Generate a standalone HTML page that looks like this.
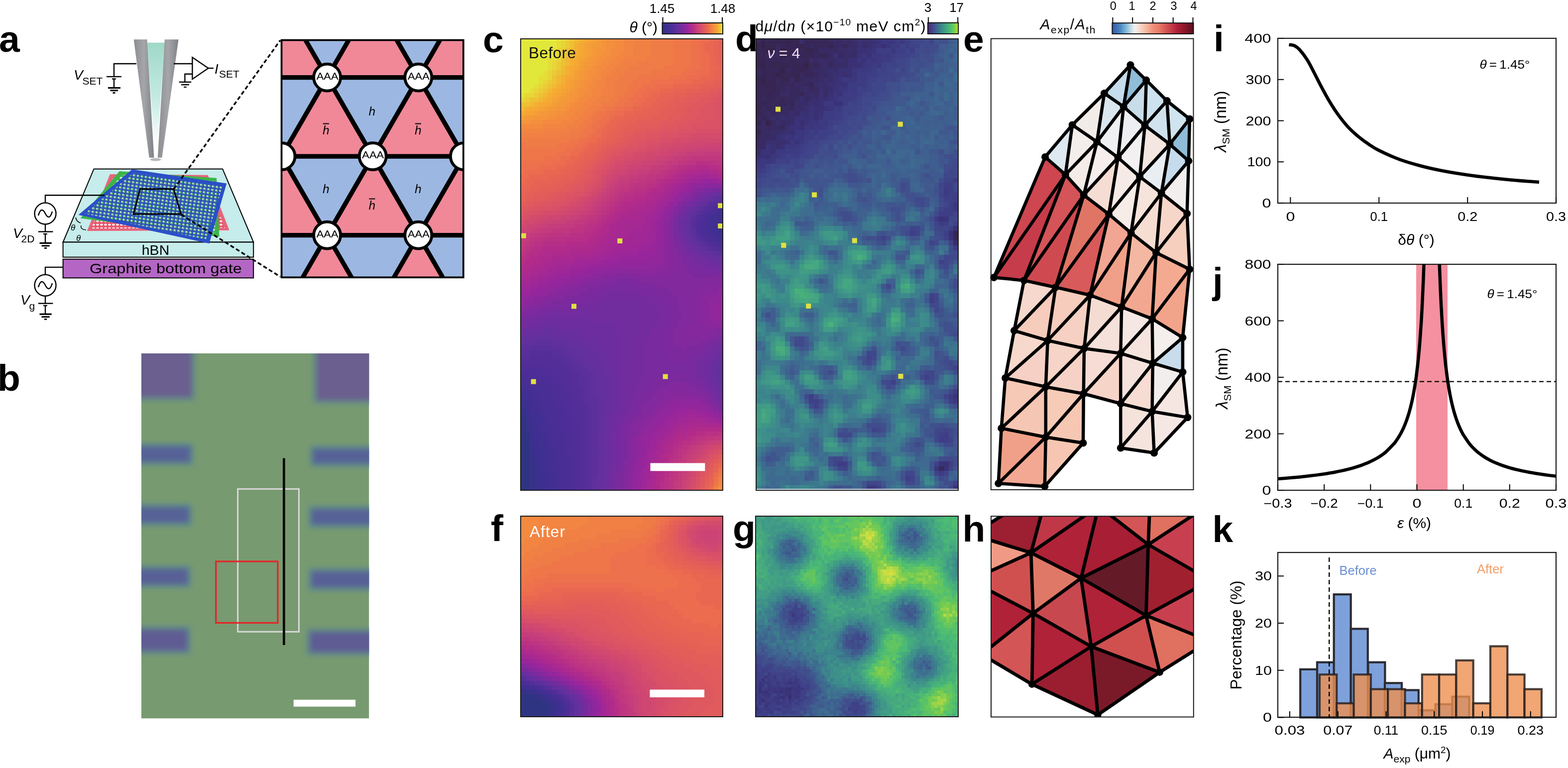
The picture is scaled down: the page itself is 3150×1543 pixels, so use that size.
<!DOCTYPE html>
<html><head><meta charset="utf-8"><title>Figure</title>
<style>html,body{margin:0;padding:0;background:#fff;overflow:hidden}svg{display:block}text{font-family:'Liberation Sans', 'DejaVu Sans', sans-serif}</style>
</head><body>
<svg width="3150" height="1543" viewBox="0 0 3150 1543">
<rect width="3150" height="1543" fill="#fff"/>
<text x="-2" y="104" font-size="75" font-weight="bold">a</text>
<text x="-5" y="785" font-size="75" font-weight="bold">b</text>
<text x="970" y="105" font-size="75" font-weight="bold">c</text>
<text x="1477" y="103.4" font-size="75" font-weight="bold">d</text>
<text x="1935" y="103.8" font-size="75" font-weight="bold">e</text>
<text x="986" y="1087.3" font-size="75" font-weight="bold">f</text>
<text x="1472" y="1086.5" font-size="75" font-weight="bold">g</text>
<text x="1933.5" y="1087.5" font-size="75" font-weight="bold">h</text>
<text x="2438" y="103" font-size="75" font-weight="bold">i</text>
<text x="2436" y="590" font-size="75" font-weight="bold">j</text>
<text x="2435.5" y="1089" font-size="75" font-weight="bold">k</text>
<clipPath id="cpa"><rect x="565.6" y="80.6" width="365.3" height="476.7"/></clipPath>
<g clip-path="url(#cpa)">
<polygon points="107.6,-161.4 16,-2.9 199.2,-2.9" fill="#f08898"/>
<polygon points="107.6,-161.4 290.8,-161.4 199.2,-2.9" fill="#9cb8e2"/>
<polygon points="290.8,-161.4 199.2,-2.9 382.4,-2.9" fill="#f08898"/>
<polygon points="290.8,-161.4 474,-161.4 382.4,-2.9" fill="#9cb8e2"/>
<polygon points="474,-161.4 382.4,-2.9 565.6,-2.9" fill="#f08898"/>
<polygon points="474,-161.4 657.2,-161.4 565.6,-2.9" fill="#9cb8e2"/>
<polygon points="657.2,-161.4 565.6,-2.9 748.8,-2.9" fill="#f08898"/>
<polygon points="657.2,-161.4 840.4,-161.4 748.8,-2.9" fill="#9cb8e2"/>
<polygon points="840.4,-161.4 748.8,-2.9 932,-2.9" fill="#f08898"/>
<polygon points="840.4,-161.4 1023.6,-161.4 932,-2.9" fill="#9cb8e2"/>
<polygon points="1023.6,-161.4 932,-2.9 1115.2,-2.9" fill="#f08898"/>
<polygon points="1023.6,-161.4 1206.8,-161.4 1115.2,-2.9" fill="#9cb8e2"/>
<polygon points="1206.8,-161.4 1115.2,-2.9 1298.4,-2.9" fill="#f08898"/>
<polygon points="1206.8,-161.4 1390,-161.4 1298.4,-2.9" fill="#9cb8e2"/>
<polygon points="1390,-161.4 1298.4,-2.9 1481.6,-2.9" fill="#f08898"/>
<polygon points="1390,-161.4 1573.2,-161.4 1481.6,-2.9" fill="#9cb8e2"/>
<polygon points="16,-2.9 -75.6,155.6 107.6,155.6" fill="#f08898"/>
<polygon points="16,-2.9 199.2,-2.9 107.6,155.6" fill="#9cb8e2"/>
<polygon points="199.2,-2.9 107.6,155.6 290.8,155.6" fill="#f08898"/>
<polygon points="199.2,-2.9 382.4,-2.9 290.8,155.6" fill="#9cb8e2"/>
<polygon points="382.4,-2.9 290.8,155.6 474,155.6" fill="#f08898"/>
<polygon points="382.4,-2.9 565.6,-2.9 474,155.6" fill="#9cb8e2"/>
<polygon points="565.6,-2.9 474,155.6 657.2,155.6" fill="#f08898"/>
<polygon points="565.6,-2.9 748.8,-2.9 657.2,155.6" fill="#9cb8e2"/>
<polygon points="748.8,-2.9 657.2,155.6 840.4,155.6" fill="#f08898"/>
<polygon points="748.8,-2.9 932,-2.9 840.4,155.6" fill="#9cb8e2"/>
<polygon points="932,-2.9 840.4,155.6 1023.6,155.6" fill="#f08898"/>
<polygon points="932,-2.9 1115.2,-2.9 1023.6,155.6" fill="#9cb8e2"/>
<polygon points="1115.2,-2.9 1023.6,155.6 1206.8,155.6" fill="#f08898"/>
<polygon points="1115.2,-2.9 1298.4,-2.9 1206.8,155.6" fill="#9cb8e2"/>
<polygon points="1298.4,-2.9 1206.8,155.6 1390,155.6" fill="#f08898"/>
<polygon points="1298.4,-2.9 1481.6,-2.9 1390,155.6" fill="#9cb8e2"/>
<polygon points="107.6,155.6 16,314.1 199.2,314.1" fill="#f08898"/>
<polygon points="107.6,155.6 290.8,155.6 199.2,314.1" fill="#9cb8e2"/>
<polygon points="290.8,155.6 199.2,314.1 382.4,314.1" fill="#f08898"/>
<polygon points="290.8,155.6 474,155.6 382.4,314.1" fill="#9cb8e2"/>
<polygon points="474,155.6 382.4,314.1 565.6,314.1" fill="#f08898"/>
<polygon points="474,155.6 657.2,155.6 565.6,314.1" fill="#9cb8e2"/>
<polygon points="657.2,155.6 565.6,314.1 748.8,314.1" fill="#f08898"/>
<polygon points="657.2,155.6 840.4,155.6 748.8,314.1" fill="#9cb8e2"/>
<polygon points="840.4,155.6 748.8,314.1 932,314.1" fill="#f08898"/>
<polygon points="840.4,155.6 1023.6,155.6 932,314.1" fill="#9cb8e2"/>
<polygon points="1023.6,155.6 932,314.1 1115.2,314.1" fill="#f08898"/>
<polygon points="1023.6,155.6 1206.8,155.6 1115.2,314.1" fill="#9cb8e2"/>
<polygon points="1206.8,155.6 1115.2,314.1 1298.4,314.1" fill="#f08898"/>
<polygon points="1206.8,155.6 1390,155.6 1298.4,314.1" fill="#9cb8e2"/>
<polygon points="1390,155.6 1298.4,314.1 1481.6,314.1" fill="#f08898"/>
<polygon points="1390,155.6 1573.2,155.6 1481.6,314.1" fill="#9cb8e2"/>
<polygon points="16,314.1 -75.6,472.6 107.6,472.6" fill="#f08898"/>
<polygon points="16,314.1 199.2,314.1 107.6,472.6" fill="#9cb8e2"/>
<polygon points="199.2,314.1 107.6,472.6 290.8,472.6" fill="#f08898"/>
<polygon points="199.2,314.1 382.4,314.1 290.8,472.6" fill="#9cb8e2"/>
<polygon points="382.4,314.1 290.8,472.6 474,472.6" fill="#f08898"/>
<polygon points="382.4,314.1 565.6,314.1 474,472.6" fill="#9cb8e2"/>
<polygon points="565.6,314.1 474,472.6 657.2,472.6" fill="#f08898"/>
<polygon points="565.6,314.1 748.8,314.1 657.2,472.6" fill="#9cb8e2"/>
<polygon points="748.8,314.1 657.2,472.6 840.4,472.6" fill="#f08898"/>
<polygon points="748.8,314.1 932,314.1 840.4,472.6" fill="#9cb8e2"/>
<polygon points="932,314.1 840.4,472.6 1023.6,472.6" fill="#f08898"/>
<polygon points="932,314.1 1115.2,314.1 1023.6,472.6" fill="#9cb8e2"/>
<polygon points="1115.2,314.1 1023.6,472.6 1206.8,472.6" fill="#f08898"/>
<polygon points="1115.2,314.1 1298.4,314.1 1206.8,472.6" fill="#9cb8e2"/>
<polygon points="1298.4,314.1 1206.8,472.6 1390,472.6" fill="#f08898"/>
<polygon points="1298.4,314.1 1481.6,314.1 1390,472.6" fill="#9cb8e2"/>
<polygon points="107.6,472.6 16,631.1 199.2,631.1" fill="#f08898"/>
<polygon points="107.6,472.6 290.8,472.6 199.2,631.1" fill="#9cb8e2"/>
<polygon points="290.8,472.6 199.2,631.1 382.4,631.1" fill="#f08898"/>
<polygon points="290.8,472.6 474,472.6 382.4,631.1" fill="#9cb8e2"/>
<polygon points="474,472.6 382.4,631.1 565.6,631.1" fill="#f08898"/>
<polygon points="474,472.6 657.2,472.6 565.6,631.1" fill="#9cb8e2"/>
<polygon points="657.2,472.6 565.6,631.1 748.8,631.1" fill="#f08898"/>
<polygon points="657.2,472.6 840.4,472.6 748.8,631.1" fill="#9cb8e2"/>
<polygon points="840.4,472.6 748.8,631.1 932,631.1" fill="#f08898"/>
<polygon points="840.4,472.6 1023.6,472.6 932,631.1" fill="#9cb8e2"/>
<polygon points="1023.6,472.6 932,631.1 1115.2,631.1" fill="#f08898"/>
<polygon points="1023.6,472.6 1206.8,472.6 1115.2,631.1" fill="#9cb8e2"/>
<polygon points="1206.8,472.6 1115.2,631.1 1298.4,631.1" fill="#f08898"/>
<polygon points="1206.8,472.6 1390,472.6 1298.4,631.1" fill="#9cb8e2"/>
<polygon points="1390,472.6 1298.4,631.1 1481.6,631.1" fill="#f08898"/>
<polygon points="1390,472.6 1573.2,472.6 1481.6,631.1" fill="#9cb8e2"/>
<line x1="555.6" y1="-161.4" x2="940.9" y2="-161.4" stroke="#000" stroke-width="9.2" />
<line x1="555.6" y1="-2.9" x2="940.9" y2="-2.9" stroke="#000" stroke-width="9.2" />
<line x1="555.6" y1="155.6" x2="940.9" y2="155.6" stroke="#000" stroke-width="9.2" />
<line x1="555.6" y1="314.1" x2="940.9" y2="314.1" stroke="#000" stroke-width="9.2" />
<line x1="555.6" y1="472.6" x2="940.9" y2="472.6" stroke="#000" stroke-width="9.2" />
<line x1="555.6" y1="631.1" x2="940.9" y2="631.1" stroke="#000" stroke-width="9.2" />
<line x1="-942" y1="-709.6" x2="58" y2="1020.8" stroke="#000" stroke-width="9.2" />
<line x1="58" y1="-709.6" x2="-942" y2="1020.8" stroke="#000" stroke-width="9.2" />
<line x1="-758.8" y1="-709.6" x2="241.2" y2="1020.8" stroke="#000" stroke-width="9.2" />
<line x1="241.2" y1="-709.6" x2="-758.8" y2="1020.8" stroke="#000" stroke-width="9.2" />
<line x1="-575.6" y1="-709.6" x2="424.4" y2="1020.8" stroke="#000" stroke-width="9.2" />
<line x1="424.4" y1="-709.6" x2="-575.6" y2="1020.8" stroke="#000" stroke-width="9.2" />
<line x1="-392.4" y1="-709.6" x2="607.6" y2="1020.8" stroke="#000" stroke-width="9.2" />
<line x1="607.6" y1="-709.6" x2="-392.4" y2="1020.8" stroke="#000" stroke-width="9.2" />
<line x1="-209.2" y1="-709.6" x2="790.8" y2="1020.8" stroke="#000" stroke-width="9.2" />
<line x1="790.8" y1="-709.6" x2="-209.2" y2="1020.8" stroke="#000" stroke-width="9.2" />
<line x1="-26" y1="-709.6" x2="974" y2="1020.8" stroke="#000" stroke-width="9.2" />
<line x1="974" y1="-709.6" x2="-26" y2="1020.8" stroke="#000" stroke-width="9.2" />
<line x1="157.2" y1="-709.6" x2="1157.2" y2="1020.8" stroke="#000" stroke-width="9.2" />
<line x1="1157.2" y1="-709.6" x2="157.2" y2="1020.8" stroke="#000" stroke-width="9.2" />
<line x1="340.4" y1="-709.6" x2="1340.4" y2="1020.8" stroke="#000" stroke-width="9.2" />
<line x1="1340.4" y1="-709.6" x2="340.4" y2="1020.8" stroke="#000" stroke-width="9.2" />
<line x1="523.6" y1="-709.6" x2="1523.6" y2="1020.8" stroke="#000" stroke-width="9.2" />
<line x1="1523.6" y1="-709.6" x2="523.6" y2="1020.8" stroke="#000" stroke-width="9.2" />
<line x1="706.8" y1="-709.6" x2="1706.8" y2="1020.8" stroke="#000" stroke-width="9.2" />
<line x1="1706.8" y1="-709.6" x2="706.8" y2="1020.8" stroke="#000" stroke-width="9.2" />
<line x1="890" y1="-709.6" x2="1890" y2="1020.8" stroke="#000" stroke-width="9.2" />
<line x1="1890" y1="-709.6" x2="890" y2="1020.8" stroke="#000" stroke-width="9.2" />
<line x1="1073.2" y1="-709.6" x2="2073.2" y2="1020.8" stroke="#000" stroke-width="9.2" />
<line x1="2073.2" y1="-709.6" x2="1073.2" y2="1020.8" stroke="#000" stroke-width="9.2" />
<line x1="1256.4" y1="-709.6" x2="2256.4" y2="1020.8" stroke="#000" stroke-width="9.2" />
<line x1="2256.4" y1="-709.6" x2="1256.4" y2="1020.8" stroke="#000" stroke-width="9.2" />
<line x1="1439.6" y1="-709.6" x2="2439.6" y2="1020.8" stroke="#000" stroke-width="9.2" />
<line x1="2439.6" y1="-709.6" x2="1439.6" y2="1020.8" stroke="#000" stroke-width="9.2" />
<circle cx="199.2" cy="-2.9" r="27" fill="#fff" stroke="#000" stroke-width="5.8"/>
<circle cx="382.4" cy="-2.9" r="27" fill="#fff" stroke="#000" stroke-width="5.8"/>
<circle cx="565.6" cy="-2.9" r="27" fill="#fff" stroke="#000" stroke-width="5.8"/>
<circle cx="748.8" cy="-2.9" r="27" fill="#fff" stroke="#000" stroke-width="5.8"/>
<circle cx="932" cy="-2.9" r="27" fill="#fff" stroke="#000" stroke-width="5.8"/>
<circle cx="1115.2" cy="-2.9" r="27" fill="#fff" stroke="#000" stroke-width="5.8"/>
<circle cx="290.8" cy="155.6" r="27" fill="#fff" stroke="#000" stroke-width="5.8"/>
<circle cx="474" cy="155.6" r="27" fill="#fff" stroke="#000" stroke-width="5.8"/>
<circle cx="657.2" cy="155.6" r="27" fill="#fff" stroke="#000" stroke-width="5.8"/>
<text x="657.7" y="159.8" font-size="21" text-anchor="middle" textLength="44" lengthAdjust="spacingAndGlyphs">AAA</text>
<circle cx="840.4" cy="155.6" r="27" fill="#fff" stroke="#000" stroke-width="5.8"/>
<text x="840.9" y="159.8" font-size="21" text-anchor="middle" textLength="44" lengthAdjust="spacingAndGlyphs">AAA</text>
<circle cx="1023.6" cy="155.6" r="27" fill="#fff" stroke="#000" stroke-width="5.8"/>
<circle cx="1206.8" cy="155.6" r="27" fill="#fff" stroke="#000" stroke-width="5.8"/>
<circle cx="199.2" cy="314.1" r="27" fill="#fff" stroke="#000" stroke-width="5.8"/>
<circle cx="382.4" cy="314.1" r="27" fill="#fff" stroke="#000" stroke-width="5.8"/>
<circle cx="565.6" cy="314.1" r="27" fill="#fff" stroke="#000" stroke-width="5.8"/>
<circle cx="748.8" cy="314.1" r="27" fill="#fff" stroke="#000" stroke-width="5.8"/>
<text x="749.3" y="318.3" font-size="21" text-anchor="middle" textLength="44" lengthAdjust="spacingAndGlyphs">AAA</text>
<circle cx="932" cy="314.1" r="27" fill="#fff" stroke="#000" stroke-width="5.8"/>
<circle cx="1115.2" cy="314.1" r="27" fill="#fff" stroke="#000" stroke-width="5.8"/>
<circle cx="290.8" cy="472.6" r="27" fill="#fff" stroke="#000" stroke-width="5.8"/>
<circle cx="474" cy="472.6" r="27" fill="#fff" stroke="#000" stroke-width="5.8"/>
<circle cx="657.2" cy="472.6" r="27" fill="#fff" stroke="#000" stroke-width="5.8"/>
<text x="657.7" y="476.8" font-size="21" text-anchor="middle" textLength="44" lengthAdjust="spacingAndGlyphs">AAA</text>
<circle cx="840.4" cy="472.6" r="27" fill="#fff" stroke="#000" stroke-width="5.8"/>
<text x="840.9" y="476.8" font-size="21" text-anchor="middle" textLength="44" lengthAdjust="spacingAndGlyphs">AAA</text>
<circle cx="1023.6" cy="472.6" r="27" fill="#fff" stroke="#000" stroke-width="5.8"/>
<circle cx="1206.8" cy="472.6" r="27" fill="#fff" stroke="#000" stroke-width="5.8"/>
<text x="747.5" y="232" font-size="24" text-anchor="middle" font-style="italic">h</text>
<text x="655" y="270" font-size="24" text-anchor="middle" font-style="italic">h</text>
<line x1="649" y1="248.5" x2="661" y2="248.5" stroke="#000" stroke-width="2.2" />
<text x="840" y="270" font-size="24" text-anchor="middle" font-style="italic">h</text>
<line x1="834" y1="248.5" x2="846" y2="248.5" stroke="#000" stroke-width="2.2" />
<text x="655" y="387.5" font-size="24" text-anchor="middle" font-style="italic">h</text>
<text x="840" y="387.5" font-size="24" text-anchor="middle" font-style="italic">h</text>
<text x="747.5" y="421" font-size="24" text-anchor="middle" font-style="italic">h</text>
<line x1="741.5" y1="399.5" x2="753.5" y2="399.5" stroke="#000" stroke-width="2.2" />
</g>
<rect x="565.6" y="80.6" width="365.3" height="476.7" fill="none" stroke="#000" stroke-width="3.7"/>
<linearGradient id="tipg" x1="0" y1="0" x2="1" y2="0">
<stop offset="0" stop-color="#8d8e92"/><stop offset="0.5" stop-color="#a5a6aa"/><stop offset="1" stop-color="#7e8085"/></linearGradient>
<linearGradient id="tipc" x1="0" y1="0" x2="0" y2="1">
<stop offset="0" stop-color="#9fd9c8"/><stop offset="0.55" stop-color="#c5ebe2"/><stop offset="1" stop-color="#ffffff"/></linearGradient>
<polygon points="295.5,85.7 330.8,85.7 316,290 310,290" fill="url(#tipc)"/>
<polygon points="268.7,79.3 295.5,79.3 309.4,316.8 299.7,316.8" fill="url(#tipg)"/>
<polygon points="330.8,79.3 358.6,79.3 325.4,316.8 316.9,316.8" fill="url(#tipg)"/>
<ellipse cx="312.6" cy="320.6" rx="11" ry="3" fill="#b8b9bc"/>
<polyline points="274,128 229,128 229,154" fill="none" stroke="#000" stroke-width="2.4" />
<line x1="214" y1="154" x2="244" y2="154" stroke="#000" stroke-width="2.4" />
<line x1="225" y1="158.5" x2="233" y2="158.5" stroke="#000" stroke-width="2.4" />
<line x1="229" y1="158.5" x2="229" y2="176.6" stroke="#000" stroke-width="2.4" />
<line x1="217" y1="176.6" x2="242" y2="176.6" stroke="#000" stroke-width="3.2" />
<line x1="221.5" y1="181.8" x2="237" y2="181.8" stroke="#000" stroke-width="3" />
<line x1="226.5" y1="186.6" x2="231.5" y2="186.6" stroke="#000" stroke-width="3" />
<text x="148" y="159.5" font-size="28" font-style="italic">V</text>
<text x="165.5" y="169.8" font-size="21">SET</text>
<line x1="349" y1="128" x2="386.4" y2="128" stroke="#000" stroke-width="2.4" />
<polygon points="386.4,115.2 386.4,158.9 418.5,137" fill="none" stroke="#000" stroke-width="2.4"/>
<line x1="418.5" y1="137" x2="429" y2="137" stroke="#000" stroke-width="2.4" />
<polyline points="386.4,148.8 371.4,148.8 371.4,164.9" fill="none" stroke="#000" stroke-width="2.4" />
<line x1="359.7" y1="164.9" x2="384.3" y2="164.9" stroke="#000" stroke-width="2.4" />
<line x1="364" y1="170.2" x2="380" y2="170.2" stroke="#000" stroke-width="2.4" />
<line x1="369.3" y1="175" x2="374.6" y2="175" stroke="#000" stroke-width="2.4" />
<text x="431" y="147.7" font-size="28" font-style="italic">I</text>
<text x="440" y="156.3" font-size="21">SET</text>
<polygon points="188.6,339.4 447.2,339.4 509.2,486.5 126.6,486.5" fill="#c6eceb" stroke="#000" stroke-width="2"/>
<rect x="126.6" y="486.5" width="382.6" height="30.2" fill="#c6eceb" stroke="#000" stroke-width="2"/>
<text x="312.5" y="512.3" font-size="28.5" text-anchor="middle">hBN</text>
<rect x="126.6" y="520.7" width="382.6" height="37.7" fill="#b466c4" stroke="#000" stroke-width="2"/>
<text x="180" y="549" font-size="27.3" textLength="306" lengthAdjust="spacingAndGlyphs">Graphite bottom gate</text>
<polygon points="221,350 417.6,351.8 460.7,462.8 175,464" fill="#e8647a"/>
<pattern id="holesR" patternUnits="userSpaceOnUse" width="8" height="7"><rect width="8" height="7" fill="#e8546a"/><ellipse cx="4" cy="3.5" rx="2.8" ry="1.9" fill="#fbeef0"/></pattern>
<pattern id="holesG" patternUnits="userSpaceOnUse" width="8" height="7" patternTransform="rotate(4)"><rect width="8" height="7" fill="#3cb44a"/><ellipse cx="4" cy="3.5" rx="2.8" ry="1.9" fill="#f2f8f0"/></pattern>
<polygon points="228,356 412,358 452,458 183,459" fill="url(#holesR)"/>
<polygon points="239.8,344 435,357.7 440.5,475.7 161.6,438.5" fill="#3cb44a"/>
<polygon points="246,351 429,364 434,468 171,435" fill="url(#holesG)"/>
<pattern id="holes" patternUnits="userSpaceOnUse" width="8" height="7" patternTransform="rotate(8)">
<rect width="8" height="7" fill="#2f4fc0"/><ellipse cx="4" cy="3.5" rx="2.8" ry="2.3" fill="#5fbf6a"/><ellipse cx="3" cy="3" rx="1.4" ry="1.2" fill="#f4f4f4"/></pattern>
<polygon points="265.4,340.2 455.3,368.5 420.3,489.2 157.6,431.8" fill="#2a4fc8"/>
<polygon points="268,347 447,373.5 414,481 170,429" fill="url(#holes)"/>
<polygon points="281.5,379.8 348.9,379.8 363.7,429.9 268,429.9" fill="none" stroke="#000" stroke-width="3"/>
<text x="142" y="463" font-size="17" font-style="italic">θ</text>
<text x="153" y="484" font-size="17" font-style="italic">θ</text>
<path d="M152,437 q2,9 10,11" fill="none" stroke="#000" stroke-width="1.6"/>
<path d="M163,453 q-2,8 10,9" fill="none" stroke="#000" stroke-width="1.6"/>
<polyline points="210,392.2 91,392.2 91,407.6" fill="none" stroke="#000" stroke-width="2.4" />
<circle cx="91" cy="429" r="21.5" fill="#fff" stroke="#000" stroke-width="2.4"/>
<path d="M77,433 c4,-14 9,-14 14,-4 s10,10 14,-4" fill="none" stroke="#000" stroke-width="2.4"/>
<line x1="91" y1="450.5" x2="91" y2="465.5" stroke="#000" stroke-width="2.4" />
<line x1="76.8" y1="465.5" x2="106.4" y2="465.5" stroke="#000" stroke-width="2.4" />
<line x1="87" y1="470" x2="95" y2="470" stroke="#000" stroke-width="2.4" />
<line x1="91" y1="470" x2="91" y2="488.4" stroke="#000" stroke-width="2.4" />
<line x1="79.5" y1="488.4" x2="103.7" y2="488.4" stroke="#000" stroke-width="3.2" />
<line x1="83.5" y1="493.8" x2="99.7" y2="493.8" stroke="#000" stroke-width="3" />
<line x1="89" y1="498.4" x2="94" y2="498.4" stroke="#000" stroke-width="3" />
<text x="26" y="477.6" font-size="28" font-style="italic">V</text>
<text x="42.5" y="487.3" font-size="21">2D</text>
<polyline points="126,536.9 91,536.9 91,551.7" fill="none" stroke="#000" stroke-width="2.4" />
<circle cx="91" cy="573.2" r="21.5" fill="#fff" stroke="#000" stroke-width="2.4"/>
<path d="M77,577 c4,-14 9,-14 14,-4 s10,10 14,-4" fill="none" stroke="#000" stroke-width="2.4"/>
<line x1="91" y1="594.8" x2="91" y2="609.6" stroke="#000" stroke-width="2.4" />
<line x1="76.8" y1="609.6" x2="106.4" y2="609.6" stroke="#000" stroke-width="2.4" />
<line x1="87" y1="614" x2="95" y2="614" stroke="#000" stroke-width="2.4" />
<line x1="91" y1="614" x2="91" y2="631.2" stroke="#000" stroke-width="2.4" />
<line x1="79.5" y1="631.2" x2="103.7" y2="631.2" stroke="#000" stroke-width="3.2" />
<line x1="83.5" y1="636.6" x2="99.7" y2="636.6" stroke="#000" stroke-width="3" />
<line x1="89" y1="641.4" x2="94" y2="641.4" stroke="#000" stroke-width="3" />
<text x="41" y="612.3" font-size="28" font-style="italic">V</text>
<text x="58.5" y="622" font-size="21">g</text>
<line x1="349" y1="380" x2="563" y2="81" stroke="#000" stroke-width="3.4" stroke-dasharray="8,5"/>
<line x1="364" y1="431" x2="563" y2="556" stroke="#000" stroke-width="3.4" stroke-dasharray="8,5"/>
<clipPath id="cpb"><rect x="284" y="710" width="457.5" height="733.5"/></clipPath>
<filter id="bl6" x="-20%" y="-20%" width="140%" height="140%"><feGaussianBlur stdDeviation="6"/></filter>
<g clip-path="url(#cpb)">
<rect x="284" y="710" width="457.5" height="733.5" fill="#789a70"/>
<g filter="url(#bl6)">
<rect x="264" y="684" width="128" height="121" fill="#5e8e88"/>
<rect x="270" y="690" width="116" height="109" fill="#6a5e8e"/>
<rect x="264" y="890" width="125" height="45" fill="#5e8e88"/>
<rect x="270" y="896" width="113" height="33" fill="#566296"/>
<rect x="264" y="1012" width="122" height="45" fill="#5e8e88"/>
<rect x="270" y="1018" width="110" height="33" fill="#566296"/>
<rect x="264" y="1136" width="120" height="45" fill="#5e8e88"/>
<rect x="270" y="1142" width="108" height="33" fill="#586096"/>
<rect x="264" y="1258" width="119" height="56" fill="#5e8e88"/>
<rect x="270" y="1264" width="107" height="44" fill="#5e5c94"/>
<rect x="629" y="684" width="137" height="127" fill="#5e8e88"/>
<rect x="635" y="690" width="125" height="115" fill="#6a5e8e"/>
<rect x="622" y="895" width="144" height="43" fill="#5e8e88"/>
<rect x="628" y="901" width="132" height="31" fill="#566296"/>
<rect x="619" y="1016" width="147" height="45" fill="#5e8e88"/>
<rect x="625" y="1022" width="135" height="33" fill="#566296"/>
<rect x="619" y="1141" width="147" height="46" fill="#5e8e88"/>
<rect x="625" y="1147" width="135" height="34" fill="#586096"/>
<rect x="616" y="1263" width="150" height="54" fill="#5e8e88"/>
<rect x="622" y="1269" width="138" height="42" fill="#5e5c94"/>
</g>
</g>
<rect x="477.7" y="982.4" width="122.8" height="286.9" fill="none" stroke="#d8d8d8" stroke-width="3"/>
<rect x="433.8" y="1128" width="124.2" height="123.4" fill="none" stroke="#e02828" stroke-width="3.3"/>
<rect x="568" y="920.5" width="4.8" height="375.5" fill="#0a0a0a"/>
<rect x="589.8" y="1405.8" width="124.4" height="13.9" fill="#ffffff"/>
<g transform="translate(1046 78) scale(9.0222 9.07)" shape-rendering="crispEdges">
<path fill="#2f3482" d="M0 85h1v1h-1zM0 86h1v1h-1zM0 87h1v1h-1zM0 88h1v1h-1zM0 89h1v1h-1zM0 90h2v1h-2zM0 91h2v1h-2zM0 92h2v1h-2zM0 93h2v1h-2zM0 94h2v1h-2zM0 95h2v1h-2zM0 96h2v1h-2zM0 97h2v1h-2zM0 98h2v1h-2zM0 99h2v1h-2z"/>
<path fill="#313384" d="M0 84h1v1h-1zM1 88h1v1h-1zM1 89h1v1h-1z"/>
<path fill="#333286" d="M0 83h1v1h-1zM1 87h1v1h-1z"/>
<path fill="#363289" d="M0 82h1v1h-1zM1 85h1v1h-1zM1 86h1v1h-1zM2 94h1v1h-1zM2 95h1v1h-1zM2 96h1v1h-1zM2 97h1v1h-1zM2 98h1v1h-1zM2 99h1v1h-1z"/>
<path fill="#38318b" d="M1 84h1v1h-1zM2 90h1v1h-1zM2 91h1v1h-1zM2 92h1v1h-1zM2 93h1v1h-1z"/>
<path fill="#3a308d" d="M0 81h1v1h-1zM1 83h1v1h-1zM2 87h1v1h-1zM2 88h1v1h-1zM2 89h1v1h-1zM3 93h1v1h-1zM3 94h1v1h-1zM3 95h1v1h-1zM3 96h1v1h-1zM3 97h1v1h-1zM3 98h1v1h-1zM3 99h1v1h-1z"/>
<path fill="#3c2f8f" d="M44 40h1v1h-1zM44 41h1v1h-1zM44 42h1v1h-1zM0 80h1v1h-1zM1 81h1v1h-1zM1 82h1v1h-1zM2 85h1v1h-1zM2 86h1v1h-1zM3 89h1v1h-1zM3 90h1v1h-1zM3 91h1v1h-1zM3 92h1v1h-1zM4 95h1v1h-1zM4 96h1v1h-1zM4 97h1v1h-1zM4 98h1v1h-1zM4 99h1v1h-1z"/>
<path fill="#3f2f91" d="M44 39h1v1h-1zM43 40h1v1h-1zM43 41h1v1h-1zM43 42h1v1h-1zM44 43h1v1h-1zM0 79h1v1h-1zM1 80h1v1h-1zM2 83h1v1h-1zM2 84h1v1h-1zM3 86h1v1h-1zM3 87h1v1h-1zM3 88h1v1h-1zM4 90h1v1h-1zM4 91h1v1h-1zM4 92h1v1h-1zM4 93h1v1h-1zM4 94h1v1h-1zM5 96h1v1h-1zM5 97h1v1h-1zM5 98h1v1h-1zM5 99h1v1h-1z"/>
<path fill="#412f92" d="M44 38h1v1h-1zM43 39h1v1h-1zM42 40h1v1h-1zM42 41h1v1h-1zM43 43h1v1h-1zM0 78h1v1h-1zM1 79h1v1h-1zM2 81h1v1h-1zM2 82h1v1h-1zM3 83h1v1h-1zM3 84h1v1h-1zM3 85h1v1h-1zM4 87h1v1h-1zM4 88h1v1h-1zM4 89h1v1h-1zM5 91h1v1h-1zM5 92h1v1h-1zM5 93h1v1h-1zM5 94h1v1h-1zM5 95h1v1h-1zM6 96h1v1h-1zM6 97h1v1h-1zM6 98h1v1h-1zM6 99h1v1h-1z"/>
<path fill="#432e93" d="M42 39h1v1h-1zM42 42h1v1h-1zM44 44h1v1h-1zM0 77h1v1h-1zM1 78h1v1h-1zM2 79h1v1h-1zM2 80h2v1h-2zM3 81h1v1h-1zM3 82h1v1h-1zM4 83h1v1h-1zM4 84h1v1h-1zM4 85h1v1h-1zM4 86h1v1h-1zM5 87h1v1h-1zM5 88h1v1h-1zM5 89h1v1h-1zM5 90h1v1h-1zM6 91h1v1h-1zM6 92h1v1h-1zM6 93h1v1h-1zM6 94h1v1h-1zM6 95h1v1h-1zM7 96h1v1h-1zM7 97h1v1h-1zM7 98h1v1h-1zM7 99h1v1h-1z"/>
<path fill="#462e94" d="M44 37h1v1h-1zM43 38h1v1h-1zM41 40h1v1h-1zM41 41h1v1h-1zM41 42h1v1h-1zM42 43h1v1h-1zM43 44h1v1h-1zM0 76h1v1h-1zM1 77h2v1h-2zM2 78h2v1h-2zM3 79h1v1h-1zM4 80h1v1h-1zM4 81h1v1h-1zM4 82h1v1h-1zM5 83h1v1h-1zM5 84h1v1h-1zM5 85h1v1h-1zM5 86h2v1h-2zM6 87h1v1h-1zM6 88h1v1h-1zM6 89h1v1h-1zM6 90h2v1h-2zM7 91h1v1h-1zM7 92h1v1h-1zM7 93h1v1h-1zM7 94h1v1h-1zM7 95h2v1h-2zM8 96h1v1h-1zM8 97h1v1h-1zM8 98h1v1h-1zM8 99h1v1h-1z"/>
<path fill="#482e95" d="M42 38h1v1h-1zM41 39h1v1h-1zM41 43h1v1h-1zM42 44h1v1h-1zM44 45h1v1h-1zM0 75h1v1h-1zM1 76h2v1h-2zM3 77h2v1h-2zM4 78h2v1h-2zM4 79h2v1h-2zM5 80h1v1h-1zM5 81h2v1h-2zM5 82h2v1h-2zM6 83h1v1h-1zM6 84h1v1h-1zM6 85h2v1h-2zM7 86h1v1h-1zM7 87h1v1h-1zM7 88h1v1h-1zM7 89h2v1h-2zM8 90h1v1h-1zM8 91h1v1h-1zM8 92h1v1h-1zM8 93h1v1h-1zM8 94h2v1h-2zM9 95h1v1h-1zM9 96h1v1h-1zM9 97h1v1h-1zM9 98h1v1h-1zM9 99h1v1h-1z"/>
<path fill="#4b2d96" d="M43 37h1v1h-1zM40 40h1v1h-1zM40 41h1v1h-1zM40 42h1v1h-1zM43 45h1v1h-1zM0 74h2v1h-2zM1 75h3v1h-3zM3 76h3v1h-3zM5 77h2v1h-2zM6 78h1v1h-1zM6 79h2v1h-2zM6 80h2v1h-2zM7 81h1v1h-1zM7 82h2v1h-2zM7 83h2v1h-2zM7 84h2v1h-2zM8 85h1v1h-1zM8 86h1v1h-1zM8 87h2v1h-2zM8 88h2v1h-2zM9 89h1v1h-1zM9 90h1v1h-1zM9 91h1v1h-1zM9 92h1v1h-1zM9 93h2v1h-2zM10 94h1v1h-1zM10 95h1v1h-1zM10 96h1v1h-1zM10 97h1v1h-1zM10 98h1v1h-1zM10 99h1v1h-1z"/>
<path fill="#4d2d98" d="M44 36h1v1h-1zM41 38h1v1h-1zM40 39h1v1h-1zM40 43h1v1h-1zM41 44h1v1h-1zM0 73h4v1h-4zM2 74h4v1h-4zM4 75h3v1h-3zM6 76h2v1h-2zM7 77h2v1h-2zM7 78h2v1h-2zM8 79h1v1h-1zM8 80h2v1h-2zM8 81h2v1h-2zM9 82h1v1h-1zM9 83h2v1h-2zM9 84h2v1h-2zM9 85h2v1h-2zM9 86h2v1h-2zM10 87h1v1h-1zM10 88h1v1h-1zM10 89h1v1h-1zM10 90h1v1h-1zM10 91h1v1h-1zM10 92h2v1h-2zM11 93h1v1h-1zM11 94h1v1h-1zM11 95h1v1h-1zM11 96h1v1h-1zM11 97h1v1h-1zM11 98h1v1h-1zM11 99h1v1h-1z"/>
<path fill="#502d99" d="M42 37h1v1h-1zM39 40h1v1h-1zM39 41h1v1h-1zM39 42h1v1h-1zM42 45h1v1h-1zM44 46h1v1h-1zM0 72h6v1h-6zM4 73h4v1h-4zM6 74h3v1h-3zM7 75h2v1h-2zM8 76h2v1h-2zM9 77h1v1h-1zM9 78h2v1h-2zM9 79h2v1h-2zM10 80h1v1h-1zM10 81h2v1h-2zM10 82h2v1h-2zM11 83h1v1h-1zM11 84h1v1h-1zM11 85h1v1h-1zM11 86h2v1h-2zM11 87h2v1h-2zM11 88h2v1h-2zM11 89h2v1h-2zM11 90h2v1h-2zM11 91h2v1h-2zM12 92h1v1h-1zM12 93h1v1h-1zM12 94h1v1h-1zM12 95h1v1h-1zM12 96h1v1h-1zM12 97h1v1h-1zM12 98h1v1h-1zM12 99h1v1h-1z"/>
<path fill="#532e99" d="M43 36h1v1h-1zM41 37h1v1h-1zM40 38h1v1h-1zM39 39h1v1h-1zM39 43h1v1h-1zM40 44h1v1h-1zM41 45h1v1h-1zM43 46h1v1h-1zM2 70h4v1h-4zM0 71h8v1h-8zM6 72h3v1h-3zM8 73h2v1h-2zM9 74h2v1h-2zM9 75h2v1h-2zM10 76h2v1h-2zM10 77h2v1h-2zM11 78h1v1h-1zM11 79h2v1h-2zM11 80h2v1h-2zM12 81h1v1h-1zM12 82h2v1h-2zM12 83h2v1h-2zM12 84h2v1h-2zM12 85h2v1h-2zM13 86h1v1h-1zM13 87h1v1h-1zM13 88h1v1h-1zM13 89h1v1h-1zM13 90h1v1h-1zM13 91h1v1h-1zM13 92h1v1h-1zM13 93h1v1h-1zM13 94h1v1h-1zM13 95h1v1h-1zM13 96h1v1h-1zM13 97h1v1h-1zM13 98h1v1h-1zM13 99h1v1h-1z"/>
<path fill="#562e9a" d="M42 36h1v1h-1zM38 40h1v1h-1zM38 41h1v1h-1zM42 46h1v1h-1zM2 69h5v1h-5zM0 70h2v1h-2zM6 70h3v1h-3zM8 71h2v1h-2zM9 72h2v1h-2zM10 73h2v1h-2zM11 74h2v1h-2zM11 75h2v1h-2zM12 76h1v1h-1zM12 77h2v1h-2zM12 78h2v1h-2zM13 79h1v1h-1zM13 80h1v1h-1zM13 81h2v1h-2zM14 82h1v1h-1zM14 83h1v1h-1zM14 84h1v1h-1zM14 85h1v1h-1zM14 86h1v1h-1zM14 87h1v1h-1zM14 88h1v1h-1zM14 89h1v1h-1zM14 90h1v1h-1zM14 91h1v1h-1zM14 92h1v1h-1zM14 93h1v1h-1zM14 94h1v1h-1zM14 95h1v1h-1zM14 96h1v1h-1zM14 97h1v1h-1zM14 98h1v1h-1zM14 99h1v1h-1z"/>
<path fill="#592f9b" d="M44 35h1v1h-1zM40 37h1v1h-1zM39 38h1v1h-1zM38 39h1v1h-1zM38 42h1v1h-1zM39 44h1v1h-1zM40 45h1v1h-1zM44 47h1v1h-1zM2 68h5v1h-5zM0 69h2v1h-2zM7 69h2v1h-2zM9 70h2v1h-2zM10 71h2v1h-2zM11 72h2v1h-2zM12 73h2v1h-2zM13 74h1v1h-1zM13 75h2v1h-2zM13 76h2v1h-2zM14 77h1v1h-1zM14 78h1v1h-1zM14 79h1v1h-1zM14 80h2v1h-2zM15 81h1v1h-1zM15 82h1v1h-1zM15 83h1v1h-1zM15 84h1v1h-1zM15 85h1v1h-1zM15 86h1v1h-1zM15 87h1v1h-1zM15 88h1v1h-1zM15 89h1v1h-1zM15 90h1v1h-1zM15 91h1v1h-1zM15 92h1v1h-1zM15 93h1v1h-1zM15 94h1v1h-1zM15 95h1v1h-1zM15 96h1v1h-1zM15 97h1v1h-1zM15 98h1v1h-1zM15 99h1v1h-1z"/>
<path fill="#5c2f9c" d="M43 35h1v1h-1zM41 36h1v1h-1zM38 43h1v1h-1zM41 46h1v1h-1zM43 47h1v1h-1zM3 67h4v1h-4zM0 68h2v1h-2zM7 68h3v1h-3zM9 69h2v1h-2zM11 70h1v1h-1zM12 71h1v1h-1zM13 72h1v1h-1zM14 73h1v1h-1zM14 74h2v1h-2zM15 75h1v1h-1zM15 76h1v1h-1zM15 77h1v1h-1zM15 78h1v1h-1zM15 79h2v1h-2zM16 80h1v1h-1zM16 81h1v1h-1zM16 82h1v1h-1zM16 83h1v1h-1zM16 84h1v1h-1zM16 85h1v1h-1zM16 86h1v1h-1zM16 87h1v1h-1zM16 88h1v1h-1zM16 89h1v1h-1zM16 90h1v1h-1zM16 91h1v1h-1zM16 92h1v1h-1zM16 93h1v1h-1zM16 94h1v1h-1zM16 95h1v1h-1zM16 96h1v1h-1z"/>
<path fill="#60309d" d="M39 37h1v1h-1zM38 38h1v1h-1zM37 40h1v1h-1zM37 41h1v1h-1zM37 42h1v1h-1zM38 44h1v1h-1zM39 45h1v1h-1zM40 46h1v1h-1zM42 47h1v1h-1zM4 66h3v1h-3zM1 67h2v1h-2zM7 67h3v1h-3zM10 68h2v1h-2zM11 69h2v1h-2zM12 70h2v1h-2zM13 71h2v1h-2zM14 72h2v1h-2zM15 73h1v1h-1zM44 73h1v1h-1zM16 74h1v1h-1zM44 74h1v1h-1zM16 75h1v1h-1zM44 75h1v1h-1zM16 76h1v1h-1zM16 77h1v1h-1zM16 78h1v1h-1zM17 79h1v1h-1zM17 80h1v1h-1zM17 81h1v1h-1zM17 82h1v1h-1zM17 83h1v1h-1zM17 84h1v1h-1zM17 85h1v1h-1zM17 86h1v1h-1zM17 91h1v1h-1zM17 92h1v1h-1zM16 97h1v1h-1zM16 98h1v1h-1zM16 99h1v1h-1z"/>
<path fill="#63309e" d="M42 35h1v1h-1zM40 36h1v1h-1zM37 39h1v1h-1zM37 43h1v1h-1zM38 45h1v1h-1zM41 47h1v1h-1zM43 48h2v1h-2zM5 65h2v1h-2zM1 66h3v1h-3zM7 66h4v1h-4zM0 67h1v1h-1zM10 67h2v1h-2zM12 68h2v1h-2zM13 69h2v1h-2zM14 70h2v1h-2zM15 71h2v1h-2zM44 71h1v1h-1zM16 72h1v1h-1zM44 72h1v1h-1zM16 73h2v1h-2zM17 74h1v1h-1zM17 75h1v1h-1zM17 76h1v1h-1zM44 76h1v1h-1zM17 77h2v1h-2zM17 78h2v1h-2zM18 79h1v1h-1zM18 80h1v1h-1zM18 81h1v1h-1zM18 82h1v1h-1zM18 83h1v1h-1zM18 84h1v1h-1zM17 87h1v1h-1zM17 88h1v1h-1zM17 89h1v1h-1zM17 90h1v1h-1zM17 93h1v1h-1zM17 94h1v1h-1zM17 95h1v1h-1zM17 96h1v1h-1zM17 97h1v1h-1zM17 98h1v1h-1zM17 99h1v1h-1z"/>
<path fill="#662f9e" d="M44 34h1v1h-1zM41 35h1v1h-1zM38 37h1v1h-1zM37 38h1v1h-1zM36 40h1v1h-1zM36 41h1v1h-1zM36 42h1v1h-1zM37 44h1v1h-1zM39 46h1v1h-1zM40 47h1v1h-1zM42 48h1v1h-1zM5 64h3v1h-3zM1 65h4v1h-4zM7 65h5v1h-5zM0 66h1v1h-1zM11 66h2v1h-2zM12 67h3v1h-3zM14 68h2v1h-2zM15 69h2v1h-2zM16 70h2v1h-2zM44 70h1v1h-1zM17 71h1v1h-1zM17 72h2v1h-2zM43 72h1v1h-1zM18 73h1v1h-1zM43 73h1v1h-1zM18 74h1v1h-1zM43 74h1v1h-1zM18 75h2v1h-2zM43 75h1v1h-1zM18 76h2v1h-2zM19 77h1v1h-1zM44 77h1v1h-1zM19 78h1v1h-1zM19 79h1v1h-1zM19 80h1v1h-1zM19 81h1v1h-1zM19 82h1v1h-1zM19 83h1v1h-1zM18 85h1v1h-1zM18 86h1v1h-1zM18 87h1v1h-1zM18 88h1v1h-1zM18 89h1v1h-1zM18 90h1v1h-1zM18 91h1v1h-1zM18 92h1v1h-1zM18 93h1v1h-1zM18 94h1v1h-1zM18 95h1v1h-1zM18 96h1v1h-1zM18 97h1v1h-1zM18 98h1v1h-1zM18 99h1v1h-1z"/>
<path fill="#6a2e9e" d="M43 34h1v1h-1zM39 36h1v1h-1zM36 39h1v1h-1zM36 43h1v1h-1zM37 45h1v1h-1zM38 46h1v1h-1zM39 47h1v1h-1zM41 48h1v1h-1zM43 49h2v1h-2zM5 63h5v1h-5zM2 64h3v1h-3zM8 64h5v1h-5zM0 65h1v1h-1zM12 65h3v1h-3zM13 66h4v1h-4zM15 67h3v1h-3zM16 68h2v1h-2zM17 69h2v1h-2zM44 69h1v1h-1zM18 70h2v1h-2zM18 71h2v1h-2zM43 71h1v1h-1zM19 72h1v1h-1zM42 72h1v1h-1zM19 73h2v1h-2zM42 73h1v1h-1zM19 74h2v1h-2zM42 74h1v1h-1zM20 75h1v1h-1zM20 76h1v1h-1zM43 76h1v1h-1zM20 77h1v1h-1zM20 78h1v1h-1zM44 78h1v1h-1zM20 79h1v1h-1zM20 80h1v1h-1zM20 81h1v1h-1zM20 82h1v1h-1zM19 84h1v1h-1zM19 85h1v1h-1zM19 86h1v1h-1zM19 87h1v1h-1zM19 88h1v1h-1zM19 89h1v1h-1zM19 90h1v1h-1zM19 91h1v1h-1zM19 92h1v1h-1zM19 93h1v1h-1zM19 94h1v1h-1zM19 95h1v1h-1z"/>
<path fill="#6d2d9e" d="M42 34h1v1h-1zM40 35h1v1h-1zM37 37h1v1h-1zM36 38h1v1h-1zM35 40h1v1h-1zM35 41h1v1h-1zM36 44h1v1h-1zM40 48h1v1h-1zM42 49h1v1h-1zM5 62h10v1h-10zM2 63h3v1h-3zM10 63h11v1h-11zM0 64h2v1h-2zM13 64h8v1h-8zM15 65h6v1h-6zM17 66h5v1h-5zM18 67h4v1h-4zM18 68h4v1h-4zM44 68h1v1h-1zM19 69h3v1h-3zM43 69h1v1h-1zM20 70h2v1h-2zM43 70h1v1h-1zM20 71h2v1h-2zM42 71h1v1h-1zM20 72h2v1h-2zM41 72h1v1h-1zM21 73h1v1h-1zM41 73h1v1h-1zM21 74h1v1h-1zM41 74h1v1h-1zM21 75h1v1h-1zM42 75h1v1h-1zM21 76h1v1h-1zM42 76h1v1h-1zM21 77h1v1h-1zM43 77h1v1h-1zM21 78h1v1h-1zM21 79h1v1h-1zM44 79h1v1h-1zM21 80h1v1h-1zM21 81h1v1h-1zM21 82h1v1h-1zM20 83h1v1h-1zM20 84h1v1h-1zM20 85h1v1h-1zM20 86h1v1h-1zM20 90h1v1h-1zM20 91h1v1h-1zM20 92h1v1h-1zM20 93h1v1h-1zM19 96h1v1h-1zM19 97h1v1h-1zM19 98h1v1h-1zM19 99h1v1h-1z"/>
<path fill="#712c9e" d="M41 34h1v1h-1zM38 36h1v1h-1zM35 39h1v1h-1zM35 42h1v1h-1zM35 43h1v1h-1zM36 45h1v1h-1zM37 46h1v1h-1zM38 47h1v1h-1zM39 48h1v1h-1zM40 49h2v1h-2zM43 50h2v1h-2zM19 58h6v1h-6zM17 59h10v1h-10zM13 60h14v1h-14zM6 61h21v1h-21zM3 62h2v1h-2zM15 62h12v1h-12zM1 63h1v1h-1zM21 63h6v1h-6zM21 64h5v1h-5zM21 65h5v1h-5zM22 66h4v1h-4zM22 67h3v1h-3zM44 67h1v1h-1zM22 68h3v1h-3zM43 68h1v1h-1zM22 69h3v1h-3zM42 69h1v1h-1zM22 70h3v1h-3zM41 70h2v1h-2zM22 71h3v1h-3zM41 71h1v1h-1zM22 72h2v1h-2zM40 72h1v1h-1zM22 73h2v1h-2zM40 73h1v1h-1zM22 74h2v1h-2zM40 74h1v1h-1zM22 75h2v1h-2zM41 75h1v1h-1zM22 76h2v1h-2zM22 77h2v1h-2zM42 77h1v1h-1zM22 78h2v1h-2zM43 78h1v1h-1zM22 79h2v1h-2zM22 80h1v1h-1zM22 81h1v1h-1zM22 82h1v1h-1zM21 83h1v1h-1zM21 84h1v1h-1zM21 85h1v1h-1zM20 87h1v1h-1zM20 88h1v1h-1zM20 89h1v1h-1zM20 94h1v1h-1zM20 95h1v1h-1zM20 96h1v1h-1zM20 97h1v1h-1zM20 98h1v1h-1z"/>
<path fill="#742b9e" d="M44 33h1v1h-1zM39 35h1v1h-1zM36 37h1v1h-1zM35 44h1v1h-1zM36 46h1v1h-1zM37 47h1v1h-1zM38 48h1v1h-1zM39 49h1v1h-1zM41 50h2v1h-2zM44 51h1v1h-1zM19 56h7v1h-7zM17 57h11v1h-11zM15 58h4v1h-4zM25 58h4v1h-4zM11 59h6v1h-6zM27 59h3v1h-3zM6 60h7v1h-7zM27 60h4v1h-4zM3 61h3v1h-3zM27 61h4v1h-4zM1 62h2v1h-2zM27 62h4v1h-4zM0 63h1v1h-1zM27 63h3v1h-3zM26 64h3v1h-3zM26 65h3v1h-3zM26 66h2v1h-2zM25 67h3v1h-3zM43 67h1v1h-1zM25 68h3v1h-3zM42 68h1v1h-1zM25 69h3v1h-3zM41 69h1v1h-1zM25 70h3v1h-3zM40 70h1v1h-1zM25 71h3v1h-3zM39 71h2v1h-2zM24 72h4v1h-4zM39 72h1v1h-1zM24 73h4v1h-4zM39 73h1v1h-1zM24 74h3v1h-3zM39 74h1v1h-1zM24 75h3v1h-3zM40 75h1v1h-1zM24 76h2v1h-2zM41 76h1v1h-1zM24 77h2v1h-2zM41 77h1v1h-1zM24 78h1v1h-1zM42 78h1v1h-1zM24 79h1v1h-1zM43 79h1v1h-1zM23 80h2v1h-2zM44 80h1v1h-1zM23 81h1v1h-1zM23 82h1v1h-1zM22 83h1v1h-1zM22 84h1v1h-1zM21 86h1v1h-1zM21 87h1v1h-1zM21 88h1v1h-1zM21 89h1v1h-1zM21 90h1v1h-1zM21 91h1v1h-1zM21 92h1v1h-1zM21 93h1v1h-1zM21 94h1v1h-1zM21 95h1v1h-1zM20 99h1v1h-1z"/>
<path fill="#782a9e" d="M42 33h2v1h-2zM40 34h1v1h-1zM38 35h1v1h-1zM37 36h1v1h-1zM35 38h1v1h-1zM34 39h1v1h-1zM34 40h1v1h-1zM34 41h1v1h-1zM34 42h1v1h-1zM34 43h1v1h-1zM35 45h1v1h-1zM36 47h1v1h-1zM37 48h1v1h-1zM38 49h1v1h-1zM39 50h2v1h-2zM40 51h4v1h-4zM21 54h4v1h-4zM18 55h10v1h-10zM16 56h3v1h-3zM26 56h4v1h-4zM14 57h3v1h-3zM28 57h3v1h-3zM11 58h4v1h-4zM29 58h3v1h-3zM7 59h4v1h-4zM30 59h3v1h-3zM4 60h2v1h-2zM31 60h2v1h-2zM1 61h2v1h-2zM31 61h2v1h-2zM0 62h1v1h-1zM31 62h2v1h-2zM30 63h3v1h-3zM29 64h3v1h-3zM29 65h2v1h-2zM28 66h3v1h-3zM44 66h1v1h-1zM28 67h3v1h-3zM42 67h1v1h-1zM28 68h3v1h-3zM41 68h1v1h-1zM28 69h4v1h-4zM39 69h2v1h-2zM28 70h4v1h-4zM37 70h3v1h-3zM28 71h6v1h-6zM36 71h3v1h-3zM28 72h11v1h-11zM28 73h11v1h-11zM27 74h5v1h-5zM37 74h2v1h-2zM27 75h3v1h-3zM38 75h2v1h-2zM26 76h3v1h-3zM39 76h2v1h-2zM26 77h2v1h-2zM25 78h2v1h-2zM25 79h2v1h-2zM25 80h1v1h-1zM43 80h1v1h-1zM24 81h2v1h-2zM44 81h1v1h-1zM24 82h1v1h-1zM23 83h2v1h-2zM23 84h1v1h-1zM22 85h1v1h-1zM22 86h1v1h-1zM22 87h1v1h-1zM22 88h1v1h-1zM22 89h1v1h-1zM22 90h1v1h-1zM22 91h1v1h-1zM22 92h1v1h-1zM22 93h1v1h-1zM22 94h1v1h-1zM21 96h1v1h-1zM21 97h1v1h-1zM21 98h1v1h-1zM21 99h1v1h-1z"/>
<path fill="#7c299e" d="M41 33h1v1h-1zM39 34h1v1h-1zM36 36h1v1h-1zM35 37h1v1h-1zM34 44h1v1h-1zM34 45h1v1h-1zM35 46h1v1h-1zM35 47h1v1h-1zM36 48h1v1h-1zM36 49h2v1h-2zM37 50h2v1h-2zM37 51h3v1h-3zM38 52h7v1h-7zM21 53h5v1h-5zM18 54h3v1h-3zM25 54h5v1h-5zM15 55h3v1h-3zM28 55h5v1h-5zM13 56h3v1h-3zM30 56h4v1h-4zM10 57h4v1h-4zM31 57h4v1h-4zM7 58h4v1h-4zM32 58h3v1h-3zM4 59h3v1h-3zM33 59h2v1h-2zM2 60h2v1h-2zM33 60h3v1h-3zM0 61h1v1h-1zM33 61h3v1h-3zM33 62h2v1h-2zM33 63h2v1h-2zM32 64h2v1h-2zM31 65h3v1h-3zM44 65h1v1h-1zM31 66h3v1h-3zM42 66h2v1h-2zM31 67h3v1h-3zM40 67h2v1h-2zM31 68h5v1h-5zM37 68h4v1h-4zM32 69h7v1h-7zM32 70h5v1h-5zM34 71h2v1h-2zM32 74h5v1h-5zM30 75h8v1h-8zM29 76h4v1h-4zM37 76h2v1h-2zM28 77h3v1h-3zM39 77h2v1h-2zM27 78h3v1h-3zM41 78h1v1h-1zM27 79h2v1h-2zM42 79h1v1h-1zM26 80h2v1h-2zM26 81h1v1h-1zM25 82h2v1h-2zM25 83h1v1h-1zM24 84h1v1h-1zM23 85h1v1h-1zM23 86h1v1h-1zM23 87h1v1h-1zM23 88h1v1h-1zM23 89h1v1h-1zM23 90h1v1h-1zM23 91h1v1h-1zM23 92h1v1h-1zM22 95h1v1h-1zM22 96h1v1h-1zM22 97h1v1h-1zM22 98h1v1h-1z"/>
<path fill="#81299d" d="M40 33h1v1h-1zM38 34h1v1h-1zM37 35h1v1h-1zM34 38h1v1h-1zM33 40h1v1h-1zM33 41h1v1h-1zM33 42h1v1h-1zM33 43h1v1h-1zM34 46h1v1h-1zM34 47h1v1h-1zM35 48h1v1h-1zM35 49h1v1h-1zM35 50h2v1h-2zM35 51h2v1h-2zM22 52h3v1h-3zM34 52h4v1h-4zM18 53h3v1h-3zM26 53h19v1h-19zM15 54h3v1h-3zM30 54h13v1h-13zM13 55h2v1h-2zM33 55h7v1h-7zM10 56h3v1h-3zM34 56h4v1h-4zM8 57h2v1h-2zM35 57h3v1h-3zM5 58h2v1h-2zM35 58h3v1h-3zM2 59h2v1h-2zM35 59h3v1h-3zM0 60h2v1h-2zM36 60h2v1h-2zM36 61h2v1h-2zM35 62h3v1h-3zM35 63h2v1h-2zM34 64h3v1h-3zM44 64h1v1h-1zM34 65h3v1h-3zM42 65h2v1h-2zM34 66h8v1h-8zM34 67h6v1h-6zM36 68h1v1h-1zM33 76h4v1h-4zM31 77h4v1h-4zM36 77h3v1h-3zM30 78h2v1h-2zM39 78h2v1h-2zM29 79h2v1h-2zM41 79h1v1h-1zM28 80h2v1h-2zM42 80h1v1h-1zM27 81h2v1h-2zM43 81h1v1h-1zM27 82h1v1h-1zM44 82h1v1h-1zM26 83h1v1h-1zM25 84h1v1h-1zM24 85h2v1h-2zM24 86h1v1h-1zM24 87h1v1h-1zM23 93h1v1h-1zM23 94h1v1h-1zM23 95h1v1h-1zM23 96h1v1h-1zM22 99h1v1h-1z"/>
<path fill="#86289d" d="M39 33h1v1h-1zM36 35h1v1h-1zM35 36h1v1h-1zM34 37h1v1h-1zM33 39h1v1h-1zM33 44h1v1h-1zM33 45h1v1h-1zM33 46h1v1h-1zM33 47h1v1h-1zM34 48h1v1h-1zM33 49h2v1h-2zM33 50h2v1h-2zM31 51h4v1h-4zM18 52h4v1h-4zM25 52h9v1h-9zM15 53h3v1h-3zM13 54h2v1h-2zM43 54h2v1h-2zM10 55h3v1h-3zM40 55h4v1h-4zM8 56h2v1h-2zM38 56h4v1h-4zM5 57h3v1h-3zM38 57h2v1h-2zM3 58h2v1h-2zM38 58h2v1h-2zM1 59h1v1h-1zM38 59h2v1h-2zM38 60h2v1h-2zM38 61h2v1h-2zM38 62h2v1h-2zM37 63h4v1h-4zM37 64h7v1h-7zM37 65h5v1h-5zM35 77h1v1h-1zM32 78h7v1h-7zM31 79h2v1h-2zM40 79h1v1h-1zM30 80h2v1h-2zM41 80h1v1h-1zM29 81h2v1h-2zM28 82h2v1h-2zM27 83h2v1h-2zM26 84h2v1h-2zM26 85h1v1h-1zM25 86h1v1h-1zM25 87h1v1h-1zM24 88h1v1h-1zM24 89h1v1h-1zM24 90h1v1h-1zM24 91h1v1h-1zM24 92h1v1h-1zM24 93h1v1h-1zM24 94h1v1h-1zM23 97h1v1h-1zM23 98h1v1h-1zM23 99h1v1h-1z"/>
<path fill="#8b279d" d="M41 32h4v1h-4zM38 33h1v1h-1zM37 34h1v1h-1zM33 38h1v1h-1zM32 40h1v1h-1zM32 41h1v1h-1zM32 42h1v1h-1zM32 43h1v1h-1zM32 44h1v1h-1zM32 45h1v1h-1zM32 46h1v1h-1zM32 47h1v1h-1zM32 48h2v1h-2zM32 49h1v1h-1zM30 50h3v1h-3zM19 51h12v1h-12zM16 52h2v1h-2zM13 53h2v1h-2zM10 54h3v1h-3zM8 55h2v1h-2zM44 55h1v1h-1zM6 56h2v1h-2zM42 56h2v1h-2zM3 57h2v1h-2zM40 57h3v1h-3zM1 58h2v1h-2zM40 58h2v1h-2zM0 59h1v1h-1zM40 59h2v1h-2zM40 60h2v1h-2zM40 61h2v1h-2zM40 62h3v1h-3zM41 63h4v1h-4zM33 79h7v1h-7zM32 80h2v1h-2zM40 80h1v1h-1zM31 81h1v1h-1zM42 81h1v1h-1zM30 82h1v1h-1zM43 82h1v1h-1zM29 83h1v1h-1zM28 84h1v1h-1zM27 85h1v1h-1zM26 86h1v1h-1zM26 87h1v1h-1zM25 88h1v1h-1zM25 89h1v1h-1zM25 90h1v1h-1zM25 91h1v1h-1zM25 92h1v1h-1zM25 93h1v1h-1zM24 95h1v1h-1zM24 96h1v1h-1zM24 97h1v1h-1zM24 98h1v1h-1zM24 99h1v1h-1z"/>
<path fill="#90279d" d="M39 32h2v1h-2zM36 34h1v1h-1zM35 35h1v1h-1zM34 36h1v1h-1zM33 37h1v1h-1zM32 38h1v1h-1zM32 39h1v1h-1zM31 42h1v1h-1zM31 46h1v1h-1zM31 47h1v1h-1zM31 48h1v1h-1zM29 49h3v1h-3zM21 50h9v1h-9zM16 51h3v1h-3zM13 52h3v1h-3zM11 53h2v1h-2zM8 54h2v1h-2zM6 55h2v1h-2zM4 56h2v1h-2zM44 56h1v1h-1zM1 57h2v1h-2zM43 57h2v1h-2zM0 58h1v1h-1zM42 58h2v1h-2zM42 59h1v1h-1zM42 60h1v1h-1zM42 61h2v1h-2zM43 62h2v1h-2zM34 80h6v1h-6zM32 81h2v1h-2zM41 81h1v1h-1zM31 82h2v1h-2zM42 82h1v1h-1zM30 83h2v1h-2zM44 83h1v1h-1zM29 84h2v1h-2zM28 85h2v1h-2zM27 86h2v1h-2zM27 87h1v1h-1zM26 88h1v1h-1zM26 89h1v1h-1zM26 90h1v1h-1zM26 91h1v1h-1zM26 92h1v1h-1zM25 94h1v1h-1zM25 95h1v1h-1zM25 96h1v1h-1zM25 97h1v1h-1z"/>
<path fill="#94269c" d="M38 32h1v1h-1zM37 33h1v1h-1zM35 34h1v1h-1zM34 35h1v1h-1zM33 36h1v1h-1zM32 37h1v1h-1zM31 39h1v1h-1zM31 40h1v1h-1zM31 41h1v1h-1zM31 43h1v1h-1zM31 44h1v1h-1zM31 45h1v1h-1zM30 46h1v1h-1zM30 47h1v1h-1zM28 48h3v1h-3zM22 49h7v1h-7zM17 50h4v1h-4zM14 51h2v1h-2zM11 52h2v1h-2zM8 53h3v1h-3zM6 54h2v1h-2zM4 55h2v1h-2zM2 56h2v1h-2zM0 57h1v1h-1zM44 58h1v1h-1zM43 59h2v1h-2zM43 60h2v1h-2zM44 61h1v1h-1zM34 81h7v1h-7zM33 82h1v1h-1zM41 82h1v1h-1zM32 83h1v1h-1zM43 83h1v1h-1zM31 84h1v1h-1zM30 85h1v1h-1zM29 86h1v1h-1zM28 87h1v1h-1zM27 88h1v1h-1zM27 89h1v1h-1zM27 90h1v1h-1zM27 91h1v1h-1zM26 93h1v1h-1zM26 94h1v1h-1zM26 95h1v1h-1zM25 98h1v1h-1zM25 99h1v1h-1z"/>
<path fill="#99259c" d="M40 31h4v1h-4zM37 32h1v1h-1zM36 33h1v1h-1zM31 38h1v1h-1zM30 40h1v1h-1zM30 41h1v1h-1zM30 42h1v1h-1zM30 43h1v1h-1zM30 44h1v1h-1zM29 45h2v1h-2zM28 46h2v1h-2zM26 47h4v1h-4zM22 48h6v1h-6zM18 49h4v1h-4zM15 50h2v1h-2zM11 51h3v1h-3zM8 52h3v1h-3zM6 53h2v1h-2zM4 54h2v1h-2zM2 55h2v1h-2zM0 56h2v1h-2zM34 82h3v1h-3zM39 82h2v1h-2zM33 83h2v1h-2zM42 83h1v1h-1zM32 84h1v1h-1zM44 84h1v1h-1zM31 85h1v1h-1zM30 86h1v1h-1zM29 87h1v1h-1zM28 88h2v1h-2zM28 89h1v1h-1zM28 90h1v1h-1zM27 92h1v1h-1zM27 93h1v1h-1zM27 94h1v1h-1zM26 96h1v1h-1zM26 97h1v1h-1zM26 98h1v1h-1zM26 99h1v1h-1z"/>
<path fill="#9d2699" d="M38 31h2v1h-2zM44 31h1v1h-1zM36 32h1v1h-1zM35 33h1v1h-1zM34 34h1v1h-1zM33 35h1v1h-1zM32 36h1v1h-1zM31 37h1v1h-1zM30 38h1v1h-1zM30 39h1v1h-1zM29 40h1v1h-1zM29 41h1v1h-1zM29 42h1v1h-1zM28 43h2v1h-2zM28 44h2v1h-2zM26 45h3v1h-3zM24 46h4v1h-4zM21 47h5v1h-5zM19 48h3v1h-3zM15 49h3v1h-3zM11 50h4v1h-4zM8 51h3v1h-3zM6 52h2v1h-2zM4 53h2v1h-2zM2 54h2v1h-2zM0 55h2v1h-2zM37 82h2v1h-2zM35 83h2v1h-2zM40 83h2v1h-2zM33 84h2v1h-2zM43 84h1v1h-1zM32 85h2v1h-2zM31 86h2v1h-2zM30 87h2v1h-2zM30 88h1v1h-1zM29 89h1v1h-1zM29 90h1v1h-1zM28 91h1v1h-1zM28 92h1v1h-1zM28 93h1v1h-1zM27 95h1v1h-1zM27 96h1v1h-1zM27 97h1v1h-1zM27 98h1v1h-1z"/>
<path fill="#a12796" d="M40 30h2v1h-2zM37 31h1v1h-1zM35 32h1v1h-1zM34 33h1v1h-1zM33 34h1v1h-1zM32 35h1v1h-1zM31 36h1v1h-1zM30 37h1v1h-1zM29 38h1v1h-1zM28 39h2v1h-2zM28 40h1v1h-1zM27 41h2v1h-2zM25 42h4v1h-4zM24 43h4v1h-4zM23 44h5v1h-5zM22 45h4v1h-4zM20 46h4v1h-4zM19 47h2v1h-2zM16 48h3v1h-3zM12 49h3v1h-3zM8 50h3v1h-3zM6 51h2v1h-2zM4 52h2v1h-2zM2 53h2v1h-2zM0 54h2v1h-2zM37 83h3v1h-3zM35 84h2v1h-2zM41 84h2v1h-2zM34 85h1v1h-1zM33 86h1v1h-1zM32 87h1v1h-1zM31 88h1v1h-1zM30 89h1v1h-1zM30 90h1v1h-1zM29 91h1v1h-1zM29 92h1v1h-1zM28 94h1v1h-1zM28 95h1v1h-1zM28 96h1v1h-1zM28 97h1v1h-1zM27 99h1v1h-1z"/>
<path fill="#a62893" d="M38 30h2v1h-2zM42 30h2v1h-2zM36 31h1v1h-1zM34 32h1v1h-1zM33 33h1v1h-1zM32 34h1v1h-1zM31 35h1v1h-1zM30 36h1v1h-1zM29 37h1v1h-1zM27 38h2v1h-2zM26 39h2v1h-2zM23 40h5v1h-5zM22 41h5v1h-5zM21 42h4v1h-4zM21 43h3v1h-3zM20 44h3v1h-3zM19 45h3v1h-3zM18 46h2v1h-2zM16 47h3v1h-3zM12 48h4v1h-4zM8 49h4v1h-4zM5 50h3v1h-3zM4 51h2v1h-2zM2 52h2v1h-2zM0 53h2v1h-2zM37 84h4v1h-4zM35 85h2v1h-2zM44 85h1v1h-1zM34 86h1v1h-1zM33 87h1v1h-1zM32 88h1v1h-1zM31 89h1v1h-1zM30 91h1v1h-1zM30 92h1v1h-1zM29 93h1v1h-1zM29 94h1v1h-1zM29 95h1v1h-1zM28 98h1v1h-1zM28 99h1v1h-1z"/>
<path fill="#aa2990" d="M40 29h2v1h-2zM36 30h2v1h-2zM44 30h1v1h-1zM35 31h1v1h-1zM33 32h1v1h-1zM32 33h1v1h-1zM31 34h1v1h-1zM30 35h1v1h-1zM28 36h2v1h-2zM26 37h3v1h-3zM24 38h3v1h-3zM22 39h4v1h-4zM21 40h2v1h-2zM20 41h2v1h-2zM20 42h1v1h-1zM19 43h2v1h-2zM18 44h2v1h-2zM17 45h2v1h-2zM16 46h2v1h-2zM11 47h5v1h-5zM7 48h5v1h-5zM5 49h3v1h-3zM3 50h2v1h-2zM2 51h2v1h-2zM0 52h2v1h-2zM37 85h7v1h-7zM35 86h2v1h-2zM34 87h1v1h-1zM33 88h1v1h-1zM32 89h1v1h-1zM31 90h1v1h-1zM31 91h1v1h-1zM30 93h1v1h-1zM30 94h1v1h-1zM29 96h1v1h-1zM29 97h1v1h-1zM29 98h1v1h-1zM29 99h1v1h-1z"/>
<path fill="#ae2a8d" d="M37 29h3v1h-3zM42 29h2v1h-2zM35 30h1v1h-1zM34 31h1v1h-1zM32 32h1v1h-1zM31 33h1v1h-1zM29 34h2v1h-2zM28 35h2v1h-2zM26 36h2v1h-2zM24 37h2v1h-2zM22 38h2v1h-2zM21 39h1v1h-1zM20 40h1v1h-1zM19 41h1v1h-1zM18 42h2v1h-2zM18 43h1v1h-1zM17 44h1v1h-1zM15 45h2v1h-2zM11 46h5v1h-5zM6 47h5v1h-5zM4 48h3v1h-3zM3 49h2v1h-2zM1 50h2v1h-2zM0 51h2v1h-2zM37 86h2v1h-2zM35 87h2v1h-2zM34 88h1v1h-1zM33 89h1v1h-1zM32 90h1v1h-1zM32 91h1v1h-1zM31 92h1v1h-1zM31 93h1v1h-1zM31 94h1v1h-1zM30 95h1v1h-1zM30 96h1v1h-1zM30 97h1v1h-1zM30 98h1v1h-1zM30 99h1v1h-1z"/>
<path fill="#b22b8a" d="M39 28h3v1h-3zM36 29h1v1h-1zM44 29h1v1h-1zM34 30h1v1h-1zM32 31h2v1h-2zM31 32h1v1h-1zM29 33h2v1h-2zM28 34h1v1h-1zM25 35h3v1h-3zM23 36h3v1h-3zM22 37h2v1h-2zM21 38h1v1h-1zM20 39h1v1h-1zM19 40h1v1h-1zM18 41h1v1h-1zM17 42h1v1h-1zM16 43h2v1h-2zM15 44h2v1h-2zM10 45h5v1h-5zM5 46h6v1h-6zM4 47h2v1h-2zM2 48h2v1h-2zM1 49h2v1h-2zM0 50h1v1h-1zM39 86h6v1h-6zM37 87h2v1h-2zM35 88h2v1h-2zM34 89h1v1h-1zM33 90h1v1h-1zM33 91h1v1h-1zM32 92h1v1h-1zM32 93h1v1h-1zM31 95h1v1h-1zM31 96h1v1h-1zM31 97h1v1h-1z"/>
<path fill="#b62e87" d="M37 28h2v1h-2zM42 28h2v1h-2zM35 29h1v1h-1zM33 30h1v1h-1zM31 31h1v1h-1zM30 32h1v1h-1zM28 33h1v1h-1zM25 34h3v1h-3zM23 35h2v1h-2zM22 36h1v1h-1zM21 37h1v1h-1zM20 38h1v1h-1zM19 39h1v1h-1zM18 40h1v1h-1zM17 41h1v1h-1zM16 42h1v1h-1zM14 43h2v1h-2zM10 44h5v1h-5zM5 45h5v1h-5zM3 46h2v1h-2zM2 47h2v1h-2zM1 48h1v1h-1zM0 49h1v1h-1zM39 87h2v1h-2zM37 88h1v1h-1zM35 89h1v1h-1zM34 90h1v1h-1zM33 92h1v1h-1zM32 94h1v1h-1zM32 95h1v1h-1zM32 96h1v1h-1zM31 98h1v1h-1zM31 99h1v1h-1z"/>
<path fill="#b93185" d="M39 27h4v1h-4zM35 28h2v1h-2zM44 28h1v1h-1zM33 29h2v1h-2zM32 30h1v1h-1zM30 31h1v1h-1zM28 32h2v1h-2zM25 33h3v1h-3zM23 34h2v1h-2zM22 35h1v1h-1zM21 36h1v1h-1zM20 37h1v1h-1zM19 38h1v1h-1zM18 39h1v1h-1zM17 40h1v1h-1zM15 41h2v1h-2zM14 42h2v1h-2zM11 43h3v1h-3zM5 44h5v1h-5zM3 45h2v1h-2zM2 46h1v1h-1zM1 47h1v1h-1zM0 48h1v1h-1zM41 87h3v1h-3zM38 88h1v1h-1zM36 89h2v1h-2zM35 90h1v1h-1zM34 91h1v1h-1zM34 92h1v1h-1zM33 93h1v1h-1zM33 94h1v1h-1zM33 95h1v1h-1zM32 97h1v1h-1zM32 98h1v1h-1zM32 99h1v1h-1z"/>
<path fill="#bc3482" d="M37 27h2v1h-2zM43 27h2v1h-2zM34 28h1v1h-1zM32 29h1v1h-1zM30 30h2v1h-2zM28 31h2v1h-2zM25 32h3v1h-3zM24 33h1v1h-1zM22 34h1v1h-1zM21 35h1v1h-1zM20 36h1v1h-1zM19 37h1v1h-1zM18 38h1v1h-1zM17 39h1v1h-1zM15 40h2v1h-2zM14 41h1v1h-1zM11 42h3v1h-3zM6 43h5v1h-5zM3 44h2v1h-2zM2 45h1v1h-1zM1 46h1v1h-1zM0 47h1v1h-1zM44 87h1v1h-1zM39 88h2v1h-2zM38 89h1v1h-1zM36 90h1v1h-1zM35 91h1v1h-1zM35 92h1v1h-1zM34 93h1v1h-1zM34 94h1v1h-1zM33 96h1v1h-1zM33 97h1v1h-1zM33 98h1v1h-1zM33 99h1v1h-1z"/>
<path fill="#c03780" d="M38 26h7v1h-7zM35 27h2v1h-2zM33 28h1v1h-1zM31 29h1v1h-1zM28 30h2v1h-2zM26 31h2v1h-2zM24 32h1v1h-1zM22 33h2v1h-2zM21 34h1v1h-1zM20 35h1v1h-1zM19 36h1v1h-1zM18 37h1v1h-1zM17 38h1v1h-1zM15 39h2v1h-2zM14 40h1v1h-1zM12 41h2v1h-2zM7 42h4v1h-4zM4 43h2v1h-2zM2 44h1v1h-1zM1 45h1v1h-1zM0 46h1v1h-1zM41 88h2v1h-2zM39 89h1v1h-1zM37 90h1v1h-1zM36 91h1v1h-1zM35 93h1v1h-1zM34 95h1v1h-1zM34 96h1v1h-1zM34 97h1v1h-1z"/>
<path fill="#c33a7e" d="M41 25h3v1h-3zM36 26h2v1h-2zM33 27h2v1h-2zM31 28h2v1h-2zM29 29h2v1h-2zM26 30h2v1h-2zM24 31h2v1h-2zM22 32h2v1h-2zM21 33h1v1h-1zM20 34h1v1h-1zM19 35h1v1h-1zM18 36h1v1h-1zM17 37h1v1h-1zM16 38h1v1h-1zM14 39h1v1h-1zM12 40h2v1h-2zM9 41h3v1h-3zM5 42h2v1h-2zM2 43h2v1h-2zM1 44h1v1h-1zM0 45h1v1h-1zM43 88h2v1h-2zM40 89h1v1h-1zM38 90h1v1h-1zM37 91h1v1h-1zM36 92h1v1h-1zM36 93h1v1h-1zM35 94h1v1h-1zM35 95h1v1h-1zM35 96h1v1h-1zM34 98h1v1h-1zM34 99h1v1h-1z"/>
<path fill="#c63d7c" d="M37 25h4v1h-4zM44 25h1v1h-1zM34 26h2v1h-2zM32 27h1v1h-1zM29 28h2v1h-2zM26 29h3v1h-3zM24 30h2v1h-2zM22 31h2v1h-2zM21 32h1v1h-1zM20 33h1v1h-1zM19 34h1v1h-1zM18 35h1v1h-1zM17 36h1v1h-1zM16 37h1v1h-1zM15 38h1v1h-1zM13 39h1v1h-1zM10 40h2v1h-2zM6 41h3v1h-3zM3 42h2v1h-2zM1 43h1v1h-1zM0 44h1v1h-1zM41 89h1v1h-1zM39 90h1v1h-1zM38 91h1v1h-1zM37 92h1v1h-1zM36 94h1v1h-1zM36 95h1v1h-1zM35 97h1v1h-1zM35 98h1v1h-1zM35 99h1v1h-1z"/>
<path fill="#c94179" d="M39 24h6v1h-6zM35 25h2v1h-2zM32 26h2v1h-2zM30 27h2v1h-2zM27 28h2v1h-2zM24 29h2v1h-2zM22 30h2v1h-2zM21 31h1v1h-1zM20 32h1v1h-1zM19 33h1v1h-1zM18 34h1v1h-1zM17 35h1v1h-1zM16 36h1v1h-1zM15 37h1v1h-1zM13 38h2v1h-2zM11 39h2v1h-2zM7 40h3v1h-3zM4 41h2v1h-2zM2 42h1v1h-1zM0 43h1v1h-1zM42 89h2v1h-2zM40 90h1v1h-1zM39 91h1v1h-1zM38 92h1v1h-1zM37 93h1v1h-1zM37 94h1v1h-1zM36 96h1v1h-1zM36 97h1v1h-1z"/>
<path fill="#cc4376" d="M41 23h4v1h-4zM36 24h3v1h-3zM33 25h2v1h-2zM30 26h2v1h-2zM27 27h3v1h-3zM24 28h3v1h-3zM23 29h1v1h-1zM21 30h1v1h-1zM20 31h1v1h-1zM19 32h1v1h-1zM18 33h1v1h-1zM17 34h1v1h-1zM16 35h1v1h-1zM15 36h1v1h-1zM14 37h1v1h-1zM12 38h1v1h-1zM9 39h2v1h-2zM5 40h2v1h-2zM2 41h2v1h-2zM0 42h2v1h-2zM44 89h1v1h-1zM41 90h1v1h-1zM40 91h1v1h-1zM39 92h1v1h-1zM38 93h1v1h-1zM37 95h1v1h-1zM37 96h1v1h-1zM36 98h1v1h-1zM36 99h1v1h-1z"/>
<path fill="#cf4673" d="M37 23h4v1h-4zM33 24h3v1h-3zM31 25h2v1h-2zM28 26h2v1h-2zM25 27h2v1h-2zM23 28h1v1h-1zM21 29h2v1h-2zM20 30h1v1h-1zM19 31h1v1h-1zM15 35h1v1h-1zM14 36h1v1h-1zM12 37h2v1h-2zM10 38h2v1h-2zM6 39h3v1h-3zM3 40h2v1h-2zM1 41h1v1h-1zM42 90h1v1h-1zM38 94h1v1h-1zM37 97h1v1h-1zM37 98h1v1h-1z"/>
<path fill="#d1496f" d="M38 22h7v1h-7zM34 23h3v1h-3zM31 24h2v1h-2zM28 25h3v1h-3zM25 26h3v1h-3zM23 27h2v1h-2zM21 28h2v1h-2zM20 29h1v1h-1zM19 30h1v1h-1zM18 32h1v1h-1zM17 33h1v1h-1zM16 34h1v1h-1zM14 35h1v1h-1zM13 36h1v1h-1zM11 37h1v1h-1zM8 38h2v1h-2zM4 39h2v1h-2zM1 40h2v1h-2zM0 41h1v1h-1zM43 90h1v1h-1zM41 91h1v1h-1zM40 92h1v1h-1zM39 93h1v1h-1zM39 94h1v1h-1zM38 95h1v1h-1zM38 96h1v1h-1zM37 99h1v1h-1z"/>
<path fill="#d44c6c" d="M38 21h7v1h-7zM34 22h4v1h-4zM31 23h3v1h-3zM28 24h3v1h-3zM25 25h3v1h-3zM23 26h2v1h-2zM21 27h2v1h-2zM20 28h1v1h-1zM19 29h1v1h-1zM18 30h1v1h-1zM18 31h1v1h-1zM17 32h1v1h-1zM16 33h1v1h-1zM15 34h1v1h-1zM13 35h1v1h-1zM11 36h2v1h-2zM9 37h2v1h-2zM5 38h3v1h-3zM2 39h2v1h-2zM0 40h1v1h-1zM44 90h1v1h-1zM42 91h1v1h-1zM41 92h1v1h-1zM40 93h1v1h-1zM39 95h1v1h-1zM38 97h1v1h-1zM38 98h1v1h-1z"/>
<path fill="#d74f69" d="M39 20h6v1h-6zM35 21h3v1h-3zM31 22h3v1h-3zM28 23h3v1h-3zM26 24h2v1h-2zM23 25h2v1h-2zM21 26h2v1h-2zM20 27h1v1h-1zM19 28h1v1h-1zM18 29h1v1h-1zM17 31h1v1h-1zM16 32h1v1h-1zM15 33h1v1h-1zM14 34h1v1h-1zM12 35h1v1h-1zM10 36h1v1h-1zM7 37h2v1h-2zM3 38h2v1h-2zM1 39h1v1h-1zM43 91h1v1h-1zM40 94h1v1h-1zM39 96h1v1h-1zM38 99h1v1h-1z"/>
<path fill="#da5265" d="M44 13h1v1h-1zM43 14h2v1h-2zM43 15h2v1h-2zM43 16h2v1h-2zM43 17h2v1h-2zM41 18h4v1h-4zM38 19h7v1h-7zM35 20h4v1h-4zM31 21h4v1h-4zM28 22h3v1h-3zM26 23h2v1h-2zM23 24h3v1h-3zM22 25h1v1h-1zM20 26h1v1h-1zM19 27h1v1h-1zM18 28h1v1h-1zM17 29h1v1h-1zM17 30h1v1h-1zM16 31h1v1h-1zM15 32h1v1h-1zM14 33h1v1h-1zM12 34h2v1h-2zM10 35h2v1h-2zM7 36h3v1h-3zM4 37h3v1h-3zM1 38h2v1h-2zM0 39h1v1h-1zM44 91h1v1h-1zM42 92h1v1h-1zM41 93h1v1h-1zM40 95h1v1h-1zM39 97h1v1h-1zM39 98h1v1h-1z"/>
<path fill="#dc5562" d="M44 12h1v1h-1zM42 13h2v1h-2zM41 14h2v1h-2zM40 15h3v1h-3zM40 16h3v1h-3zM39 17h4v1h-4zM37 18h4v1h-4zM35 19h3v1h-3zM31 20h4v1h-4zM28 21h3v1h-3zM26 22h2v1h-2zM24 23h2v1h-2zM22 24h1v1h-1zM20 25h2v1h-2zM19 26h1v1h-1zM18 27h1v1h-1zM17 28h1v1h-1zM16 29h1v1h-1zM16 30h1v1h-1zM15 31h1v1h-1zM14 32h1v1h-1zM12 33h2v1h-2zM10 34h2v1h-2zM8 35h2v1h-2zM5 36h2v1h-2zM2 37h2v1h-2zM0 38h1v1h-1zM43 92h1v1h-1zM42 93h1v1h-1zM41 94h1v1h-1zM40 96h1v1h-1zM39 99h1v1h-1z"/>
<path fill="#de585f" d="M44 11h1v1h-1zM42 12h2v1h-2zM40 13h2v1h-2zM38 14h3v1h-3zM37 15h3v1h-3zM37 16h3v1h-3zM36 17h3v1h-3zM34 18h3v1h-3zM31 19h4v1h-4zM28 20h3v1h-3zM25 21h3v1h-3zM24 22h2v1h-2zM22 23h2v1h-2zM20 24h2v1h-2zM19 25h1v1h-1zM18 26h1v1h-1zM17 27h1v1h-1zM16 28h1v1h-1zM15 29h1v1h-1zM15 30h1v1h-1zM14 31h1v1h-1zM12 32h2v1h-2zM11 33h1v1h-1zM8 34h2v1h-2zM6 35h2v1h-2zM3 36h2v1h-2zM0 37h2v1h-2zM41 95h1v1h-1zM40 97h1v1h-1zM40 98h1v1h-1z"/>
<path fill="#e15b5c" d="M42 11h2v1h-2zM39 12h3v1h-3zM37 13h3v1h-3zM36 14h2v1h-2zM35 15h2v1h-2zM34 16h3v1h-3zM33 17h3v1h-3zM31 18h3v1h-3zM27 19h4v1h-4zM25 20h3v1h-3zM23 21h2v1h-2zM22 22h2v1h-2zM21 23h1v1h-1zM19 24h1v1h-1zM18 25h1v1h-1zM17 26h1v1h-1zM16 27h1v1h-1zM15 28h1v1h-1zM14 29h1v1h-1zM13 30h2v1h-2zM12 31h2v1h-2zM10 32h2v1h-2zM8 33h3v1h-3zM6 34h2v1h-2zM3 35h3v1h-3zM1 36h2v1h-2zM44 92h1v1h-1zM43 93h1v1h-1zM42 94h1v1h-1zM41 96h1v1h-1zM40 99h1v1h-1z"/>
<path fill="#e35e59" d="M43 10h2v1h-2zM40 11h2v1h-2zM37 12h2v1h-2zM34 13h3v1h-3zM33 14h3v1h-3zM32 15h3v1h-3zM31 16h3v1h-3zM29 17h4v1h-4zM26 18h5v1h-5zM24 19h3v1h-3zM23 20h2v1h-2zM22 21h1v1h-1zM21 22h1v1h-1zM19 23h2v1h-2zM18 24h1v1h-1zM17 25h1v1h-1zM16 26h1v1h-1zM15 27h1v1h-1zM14 28h1v1h-1zM13 29h1v1h-1zM12 30h1v1h-1zM10 31h2v1h-2zM8 32h2v1h-2zM5 33h3v1h-3zM3 34h3v1h-3zM1 35h2v1h-2zM0 36h1v1h-1zM42 95h1v1h-1zM41 97h1v1h-1z"/>
<path fill="#e56156" d="M44 0h1v1h-1zM44 1h1v1h-1zM44 2h1v1h-1zM44 3h1v1h-1zM44 4h1v1h-1zM43 9h2v1h-2zM40 10h3v1h-3zM37 11h3v1h-3zM34 12h3v1h-3zM32 13h2v1h-2zM31 14h2v1h-2zM30 15h2v1h-2zM28 16h3v1h-3zM26 17h3v1h-3zM23 18h3v1h-3zM22 19h2v1h-2zM21 20h2v1h-2zM20 21h2v1h-2zM19 22h2v1h-2zM18 23h1v1h-1zM17 24h1v1h-1zM16 25h1v1h-1zM14 26h2v1h-2zM13 27h2v1h-2zM12 28h2v1h-2zM11 29h2v1h-2zM9 30h3v1h-3zM7 31h3v1h-3zM4 32h4v1h-4zM2 33h3v1h-3zM1 34h2v1h-2zM0 35h1v1h-1zM44 93h1v1h-1zM43 94h1v1h-1zM42 96h1v1h-1zM41 98h1v1h-1z"/>
<path fill="#e76454" d="M43 0h1v1h-1zM43 1h1v1h-1zM43 2h1v1h-1zM43 3h1v1h-1zM43 4h1v1h-1zM43 5h2v1h-2zM44 6h1v1h-1zM43 7h2v1h-2zM43 8h2v1h-2zM41 9h2v1h-2zM38 10h2v1h-2zM34 11h3v1h-3zM31 12h3v1h-3zM30 13h2v1h-2zM29 14h2v1h-2zM27 15h3v1h-3zM25 16h3v1h-3zM23 17h3v1h-3zM22 18h1v1h-1zM21 19h1v1h-1zM20 20h1v1h-1zM19 21h1v1h-1zM18 22h1v1h-1zM17 23h1v1h-1zM15 24h2v1h-2zM14 25h2v1h-2zM13 26h1v1h-1zM12 27h1v1h-1zM10 28h2v1h-2zM9 29h2v1h-2zM6 30h3v1h-3zM3 31h4v1h-4zM2 32h2v1h-2zM0 33h2v1h-2zM0 34h1v1h-1zM43 95h1v1h-1zM42 97h1v1h-1zM41 99h1v1h-1z"/>
<path fill="#e96751" d="M42 0h1v1h-1zM41 1h2v1h-2zM41 2h2v1h-2zM42 3h1v1h-1zM42 4h1v1h-1zM42 5h1v1h-1zM42 6h2v1h-2zM42 7h1v1h-1zM40 8h3v1h-3zM38 9h3v1h-3zM34 10h4v1h-4zM31 11h3v1h-3zM29 12h2v1h-2zM28 13h2v1h-2zM27 14h2v1h-2zM25 15h2v1h-2zM23 16h2v1h-2zM21 17h2v1h-2zM20 18h2v1h-2zM19 19h2v1h-2zM18 20h2v1h-2zM18 21h1v1h-1zM17 22h1v1h-1zM15 23h2v1h-2zM14 24h1v1h-1zM13 25h1v1h-1zM11 26h2v1h-2zM10 27h2v1h-2zM8 28h2v1h-2zM5 29h4v1h-4zM2 30h4v1h-4zM1 31h2v1h-2zM0 32h2v1h-2zM44 94h1v1h-1zM42 98h1v1h-1z"/>
<path fill="#eb6c4e" d="M40 0h2v1h-2zM40 1h1v1h-1zM40 2h1v1h-1zM40 3h2v1h-2zM40 4h2v1h-2zM40 5h2v1h-2zM40 6h2v1h-2zM39 7h3v1h-3zM37 8h3v1h-3zM34 9h4v1h-4zM30 10h4v1h-4zM28 11h3v1h-3zM27 12h2v1h-2zM26 13h2v1h-2zM25 14h2v1h-2zM23 15h2v1h-2zM21 16h2v1h-2zM20 17h1v1h-1zM19 18h1v1h-1zM18 19h1v1h-1zM17 20h1v1h-1zM16 21h2v1h-2zM15 22h2v1h-2zM14 23h1v1h-1zM12 24h2v1h-2zM11 25h2v1h-2zM9 26h2v1h-2zM7 27h3v1h-3zM4 28h4v1h-4zM1 29h4v1h-4zM0 30h2v1h-2zM0 31h1v1h-1zM43 96h1v1h-1zM42 99h1v1h-1z"/>
<path fill="#ec714c" d="M38 0h2v1h-2zM38 1h2v1h-2zM38 2h2v1h-2zM38 3h2v1h-2zM38 4h2v1h-2zM38 5h2v1h-2zM37 6h3v1h-3zM36 7h3v1h-3zM33 8h4v1h-4zM29 9h5v1h-5zM27 10h3v1h-3zM26 11h2v1h-2zM25 12h2v1h-2zM24 13h2v1h-2zM23 14h2v1h-2zM21 15h2v1h-2zM19 16h2v1h-2zM18 17h2v1h-2zM17 18h2v1h-2zM16 19h2v1h-2zM16 20h1v1h-1zM15 21h1v1h-1zM13 22h2v1h-2zM12 23h2v1h-2zM10 24h2v1h-2zM8 25h3v1h-3zM5 26h4v1h-4zM0 27h7v1h-7zM0 28h4v1h-4zM0 29h1v1h-1zM44 95h1v1h-1zM43 97h1v1h-1z"/>
<path fill="#ee7649" d="M34 0h4v1h-4zM34 1h4v1h-4zM34 2h4v1h-4zM34 3h4v1h-4zM34 4h4v1h-4zM34 5h4v1h-4zM32 6h5v1h-5zM29 7h7v1h-7zM26 8h7v1h-7zM25 9h4v1h-4zM24 10h3v1h-3zM24 11h2v1h-2zM23 12h2v1h-2zM22 13h2v1h-2zM21 14h2v1h-2zM19 15h2v1h-2zM17 16h2v1h-2zM16 17h2v1h-2zM16 18h1v1h-1zM15 19h1v1h-1zM14 20h2v1h-2zM13 21h2v1h-2zM11 22h2v1h-2zM0 23h1v1h-1zM8 23h4v1h-4zM0 24h10v1h-10zM0 25h8v1h-8zM0 26h5v1h-5zM44 96h1v1h-1zM43 98h1v1h-1z"/>
<path fill="#ef7b47" d="M29 0h5v1h-5zM29 1h5v1h-5zM29 2h5v1h-5zM29 3h5v1h-5zM28 4h6v1h-6zM26 5h8v1h-8zM24 6h8v1h-8zM23 7h6v1h-6zM22 8h4v1h-4zM21 9h4v1h-4zM21 10h3v1h-3zM21 11h3v1h-3zM21 12h2v1h-2zM20 13h2v1h-2zM18 14h3v1h-3zM17 15h2v1h-2zM16 16h1v1h-1zM15 17h1v1h-1zM14 18h2v1h-2zM13 19h2v1h-2zM11 20h3v1h-3zM9 21h4v1h-4zM0 22h11v1h-11zM1 23h7v1h-7z"/>
<path fill="#f18044" d="M25 0h4v1h-4zM25 1h4v1h-4zM25 2h4v1h-4zM25 3h4v1h-4zM23 4h5v1h-5zM22 5h4v1h-4zM21 6h3v1h-3zM20 7h3v1h-3zM19 8h3v1h-3zM19 9h2v1h-2zM19 10h2v1h-2zM18 11h3v1h-3zM18 12h3v1h-3zM17 13h3v1h-3zM16 14h2v1h-2zM15 15h2v1h-2zM14 16h2v1h-2zM13 17h2v1h-2zM12 18h2v1h-2zM10 19h3v1h-3zM5 20h6v1h-6zM0 21h9v1h-9zM44 97h1v1h-1zM43 99h1v1h-1z"/>
<path fill="#f28541" d="M23 0h2v1h-2zM23 1h2v1h-2zM23 2h2v1h-2zM22 3h3v1h-3zM21 4h2v1h-2zM20 5h2v1h-2zM19 6h2v1h-2zM18 7h2v1h-2zM18 8h1v1h-1zM17 9h2v1h-2zM17 10h2v1h-2zM16 11h2v1h-2zM16 12h2v1h-2zM15 13h2v1h-2zM14 14h2v1h-2zM13 15h2v1h-2zM12 16h2v1h-2zM11 17h2v1h-2zM9 18h3v1h-3zM5 19h5v1h-5zM0 20h5v1h-5zM44 98h1v1h-1z"/>
<path fill="#f38a3f" d="M21 0h2v1h-2zM21 1h2v1h-2zM20 2h3v1h-3zM20 3h2v1h-2zM19 4h2v1h-2zM18 5h2v1h-2zM17 6h2v1h-2zM17 7h1v1h-1zM16 8h2v1h-2zM16 9h1v1h-1zM15 10h2v1h-2zM15 11h1v1h-1zM14 12h2v1h-2zM13 13h2v1h-2zM12 14h2v1h-2zM11 15h2v1h-2zM10 16h2v1h-2zM8 17h3v1h-3zM5 18h4v1h-4zM0 19h5v1h-5z"/>
<path fill="#f38f3d" d="M19 0h2v1h-2zM19 1h2v1h-2zM19 2h1v1h-1zM18 3h2v1h-2zM17 4h2v1h-2zM17 5h1v1h-1zM16 6h1v1h-1zM15 7h2v1h-2zM15 8h1v1h-1zM14 9h2v1h-2zM14 10h1v1h-1zM13 11h2v1h-2zM13 12h1v1h-1zM12 13h1v1h-1zM11 14h1v1h-1zM10 15h1v1h-1zM8 16h2v1h-2zM6 17h2v1h-2zM2 18h3v1h-3zM44 99h1v1h-1z"/>
<path fill="#f4943b" d="M18 0h1v1h-1zM18 1h1v1h-1zM17 2h2v1h-2zM17 3h1v1h-1zM16 4h1v1h-1zM16 5h1v1h-1zM15 6h1v1h-1zM14 7h1v1h-1zM14 8h1v1h-1zM13 9h1v1h-1zM13 10h1v1h-1zM12 11h1v1h-1zM11 12h2v1h-2zM11 13h1v1h-1zM10 14h1v1h-1zM8 15h2v1h-2zM6 16h2v1h-2zM3 17h3v1h-3zM0 18h2v1h-2z"/>
<path fill="#f49939" d="M17 0h1v1h-1zM16 1h2v1h-2zM16 2h1v1h-1zM16 3h1v1h-1zM15 4h1v1h-1zM14 5h2v1h-2zM14 6h1v1h-1zM13 7h1v1h-1zM13 8h1v1h-1zM12 9h1v1h-1zM12 10h1v1h-1zM11 11h1v1h-1zM10 12h1v1h-1zM9 13h2v1h-2zM8 14h2v1h-2zM6 15h2v1h-2zM4 16h2v1h-2zM1 17h2v1h-2z"/>
<path fill="#f49e37" d="M16 0h1v1h-1zM15 1h1v1h-1zM15 2h1v1h-1zM15 3h1v1h-1zM14 4h1v1h-1zM13 5h1v1h-1zM13 6h1v1h-1zM12 7h1v1h-1zM12 8h1v1h-1zM11 9h1v1h-1zM11 10h1v1h-1zM10 11h1v1h-1zM9 12h1v1h-1zM8 13h1v1h-1zM7 14h1v1h-1zM5 15h1v1h-1zM3 16h1v1h-1zM0 17h1v1h-1z"/>
<path fill="#f5a335" d="M15 0h1v1h-1zM14 1h1v1h-1zM14 2h1v1h-1zM14 3h1v1h-1zM13 4h1v1h-1zM12 6h1v1h-1zM11 8h1v1h-1zM10 9h1v1h-1zM10 10h1v1h-1zM9 11h1v1h-1zM8 12h1v1h-1zM7 13h1v1h-1zM6 14h1v1h-1zM4 15h1v1h-1zM1 16h2v1h-2z"/>
<path fill="#f5a833" d="M14 0h1v1h-1zM13 1h1v1h-1zM13 2h1v1h-1zM13 3h1v1h-1zM12 4h1v1h-1zM12 5h1v1h-1zM11 6h1v1h-1zM11 7h1v1h-1zM10 8h1v1h-1zM9 10h1v1h-1zM8 11h1v1h-1zM7 12h1v1h-1zM6 13h1v1h-1zM4 14h2v1h-2zM2 15h2v1h-2zM0 16h1v1h-1z"/>
<path fill="#f4ae32" d="M13 0h1v1h-1zM12 1h1v1h-1zM12 2h1v1h-1zM12 3h1v1h-1zM11 4h1v1h-1zM11 5h1v1h-1zM10 6h1v1h-1zM10 7h1v1h-1zM9 8h1v1h-1zM9 9h1v1h-1zM8 10h1v1h-1zM7 11h1v1h-1zM6 12h1v1h-1zM5 13h1v1h-1zM3 14h1v1h-1zM1 15h1v1h-1z"/>
<path fill="#f1b834" d="M12 0h1v1h-1zM11 2h1v1h-1zM11 3h1v1h-1zM10 4h1v1h-1zM10 5h1v1h-1zM9 6h1v1h-1zM9 7h1v1h-1zM8 8h1v1h-1zM8 9h1v1h-1zM7 10h1v1h-1zM6 11h1v1h-1zM5 12h1v1h-1zM4 13h1v1h-1zM2 14h1v1h-1zM0 15h1v1h-1z"/>
<path fill="#eec135" d="M11 0h1v1h-1zM11 1h1v1h-1zM10 2h1v1h-1zM10 3h1v1h-1zM9 4h1v1h-1zM9 5h1v1h-1zM8 7h1v1h-1zM7 8h1v1h-1zM7 9h1v1h-1zM6 10h1v1h-1zM5 11h1v1h-1zM4 12h1v1h-1zM2 13h2v1h-2zM0 14h2v1h-2z"/>
<path fill="#ebcb36" d="M10 0h1v1h-1zM10 1h1v1h-1zM9 2h1v1h-1zM9 3h1v1h-1zM8 5h1v1h-1zM8 6h1v1h-1zM7 7h1v1h-1zM6 9h1v1h-1zM5 10h1v1h-1zM4 11h1v1h-1zM3 12h1v1h-1zM1 13h1v1h-1z"/>
<path fill="#e8d537" d="M9 0h1v1h-1zM9 1h1v1h-1zM8 2h1v1h-1zM8 3h1v1h-1zM8 4h1v1h-1zM7 5h1v1h-1zM7 6h1v1h-1zM6 7h1v1h-1zM6 8h1v1h-1zM5 9h1v1h-1zM4 10h1v1h-1zM3 11h1v1h-1zM1 12h2v1h-2zM0 13h1v1h-1z"/>
<path fill="#e5de39" d="M8 0h1v1h-1zM8 1h1v1h-1zM7 2h1v1h-1zM7 3h1v1h-1zM6 4h2v1h-2zM6 5h1v1h-1zM6 6h1v1h-1zM5 7h1v1h-1zM4 8h2v1h-2zM4 9h1v1h-1zM3 10h1v1h-1zM2 11h1v1h-1zM0 12h1v1h-1z"/>
<path fill="#e2e83a" d="M0 0h8v1h-8zM0 1h8v1h-8zM0 2h7v1h-7zM0 3h7v1h-7zM0 4h6v1h-6zM0 5h6v1h-6zM0 6h6v1h-6zM0 7h5v1h-5zM0 8h4v1h-4zM0 9h4v1h-4zM0 10h3v1h-3zM0 11h2v1h-2z"/>
</g>
<g transform="translate(1046 1037) scale(9.0222 8.9556)" shape-rendering="crispEdges">
<path fill="#2f3482" d="M0 40h3v1h-3zM0 41h5v1h-5zM0 42h6v1h-6zM0 43h6v1h-6zM0 44h5v1h-5z"/>
<path fill="#313384" d="M6 43h1v1h-1zM5 44h1v1h-1z"/>
<path fill="#333286" d="M0 39h1v1h-1zM3 40h1v1h-1zM5 41h1v1h-1zM6 42h1v1h-1z"/>
<path fill="#363289" d="M1 39h1v1h-1zM4 40h1v1h-1zM6 44h1v1h-1z"/>
<path fill="#38318b" d="M2 39h1v1h-1zM6 41h1v1h-1zM7 42h1v1h-1zM7 43h1v1h-1z"/>
<path fill="#3a308d" d="M5 40h1v1h-1z"/>
<path fill="#3c2f8f" d="M0 38h1v1h-1zM3 39h1v1h-1zM7 41h1v1h-1zM8 43h1v1h-1zM7 44h1v1h-1z"/>
<path fill="#3f2f91" d="M6 40h1v1h-1zM8 42h1v1h-1z"/>
<path fill="#412f92" d="M1 38h1v1h-1zM4 39h1v1h-1zM8 44h1v1h-1z"/>
<path fill="#432e93" d="M2 38h1v1h-1zM8 41h1v1h-1zM9 43h1v1h-1z"/>
<path fill="#462e94" d="M5 39h1v1h-1zM7 40h1v1h-1zM9 42h1v1h-1z"/>
<path fill="#482e95" d="M0 37h1v1h-1zM3 38h1v1h-1zM9 44h1v1h-1z"/>
<path fill="#4b2d96" d="M6 39h1v1h-1zM8 40h1v1h-1zM9 41h1v1h-1zM10 43h1v1h-1z"/>
<path fill="#4d2d98" d="M1 37h1v1h-1zM4 38h1v1h-1zM10 42h1v1h-1z"/>
<path fill="#502d99" d="M7 39h1v1h-1zM10 44h1v1h-1z"/>
<path fill="#532e99" d="M2 37h1v1h-1zM5 38h1v1h-1zM9 40h1v1h-1zM10 41h1v1h-1z"/>
<path fill="#562e9a" d="M0 36h1v1h-1zM11 42h1v1h-1zM11 43h1v1h-1z"/>
<path fill="#592f9b" d="M3 37h1v1h-1zM6 38h1v1h-1zM8 39h1v1h-1zM11 44h1v1h-1z"/>
<path fill="#5c2f9c" d="M1 36h1v1h-1zM4 37h1v1h-1zM10 40h1v1h-1zM11 41h1v1h-1z"/>
<path fill="#60309d" d="M7 38h1v1h-1zM9 39h1v1h-1zM12 42h1v1h-1zM12 43h1v1h-1z"/>
<path fill="#63309e" d="M2 36h1v1h-1zM5 37h1v1h-1zM11 40h1v1h-1zM12 44h1v1h-1z"/>
<path fill="#662f9e" d="M0 35h1v1h-1zM8 38h1v1h-1zM10 39h1v1h-1zM12 41h1v1h-1z"/>
<path fill="#6a2e9e" d="M3 36h1v1h-1zM6 37h1v1h-1zM13 42h1v1h-1zM13 43h1v1h-1z"/>
<path fill="#6d2d9e" d="M1 35h1v1h-1zM9 38h1v1h-1zM12 40h1v1h-1zM13 44h1v1h-1z"/>
<path fill="#712c9e" d="M4 36h1v1h-1zM7 37h1v1h-1zM11 39h1v1h-1zM13 41h1v1h-1z"/>
<path fill="#742b9e" d="M2 35h1v1h-1zM14 42h1v1h-1zM14 43h1v1h-1z"/>
<path fill="#782a9e" d="M0 34h1v1h-1zM5 36h1v1h-1zM8 37h1v1h-1zM10 38h1v1h-1zM12 39h1v1h-1zM13 40h1v1h-1zM14 44h1v1h-1z"/>
<path fill="#7c299e" d="M1 34h1v1h-1zM3 35h1v1h-1zM6 36h1v1h-1zM14 41h1v1h-1z"/>
<path fill="#81299d" d="M4 35h1v1h-1zM9 37h1v1h-1zM11 38h1v1h-1zM15 42h1v1h-1zM15 43h1v1h-1z"/>
<path fill="#86289d" d="M0 33h1v1h-1zM2 34h1v1h-1zM7 36h1v1h-1zM13 39h1v1h-1zM14 40h1v1h-1zM15 41h1v1h-1zM15 44h1v1h-1z"/>
<path fill="#8b279d" d="M3 34h1v1h-1zM5 35h1v1h-1zM8 36h1v1h-1zM10 37h1v1h-1zM12 38h1v1h-1zM16 43h1v1h-1z"/>
<path fill="#90279d" d="M1 33h1v1h-1zM4 34h1v1h-1zM6 35h1v1h-1zM11 37h1v1h-1zM13 38h1v1h-1zM14 39h1v1h-1zM15 40h1v1h-1zM16 41h1v1h-1zM16 42h1v1h-1zM16 44h1v1h-1z"/>
<path fill="#94269c" d="M2 33h1v1h-1zM7 35h1v1h-1zM9 36h1v1h-1z"/>
<path fill="#99259c" d="M0 32h2v1h-2zM3 33h1v1h-1zM5 34h1v1h-1zM10 36h1v1h-1zM12 37h1v1h-1zM14 38h1v1h-1zM15 39h1v1h-1zM16 40h1v1h-1zM17 42h1v1h-1zM17 43h1v1h-1zM17 44h1v1h-1z"/>
<path fill="#9d2699" d="M2 32h1v1h-1zM4 33h1v1h-1zM6 34h1v1h-1zM8 35h1v1h-1zM11 36h1v1h-1zM13 37h1v1h-1zM16 39h1v1h-1zM17 41h1v1h-1z"/>
<path fill="#a12796" d="M0 31h1v1h-1zM3 32h1v1h-1zM5 33h1v1h-1zM7 34h1v1h-1zM9 35h1v1h-1zM15 38h1v1h-1zM17 40h1v1h-1zM18 42h1v1h-1zM18 43h1v1h-1zM18 44h1v1h-1z"/>
<path fill="#a62893" d="M1 31h2v1h-2zM4 32h1v1h-1zM6 33h1v1h-1zM8 34h1v1h-1zM10 35h1v1h-1zM12 36h1v1h-1zM14 37h1v1h-1zM16 38h1v1h-1zM17 39h1v1h-1zM18 41h1v1h-1z"/>
<path fill="#aa2990" d="M0 30h1v1h-1zM3 31h1v1h-1zM5 32h1v1h-1zM7 33h1v1h-1zM9 34h1v1h-1zM11 35h1v1h-1zM13 36h1v1h-1zM15 37h1v1h-1zM18 40h1v1h-1zM19 42h1v1h-1zM19 43h1v1h-1zM19 44h1v1h-1z"/>
<path fill="#ae2a8d" d="M1 30h2v1h-2zM4 31h1v1h-1zM6 32h1v1h-1zM8 33h1v1h-1zM10 34h1v1h-1zM12 35h1v1h-1zM14 36h1v1h-1zM16 37h1v1h-1zM17 38h1v1h-1zM18 39h1v1h-1zM19 40h1v1h-1zM19 41h1v1h-1zM20 44h1v1h-1z"/>
<path fill="#b22b8a" d="M0 29h1v1h-1zM3 30h1v1h-1zM5 31h2v1h-2zM7 32h1v1h-1zM9 33h1v1h-1zM11 34h1v1h-1zM13 35h1v1h-1zM15 36h1v1h-1zM17 37h1v1h-1zM18 38h1v1h-1zM19 39h1v1h-1zM20 41h1v1h-1zM20 42h1v1h-1zM20 43h1v1h-1z"/>
<path fill="#b62e87" d="M1 29h2v1h-2zM4 30h2v1h-2zM7 31h1v1h-1zM8 32h2v1h-2zM10 33h1v1h-1zM12 34h1v1h-1zM14 35h1v1h-1zM16 36h1v1h-1zM20 40h1v1h-1zM21 43h1v1h-1zM21 44h1v1h-1z"/>
<path fill="#b93185" d="M0 28h2v1h-2zM3 29h2v1h-2zM6 30h1v1h-1zM8 31h1v1h-1zM10 32h1v1h-1zM11 33h1v1h-1zM13 34h1v1h-1zM15 35h1v1h-1zM17 36h1v1h-1zM18 37h1v1h-1zM19 38h1v1h-1zM20 39h1v1h-1zM21 41h1v1h-1zM21 42h1v1h-1z"/>
<path fill="#bc3482" d="M2 28h2v1h-2zM5 29h1v1h-1zM7 30h2v1h-2zM9 31h1v1h-1zM11 32h1v1h-1zM12 33h2v1h-2zM14 34h2v1h-2zM16 35h1v1h-1zM18 36h1v1h-1zM19 37h1v1h-1zM20 38h1v1h-1zM21 39h1v1h-1zM21 40h1v1h-1zM22 42h1v1h-1zM22 43h1v1h-1zM22 44h1v1h-1z"/>
<path fill="#c03780" d="M0 27h2v1h-2zM4 28h1v1h-1zM6 29h2v1h-2zM9 30h1v1h-1zM10 31h2v1h-2zM12 32h1v1h-1zM14 33h1v1h-1zM16 34h1v1h-1zM17 35h2v1h-2zM19 36h1v1h-1zM20 37h1v1h-1zM21 38h1v1h-1zM22 40h1v1h-1zM22 41h1v1h-1zM23 42h1v1h-1zM23 43h1v1h-1zM23 44h1v1h-1z"/>
<path fill="#c33a7e" d="M2 27h2v1h-2zM5 28h2v1h-2zM8 29h1v1h-1zM10 30h1v1h-1zM12 31h1v1h-1zM13 32h2v1h-2zM15 33h2v1h-2zM17 34h2v1h-2zM19 35h1v1h-1zM20 36h1v1h-1zM21 37h1v1h-1zM22 38h1v1h-1zM22 39h1v1h-1zM23 40h1v1h-1zM23 41h1v1h-1zM24 43h1v1h-1zM24 44h1v1h-1z"/>
<path fill="#c63d7c" d="M0 26h3v1h-3zM4 27h2v1h-2zM7 28h1v1h-1zM9 29h2v1h-2zM11 30h2v1h-2zM13 31h2v1h-2zM15 32h2v1h-2zM17 33h2v1h-2zM19 34h1v1h-1zM20 35h2v1h-2zM21 36h2v1h-2zM22 37h1v1h-1zM23 38h1v1h-1zM23 39h1v1h-1zM24 40h1v1h-1zM24 41h1v1h-1zM24 42h1v1h-1zM25 44h1v1h-1z"/>
<path fill="#c94179" d="M0 25h1v1h-1zM3 26h2v1h-2zM6 27h2v1h-2zM8 28h2v1h-2zM11 29h1v1h-1zM13 30h1v1h-1zM15 31h1v1h-1zM17 32h2v1h-2zM19 33h1v1h-1zM20 34h2v1h-2zM22 35h1v1h-1zM23 36h1v1h-1zM23 37h1v1h-1zM24 38h1v1h-1zM24 39h1v1h-1zM25 40h1v1h-1zM25 41h1v1h-1zM25 42h1v1h-1zM25 43h1v1h-1z"/>
<path fill="#cc4376" d="M40 3h4v1h-4zM40 4h4v1h-4zM41 5h3v1h-3zM1 25h2v1h-2zM5 26h2v1h-2zM8 27h1v1h-1zM10 28h1v1h-1zM12 29h1v1h-1zM14 30h2v1h-2zM16 31h2v1h-2zM19 32h1v1h-1zM20 33h2v1h-2zM22 34h1v1h-1zM23 35h1v1h-1zM24 36h1v1h-1zM24 37h1v1h-1zM25 38h1v1h-1zM25 39h1v1h-1zM26 40h1v1h-1zM26 41h1v1h-1zM26 42h1v1h-1zM26 43h1v1h-1zM26 44h1v1h-1z"/>
<path fill="#cf4673" d="M40 2h4v1h-4zM39 3h1v1h-1zM44 3h1v1h-1zM39 4h1v1h-1zM44 4h1v1h-1zM39 5h2v1h-2zM44 5h1v1h-1zM41 6h3v1h-3zM0 24h1v1h-1zM3 25h2v1h-2zM7 26h2v1h-2zM9 27h2v1h-2zM11 28h2v1h-2zM13 29h2v1h-2zM16 30h2v1h-2zM18 31h2v1h-2zM20 32h2v1h-2zM22 33h2v1h-2zM23 34h2v1h-2zM24 35h1v1h-1zM25 36h1v1h-1zM25 37h2v1h-2zM26 38h1v1h-1zM26 39h2v1h-2zM27 40h1v1h-1zM27 41h2v1h-2zM27 42h2v1h-2zM27 43h2v1h-2zM27 44h1v1h-1z"/>
<path fill="#d1496f" d="M39 2h1v1h-1zM44 2h1v1h-1zM38 3h1v1h-1zM38 4h1v1h-1zM38 5h1v1h-1zM39 6h2v1h-2zM44 6h1v1h-1zM42 7h2v1h-2zM1 24h3v1h-3zM5 25h3v1h-3zM9 26h1v1h-1zM11 27h2v1h-2zM13 28h2v1h-2zM15 29h2v1h-2zM18 30h2v1h-2zM20 31h2v1h-2zM22 32h2v1h-2zM24 33h1v1h-1zM25 34h1v1h-1zM25 35h2v1h-2zM26 36h1v1h-1zM27 37h1v1h-1zM27 38h2v1h-2zM28 39h1v1h-1zM28 40h2v1h-2zM29 41h1v1h-1zM29 42h1v1h-1zM29 43h1v1h-1zM28 44h2v1h-2z"/>
<path fill="#d44c6c" d="M41 1h4v1h-4zM38 2h1v1h-1zM37 3h1v1h-1zM37 4h1v1h-1zM38 6h1v1h-1zM40 7h2v1h-2zM44 7h1v1h-1zM0 23h1v1h-1zM4 24h2v1h-2zM8 25h2v1h-2zM10 26h2v1h-2zM13 27h1v1h-1zM15 28h1v1h-1zM17 29h2v1h-2zM20 30h2v1h-2zM22 31h2v1h-2zM24 32h2v1h-2zM25 33h2v1h-2zM26 34h1v1h-1zM27 35h1v1h-1zM27 36h2v1h-2zM28 37h2v1h-2zM29 38h1v1h-1zM29 39h2v1h-2zM30 40h1v1h-1zM30 41h2v1h-2zM30 42h2v1h-2zM30 43h1v1h-1zM30 44h1v1h-1z"/>
<path fill="#d74f69" d="M39 1h2v1h-2zM37 2h1v1h-1zM37 5h1v1h-1zM37 6h1v1h-1zM39 7h1v1h-1zM41 8h4v1h-4zM1 23h3v1h-3zM6 24h3v1h-3zM10 25h2v1h-2zM12 26h2v1h-2zM14 27h2v1h-2zM16 28h3v1h-3zM19 29h2v1h-2zM22 30h2v1h-2zM24 31h2v1h-2zM26 32h1v1h-1zM27 33h1v1h-1zM27 34h2v1h-2zM28 35h2v1h-2zM29 36h1v1h-1zM30 37h1v1h-1zM30 38h2v1h-2zM31 39h2v1h-2zM31 40h2v1h-2zM32 41h2v1h-2zM32 42h1v1h-1zM31 43h2v1h-2zM31 44h1v1h-1z"/>
<path fill="#da5265" d="M43 0h2v1h-2zM38 1h1v1h-1zM36 3h1v1h-1zM36 4h1v1h-1zM36 5h1v1h-1zM38 7h1v1h-1zM39 8h2v1h-2zM43 9h2v1h-2zM0 22h1v1h-1zM4 23h5v1h-5zM9 24h4v1h-4zM12 25h3v1h-3zM14 26h3v1h-3zM16 27h3v1h-3zM19 28h2v1h-2zM21 29h3v1h-3zM24 30h2v1h-2zM26 31h2v1h-2zM27 32h2v1h-2zM28 33h2v1h-2zM29 34h2v1h-2zM30 35h2v1h-2zM30 36h3v1h-3zM31 37h3v1h-3zM32 38h3v1h-3zM33 39h2v1h-2zM33 40h3v1h-3zM34 41h2v1h-2zM33 42h2v1h-2zM33 43h2v1h-2zM32 44h2v1h-2z"/>
<path fill="#dc5562" d="M41 0h2v1h-2zM37 1h1v1h-1zM36 2h1v1h-1zM35 3h1v1h-1zM35 4h1v1h-1zM35 5h1v1h-1zM36 6h1v1h-1zM37 7h1v1h-1zM38 8h1v1h-1zM41 9h2v1h-2zM1 22h6v1h-6zM9 23h5v1h-5zM13 24h3v1h-3zM15 25h3v1h-3zM17 26h3v1h-3zM19 27h3v1h-3zM21 28h3v1h-3zM24 29h2v1h-2zM26 30h3v1h-3zM28 31h2v1h-2zM29 32h2v1h-2zM30 33h2v1h-2zM31 34h2v1h-2zM32 35h3v1h-3zM33 36h3v1h-3zM34 37h3v1h-3zM35 38h3v1h-3zM35 39h3v1h-3zM36 40h2v1h-2zM36 41h2v1h-2zM35 42h3v1h-3zM35 43h2v1h-2zM34 44h2v1h-2z"/>
<path fill="#de585f" d="M39 0h2v1h-2zM35 2h1v1h-1zM35 6h1v1h-1zM36 7h1v1h-1zM37 8h1v1h-1zM39 9h2v1h-2zM42 10h3v1h-3zM0 21h3v1h-3zM7 22h10v1h-10zM14 23h5v1h-5zM16 24h4v1h-4zM18 25h3v1h-3zM20 26h3v1h-3zM22 27h3v1h-3zM24 28h3v1h-3zM26 29h3v1h-3zM29 30h2v1h-2zM30 31h3v1h-3zM31 32h3v1h-3zM32 33h4v1h-4zM33 34h5v1h-5zM35 35h5v1h-5zM36 36h5v1h-5zM37 37h5v1h-5zM38 38h5v1h-5zM38 39h5v1h-5zM38 40h5v1h-5zM38 41h5v1h-5zM38 42h4v1h-4zM37 43h4v1h-4zM36 44h4v1h-4z"/>
<path fill="#e15b5c" d="M38 0h1v1h-1zM36 1h1v1h-1zM34 3h1v1h-1zM34 4h1v1h-1zM34 5h1v1h-1zM34 6h1v1h-1zM35 7h1v1h-1zM36 8h1v1h-1zM37 9h2v1h-2zM40 10h2v1h-2zM44 11h1v1h-1zM12 20h4v1h-4zM3 21h17v1h-17zM17 22h5v1h-5zM19 23h4v1h-4zM20 24h4v1h-4zM21 25h4v1h-4zM23 26h3v1h-3zM25 27h3v1h-3zM27 28h3v1h-3zM29 29h3v1h-3zM31 30h3v1h-3zM33 31h3v1h-3zM34 32h4v1h-4zM36 33h6v1h-6zM38 34h6v1h-6zM40 35h4v1h-4zM41 36h4v1h-4zM42 37h3v1h-3zM43 38h2v1h-2zM43 39h2v1h-2zM43 40h2v1h-2zM43 41h2v1h-2zM42 42h3v1h-3zM41 43h4v1h-4zM40 44h5v1h-5z"/>
<path fill="#e35e59" d="M37 0h1v1h-1zM35 1h1v1h-1zM34 2h1v1h-1zM33 4h1v1h-1zM33 5h1v1h-1zM33 6h1v1h-1zM34 7h1v1h-1zM34 8h2v1h-2zM36 9h1v1h-1zM38 10h2v1h-2zM41 11h3v1h-3zM10 19h9v1h-9zM0 20h12v1h-12zM16 20h6v1h-6zM20 21h4v1h-4zM22 22h3v1h-3zM23 23h3v1h-3zM24 24h3v1h-3zM25 25h3v1h-3zM26 26h4v1h-4zM28 27h4v1h-4zM30 28h4v1h-4zM32 29h5v1h-5zM34 30h5v1h-5zM36 31h8v1h-8zM38 32h7v1h-7zM42 33h3v1h-3zM44 34h1v1h-1zM44 35h1v1h-1z"/>
<path fill="#e56156" d="M36 0h1v1h-1zM34 1h1v1h-1zM33 2h1v1h-1zM33 3h1v1h-1zM32 5h1v1h-1zM32 6h1v1h-1zM33 7h1v1h-1zM33 8h1v1h-1zM34 9h2v1h-2zM36 10h2v1h-2zM38 11h3v1h-3zM42 12h3v1h-3zM9 18h12v1h-12zM3 19h7v1h-7zM19 19h5v1h-5zM22 20h4v1h-4zM24 21h3v1h-3zM25 22h3v1h-3zM26 23h3v1h-3zM27 24h3v1h-3zM28 25h4v1h-4zM30 26h4v1h-4zM32 27h5v1h-5zM34 28h6v1h-6zM37 29h8v1h-8zM39 30h6v1h-6zM44 31h1v1h-1z"/>
<path fill="#e76454" d="M35 0h1v1h-1zM33 1h1v1h-1zM32 3h1v1h-1zM32 4h1v1h-1zM31 6h1v1h-1zM31 7h2v1h-2zM32 8h1v1h-1zM32 9h2v1h-2zM34 10h2v1h-2zM36 11h2v1h-2zM38 12h4v1h-4zM41 13h4v1h-4zM9 17h13v1h-13zM4 18h5v1h-5zM21 18h4v1h-4zM0 19h3v1h-3zM24 19h3v1h-3zM26 20h3v1h-3zM27 21h3v1h-3zM28 22h3v1h-3zM29 23h4v1h-4zM30 24h4v1h-4zM32 25h5v1h-5zM34 26h7v1h-7zM37 27h8v1h-8zM40 28h5v1h-5z"/>
<path fill="#e96751" d="M34 0h1v1h-1zM32 2h1v1h-1zM31 3h1v1h-1zM31 4h1v1h-1zM31 5h1v1h-1zM30 6h1v1h-1zM30 7h1v1h-1zM30 8h2v1h-2zM31 9h1v1h-1zM32 10h2v1h-2zM33 11h3v1h-3zM36 12h2v1h-2zM38 13h3v1h-3zM39 14h6v1h-6zM40 15h5v1h-5zM7 16h16v1h-16zM40 16h5v1h-5zM4 17h5v1h-5zM22 17h5v1h-5zM39 17h6v1h-6zM0 18h4v1h-4zM25 18h5v1h-5zM39 18h6v1h-6zM27 19h6v1h-6zM40 19h5v1h-5zM29 20h5v1h-5zM43 20h2v1h-2zM30 21h5v1h-5zM31 22h5v1h-5zM33 23h5v1h-5zM34 24h8v1h-8zM44 24h1v1h-1zM37 25h8v1h-8zM41 26h4v1h-4z"/>
<path fill="#eb6c4e" d="M33 0h1v1h-1zM32 1h1v1h-1zM31 2h1v1h-1zM30 4h1v1h-1zM30 5h1v1h-1zM29 6h1v1h-1zM28 7h2v1h-2zM28 8h2v1h-2zM28 9h3v1h-3zM28 10h4v1h-4zM30 11h3v1h-3zM32 12h4v1h-4zM34 13h4v1h-4zM35 14h4v1h-4zM5 15h20v1h-20zM35 15h5v1h-5zM3 16h4v1h-4zM23 16h7v1h-7zM32 16h8v1h-8zM0 17h4v1h-4zM27 17h12v1h-12zM30 18h9v1h-9zM33 19h7v1h-7zM34 20h9v1h-9zM35 21h10v1h-10zM36 22h9v1h-9zM38 23h7v1h-7zM42 24h2v1h-2z"/>
<path fill="#ec714c" d="M32 0h1v1h-1zM31 1h1v1h-1zM30 2h1v1h-1zM30 3h1v1h-1zM29 4h1v1h-1zM28 5h2v1h-2zM26 6h3v1h-3zM24 7h4v1h-4zM21 8h7v1h-7zM20 9h8v1h-8zM20 10h8v1h-8zM20 11h10v1h-10zM20 12h12v1h-12zM6 13h28v1h-28zM3 14h32v1h-32zM1 15h4v1h-4zM25 15h10v1h-10zM0 16h3v1h-3zM30 16h2v1h-2z"/>
<path fill="#ee7649" d="M30 0h2v1h-2zM30 1h1v1h-1zM29 2h1v1h-1zM28 3h2v1h-2zM27 4h2v1h-2zM22 5h6v1h-6zM18 6h8v1h-8zM15 7h9v1h-9zM12 8h9v1h-9zM9 9h11v1h-11zM7 10h13v1h-13zM4 11h16v1h-16zM2 12h18v1h-18zM1 13h5v1h-5zM0 14h3v1h-3zM0 15h1v1h-1z"/>
<path fill="#ef7b47" d="M27 0h3v1h-3zM27 1h3v1h-3zM26 2h3v1h-3zM20 3h8v1h-8zM17 4h10v1h-10zM13 5h9v1h-9zM10 6h8v1h-8zM7 7h8v1h-8zM5 8h7v1h-7zM3 9h6v1h-6zM1 10h6v1h-6zM0 11h4v1h-4zM0 12h2v1h-2zM0 13h1v1h-1z"/>
<path fill="#f18044" d="M15 0h12v1h-12zM15 1h12v1h-12zM13 2h13v1h-13zM10 3h10v1h-10zM7 4h10v1h-10zM5 5h8v1h-8zM4 6h6v1h-6zM2 7h5v1h-5zM1 8h4v1h-4zM0 9h3v1h-3zM0 10h1v1h-1z"/>
<path fill="#f28541" d="M4 0h11v1h-11zM4 1h11v1h-11zM4 2h9v1h-9zM3 3h7v1h-7zM2 4h5v1h-5zM1 5h4v1h-4zM0 6h4v1h-4zM0 7h2v1h-2zM0 8h1v1h-1z"/>
<path fill="#f38a3f" d="M0 0h4v1h-4zM0 1h4v1h-4zM0 2h4v1h-4zM0 3h3v1h-3zM0 4h2v1h-2zM0 5h1v1h-1z"/>
</g>
<g transform="translate(1519 78) scale(9.6667 9.6489)" shape-rendering="crispEdges">
<path fill="#36234c" d="M1 0h1v1h-1zM6 0h1v1h-1zM1 1h1v1h-1zM2 2h2v1h-2zM5 2h1v1h-1zM5 3h1v1h-1zM1 5h1v1h-1zM10 5h1v1h-1zM5 6h1v1h-1zM4 7h1v1h-1zM1 8h1v1h-1zM2 17h1v1h-1z"/>
<path fill="#372552" d="M3 0h3v1h-3zM7 0h2v1h-2zM0 1h1v1h-1zM2 1h2v1h-2zM6 1h1v1h-1zM8 1h2v1h-2zM15 1h1v1h-1zM1 2h1v1h-1zM6 2h2v1h-2zM10 2h2v1h-2zM1 3h1v1h-1zM6 3h2v1h-2zM0 4h2v1h-2zM7 4h1v1h-1zM0 5h1v1h-1zM3 5h4v1h-4zM8 5h1v1h-1zM1 6h1v1h-1zM9 6h1v1h-1zM1 7h1v1h-1zM3 7h1v1h-1zM5 7h1v1h-1zM7 7h2v1h-2zM0 8h1v1h-1zM3 8h1v1h-1zM5 8h2v1h-2zM8 8h1v1h-1zM1 9h3v1h-3zM3 10h1v1h-1zM2 11h1v1h-1zM1 13h1v1h-1zM0 14h1v1h-1zM0 15h1v1h-1zM0 17h1v1h-1zM0 19h1v1h-1zM41 40h1v1h-1z"/>
<path fill="#372758" d="M2 0h1v1h-1zM10 0h5v1h-5zM5 1h1v1h-1zM7 1h1v1h-1zM10 1h1v1h-1zM12 1h2v1h-2zM0 2h1v1h-1zM8 2h2v1h-2zM12 2h1v1h-1zM0 3h1v1h-1zM3 3h1v1h-1zM9 3h3v1h-3zM13 3h2v1h-2zM2 4h4v1h-4zM8 4h1v1h-1zM10 4h1v1h-1zM2 5h1v1h-1zM7 5h1v1h-1zM9 5h1v1h-1zM12 5h1v1h-1zM2 6h3v1h-3zM7 6h2v1h-2zM10 6h1v1h-1zM2 7h1v1h-1zM6 7h1v1h-1zM10 7h2v1h-2zM2 8h1v1h-1zM0 9h1v1h-1zM5 9h1v1h-1zM11 9h1v1h-1zM0 10h3v1h-3zM4 10h1v1h-1zM0 11h2v1h-2zM3 11h2v1h-2zM9 11h1v1h-1zM0 12h1v1h-1zM2 12h2v1h-2zM5 12h1v1h-1zM0 13h1v1h-1zM2 13h1v1h-1zM4 13h2v1h-2zM7 13h1v1h-1zM2 14h1v1h-1zM3 15h1v1h-1zM1 16h1v1h-1zM41 41h1v1h-1z"/>
<path fill="#38295d" d="M0 0h1v1h-1zM15 0h1v1h-1zM4 1h1v1h-1zM11 1h1v1h-1zM14 1h1v1h-1zM18 1h1v1h-1zM4 2h1v1h-1zM2 3h1v1h-1zM4 3h1v1h-1zM8 3h1v1h-1zM12 3h1v1h-1zM6 4h1v1h-1zM9 4h1v1h-1zM11 5h1v1h-1zM15 5h1v1h-1zM0 6h1v1h-1zM6 6h1v1h-1zM11 6h1v1h-1zM0 7h1v1h-1zM9 7h1v1h-1zM12 7h1v1h-1zM4 8h1v1h-1zM9 8h1v1h-1zM4 9h1v1h-1zM6 9h2v1h-2zM10 9h1v1h-1zM5 10h1v1h-1zM7 10h2v1h-2zM11 10h1v1h-1zM7 11h2v1h-2zM1 12h1v1h-1zM4 12h1v1h-1zM6 12h2v1h-2zM3 13h1v1h-1zM6 13h1v1h-1zM1 14h1v1h-1zM3 14h2v1h-2zM7 14h1v1h-1zM1 15h1v1h-1zM0 16h1v1h-1zM2 16h1v1h-1zM3 17h1v1h-1zM0 18h1v1h-1zM2 18h1v1h-1zM5 18h1v1h-1zM0 20h1v1h-1zM38 89h1v1h-1z"/>
<path fill="#382a63" d="M16 0h2v1h-2zM19 0h1v1h-1zM16 1h2v1h-2zM13 2h4v1h-4zM15 3h1v1h-1zM17 3h1v1h-1zM12 4h1v1h-1zM14 4h2v1h-2zM13 5h1v1h-1zM12 6h2v1h-2zM14 7h1v1h-1zM7 8h1v1h-1zM10 8h3v1h-3zM8 9h2v1h-2zM6 10h1v1h-1zM9 10h1v1h-1zM12 10h1v1h-1zM5 11h1v1h-1zM10 11h1v1h-1zM12 11h1v1h-1zM8 12h1v1h-1zM10 12h1v1h-1zM5 14h2v1h-2zM2 15h1v1h-1zM4 15h3v1h-3zM8 15h1v1h-1zM4 16h1v1h-1zM1 17h1v1h-1zM5 17h1v1h-1zM1 18h1v1h-1zM3 18h2v1h-2zM1 19h2v1h-2zM1 20h3v1h-3zM0 21h2v1h-2zM0 22h2v1h-2z"/>
<path fill="#392d69" d="M9 0h1v1h-1zM18 0h1v1h-1zM20 0h1v1h-1zM19 1h2v1h-2zM22 1h1v1h-1zM17 2h2v1h-2zM20 2h1v1h-1zM18 3h3v1h-3zM11 4h1v1h-1zM13 4h1v1h-1zM16 4h1v1h-1zM18 4h1v1h-1zM14 5h1v1h-1zM16 5h3v1h-3zM14 6h1v1h-1zM16 6h1v1h-1zM13 7h1v1h-1zM13 8h1v1h-1zM15 8h1v1h-1zM12 9h1v1h-1zM10 10h1v1h-1zM14 10h1v1h-1zM6 11h1v1h-1zM11 11h1v1h-1zM14 11h1v1h-1zM11 12h1v1h-1zM8 13h3v1h-3zM8 14h2v1h-2zM3 16h1v1h-1zM6 16h2v1h-2zM6 17h2v1h-2zM3 19h2v1h-2zM0 23h1v1h-1zM41 42h1v1h-1z"/>
<path fill="#392f6f" d="M22 0h2v1h-2zM23 1h1v1h-1zM19 2h1v1h-1zM17 4h1v1h-1zM15 6h1v1h-1zM15 7h1v1h-1zM18 7h1v1h-1zM14 8h1v1h-1zM13 9h2v1h-2zM13 10h1v1h-1zM15 10h1v1h-1zM9 12h1v1h-1zM12 12h1v1h-1zM14 12h1v1h-1zM12 13h1v1h-1zM10 14h1v1h-1zM7 15h1v1h-1zM10 15h1v1h-1zM5 16h1v1h-1zM4 17h1v1h-1zM9 17h1v1h-1zM6 18h1v1h-1zM5 19h1v1h-1zM7 19h1v1h-1zM4 20h1v1h-1zM2 21h4v1h-4zM4 22h1v1h-1z"/>
<path fill="#3a3175" d="M21 0h1v1h-1zM24 0h1v1h-1zM21 1h1v1h-1zM26 1h1v1h-1zM21 2h2v1h-2zM16 3h1v1h-1zM19 4h2v1h-2zM19 5h3v1h-3zM17 6h3v1h-3zM16 7h2v1h-2zM19 7h1v1h-1zM16 8h1v1h-1zM15 9h2v1h-2zM13 11h1v1h-1zM15 11h1v1h-1zM13 12h1v1h-1zM11 13h1v1h-1zM13 13h1v1h-1zM12 14h2v1h-2zM9 15h1v1h-1zM12 15h1v1h-1zM8 16h1v1h-1zM10 16h1v1h-1zM12 16h1v1h-1zM9 18h1v1h-1zM6 19h1v1h-1zM6 21h1v1h-1zM3 22h1v1h-1zM5 22h1v1h-1zM3 23h1v1h-1zM0 24h3v1h-3zM41 39h1v1h-1zM40 40h1v1h-1zM39 88h1v1h-1z"/>
<path fill="#3a3379" d="M25 0h1v1h-1zM24 1h1v1h-1zM23 2h1v1h-1zM21 3h1v1h-1zM23 3h1v1h-1zM22 4h1v1h-1zM17 8h1v1h-1zM17 9h2v1h-2zM16 10h1v1h-1zM17 11h1v1h-1zM15 12h1v1h-1zM16 13h2v1h-2zM11 14h1v1h-1zM14 14h1v1h-1zM11 15h1v1h-1zM13 15h1v1h-1zM9 16h1v1h-1zM11 16h1v1h-1zM8 17h1v1h-1zM10 17h1v1h-1zM7 18h2v1h-2zM5 20h1v1h-1zM7 20h1v1h-1zM8 21h1v1h-1zM2 22h1v1h-1zM1 23h2v1h-2zM38 37h1v1h-1zM40 41h1v1h-1zM41 74h1v1h-1zM38 88h1v1h-1zM39 89h1v1h-1zM41 93h1v1h-1z"/>
<path fill="#3b367d" d="M27 0h2v1h-2zM25 1h1v1h-1zM27 1h1v1h-1zM24 2h1v1h-1zM28 2h1v1h-1zM22 3h1v1h-1zM21 4h1v1h-1zM24 4h1v1h-1zM22 5h1v1h-1zM20 6h1v1h-1zM20 7h1v1h-1zM19 8h2v1h-2zM17 10h2v1h-2zM16 11h1v1h-1zM16 12h1v1h-1zM15 14h1v1h-1zM13 16h1v1h-1zM11 17h2v1h-2zM11 18h1v1h-1zM8 19h2v1h-2zM6 20h1v1h-1zM9 20h1v1h-1zM7 22h1v1h-1zM3 24h1v1h-1zM0 25h1v1h-1zM2 25h1v1h-1zM41 34h1v1h-1zM39 37h1v1h-1zM37 89h1v1h-1z"/>
<path fill="#3c3980" d="M26 0h1v1h-1zM30 0h1v1h-1zM24 3h2v1h-2zM27 3h1v1h-1zM23 4h1v1h-1zM25 4h1v1h-1zM23 5h1v1h-1zM25 5h1v1h-1zM21 6h3v1h-3zM18 8h1v1h-1zM20 10h1v1h-1zM14 13h2v1h-2zM14 17h1v1h-1zM10 18h1v1h-1zM12 18h2v1h-2zM10 19h1v1h-1zM8 20h1v1h-1zM7 21h1v1h-1zM9 21h1v1h-1zM6 22h1v1h-1zM8 22h1v1h-1zM4 23h2v1h-2zM4 24h1v1h-1zM1 25h1v1h-1zM3 25h1v1h-1zM0 26h2v1h-2zM41 35h1v1h-1zM41 75h1v1h-1zM23 93h2v1h-2z"/>
<path fill="#3d3c83" d="M29 0h1v1h-1zM28 1h2v1h-2zM26 2h1v1h-1zM26 3h1v1h-1zM26 4h2v1h-2zM24 5h1v1h-1zM21 7h2v1h-2zM21 8h2v1h-2zM19 9h4v1h-4zM19 10h1v1h-1zM18 11h1v1h-1zM20 11h1v1h-1zM17 12h3v1h-3zM18 13h1v1h-1zM16 14h2v1h-2zM14 15h2v1h-2zM14 16h2v1h-2zM13 17h1v1h-1zM14 18h1v1h-1zM12 19h1v1h-1zM10 20h2v1h-2zM6 23h3v1h-3zM5 24h1v1h-1zM0 27h1v1h-1zM41 29h1v1h-1zM39 31h1v1h-1zM39 32h1v1h-1zM37 37h1v1h-1zM38 38h1v1h-1zM41 43h1v1h-1zM41 73h1v1h-1zM40 74h1v1h-1zM17 88h1v1h-1zM38 90h1v1h-1z"/>
<path fill="#3e3e86" d="M31 0h1v1h-1zM31 1h1v1h-1zM25 2h1v1h-1zM27 2h1v1h-1zM29 2h2v1h-2zM32 2h1v1h-1zM28 3h1v1h-1zM24 6h1v1h-1zM23 7h2v1h-2zM22 10h1v1h-1zM19 11h1v1h-1zM21 11h1v1h-1zM20 12h1v1h-1zM16 15h2v1h-2zM16 16h2v1h-2zM15 17h1v1h-1zM11 19h1v1h-1zM14 19h1v1h-1zM13 20h1v1h-1zM10 21h1v1h-1zM9 22h1v1h-1zM9 23h1v1h-1zM7 24h2v1h-2zM6 25h1v1h-1zM1 27h1v1h-1zM39 30h2v1h-2zM40 31h1v1h-1zM41 32h1v1h-1zM41 33h1v1h-1zM40 34h1v1h-1zM39 35h2v1h-2zM38 36h3v1h-3zM39 38h1v1h-1zM40 39h1v1h-1zM32 40h1v1h-1zM39 40h1v1h-1zM36 54h1v1h-1zM11 74h1v1h-1zM40 75h1v1h-1zM39 82h1v1h-1zM38 83h2v1h-2zM18 88h1v1h-1zM40 88h1v1h-1zM31 91h1v1h-1z"/>
<path fill="#3f4188" d="M29 3h2v1h-2zM28 4h1v1h-1zM26 5h1v1h-1zM28 5h1v1h-1zM26 6h1v1h-1zM25 7h1v1h-1zM23 8h2v1h-2zM23 9h1v1h-1zM21 10h1v1h-1zM23 10h1v1h-1zM20 13h1v1h-1zM19 15h1v1h-1zM16 17h1v1h-1zM15 18h1v1h-1zM13 19h1v1h-1zM15 19h1v1h-1zM12 20h1v1h-1zM14 20h1v1h-1zM12 21h1v1h-1zM10 22h1v1h-1zM6 24h1v1h-1zM4 25h2v1h-2zM2 26h1v1h-1zM0 28h1v1h-1zM40 32h1v1h-1zM39 33h2v1h-2zM41 38h1v1h-1zM26 41h1v1h-1zM39 41h1v1h-1zM40 42h1v1h-1zM38 46h1v1h-1zM36 53h1v1h-1zM41 68h1v1h-1zM35 70h1v1h-1zM28 71h1v1h-1zM11 75h2v1h-2zM12 76h1v1h-1zM38 82h1v1h-1zM37 88h1v1h-1zM41 92h1v1h-1zM25 93h1v1h-1z"/>
<path fill="#3f4489" d="M32 0h1v1h-1zM36 0h1v1h-1zM30 1h1v1h-1zM32 1h2v1h-2zM31 2h1v1h-1zM31 3h1v1h-1zM27 5h1v1h-1zM29 5h1v1h-1zM25 6h1v1h-1zM27 6h1v1h-1zM30 6h1v1h-1zM26 7h3v1h-3zM26 8h1v1h-1zM28 8h1v1h-1zM22 11h1v1h-1zM24 11h1v1h-1zM21 12h1v1h-1zM19 13h1v1h-1zM21 13h1v1h-1zM18 14h4v1h-4zM18 15h1v1h-1zM20 15h1v1h-1zM18 16h1v1h-1zM17 17h1v1h-1zM16 19h1v1h-1zM11 21h1v1h-1zM11 22h1v1h-1zM10 23h1v1h-1zM9 24h2v1h-2zM8 25h1v1h-1zM8 26h1v1h-1zM2 27h1v1h-1zM1 28h1v1h-1zM39 29h2v1h-2zM38 30h1v1h-1zM38 32h1v1h-1zM38 35h1v1h-1zM41 36h1v1h-1zM37 38h1v1h-1zM32 39h1v1h-1zM38 39h1v1h-1zM33 40h1v1h-1zM36 42h1v1h-1zM23 66h1v1h-1zM39 74h1v1h-1zM24 81h1v1h-1zM39 81h1v1h-1zM40 83h1v1h-1zM16 88h1v1h-1zM18 89h1v1h-1zM40 89h1v1h-1zM37 90h1v1h-1zM39 90h1v1h-1zM32 91h1v1h-1z"/>
<path fill="#3f478a" d="M33 0h2v1h-2zM32 3h1v1h-1zM29 4h2v1h-2zM30 5h1v1h-1zM28 6h1v1h-1zM29 7h1v1h-1zM25 8h1v1h-1zM27 8h1v1h-1zM24 9h3v1h-3zM24 10h3v1h-3zM23 11h1v1h-1zM23 13h1v1h-1zM18 17h1v1h-1zM17 18h2v1h-2zM18 19h1v1h-1zM15 20h1v1h-1zM17 20h1v1h-1zM13 21h1v1h-1zM12 22h1v1h-1zM15 22h1v1h-1zM11 23h2v1h-2zM11 24h1v1h-1zM7 25h1v1h-1zM3 26h2v1h-2zM9 26h1v1h-1zM41 26h1v1h-1zM7 27h1v1h-1zM40 27h1v1h-1zM39 28h3v1h-3zM0 29h1v1h-1zM0 30h1v1h-1zM38 31h1v1h-1zM41 31h1v1h-1zM39 34h1v1h-1zM40 37h2v1h-2zM33 39h1v1h-1zM37 39h1v1h-1zM39 39h1v1h-1zM39 45h1v1h-1zM39 46h1v1h-1zM39 47h1v1h-1zM37 53h1v1h-1zM37 54h1v1h-1zM37 56h1v1h-1zM23 65h2v1h-2zM40 67h1v1h-1zM36 69h1v1h-1zM36 70h1v1h-1zM40 73h1v1h-1zM25 81h1v1h-1zM37 81h2v1h-2zM40 81h1v1h-1zM37 82h1v1h-1zM37 83h1v1h-1zM16 87h2v1h-2zM17 89h1v1h-1zM31 90h2v1h-2zM23 92h2v1h-2z"/>
<path fill="#40498b" d="M35 1h1v1h-1zM35 2h1v1h-1zM33 3h1v1h-1zM31 4h1v1h-1zM31 5h1v1h-1zM30 7h2v1h-2zM29 8h1v1h-1zM25 11h1v1h-1zM22 12h3v1h-3zM22 13h1v1h-1zM22 14h1v1h-1zM24 14h1v1h-1zM21 15h2v1h-2zM19 16h2v1h-2zM22 16h1v1h-1zM20 17h1v1h-1zM16 18h1v1h-1zM19 18h1v1h-1zM21 18h1v1h-1zM17 19h1v1h-1zM16 20h1v1h-1zM14 21h1v1h-1zM13 22h1v1h-1zM9 25h1v1h-1zM41 25h1v1h-1zM5 26h3v1h-3zM3 27h1v1h-1zM6 27h1v1h-1zM41 27h1v1h-1zM2 28h1v1h-1zM1 29h1v1h-1zM3 29h2v1h-2zM30 30h1v1h-1zM41 30h1v1h-1zM33 33h2v1h-2zM38 33h1v1h-1zM34 34h1v1h-1zM37 36h1v1h-1zM31 40h1v1h-1zM38 40h1v1h-1zM25 41h1v1h-1zM26 42h1v1h-1zM37 42h1v1h-1zM41 44h1v1h-1zM40 45h2v1h-2zM27 51h1v1h-1zM41 51h1v1h-1zM36 55h2v1h-2zM41 61h1v1h-1zM9 62h1v1h-1zM8 63h2v1h-2zM30 64h1v1h-1zM24 66h1v1h-1zM23 67h1v1h-1zM40 68h1v1h-1zM35 69h1v1h-1zM34 70h1v1h-1zM27 71h1v1h-1zM27 72h1v1h-1zM10 74h1v1h-1zM13 75h1v1h-1zM17 82h3v1h-3zM40 82h1v1h-1zM33 84h1v1h-1zM39 84h2v1h-2zM39 87h2v1h-2zM38 91h1v1h-1zM25 92h1v1h-1zM31 92h2v1h-2zM40 93h1v1h-1z"/>
<path fill="#404c8b" d="M35 0h1v1h-1zM34 1h1v1h-1zM36 1h2v1h-2zM33 2h2v1h-2zM36 2h1v1h-1zM35 3h1v1h-1zM33 4h1v1h-1zM36 4h1v1h-1zM34 5h1v1h-1zM29 6h1v1h-1zM31 6h1v1h-1zM33 6h1v1h-1zM32 7h1v1h-1zM31 8h1v1h-1zM27 10h1v1h-1zM26 11h2v1h-2zM25 12h2v1h-2zM24 13h1v1h-1zM23 14h1v1h-1zM23 15h1v1h-1zM21 16h1v1h-1zM19 17h1v1h-1zM21 17h2v1h-2zM20 18h1v1h-1zM19 19h2v1h-2zM18 20h1v1h-1zM15 21h2v1h-2zM14 23h3v1h-3zM13 24h1v1h-1zM16 24h1v1h-1zM40 24h1v1h-1zM10 25h1v1h-1zM40 25h1v1h-1zM39 26h2v1h-2zM4 27h1v1h-1zM39 27h1v1h-1zM3 28h1v1h-1zM7 28h2v1h-2zM19 28h2v1h-2zM2 29h1v1h-1zM5 29h2v1h-2zM19 29h2v1h-2zM38 29h1v1h-1zM1 30h3v1h-3zM5 30h1v1h-1zM30 31h1v1h-1zM33 34h1v1h-1zM38 34h1v1h-1zM28 35h1v1h-1zM18 36h1v1h-1zM18 37h2v1h-2zM36 37h1v1h-1zM40 38h1v1h-1zM37 40h1v1h-1zM23 41h1v1h-1zM27 41h1v1h-1zM38 41h1v1h-1zM40 43h1v1h-1zM40 44h1v1h-1zM40 46h1v1h-1zM38 47h1v1h-1zM41 50h1v1h-1zM8 62h1v1h-1zM39 66h1v1h-1zM39 67h1v1h-1zM15 69h1v1h-1zM41 69h1v1h-1zM26 71h1v1h-1zM35 71h2v1h-2zM11 76h1v1h-1zM41 76h1v1h-1zM23 80h3v1h-3zM38 80h1v1h-1zM18 81h1v1h-1zM26 81h1v1h-1zM15 87h1v1h-1zM38 87h1v1h-1zM41 87h1v1h-1zM15 88h1v1h-1zM41 88h1v1h-1zM39 92h2v1h-2z"/>
<path fill="#40508c" d="M38 0h2v1h-2zM37 2h1v1h-1zM34 3h1v1h-1zM36 3h1v1h-1zM32 4h1v1h-1zM34 4h2v1h-2zM32 5h2v1h-2zM35 5h1v1h-1zM32 8h2v1h-2zM27 9h3v1h-3zM28 10h2v1h-2zM27 12h1v1h-1zM25 13h1v1h-1zM24 15h1v1h-1zM27 16h1v1h-1zM23 17h1v1h-1zM19 20h1v1h-1zM21 20h1v1h-1zM18 21h1v1h-1zM20 21h1v1h-1zM41 21h1v1h-1zM14 22h1v1h-1zM17 22h1v1h-1zM19 22h1v1h-1zM13 23h1v1h-1zM38 23h1v1h-1zM41 23h1v1h-1zM12 24h1v1h-1zM14 24h2v1h-2zM22 24h1v1h-1zM39 24h1v1h-1zM41 24h1v1h-1zM13 25h1v1h-1zM15 25h1v1h-1zM12 26h1v1h-1zM8 27h1v1h-1zM19 27h1v1h-1zM4 28h2v1h-2zM18 28h1v1h-1zM35 28h1v1h-1zM8 29h1v1h-1zM21 29h1v1h-1zM23 29h1v1h-1zM4 30h1v1h-1zM6 30h2v1h-2zM31 30h1v1h-1zM0 31h1v1h-1zM13 31h1v1h-1zM31 31h1v1h-1zM37 31h1v1h-1zM0 32h1v1h-1zM13 32h1v1h-1zM31 32h2v1h-2zM22 33h1v1h-1zM32 33h1v1h-1zM35 33h1v1h-1zM35 34h1v1h-1zM29 35h1v1h-1zM37 35h1v1h-1zM17 36h1v1h-1zM19 36h1v1h-1zM29 36h1v1h-1zM29 37h1v1h-1zM30 39h2v1h-2zM34 39h1v1h-1zM26 40h1v1h-1zM30 40h1v1h-1zM24 41h1v1h-1zM37 41h1v1h-1zM25 42h1v1h-1zM36 43h1v1h-1zM33 48h1v1h-1zM39 48h1v1h-1zM38 56h1v1h-1zM2 57h1v1h-1zM38 57h1v1h-1zM41 57h1v1h-1zM39 59h2v1h-2zM39 60h3v1h-3zM40 61h1v1h-1zM36 62h1v1h-1zM29 63h1v1h-1zM37 63h1v1h-1zM24 64h1v1h-1zM37 65h1v1h-1zM22 66h1v1h-1zM22 67h1v1h-1zM38 67h1v1h-1zM41 67h1v1h-1zM39 68h1v1h-1zM34 69h1v1h-1zM28 70h1v1h-1zM37 70h1v1h-1zM28 72h1v1h-1zM41 72h1v1h-1zM12 74h1v1h-1zM39 75h1v1h-1zM13 76h1v1h-1zM26 80h1v1h-1zM36 80h2v1h-2zM39 80h1v1h-1zM41 81h1v1h-1zM36 82h1v1h-1zM41 82h1v1h-1zM34 84h1v1h-1zM24 86h1v1h-1zM2 87h1v1h-1zM30 91h1v1h-1zM39 91h1v1h-1zM16 93h2v1h-2zM26 93h1v1h-1z"/>
<path fill="#40548d" d="M37 0h1v1h-1zM40 3h1v1h-1zM38 4h1v1h-1zM36 5h1v1h-1zM32 6h1v1h-1zM36 6h1v1h-1zM33 7h2v1h-2zM30 8h1v1h-1zM30 9h1v1h-1zM34 9h1v1h-1zM30 10h1v1h-1zM32 10h1v1h-1zM28 11h2v1h-2zM28 12h1v1h-1zM31 12h1v1h-1zM26 13h3v1h-3zM34 13h1v1h-1zM25 14h1v1h-1zM25 15h2v1h-2zM24 16h2v1h-2zM22 18h1v1h-1zM26 18h2v1h-2zM40 18h1v1h-1zM21 19h1v1h-1zM41 19h1v1h-1zM20 20h1v1h-1zM27 20h1v1h-1zM17 21h1v1h-1zM22 21h2v1h-2zM40 21h1v1h-1zM17 23h1v1h-1zM21 23h1v1h-1zM33 23h1v1h-1zM38 24h1v1h-1zM11 25h2v1h-2zM14 25h1v1h-1zM17 25h2v1h-2zM38 25h1v1h-1zM10 26h2v1h-2zM13 26h1v1h-1zM15 26h1v1h-1zM35 26h1v1h-1zM5 27h1v1h-1zM9 27h1v1h-1zM17 27h1v1h-1zM20 27h1v1h-1zM6 28h1v1h-1zM9 28h2v1h-2zM16 28h2v1h-2zM21 28h1v1h-1zM7 29h1v1h-1zM10 29h3v1h-3zM14 29h2v1h-2zM18 29h1v1h-1zM22 29h1v1h-1zM30 29h2v1h-2zM36 29h1v1h-1zM8 30h1v1h-1zM11 30h3v1h-3zM37 30h1v1h-1zM1 31h1v1h-1zM3 31h1v1h-1zM6 31h1v1h-1zM12 31h1v1h-1zM12 32h1v1h-1zM21 32h1v1h-1zM33 32h1v1h-1zM37 32h1v1h-1zM21 33h1v1h-1zM31 33h1v1h-1zM27 34h2v1h-2zM30 34h1v1h-1zM17 35h1v1h-1zM27 35h1v1h-1zM30 35h1v1h-1zM34 35h1v1h-1zM28 36h1v1h-1zM20 37h1v1h-1zM36 38h1v1h-1zM25 40h1v1h-1zM28 40h1v1h-1zM22 41h1v1h-1zM32 41h2v1h-2zM36 41h1v1h-1zM15 44h1v1h-1zM29 45h2v1h-2zM38 45h1v1h-1zM13 50h1v1h-1zM40 51h1v1h-1zM41 52h1v1h-1zM37 57h1v1h-1zM38 59h1v1h-1zM10 63h1v1h-1zM30 63h2v1h-2zM9 64h1v1h-1zM29 64h1v1h-1zM31 64h1v1h-1zM30 65h1v1h-1zM38 65h1v1h-1zM37 66h2v1h-2zM24 67h1v1h-1zM37 68h2v1h-2zM14 69h1v1h-1zM37 69h1v1h-1zM29 71h1v1h-1zM39 73h1v1h-1zM38 74h1v1h-1zM10 75h1v1h-1zM40 76h1v1h-1zM12 77h1v1h-1zM35 78h1v1h-1zM24 79h2v1h-2zM40 80h2v1h-2zM17 81h1v1h-1zM20 81h1v1h-1zM23 81h1v1h-1zM35 81h2v1h-2zM35 82h1v1h-1zM18 83h1v1h-1zM33 83h2v1h-2zM41 83h1v1h-1zM32 84h1v1h-1zM38 84h1v1h-1zM41 84h1v1h-1zM32 85h2v1h-2zM3 86h1v1h-1zM25 86h1v1h-1zM40 86h1v1h-1zM3 87h1v1h-1zM18 87h1v1h-1zM24 87h1v1h-1zM26 87h1v1h-1zM19 88h1v1h-1zM25 88h1v1h-1zM36 88h1v1h-1zM36 89h1v1h-1zM41 89h1v1h-1zM30 90h1v1h-1zM33 91h1v1h-1zM22 92h1v1h-1zM33 92h1v1h-1zM22 93h1v1h-1zM38 93h1v1h-1z"/>
<path fill="#3f588e" d="M38 2h1v1h-1zM37 3h1v1h-1zM37 4h1v1h-1zM34 6h2v1h-2zM38 6h1v1h-1zM37 7h1v1h-1zM34 8h3v1h-3zM31 9h3v1h-3zM38 9h1v1h-1zM31 10h1v1h-1zM33 10h2v1h-2zM36 11h1v1h-1zM29 12h2v1h-2zM29 13h2v1h-2zM26 14h3v1h-3zM31 14h1v1h-1zM35 14h1v1h-1zM32 15h1v1h-1zM34 15h1v1h-1zM23 16h1v1h-1zM26 16h1v1h-1zM33 16h1v1h-1zM38 16h1v1h-1zM24 17h2v1h-2zM28 17h1v1h-1zM23 18h2v1h-2zM30 18h1v1h-1zM39 18h1v1h-1zM41 18h1v1h-1zM23 19h1v1h-1zM28 19h1v1h-1zM38 19h2v1h-2zM22 20h2v1h-2zM26 20h1v1h-1zM37 20h1v1h-1zM41 20h1v1h-1zM19 21h1v1h-1zM21 21h1v1h-1zM25 21h1v1h-1zM16 22h1v1h-1zM18 22h1v1h-1zM20 22h3v1h-3zM25 22h1v1h-1zM40 22h1v1h-1zM18 23h2v1h-2zM22 23h2v1h-2zM26 23h1v1h-1zM36 23h2v1h-2zM40 23h1v1h-1zM17 24h1v1h-1zM21 24h1v1h-1zM16 25h1v1h-1zM23 25h1v1h-1zM27 25h1v1h-1zM39 25h1v1h-1zM14 26h1v1h-1zM16 26h2v1h-2zM19 26h1v1h-1zM38 26h1v1h-1zM10 27h2v1h-2zM14 27h2v1h-2zM22 27h1v1h-1zM36 27h1v1h-1zM12 28h2v1h-2zM15 28h1v1h-1zM22 28h1v1h-1zM28 28h1v1h-1zM34 28h1v1h-1zM36 28h3v1h-3zM13 29h1v1h-1zM28 29h1v1h-1zM34 29h2v1h-2zM14 30h1v1h-1zM19 30h3v1h-3zM29 30h1v1h-1zM35 30h1v1h-1zM2 31h1v1h-1zM4 31h2v1h-2zM29 31h1v1h-1zM35 31h2v1h-2zM1 32h1v1h-1zM23 32h1v1h-1zM30 32h1v1h-1zM34 32h1v1h-1zM36 32h1v1h-1zM13 33h1v1h-1zM23 33h1v1h-1zM37 33h1v1h-1zM12 34h1v1h-1zM22 34h2v1h-2zM25 34h1v1h-1zM29 34h1v1h-1zM32 34h1v1h-1zM18 35h1v1h-1zM16 36h1v1h-1zM20 36h1v1h-1zM36 36h1v1h-1zM17 37h1v1h-1zM28 37h1v1h-1zM30 37h1v1h-1zM35 37h1v1h-1zM8 38h3v1h-3zM20 38h1v1h-1zM34 38h1v1h-1zM29 39h1v1h-1zM36 39h1v1h-1zM27 40h1v1h-1zM34 40h1v1h-1zM24 42h1v1h-1zM35 42h1v1h-1zM39 42h1v1h-1zM35 43h1v1h-1zM16 44h1v1h-1zM31 44h1v1h-1zM41 46h1v1h-1zM40 47h1v1h-1zM34 48h1v1h-1zM39 49h1v1h-1zM40 50h1v1h-1zM26 51h1v1h-1zM27 52h1v1h-1zM35 54h1v1h-1zM38 55h1v1h-1zM41 56h1v1h-1zM39 57h2v1h-2zM38 58h2v1h-2zM41 59h1v1h-1zM39 61h1v1h-1zM7 62h1v1h-1zM10 62h1v1h-1zM37 62h1v1h-1zM41 62h1v1h-1zM36 63h1v1h-1zM10 64h1v1h-1zM31 65h1v1h-1zM21 66h1v1h-1zM37 67h1v1h-1zM14 68h2v1h-2zM35 68h1v1h-1zM7 69h1v1h-1zM38 69h1v1h-1zM14 70h1v1h-1zM27 70h1v1h-1zM29 70h1v1h-1zM36 73h1v1h-1zM38 73h1v1h-1zM37 74h1v1h-1zM13 77h1v1h-1zM34 77h2v1h-2zM35 79h1v1h-1zM34 80h1v1h-1zM19 81h1v1h-1zM24 82h3v1h-3zM34 85h1v1h-1zM41 85h1v1h-1zM33 86h1v1h-1zM41 86h1v1h-1zM4 87h1v1h-1zM25 87h1v1h-1zM16 89h1v1h-1zM32 89h1v1h-1zM11 90h1v1h-1zM10 91h1v1h-1zM26 92h1v1h-1zM38 92h1v1h-1zM18 93h2v1h-2zM39 93h1v1h-1z"/>
<path fill="#3f5d8e" d="M40 0h1v1h-1zM38 1h2v1h-2zM39 2h1v1h-1zM38 3h1v1h-1zM38 5h2v1h-2zM37 6h1v1h-1zM39 6h1v1h-1zM36 7h1v1h-1zM40 7h1v1h-1zM36 9h1v1h-1zM30 11h3v1h-3zM34 12h1v1h-1zM38 12h1v1h-1zM33 13h1v1h-1zM35 13h1v1h-1zM39 13h2v1h-2zM32 14h2v1h-2zM37 14h1v1h-1zM41 14h1v1h-1zM27 15h2v1h-2zM30 15h2v1h-2zM33 15h1v1h-1zM39 15h1v1h-1zM41 15h1v1h-1zM28 16h2v1h-2zM37 16h1v1h-1zM41 16h1v1h-1zM26 17h2v1h-2zM30 17h1v1h-1zM33 17h1v1h-1zM35 17h1v1h-1zM37 17h1v1h-1zM39 17h1v1h-1zM25 18h1v1h-1zM22 19h1v1h-1zM25 19h1v1h-1zM27 19h1v1h-1zM31 19h1v1h-1zM33 19h1v1h-1zM35 19h1v1h-1zM40 19h1v1h-1zM25 20h1v1h-1zM33 20h1v1h-1zM39 20h1v1h-1zM24 21h1v1h-1zM27 21h1v1h-1zM30 21h1v1h-1zM33 21h1v1h-1zM38 21h1v1h-1zM32 22h2v1h-2zM35 22h1v1h-1zM37 22h1v1h-1zM41 22h1v1h-1zM20 23h1v1h-1zM24 23h1v1h-1zM28 23h1v1h-1zM34 23h1v1h-1zM39 23h1v1h-1zM18 24h3v1h-3zM23 24h2v1h-2zM36 24h2v1h-2zM24 25h1v1h-1zM30 25h1v1h-1zM36 25h2v1h-2zM18 26h1v1h-1zM22 26h1v1h-1zM27 26h1v1h-1zM34 26h1v1h-1zM36 26h2v1h-2zM12 27h2v1h-2zM16 27h1v1h-1zM18 27h1v1h-1zM21 27h1v1h-1zM23 27h2v1h-2zM34 27h2v1h-2zM37 27h1v1h-1zM11 28h1v1h-1zM14 28h1v1h-1zM29 28h1v1h-1zM9 29h1v1h-1zM17 29h1v1h-1zM29 29h1v1h-1zM37 29h1v1h-1zM10 30h1v1h-1zM22 30h1v1h-1zM25 30h1v1h-1zM28 30h1v1h-1zM34 30h1v1h-1zM36 30h1v1h-1zM7 31h1v1h-1zM21 31h1v1h-1zM23 31h1v1h-1zM2 32h1v1h-1zM22 32h1v1h-1zM35 32h1v1h-1zM11 33h1v1h-1zM24 33h1v1h-1zM36 33h1v1h-1zM13 34h2v1h-2zM16 34h1v1h-1zM21 34h1v1h-1zM26 34h1v1h-1zM31 34h1v1h-1zM37 34h1v1h-1zM12 35h1v1h-1zM16 35h1v1h-1zM19 35h1v1h-1zM21 35h1v1h-1zM23 35h1v1h-1zM26 35h1v1h-1zM33 35h1v1h-1zM30 36h1v1h-1zM34 36h1v1h-1zM21 37h1v1h-1zM11 38h1v1h-1zM18 38h1v1h-1zM29 38h1v1h-1zM31 38h3v1h-3zM10 39h1v1h-1zM29 40h1v1h-1zM22 42h2v1h-2zM27 42h1v1h-1zM30 44h1v1h-1zM16 45h1v1h-1zM37 46h1v1h-1zM33 49h1v1h-1zM38 49h1v1h-1zM41 49h1v1h-1zM28 51h1v1h-1zM35 53h1v1h-1zM38 54h1v1h-1zM41 55h1v1h-1zM3 56h1v1h-1zM36 56h1v1h-1zM39 56h1v1h-1zM3 57h1v1h-1zM10 57h2v1h-2zM2 58h2v1h-2zM40 58h2v1h-2zM38 61h1v1h-1zM38 62h1v1h-1zM7 63h1v1h-1zM8 64h1v1h-1zM32 64h1v1h-1zM37 64h1v1h-1zM22 65h1v1h-1zM32 65h1v1h-1zM39 65h1v1h-1zM7 68h1v1h-1zM13 68h1v1h-1zM23 68h1v1h-1zM34 68h1v1h-1zM36 68h1v1h-1zM13 69h1v1h-1zM16 69h1v1h-1zM33 69h1v1h-1zM40 69h1v1h-1zM15 70h1v1h-1zM26 70h1v1h-1zM31 70h1v1h-1zM37 71h1v1h-1zM26 72h1v1h-1zM40 72h1v1h-1zM37 73h1v1h-1zM14 75h1v1h-1zM35 76h1v1h-1zM33 77h1v1h-1zM34 78h1v1h-1zM26 79h1v1h-1zM34 79h1v1h-1zM22 80h1v1h-1zM35 80h1v1h-1zM21 81h2v1h-2zM34 81h1v1h-1zM32 83h1v1h-1zM36 83h1v1h-1zM12 84h1v1h-1zM31 84h1v1h-1zM4 85h3v1h-3zM31 85h1v1h-1zM39 85h2v1h-2zM2 86h1v1h-1zM4 86h2v1h-2zM39 86h1v1h-1zM37 87h1v1h-1zM2 88h2v1h-2zM26 88h1v1h-1zM19 89h1v1h-1zM31 89h1v1h-1zM18 90h1v1h-1zM33 90h1v1h-1zM40 90h1v1h-1zM11 91h1v1h-1zM37 91h1v1h-1zM41 91h1v1h-1zM15 93h1v1h-1zM32 93h1v1h-1z"/>
<path fill="#3e618f" d="M41 0h1v1h-1zM40 1h1v1h-1zM41 2h1v1h-1zM39 3h1v1h-1zM39 4h2v1h-2zM37 5h1v1h-1zM40 5h2v1h-2zM41 6h1v1h-1zM38 7h2v1h-2zM37 8h2v1h-2zM40 8h1v1h-1zM35 9h1v1h-1zM41 9h1v1h-1zM35 10h2v1h-2zM38 10h2v1h-2zM41 10h1v1h-1zM33 11h3v1h-3zM38 11h1v1h-1zM40 11h1v1h-1zM32 12h1v1h-1zM35 12h2v1h-2zM40 12h1v1h-1zM31 13h1v1h-1zM36 13h1v1h-1zM30 14h1v1h-1zM34 14h1v1h-1zM38 14h2v1h-2zM29 15h1v1h-1zM35 15h1v1h-1zM40 15h1v1h-1zM30 16h1v1h-1zM32 16h1v1h-1zM34 16h3v1h-3zM39 16h2v1h-2zM29 17h1v1h-1zM31 17h1v1h-1zM34 17h1v1h-1zM36 17h1v1h-1zM38 17h1v1h-1zM40 17h1v1h-1zM31 18h2v1h-2zM34 18h5v1h-5zM24 19h1v1h-1zM30 19h1v1h-1zM32 19h1v1h-1zM34 19h1v1h-1zM24 20h1v1h-1zM28 20h1v1h-1zM30 20h1v1h-1zM32 20h1v1h-1zM35 20h1v1h-1zM38 20h1v1h-1zM40 20h1v1h-1zM26 21h1v1h-1zM29 21h1v1h-1zM31 21h1v1h-1zM37 21h1v1h-1zM39 21h1v1h-1zM23 22h2v1h-2zM26 22h1v1h-1zM29 22h3v1h-3zM36 22h1v1h-1zM38 22h2v1h-2zM25 23h1v1h-1zM35 23h1v1h-1zM27 24h1v1h-1zM31 24h1v1h-1zM33 24h3v1h-3zM19 25h1v1h-1zM21 25h2v1h-2zM25 25h2v1h-2zM31 25h1v1h-1zM35 25h1v1h-1zM20 26h1v1h-1zM26 26h1v1h-1zM28 26h1v1h-1zM25 27h1v1h-1zM27 27h3v1h-3zM31 27h3v1h-3zM38 27h1v1h-1zM23 28h1v1h-1zM25 28h1v1h-1zM27 28h1v1h-1zM30 28h2v1h-2zM33 28h1v1h-1zM16 29h1v1h-1zM25 29h3v1h-3zM32 29h2v1h-2zM15 30h1v1h-1zM23 30h1v1h-1zM11 31h1v1h-1zM14 31h1v1h-1zM20 31h1v1h-1zM24 31h1v1h-1zM32 31h1v1h-1zM4 32h3v1h-3zM11 32h1v1h-1zM24 32h1v1h-1zM12 33h1v1h-1zM14 33h1v1h-1zM20 33h1v1h-1zM29 33h2v1h-2zM15 34h1v1h-1zM24 34h1v1h-1zM36 34h1v1h-1zM13 35h2v1h-2zM22 35h1v1h-1zM25 35h1v1h-1zM31 35h1v1h-1zM35 35h1v1h-1zM15 36h1v1h-1zM21 36h2v1h-2zM26 36h2v1h-2zM10 37h1v1h-1zM27 37h1v1h-1zM34 37h1v1h-1zM19 38h1v1h-1zM30 38h1v1h-1zM35 38h1v1h-1zM9 39h1v1h-1zM11 39h1v1h-1zM28 39h1v1h-1zM22 40h1v1h-1zM21 41h1v1h-1zM31 41h1v1h-1zM32 42h1v1h-1zM38 42h1v1h-1zM25 43h1v1h-1zM37 43h1v1h-1zM8 44h1v1h-1zM29 44h1v1h-1zM36 44h1v1h-1zM37 45h1v1h-1zM37 47h1v1h-1zM38 48h1v1h-1zM40 48h1v1h-1zM14 50h1v1h-1zM27 50h2v1h-2zM26 52h1v1h-1zM36 52h2v1h-2zM40 52h1v1h-1zM41 53h1v1h-1zM41 54h1v1h-1zM19 55h2v1h-2zM31 55h2v1h-2zM1 57h1v1h-1zM38 60h1v1h-1zM36 61h1v1h-1zM35 62h1v1h-1zM11 63h1v1h-1zM35 63h1v1h-1zM38 63h1v1h-1zM23 64h1v1h-1zM28 64h1v1h-1zM38 64h1v1h-1zM29 66h1v1h-1zM40 66h1v1h-1zM6 69h1v1h-1zM8 69h1v1h-1zM29 69h1v1h-1zM7 70h1v1h-1zM30 70h1v1h-1zM33 70h1v1h-1zM36 72h2v1h-2zM10 73h1v1h-1zM27 73h2v1h-2zM13 74h1v1h-1zM36 74h1v1h-1zM36 75h1v1h-1zM38 75h1v1h-1zM36 76h1v1h-1zM32 77h1v1h-1zM25 78h1v1h-1zM23 79h1v1h-1zM36 79h1v1h-1zM27 80h1v1h-1zM27 81h1v1h-1zM20 82h1v1h-1zM23 82h1v1h-1zM34 82h1v1h-1zM11 83h1v1h-1zM19 83h1v1h-1zM35 83h1v1h-1zM37 84h1v1h-1zM3 85h1v1h-1zM30 85h1v1h-1zM23 86h1v1h-1zM34 86h1v1h-1zM1 87h1v1h-1zM23 87h1v1h-1zM33 87h1v1h-1zM36 87h1v1h-1zM24 88h1v1h-1zM33 89h1v1h-1zM10 90h1v1h-1zM25 91h1v1h-1zM21 92h1v1h-1zM30 92h1v1h-1zM31 93h1v1h-1zM33 93h1v1h-1zM37 93h1v1h-1z"/>
<path fill="#3e6690" d="M41 1h1v1h-1zM40 2h1v1h-1zM41 3h1v1h-1zM41 4h1v1h-1zM35 7h1v1h-1zM39 8h1v1h-1zM37 9h1v1h-1zM39 9h2v1h-2zM37 10h1v1h-1zM40 10h1v1h-1zM37 11h1v1h-1zM41 11h1v1h-1zM33 12h1v1h-1zM37 12h1v1h-1zM41 12h1v1h-1zM32 13h1v1h-1zM37 13h2v1h-2zM41 13h1v1h-1zM29 14h1v1h-1zM36 14h1v1h-1zM40 14h1v1h-1zM36 15h1v1h-1zM38 15h1v1h-1zM31 16h1v1h-1zM32 17h1v1h-1zM41 17h1v1h-1zM28 18h2v1h-2zM33 18h1v1h-1zM26 19h1v1h-1zM29 19h1v1h-1zM36 19h2v1h-2zM29 20h1v1h-1zM31 20h1v1h-1zM34 20h1v1h-1zM36 20h1v1h-1zM28 21h1v1h-1zM32 21h1v1h-1zM34 21h1v1h-1zM36 21h1v1h-1zM27 22h2v1h-2zM34 22h1v1h-1zM29 23h4v1h-4zM25 24h2v1h-2zM28 24h1v1h-1zM30 24h1v1h-1zM32 24h1v1h-1zM20 25h1v1h-1zM28 25h2v1h-2zM33 25h2v1h-2zM21 26h1v1h-1zM23 26h3v1h-3zM29 26h3v1h-3zM33 26h1v1h-1zM26 27h1v1h-1zM30 27h1v1h-1zM24 28h1v1h-1zM32 28h1v1h-1zM24 29h1v1h-1zM17 30h2v1h-2zM24 30h1v1h-1zM27 30h1v1h-1zM32 30h2v1h-2zM22 31h1v1h-1zM25 31h1v1h-1zM33 31h2v1h-2zM3 32h1v1h-1zM7 32h1v1h-1zM14 32h1v1h-1zM20 32h1v1h-1zM25 33h1v1h-1zM28 33h1v1h-1zM5 34h1v1h-1zM17 34h1v1h-1zM20 34h1v1h-1zM15 35h1v1h-1zM20 35h1v1h-1zM24 35h1v1h-1zM12 36h1v1h-1zM14 36h1v1h-1zM35 36h1v1h-1zM8 37h1v1h-1zM11 37h1v1h-1zM16 37h1v1h-1zM22 37h1v1h-1zM2 38h1v1h-1zM16 38h2v1h-2zM21 38h1v1h-1zM20 39h2v1h-2zM35 39h1v1h-1zM21 40h1v1h-1zM23 40h1v1h-1zM34 41h2v1h-2zM33 42h1v1h-1zM26 43h1v1h-1zM7 44h1v1h-1zM14 44h1v1h-1zM35 44h1v1h-1zM37 44h1v1h-1zM39 44h1v1h-1zM15 45h1v1h-1zM24 46h1v1h-1zM29 46h2v1h-2zM33 47h2v1h-2zM32 48h1v1h-1zM34 49h1v1h-1zM40 49h1v1h-1zM12 50h1v1h-1zM39 50h1v1h-1zM37 51h3v1h-3zM38 53h1v1h-1zM32 54h1v1h-1zM18 55h1v1h-1zM2 56h1v1h-1zM20 56h1v1h-1zM40 56h1v1h-1zM11 58h1v1h-1zM25 58h1v1h-1zM37 58h1v1h-1zM3 59h1v1h-1zM35 61h1v1h-1zM37 61h1v1h-1zM29 62h1v1h-1zM34 62h1v1h-1zM0 63h1v1h-1zM32 63h1v1h-1zM1 64h1v1h-1zM33 64h1v1h-1zM9 65h1v1h-1zM25 65h1v1h-1zM31 66h1v1h-1zM7 67h1v1h-1zM21 67h1v1h-1zM6 68h1v1h-1zM8 68h1v1h-1zM16 68h1v1h-1zM30 68h1v1h-1zM28 69h1v1h-1zM39 69h1v1h-1zM13 70h1v1h-1zM41 70h1v1h-1zM34 71h1v1h-1zM41 71h1v1h-1zM29 72h1v1h-1zM35 72h1v1h-1zM9 73h1v1h-1zM11 73h1v1h-1zM9 74h1v1h-1zM37 75h1v1h-1zM14 76h1v1h-1zM33 76h1v1h-1zM26 78h2v1h-2zM36 78h1v1h-1zM27 79h1v1h-1zM37 79h1v1h-1zM39 79h2v1h-2zM12 83h1v1h-1zM11 84h1v1h-1zM7 85h1v1h-1zM11 85h2v1h-2zM25 85h1v1h-1zM12 86h1v1h-1zM26 86h1v1h-1zM32 86h1v1h-1zM5 87h1v1h-1zM19 87h1v1h-1zM34 87h1v1h-1zM15 89h1v1h-1zM30 89h1v1h-1zM19 90h1v1h-1zM29 90h1v1h-1zM36 90h1v1h-1zM41 90h1v1h-1zM7 91h1v1h-1zM19 91h1v1h-1zM24 91h1v1h-1zM26 91h1v1h-1zM29 91h1v1h-1zM40 91h1v1h-1zM3 92h1v1h-1zM27 92h1v1h-1zM2 93h1v1h-1zM20 93h2v1h-2z"/>
<path fill="#3e6a90" d="M40 6h1v1h-1zM41 7h1v1h-1zM41 8h1v1h-1zM39 11h1v1h-1zM39 12h1v1h-1zM37 15h1v1h-1zM35 21h1v1h-1zM29 24h1v1h-1zM32 25h1v1h-1zM32 26h1v1h-1zM26 28h1v1h-1zM9 30h1v1h-1zM16 30h1v1h-1zM19 31h1v1h-1zM15 32h1v1h-1zM29 32h1v1h-1zM0 33h1v1h-1zM2 33h1v1h-1zM5 33h2v1h-2zM19 33h1v1h-1zM26 33h2v1h-2zM11 34h1v1h-1zM19 34h1v1h-1zM4 35h1v1h-1zM32 35h1v1h-1zM36 35h1v1h-1zM10 36h1v1h-1zM13 36h1v1h-1zM23 36h1v1h-1zM25 36h1v1h-1zM31 36h1v1h-1zM9 37h1v1h-1zM13 37h1v1h-1zM33 37h1v1h-1zM3 38h1v1h-1zM28 38h1v1h-1zM27 39h1v1h-1zM9 40h1v1h-1zM20 40h1v1h-1zM24 40h1v1h-1zM36 40h1v1h-1zM28 41h1v1h-1zM21 42h1v1h-1zM14 43h1v1h-1zM24 43h1v1h-1zM31 43h1v1h-1zM6 44h1v1h-1zM0 45h1v1h-1zM7 45h2v1h-2zM17 45h1v1h-1zM31 45h1v1h-1zM36 45h1v1h-1zM0 46h1v1h-1zM23 47h1v1h-1zM14 49h1v1h-1zM13 51h2v1h-2zM20 54h1v1h-1zM31 54h1v1h-1zM35 55h1v1h-1zM39 55h2v1h-2zM1 56h1v1h-1zM19 56h1v1h-1zM31 56h2v1h-2zM4 57h1v1h-1zM9 57h1v1h-1zM25 59h1v1h-1zM7 61h4v1h-4zM34 61h1v1h-1zM11 62h1v1h-1zM30 62h1v1h-1zM40 62h1v1h-1zM24 63h1v1h-1zM28 63h1v1h-1zM34 63h1v1h-1zM0 64h1v1h-1zM11 64h1v1h-1zM25 64h1v1h-1zM36 64h1v1h-1zM39 64h1v1h-1zM29 65h1v1h-1zM33 65h1v1h-1zM36 65h1v1h-1zM25 66h1v1h-1zM30 66h1v1h-1zM32 66h1v1h-1zM36 66h1v1h-1zM41 66h1v1h-1zM8 67h1v1h-1zM30 67h2v1h-2zM36 67h1v1h-1zM12 68h1v1h-1zM22 68h1v1h-1zM24 68h1v1h-1zM29 68h1v1h-1zM30 69h1v1h-1zM32 69h1v1h-1zM6 70h1v1h-1zM32 70h1v1h-1zM38 70h1v1h-1zM25 71h1v1h-1zM39 72h1v1h-1zM26 73h1v1h-1zM4 74h1v1h-1zM18 74h1v1h-1zM27 74h1v1h-1zM18 75h1v1h-1zM35 75h1v1h-1zM32 76h1v1h-1zM34 76h1v1h-1zM39 76h1v1h-1zM11 77h1v1h-1zM41 77h1v1h-1zM13 78h1v1h-1zM33 78h1v1h-1zM6 79h1v1h-1zM38 79h1v1h-1zM18 80h2v1h-2zM12 82h1v1h-1zM16 82h1v1h-1zM17 83h1v1h-1zM31 83h1v1h-1zM6 84h1v1h-1zM2 85h1v1h-1zM38 85h1v1h-1zM1 86h1v1h-1zM18 86h1v1h-1zM31 86h1v1h-1zM13 87h1v1h-1zM27 87h1v1h-1zM35 87h1v1h-1zM1 88h1v1h-1zM5 88h1v1h-1zM27 88h1v1h-1zM32 88h4v1h-4zM3 89h1v1h-1zM26 89h1v1h-1zM3 90h1v1h-1zM6 90h1v1h-1zM12 90h1v1h-1zM17 90h1v1h-1zM2 91h4v1h-4zM8 91h1v1h-1zM12 91h1v1h-1zM23 91h1v1h-1zM27 91h1v1h-1zM7 92h2v1h-2zM20 92h1v1h-1zM28 92h1v1h-1zM34 92h1v1h-1zM37 92h1v1h-1zM3 93h2v1h-2zM27 93h1v1h-1zM34 93h1v1h-1z"/>
<path fill="#3e6e8f" d="M27 23h1v1h-1zM26 30h1v1h-1zM8 31h2v1h-2zM15 31h1v1h-1zM17 31h2v1h-2zM28 31h1v1h-1zM19 32h1v1h-1zM25 32h1v1h-1zM1 33h1v1h-1zM3 33h1v1h-1zM15 33h1v1h-1zM17 33h1v1h-1zM18 34h1v1h-1zM3 35h1v1h-1zM5 35h2v1h-2zM10 35h2v1h-2zM3 36h2v1h-2zM9 36h1v1h-1zM11 36h1v1h-1zM2 37h3v1h-3zM7 37h1v1h-1zM12 37h1v1h-1zM15 37h1v1h-1zM1 38h1v1h-1zM12 38h1v1h-1zM1 39h2v1h-2zM8 39h1v1h-1zM18 39h2v1h-2zM26 39h1v1h-1zM10 40h1v1h-1zM35 40h1v1h-1zM16 43h1v1h-1zM27 43h1v1h-1zM39 43h1v1h-1zM0 44h1v1h-1zM13 44h1v1h-1zM17 44h1v1h-1zM6 45h1v1h-1zM28 45h1v1h-1zM16 46h1v1h-1zM36 46h1v1h-1zM24 47h1v1h-1zM30 47h1v1h-1zM41 47h1v1h-1zM13 49h1v1h-1zM33 50h1v1h-1zM37 50h2v1h-2zM28 52h1v1h-1zM40 53h1v1h-1zM18 54h1v1h-1zM30 54h1v1h-1zM34 54h1v1h-1zM39 54h1v1h-1zM17 55h1v1h-1zM4 56h1v1h-1zM11 56h1v1h-1zM12 57h1v1h-1zM25 57h1v1h-1zM32 57h1v1h-1zM36 57h1v1h-1zM1 58h1v1h-1zM10 58h1v1h-1zM24 58h1v1h-1zM24 59h1v1h-1zM37 59h1v1h-1zM37 60h1v1h-1zM6 61h1v1h-1zM11 61h1v1h-1zM30 61h1v1h-1zM6 62h1v1h-1zM16 62h1v1h-1zM28 62h1v1h-1zM39 62h1v1h-1zM33 63h1v1h-1zM22 64h1v1h-1zM10 65h1v1h-1zM9 66h1v1h-1zM0 67h1v1h-1zM6 67h1v1h-1zM9 67h1v1h-1zM29 67h1v1h-1zM35 67h1v1h-1zM0 68h1v1h-1zM5 68h1v1h-1zM9 68h1v1h-1zM11 68h1v1h-1zM21 68h1v1h-1zM0 69h1v1h-1zM5 69h1v1h-1zM31 69h1v1h-1zM16 70h1v1h-1zM15 71h1v1h-1zM30 71h2v1h-2zM38 72h1v1h-1zM14 74h2v1h-2zM35 74h1v1h-1zM5 75h1v1h-1zM9 75h1v1h-1zM19 75h1v1h-1zM5 76h1v1h-1zM10 76h1v1h-1zM18 76h2v1h-2zM31 76h1v1h-1zM6 77h2v1h-2zM26 77h1v1h-1zM36 77h1v1h-1zM40 77h1v1h-1zM6 78h1v1h-1zM12 78h1v1h-1zM24 78h1v1h-1zM32 78h1v1h-1zM41 78h1v1h-1zM41 79h1v1h-1zM20 80h2v1h-2zM16 81h1v1h-1zM11 82h1v1h-1zM25 83h1v1h-1zM4 84h2v1h-2zM7 84h1v1h-1zM30 84h1v1h-1zM35 84h1v1h-1zM10 85h1v1h-1zM13 85h1v1h-1zM24 85h1v1h-1zM6 86h1v1h-1zM14 86h1v1h-1zM6 87h1v1h-1zM4 88h1v1h-1zM1 89h2v1h-2zM4 89h1v1h-1zM6 89h1v1h-1zM11 89h2v1h-2zM25 89h1v1h-1zM27 89h1v1h-1zM34 89h2v1h-2zM2 90h1v1h-1zM9 90h1v1h-1zM26 90h2v1h-2zM6 91h1v1h-1zM9 91h1v1h-1zM18 91h1v1h-1zM20 91h2v1h-2zM28 91h1v1h-1zM4 92h1v1h-1zM6 92h1v1h-1zM16 92h3v1h-3zM36 93h1v1h-1z"/>
<path fill="#3d728f" d="M10 31h1v1h-1zM16 31h1v1h-1zM26 31h1v1h-1zM17 32h1v1h-1zM26 32h1v1h-1zM28 32h1v1h-1zM4 33h1v1h-1zM16 33h1v1h-1zM4 34h1v1h-1zM6 34h1v1h-1zM10 34h1v1h-1zM9 35h1v1h-1zM24 36h1v1h-1zM32 36h2v1h-2zM0 37h2v1h-2zM14 37h1v1h-1zM31 37h1v1h-1zM15 38h1v1h-1zM27 38h1v1h-1zM3 39h1v1h-1zM19 40h1v1h-1zM19 41h2v1h-2zM30 41h1v1h-1zM31 42h1v1h-1zM34 42h1v1h-1zM7 43h2v1h-2zM13 43h1v1h-1zM15 43h1v1h-1zM17 43h1v1h-1zM34 43h1v1h-1zM38 43h1v1h-1zM9 44h1v1h-1zM28 44h1v1h-1zM25 45h1v1h-1zM7 46h1v1h-1zM25 46h1v1h-1zM35 47h1v1h-1zM32 49h1v1h-1zM4 50h1v1h-1zM12 51h1v1h-1zM15 51h1v1h-1zM13 52h2v1h-2zM38 52h2v1h-2zM26 53h2v1h-2zM34 53h1v1h-1zM33 54h1v1h-1zM2 55h1v1h-1zM30 55h1v1h-1zM33 55h1v1h-1zM9 56h2v1h-2zM26 57h1v1h-1zM31 57h1v1h-1zM2 59h1v1h-1zM4 59h1v1h-1zM11 59h1v1h-1zM26 59h1v1h-1zM4 60h1v1h-1zM35 60h2v1h-2zM12 62h1v1h-1zM32 62h1v1h-1zM1 63h1v1h-1zM25 63h1v1h-1zM40 63h2v1h-2zM26 64h1v1h-1zM1 65h1v1h-1zM28 65h1v1h-1zM41 65h1v1h-1zM1 66h1v1h-1zM8 66h1v1h-1zM19 66h2v1h-2zM35 66h1v1h-1zM10 67h2v1h-2zM13 67h1v1h-1zM20 67h1v1h-1zM34 67h1v1h-1zM32 68h2v1h-2zM12 69h1v1h-1zM24 69h1v1h-1zM27 69h1v1h-1zM25 70h1v1h-1zM8 71h1v1h-1zM32 71h1v1h-1zM38 71h1v1h-1zM8 72h2v1h-2zM25 72h1v1h-1zM30 72h1v1h-1zM15 73h1v1h-1zM29 73h1v1h-1zM35 73h1v1h-1zM17 74h1v1h-1zM19 74h2v1h-2zM15 75h1v1h-1zM34 75h1v1h-1zM6 76h1v1h-1zM27 76h1v1h-1zM37 76h1v1h-1zM25 77h1v1h-1zM31 77h1v1h-1zM7 78h1v1h-1zM31 78h1v1h-1zM40 78h1v1h-1zM5 79h1v1h-1zM21 79h2v1h-2zM7 80h1v1h-1zM17 80h1v1h-1zM28 80h1v1h-1zM12 81h1v1h-1zM33 81h1v1h-1zM21 82h2v1h-2zM27 82h1v1h-1zM33 82h1v1h-1zM4 83h1v1h-1zM13 83h1v1h-1zM26 83h1v1h-1zM10 84h1v1h-1zM13 84h1v1h-1zM19 84h1v1h-1zM36 84h1v1h-1zM23 85h1v1h-1zM26 85h1v1h-1zM35 85h1v1h-1zM11 86h1v1h-1zM13 86h1v1h-1zM19 86h1v1h-1zM27 86h1v1h-1zM35 86h2v1h-2zM0 87h1v1h-1zM14 87h1v1h-1zM14 88h1v1h-1zM5 89h1v1h-1zM4 90h2v1h-2zM7 90h2v1h-2zM25 90h1v1h-1zM28 90h1v1h-1zM22 91h1v1h-1zM2 92h1v1h-1zM5 92h1v1h-1zM9 92h2v1h-2zM15 92h1v1h-1zM19 92h1v1h-1zM29 92h1v1h-1zM1 93h1v1h-1zM14 93h1v1h-1zM30 93h1v1h-1zM35 93h1v1h-1z"/>
<path fill="#3d778e" d="M8 32h1v1h-1zM16 32h1v1h-1zM18 32h1v1h-1zM7 33h1v1h-1zM18 33h1v1h-1zM2 34h1v1h-1zM2 36h1v1h-1zM5 36h1v1h-1zM7 36h2v1h-2zM23 37h1v1h-1zM25 37h2v1h-2zM32 37h1v1h-1zM0 38h1v1h-1zM4 38h1v1h-1zM13 38h2v1h-2zM22 38h1v1h-1zM26 38h1v1h-1zM12 39h1v1h-1zM22 39h2v1h-2zM11 40h1v1h-1zM23 43h1v1h-1zM30 43h1v1h-1zM32 43h1v1h-1zM3 44h1v1h-1zM5 44h1v1h-1zM14 45h1v1h-1zM24 45h1v1h-1zM26 45h1v1h-1zM15 46h1v1h-1zM35 46h1v1h-1zM0 47h1v1h-1zM22 47h1v1h-1zM25 47h1v1h-1zM2 48h1v1h-1zM37 48h1v1h-1zM41 48h1v1h-1zM3 49h1v1h-1zM12 49h1v1h-1zM28 49h1v1h-1zM37 49h1v1h-1zM11 50h1v1h-1zM15 50h1v1h-1zM34 50h1v1h-1zM25 51h1v1h-1zM15 52h1v1h-1zM35 52h1v1h-1zM39 53h1v1h-1zM17 54h1v1h-1zM19 54h1v1h-1zM27 54h2v1h-2zM40 54h1v1h-1zM3 55h1v1h-1zM16 55h1v1h-1zM34 55h1v1h-1zM12 56h1v1h-1zM18 56h1v1h-1zM21 56h1v1h-1zM26 56h1v1h-1zM30 56h1v1h-1zM24 57h1v1h-1zM0 58h1v1h-1zM12 58h1v1h-1zM23 58h1v1h-1zM26 58h1v1h-1zM36 58h1v1h-1zM2 60h2v1h-2zM11 60h1v1h-1zM25 60h1v1h-1zM16 61h2v1h-2zM25 61h1v1h-1zM31 62h1v1h-1zM23 63h1v1h-1zM27 63h1v1h-1zM39 63h1v1h-1zM7 64h1v1h-1zM27 64h1v1h-1zM35 64h1v1h-1zM40 64h2v1h-2zM8 65h1v1h-1zM21 65h1v1h-1zM26 65h1v1h-1zM40 65h1v1h-1zM2 66h1v1h-1zM1 67h1v1h-1zM5 67h1v1h-1zM14 67h1v1h-1zM25 67h1v1h-1zM32 67h2v1h-2zM10 68h1v1h-1zM8 70h1v1h-1zM40 70h1v1h-1zM7 71h1v1h-1zM14 71h1v1h-1zM40 71h1v1h-1zM8 73h1v1h-1zM13 73h1v1h-1zM16 73h2v1h-2zM3 74h1v1h-1zM16 74h1v1h-1zM21 74h1v1h-1zM26 74h1v1h-1zM28 74h1v1h-1zM4 75h1v1h-1zM16 75h2v1h-2zM20 75h1v1h-1zM27 75h1v1h-1zM26 76h1v1h-1zM28 76h1v1h-1zM38 76h1v1h-1zM14 77h1v1h-1zM18 77h1v1h-1zM27 77h1v1h-1zM30 77h1v1h-1zM28 78h1v1h-1zM39 78h1v1h-1zM7 79h1v1h-1zM13 79h1v1h-1zM19 79h2v1h-2zM32 79h2v1h-2zM6 80h1v1h-1zM33 80h1v1h-1zM7 81h1v1h-1zM11 81h1v1h-1zM28 81h1v1h-1zM31 82h2v1h-2zM7 83h1v1h-1zM20 83h1v1h-1zM24 83h1v1h-1zM30 83h1v1h-1zM3 84h1v1h-1zM9 84h1v1h-1zM18 84h1v1h-1zM24 84h1v1h-1zM1 85h1v1h-1zM19 85h1v1h-1zM29 85h1v1h-1zM37 85h1v1h-1zM15 86h1v1h-1zM17 86h1v1h-1zM28 86h3v1h-3zM37 86h2v1h-2zM12 87h1v1h-1zM32 87h1v1h-1zM13 88h1v1h-1zM31 88h1v1h-1zM28 89h1v1h-1zM20 90h1v1h-1zM34 90h2v1h-2zM34 91h1v1h-1zM11 92h2v1h-2zM5 93h1v1h-1zM13 93h1v1h-1zM28 93h1v1h-1z"/>
<path fill="#3d7b8e" d="M10 32h1v1h-1zM27 32h1v1h-1zM10 33h1v1h-1zM0 34h2v1h-2zM3 34h1v1h-1zM7 34h1v1h-1zM9 34h1v1h-1zM8 35h1v1h-1zM1 36h1v1h-1zM6 36h1v1h-1zM23 38h1v1h-1zM25 38h1v1h-1zM0 39h1v1h-1zM24 39h2v1h-2zM1 40h1v1h-1zM10 41h2v1h-2zM29 41h1v1h-1zM19 42h1v1h-1zM28 42h1v1h-1zM6 43h1v1h-1zM29 43h1v1h-1zM1 44h1v1h-1zM4 44h1v1h-1zM25 44h3v1h-3zM38 44h1v1h-1zM1 45h2v1h-2zM5 45h1v1h-1zM27 45h1v1h-1zM35 45h1v1h-1zM17 46h1v1h-1zM28 46h1v1h-1zM1 47h1v1h-1zM29 47h1v1h-1zM32 47h1v1h-1zM0 48h2v1h-2zM21 48h2v1h-2zM1 49h2v1h-2zM15 49h1v1h-1zM21 49h1v1h-1zM23 49h1v1h-1zM3 50h1v1h-1zM4 51h2v1h-2zM36 51h1v1h-1zM5 52h1v1h-1zM34 52h1v1h-1zM16 54h1v1h-1zM21 54h1v1h-1zM21 55h1v1h-1zM26 55h3v1h-3zM0 56h1v1h-1zM17 56h1v1h-1zM27 56h1v1h-1zM35 56h1v1h-1zM20 57h1v1h-1zM4 58h1v1h-1zM9 58h1v1h-1zM31 58h1v1h-1zM10 59h1v1h-1zM23 59h1v1h-1zM31 59h2v1h-2zM36 59h1v1h-1zM12 60h1v1h-1zM24 60h1v1h-1zM31 61h1v1h-1zM0 62h2v1h-2zM15 62h1v1h-1zM17 62h1v1h-1zM25 62h1v1h-1zM27 62h1v1h-1zM26 63h1v1h-1zM34 64h1v1h-1zM0 65h1v1h-1zM19 65h1v1h-1zM0 66h1v1h-1zM7 66h1v1h-1zM28 66h1v1h-1zM33 66h2v1h-2zM2 67h3v1h-3zM12 67h1v1h-1zM19 67h1v1h-1zM31 68h1v1h-1zM23 69h1v1h-1zM25 69h2v1h-2zM23 70h2v1h-2zM24 71h1v1h-1zM33 71h1v1h-1zM21 72h1v1h-1zM34 72h1v1h-1zM12 73h1v1h-1zM14 73h1v1h-1zM18 73h1v1h-1zM5 74h1v1h-1zM28 75h1v1h-1zM33 75h1v1h-1zM5 77h1v1h-1zM5 78h1v1h-1zM11 78h1v1h-1zM14 78h1v1h-1zM29 78h2v1h-2zM37 78h1v1h-1zM28 79h1v1h-1zM5 80h1v1h-1zM13 80h1v1h-1zM10 81h1v1h-1zM13 81h1v1h-1zM10 82h1v1h-1zM13 82h1v1h-1zM15 82h1v1h-1zM3 83h1v1h-1zM5 83h2v1h-2zM8 83h3v1h-3zM27 83h2v1h-2zM2 84h1v1h-1zM8 84h1v1h-1zM25 84h2v1h-2zM29 84h1v1h-1zM8 85h1v1h-1zM28 85h1v1h-1zM36 85h1v1h-1zM0 86h1v1h-1zM7 86h1v1h-1zM16 86h1v1h-1zM20 86h1v1h-1zM22 86h1v1h-1zM11 87h1v1h-1zM20 87h1v1h-1zM31 87h1v1h-1zM0 88h1v1h-1zM6 88h1v1h-1zM12 88h1v1h-1zM20 88h1v1h-1zM7 89h1v1h-1zM10 89h1v1h-1zM29 89h1v1h-1zM1 90h1v1h-1zM16 90h1v1h-1zM1 91h1v1h-1zM17 91h1v1h-1zM36 91h1v1h-1zM14 92h1v1h-1zM12 93h1v1h-1zM29 93h1v1h-1z"/>
<path fill="#3d7f8d" d="M27 31h1v1h-1zM8 33h1v1h-1zM0 35h1v1h-1zM2 35h1v1h-1zM7 35h1v1h-1zM5 37h2v1h-2zM24 37h1v1h-1zM7 38h1v1h-1zM12 40h1v1h-1zM9 41h1v1h-1zM8 42h2v1h-2zM12 42h2v1h-2zM17 42h2v1h-2zM20 42h1v1h-1zM5 43h1v1h-1zM9 43h1v1h-1zM18 43h1v1h-1zM28 43h1v1h-1zM33 43h1v1h-1zM24 44h1v1h-1zM32 44h1v1h-1zM23 46h1v1h-1zM26 46h1v1h-1zM15 47h1v1h-1zM17 47h1v1h-1zM31 47h1v1h-1zM36 47h1v1h-1zM3 48h1v1h-1zM15 48h2v1h-2zM23 48h1v1h-1zM31 48h1v1h-1zM35 48h1v1h-1zM4 49h1v1h-1zM22 49h1v1h-1zM29 49h1v1h-1zM5 50h2v1h-2zM26 50h1v1h-1zM34 51h1v1h-1zM25 52h1v1h-1zM33 52h1v1h-1zM16 53h1v1h-1zM28 53h1v1h-1zM32 53h2v1h-2zM2 54h1v1h-1zM26 54h1v1h-1zM29 54h1v1h-1zM4 55h1v1h-1zM29 55h1v1h-1zM5 56h1v1h-1zM33 56h1v1h-1zM0 57h1v1h-1zM5 57h1v1h-1zM21 57h1v1h-1zM33 57h1v1h-1zM19 58h1v1h-1zM12 59h1v1h-1zM33 59h1v1h-1zM2 61h1v1h-1zM12 61h2v1h-2zM18 61h1v1h-1zM26 61h1v1h-1zM29 61h1v1h-1zM32 61h2v1h-2zM18 62h1v1h-1zM24 62h1v1h-1zM26 62h1v1h-1zM33 62h1v1h-1zM2 63h1v1h-1zM16 63h2v1h-2zM2 65h1v1h-1zM7 65h1v1h-1zM18 65h1v1h-1zM20 65h1v1h-1zM34 65h2v1h-2zM10 66h1v1h-1zM18 66h1v1h-1zM16 67h1v1h-1zM1 68h1v1h-1zM22 69h1v1h-1zM17 70h1v1h-1zM39 70h1v1h-1zM39 71h1v1h-1zM14 72h3v1h-3zM20 73h2v1h-2zM25 73h1v1h-1zM8 74h1v1h-1zM22 74h1v1h-1zM29 74h1v1h-1zM34 74h1v1h-1zM3 75h1v1h-1zM6 75h1v1h-1zM8 75h1v1h-1zM26 75h1v1h-1zM29 75h1v1h-1zM4 76h1v1h-1zM7 76h2v1h-2zM15 76h1v1h-1zM17 76h1v1h-1zM20 76h1v1h-1zM25 76h1v1h-1zM29 76h2v1h-2zM19 77h1v1h-1zM24 77h1v1h-1zM28 77h1v1h-1zM19 78h2v1h-2zM23 78h1v1h-1zM12 79h1v1h-1zM14 79h1v1h-1zM18 79h1v1h-1zM31 79h1v1h-1zM8 80h1v1h-1zM12 80h1v1h-1zM15 80h1v1h-1zM32 80h1v1h-1zM8 81h1v1h-1zM15 81h1v1h-1zM4 82h2v1h-2zM9 82h1v1h-1zM28 82h2v1h-2zM17 84h1v1h-1zM27 84h2v1h-2zM0 85h1v1h-1zM27 85h1v1h-1zM21 86h1v1h-1zM23 88h1v1h-1zM20 89h1v1h-1zM24 90h1v1h-1zM1 92h1v1h-1zM0 93h1v1h-1zM7 93h1v1h-1zM11 93h1v1h-1z"/>
<path fill="#3c848d" d="M9 32h1v1h-1zM9 33h1v1h-1zM24 38h1v1h-1zM13 39h1v1h-1zM16 39h2v1h-2zM2 40h2v1h-2zM8 40h1v1h-1zM12 41h1v1h-1zM18 41h1v1h-1zM10 42h2v1h-2zM30 42h1v1h-1zM0 43h1v1h-1zM3 43h2v1h-2zM10 43h1v1h-1zM12 44h1v1h-1zM34 44h1v1h-1zM4 45h1v1h-1zM9 45h1v1h-1zM13 45h1v1h-1zM1 46h1v1h-1zM6 46h1v1h-1zM8 46h1v1h-1zM31 46h1v1h-1zM2 47h1v1h-1zM7 47h1v1h-1zM16 47h1v1h-1zM20 47h1v1h-1zM20 48h1v1h-1zM24 48h1v1h-1zM29 48h2v1h-2zM11 49h1v1h-1zM35 49h1v1h-1zM22 50h1v1h-1zM29 50h1v1h-1zM35 50h2v1h-2zM3 51h1v1h-1zM35 51h1v1h-1zM4 52h1v1h-1zM29 52h1v1h-1zM14 53h2v1h-2zM29 53h1v1h-1zM1 54h1v1h-1zM14 54h2v1h-2zM1 55h1v1h-1zM5 55h2v1h-2zM15 55h1v1h-1zM7 56h1v1h-1zM13 56h1v1h-1zM34 56h1v1h-1zM13 57h1v1h-1zM18 57h1v1h-1zM20 58h3v1h-3zM32 58h2v1h-2zM0 59h2v1h-2zM10 60h1v1h-1zM17 60h1v1h-1zM26 60h1v1h-1zM30 60h2v1h-2zM34 60h1v1h-1zM0 61h1v1h-1zM5 61h1v1h-1zM14 61h2v1h-2zM13 62h1v1h-1zM12 63h1v1h-1zM2 64h1v1h-1zM18 64h1v1h-1zM11 65h1v1h-1zM27 65h1v1h-1zM11 66h1v1h-1zM15 67h1v1h-1zM17 67h1v1h-1zM28 67h1v1h-1zM17 68h1v1h-1zM20 68h1v1h-1zM25 68h1v1h-1zM28 68h1v1h-1zM17 69h1v1h-1zM0 70h1v1h-1zM22 71h2v1h-2zM10 72h1v1h-1zM22 72h1v1h-1zM31 72h1v1h-1zM0 73h2v1h-2zM3 73h2v1h-2zM19 73h1v1h-1zM22 73h1v1h-1zM34 73h1v1h-1zM1 74h2v1h-2zM0 75h1v1h-1zM32 75h1v1h-1zM9 76h1v1h-1zM4 77h1v1h-1zM20 77h1v1h-1zM29 77h1v1h-1zM22 78h1v1h-1zM38 78h1v1h-1zM29 79h2v1h-2zM10 80h2v1h-2zM14 80h1v1h-1zM31 80h1v1h-1zM4 81h1v1h-1zM9 81h1v1h-1zM14 81h1v1h-1zM32 81h1v1h-1zM6 82h2v1h-2zM14 82h1v1h-1zM23 83h1v1h-1zM29 83h1v1h-1zM20 84h1v1h-1zM18 85h1v1h-1zM20 85h1v1h-1zM22 85h1v1h-1zM10 86h1v1h-1zM30 87h1v1h-1zM28 88h1v1h-1zM30 88h1v1h-1zM9 89h1v1h-1zM13 89h1v1h-1zM24 89h1v1h-1zM13 91h1v1h-1zM16 91h1v1h-1zM13 92h1v1h-1zM8 93h1v1h-1z"/>
<path fill="#3c888c" d="M8 34h1v1h-1zM1 35h1v1h-1zM0 36h1v1h-1zM7 39h1v1h-1zM18 40h1v1h-1zM8 41h1v1h-1zM7 42h1v1h-1zM14 42h1v1h-1zM12 43h1v1h-1zM10 44h1v1h-1zM18 44h1v1h-1zM18 45h1v1h-1zM14 46h1v1h-1zM8 47h1v1h-1zM14 48h1v1h-1zM17 48h1v1h-1zM36 48h1v1h-1zM0 49h1v1h-1zM6 49h1v1h-1zM16 49h1v1h-1zM27 49h1v1h-1zM2 50h1v1h-1zM32 50h1v1h-1zM11 51h1v1h-1zM33 51h1v1h-1zM16 52h1v1h-1zM24 52h1v1h-1zM21 53h1v1h-1zM25 53h1v1h-1zM0 55h1v1h-1zM13 55h2v1h-2zM22 55h1v1h-1zM6 56h1v1h-1zM14 56h2v1h-2zM25 56h1v1h-1zM8 57h1v1h-1zM19 57h1v1h-1zM22 57h1v1h-1zM13 58h1v1h-1zM35 58h1v1h-1zM21 59h2v1h-2zM1 60h1v1h-1zM5 60h1v1h-1zM9 60h1v1h-1zM18 60h1v1h-1zM23 60h1v1h-1zM32 60h1v1h-1zM1 61h1v1h-1zM27 61h2v1h-2zM14 62h1v1h-1zM6 63h1v1h-1zM15 63h1v1h-1zM18 63h1v1h-1zM12 64h1v1h-1zM16 64h1v1h-1zM21 64h1v1h-1zM18 67h1v1h-1zM2 68h3v1h-3zM4 69h1v1h-1zM9 69h1v1h-1zM21 69h1v1h-1zM5 70h1v1h-1zM22 70h1v1h-1zM9 71h1v1h-1zM13 71h1v1h-1zM16 71h1v1h-1zM0 72h2v1h-2zM7 72h1v1h-1zM17 72h1v1h-1zM23 72h1v1h-1zM2 73h1v1h-1zM30 73h1v1h-1zM0 74h1v1h-1zM30 75h1v1h-1zM16 76h1v1h-1zM8 77h1v1h-1zM10 77h1v1h-1zM37 77h1v1h-1zM39 77h1v1h-1zM4 78h1v1h-1zM8 78h1v1h-1zM21 78h1v1h-1zM4 79h1v1h-1zM8 79h1v1h-1zM11 79h1v1h-1zM4 80h1v1h-1zM9 80h1v1h-1zM29 80h1v1h-1zM2 81h2v1h-2zM5 81h2v1h-2zM29 81h1v1h-1zM31 81h1v1h-1zM8 82h1v1h-1zM30 82h1v1h-1zM16 83h1v1h-1zM21 83h1v1h-1zM1 84h1v1h-1zM9 85h1v1h-1zM22 87h1v1h-1zM28 87h1v1h-1zM11 88h1v1h-1zM0 89h1v1h-1zM14 89h1v1h-1zM13 90h1v1h-1zM21 90h1v1h-1zM35 91h1v1h-1zM36 92h1v1h-1zM9 93h2v1h-2z"/>
<path fill="#3c8b8b" d="M5 38h1v1h-1zM4 39h1v1h-1zM14 39h2v1h-2zM0 40h1v1h-1zM13 41h1v1h-1zM15 42h1v1h-1zM29 42h1v1h-1zM2 43h1v1h-1zM2 44h1v1h-1zM33 44h1v1h-1zM3 45h1v1h-1zM2 46h1v1h-1zM18 46h1v1h-1zM22 46h1v1h-1zM27 46h1v1h-1zM32 46h1v1h-1zM18 47h1v1h-1zM21 47h1v1h-1zM20 49h1v1h-1zM24 49h1v1h-1zM26 49h1v1h-1zM36 49h1v1h-1zM1 50h1v1h-1zM24 51h1v1h-1zM29 51h1v1h-1zM4 53h1v1h-1zM17 53h1v1h-1zM20 53h1v1h-1zM30 53h2v1h-2zM4 54h3v1h-3zM13 54h1v1h-1zM22 54h1v1h-1zM12 55h1v1h-1zM8 56h1v1h-1zM14 57h1v1h-1zM27 57h1v1h-1zM35 57h1v1h-1zM5 59h1v1h-1zM35 59h1v1h-1zM7 60h1v1h-1zM13 60h1v1h-1zM19 60h1v1h-1zM27 60h1v1h-1zM33 60h1v1h-1zM4 61h1v1h-1zM19 61h1v1h-1zM24 61h1v1h-1zM23 62h1v1h-1zM22 63h1v1h-1zM19 64h2v1h-2zM12 66h1v1h-1zM16 66h2v1h-2zM1 69h1v1h-1zM11 69h1v1h-1zM12 70h1v1h-1zM6 71h1v1h-1zM21 71h1v1h-1zM20 72h1v1h-1zM24 72h1v1h-1zM33 72h1v1h-1zM5 73h1v1h-1zM24 73h1v1h-1zM7 74h1v1h-1zM25 74h1v1h-1zM2 75h1v1h-1zM7 75h1v1h-1zM21 75h1v1h-1zM25 75h1v1h-1zM31 75h1v1h-1zM21 76h1v1h-1zM15 77h1v1h-1zM17 77h1v1h-1zM21 77h1v1h-1zM18 78h1v1h-1zM15 79h1v1h-1zM16 80h1v1h-1zM3 82h1v1h-1zM23 84h1v1h-1zM21 85h1v1h-1zM8 86h1v1h-1zM21 87h1v1h-1zM7 88h1v1h-1zM29 88h1v1h-1zM8 89h1v1h-1zM0 90h1v1h-1zM0 92h1v1h-1zM35 92h1v1h-1zM6 93h1v1h-1z"/>
<path fill="#3d8e8a" d="M6 38h1v1h-1zM1 41h2v1h-2zM16 42h1v1h-1zM1 43h1v1h-1zM11 43h1v1h-1zM19 43h1v1h-1zM22 43h1v1h-1zM11 44h1v1h-1zM34 45h1v1h-1zM3 46h3v1h-3zM33 46h2v1h-2zM19 47h1v1h-1zM13 48h1v1h-1zM5 49h1v1h-1zM7 49h1v1h-1zM30 49h2v1h-2zM0 50h1v1h-1zM16 50h1v1h-1zM21 50h1v1h-1zM23 50h1v1h-1zM25 50h1v1h-1zM10 51h1v1h-1zM23 51h1v1h-1zM0 52h1v1h-1zM12 52h1v1h-1zM21 52h3v1h-3zM1 53h1v1h-1zM6 53h1v1h-1zM18 53h1v1h-1zM22 53h1v1h-1zM0 54h1v1h-1zM9 55h3v1h-3zM25 55h1v1h-1zM16 56h1v1h-1zM22 56h1v1h-1zM7 57h1v1h-1zM17 57h1v1h-1zM23 57h1v1h-1zM34 57h1v1h-1zM5 58h1v1h-1zM30 58h1v1h-1zM34 58h1v1h-1zM9 59h1v1h-1zM13 59h1v1h-1zM19 59h1v1h-1zM34 59h1v1h-1zM0 60h1v1h-1zM6 60h1v1h-1zM8 60h1v1h-1zM3 61h1v1h-1zM2 62h1v1h-1zM19 63h1v1h-1zM15 64h1v1h-1zM17 64h1v1h-1zM17 65h1v1h-1zM3 66h1v1h-1zM27 66h1v1h-1zM18 68h1v1h-1zM10 69h1v1h-1zM21 70h1v1h-1zM0 71h1v1h-1zM2 72h1v1h-1zM12 72h2v1h-2zM6 73h1v1h-1zM23 73h1v1h-1zM6 74h1v1h-1zM23 74h2v1h-2zM30 74h1v1h-1zM1 75h1v1h-1zM9 77h1v1h-1zM9 79h1v1h-1zM3 80h1v1h-1zM30 81h1v1h-1zM1 82h2v1h-2zM2 83h1v1h-1zM14 83h1v1h-1zM0 84h1v1h-1zM14 85h1v1h-1zM9 86h1v1h-1zM7 87h1v1h-1zM29 87h1v1h-1zM10 88h1v1h-1zM15 90h1v1h-1zM22 90h2v1h-2zM15 91h1v1h-1z"/>
<path fill="#3e9189" d="M7 40h1v1h-1zM13 40h1v1h-1zM17 40h1v1h-1zM17 41h1v1h-1zM2 42h1v1h-1zM6 42h1v1h-1zM20 43h1v1h-1zM23 44h1v1h-1zM10 45h1v1h-1zM12 45h1v1h-1zM23 45h1v1h-1zM9 46h1v1h-1zM19 46h1v1h-1zM6 47h1v1h-1zM14 47h1v1h-1zM26 47h1v1h-1zM28 47h1v1h-1zM4 48h1v1h-1zM7 48h2v1h-2zM18 48h2v1h-2zM25 48h1v1h-1zM28 48h1v1h-1zM10 50h1v1h-1zM6 51h1v1h-1zM16 51h1v1h-1zM21 51h2v1h-2zM3 52h1v1h-1zM6 52h1v1h-1zM3 53h1v1h-1zM5 53h1v1h-1zM3 54h1v1h-1zM6 57h1v1h-1zM30 57h1v1h-1zM18 59h1v1h-1zM20 59h1v1h-1zM30 59h1v1h-1zM20 60h1v1h-1zM22 60h1v1h-1zM3 62h1v1h-1zM19 62h1v1h-1zM14 63h1v1h-1zM20 63h1v1h-1zM6 66h1v1h-1zM14 66h2v1h-2zM26 66h1v1h-1zM26 67h1v1h-1zM19 68h1v1h-1zM3 69h1v1h-1zM1 70h1v1h-1zM9 70h1v1h-1zM17 71h1v1h-1zM5 72h1v1h-1zM11 72h1v1h-1zM19 72h1v1h-1zM7 73h1v1h-1zM31 74h1v1h-1zM33 74h1v1h-1zM22 75h1v1h-1zM24 75h1v1h-1zM3 76h1v1h-1zM24 76h1v1h-1zM38 77h1v1h-1zM15 78h1v1h-1zM3 79h1v1h-1zM10 79h1v1h-1zM17 79h1v1h-1zM30 80h1v1h-1zM0 81h2v1h-2zM1 83h1v1h-1zM22 83h1v1h-1zM22 84h1v1h-1zM17 85h1v1h-1zM14 90h1v1h-1zM0 91h1v1h-1zM14 91h1v1h-1z"/>
<path fill="#3f9488" d="M5 39h1v1h-1zM4 40h1v1h-1zM16 40h1v1h-1zM3 41h1v1h-1zM7 41h1v1h-1zM14 41h1v1h-1zM4 42h1v1h-1zM21 43h1v1h-1zM19 45h1v1h-1zM32 45h1v1h-1zM3 47h1v1h-1zM5 48h2v1h-2zM8 49h1v1h-1zM10 49h1v1h-1zM17 49h1v1h-1zM7 50h1v1h-1zM9 50h1v1h-1zM24 50h1v1h-1zM2 51h1v1h-1zM2 52h1v1h-1zM17 52h1v1h-1zM0 53h1v1h-1zM13 53h1v1h-1zM19 53h1v1h-1zM25 54h1v1h-1zM7 55h1v1h-1zM28 56h1v1h-1zM15 57h1v1h-1zM18 58h1v1h-1zM27 58h1v1h-1zM27 59h1v1h-1zM16 60h1v1h-1zM21 60h1v1h-1zM29 60h1v1h-1zM20 61h1v1h-1zM22 61h2v1h-2zM5 62h1v1h-1zM22 62h1v1h-1zM21 63h1v1h-1zM3 65h1v1h-1zM12 65h1v1h-1zM16 65h1v1h-1zM4 66h1v1h-1zM13 66h1v1h-1zM2 69h1v1h-1zM3 72h2v1h-2zM18 72h1v1h-1zM16 77h1v1h-1zM23 77h1v1h-1zM9 78h1v1h-1zM17 78h1v1h-1zM16 79h1v1h-1zM1 80h2v1h-2zM0 82h1v1h-1zM15 83h1v1h-1zM21 84h1v1h-1zM15 85h2v1h-2zM21 89h1v1h-1zM23 89h1v1h-1z"/>
<path fill="#409787" d="M6 39h1v1h-1zM5 40h1v1h-1zM0 41h1v1h-1zM0 42h2v1h-2zM33 45h1v1h-1zM20 46h1v1h-1zM27 47h1v1h-1zM12 48h1v1h-1zM9 49h1v1h-1zM19 49h1v1h-1zM25 49h1v1h-1zM20 50h1v1h-1zM30 50h1v1h-1zM0 51h1v1h-1zM32 51h1v1h-1zM20 52h1v1h-1zM32 52h1v1h-1zM23 53h2v1h-2zM7 54h1v1h-1zM8 55h1v1h-1zM29 56h1v1h-1zM16 57h1v1h-1zM8 58h1v1h-1zM8 59h1v1h-1zM17 59h1v1h-1zM28 60h1v1h-1zM3 63h1v1h-1zM13 63h1v1h-1zM13 65h1v1h-1zM5 66h1v1h-1zM26 68h2v1h-2zM20 69h1v1h-1zM2 70h1v1h-1zM1 71h1v1h-1zM12 71h1v1h-1zM18 71h1v1h-1zM20 71h1v1h-1zM6 72h1v1h-1zM32 72h1v1h-1zM33 73h1v1h-1zM32 74h1v1h-1zM23 75h1v1h-1zM22 77h1v1h-1zM3 78h1v1h-1zM10 78h1v1h-1zM0 83h1v1h-1zM14 84h1v1h-1zM8 87h3v1h-3zM8 88h2v1h-2zM22 88h1v1h-1z"/>
<path fill="#409a86" d="M14 40h2v1h-2zM15 41h1v1h-1zM3 42h1v1h-1zM19 44h1v1h-1zM11 45h1v1h-1zM13 46h1v1h-1zM4 47h2v1h-2zM13 47h1v1h-1zM11 48h1v1h-1zM26 48h1v1h-1zM18 49h1v1h-1zM17 50h1v1h-1zM1 51h1v1h-1zM7 51h1v1h-1zM1 52h1v1h-1zM2 53h1v1h-1zM23 55h1v1h-1zM23 56h2v1h-2zM6 58h1v1h-1zM21 61h1v1h-1zM20 62h1v1h-1zM3 64h1v1h-1zM13 64h1v1h-1zM27 67h1v1h-1zM3 70h2v1h-2zM2 71h1v1h-1zM5 71h1v1h-1zM10 71h2v1h-2zM19 71h1v1h-1zM31 73h1v1h-1zM0 76h2v1h-2zM0 77h1v1h-1zM16 78h1v1h-1zM16 84h1v1h-1zM21 88h1v1h-1zM22 89h1v1h-1z"/>
<path fill="#419d85" d="M4 41h1v1h-1zM5 42h1v1h-1zM21 46h1v1h-1zM9 47h1v1h-1zM9 48h2v1h-2zM27 48h1v1h-1zM8 50h1v1h-1zM31 50h1v1h-1zM20 51h1v1h-1zM11 52h1v1h-1zM18 52h1v1h-1zM30 52h1v1h-1zM23 54h1v1h-1zM7 58h1v1h-1zM14 58h1v1h-1zM17 58h1v1h-1zM29 59h1v1h-1zM14 60h2v1h-2zM4 62h1v1h-1zM21 62h1v1h-1zM6 64h1v1h-1zM6 65h1v1h-1zM14 65h2v1h-2zM18 69h1v1h-1zM11 70h1v1h-1zM20 70h1v1h-1zM32 73h1v1h-1zM2 76h1v1h-1zM22 76h2v1h-2zM3 77h1v1h-1zM0 78h1v1h-1zM0 79h1v1h-1zM0 80h1v1h-1z"/>
<path fill="#42a084" d="M5 41h2v1h-2zM16 41h1v1h-1zM20 44h1v1h-1zM22 44h1v1h-1zM10 46h1v1h-1zM8 51h2v1h-2zM17 51h1v1h-1zM7 52h1v1h-1zM19 52h1v1h-1zM31 52h1v1h-1zM7 53h1v1h-1zM15 58h1v1h-1zM6 59h2v1h-2zM16 59h1v1h-1zM14 64h1v1h-1zM19 69h1v1h-1zM10 70h1v1h-1zM18 70h1v1h-1zM3 71h1v1h-1zM2 77h1v1h-1zM2 78h1v1h-1zM2 79h1v1h-1zM15 84h1v1h-1z"/>
<path fill="#43a382" d="M6 40h1v1h-1zM21 44h1v1h-1zM20 45h1v1h-1zM11 46h1v1h-1zM19 51h1v1h-1zM12 53h1v1h-1zM8 54h1v1h-1zM11 54h2v1h-2zM24 55h1v1h-1zM29 57h1v1h-1zM16 58h1v1h-1zM14 59h1v1h-1zM4 63h2v1h-2zM4 65h1v1h-1zM19 70h1v1h-1zM4 71h1v1h-1zM1 79h1v1h-1z"/>
<path fill="#44a780" d="M22 45h1v1h-1zM12 46h1v1h-1zM12 47h1v1h-1zM18 50h2v1h-2zM18 51h1v1h-1zM30 51h1v1h-1zM10 52h1v1h-1zM9 54h1v1h-1zM24 54h1v1h-1zM28 57h1v1h-1zM28 59h1v1h-1zM1 77h1v1h-1z"/>
<path fill="#46aa7e" d="M10 47h2v1h-2zM8 53h1v1h-1zM11 53h1v1h-1zM10 54h1v1h-1zM5 65h1v1h-1zM1 78h1v1h-1z"/>
<path fill="#47ad7c" d="M31 51h1v1h-1zM9 52h1v1h-1zM10 53h1v1h-1zM29 58h1v1h-1zM4 64h2v1h-2z"/>
<path fill="#48b17a" d="M21 45h1v1h-1zM8 52h1v1h-1zM9 53h1v1h-1zM28 58h1v1h-1zM15 59h1v1h-1z"/>
</g>
<g transform="translate(1518 1037) scale(5.9853 5.9265)" shape-rendering="crispEdges">
<path fill="#392d69" d="M11 61h1v1h-1z"/>
<path fill="#392f6f" d="M11 58h1v1h-1zM2 62h1v1h-1z"/>
<path fill="#3a3175" d="M1 58h1v1h-1zM1 59h1v1h-1zM3 59h1v1h-1zM8 59h1v1h-1zM11 60h1v1h-1zM8 61h1v1h-1z"/>
<path fill="#3a3379" d="M2 55h1v1h-1zM11 56h1v1h-1zM1 57h1v1h-1zM8 58h1v1h-1zM10 58h1v1h-1zM6 59h1v1h-1zM10 59h1v1h-1zM4 60h1v1h-1zM10 60h1v1h-1zM9 61h1v1h-1zM3 64h1v1h-1zM0 65h1v1h-1z"/>
<path fill="#3b367d" d="M12 33h1v1h-1zM3 54h1v1h-1zM6 54h1v1h-1zM1 56h1v1h-1zM7 56h1v1h-1zM13 56h1v1h-1zM4 57h1v1h-1zM14 57h1v1h-1zM4 58h1v1h-1zM6 58h1v1h-1zM9 58h1v1h-1zM12 58h4v1h-4zM2 59h1v1h-1zM7 59h1v1h-1zM9 59h1v1h-1zM11 59h1v1h-1zM13 59h2v1h-2zM0 60h1v1h-1zM3 60h1v1h-1zM7 60h1v1h-1zM1 61h1v1h-1zM7 61h1v1h-1zM13 61h1v1h-1zM11 62h1v1h-1zM1 63h1v1h-1zM4 63h1v1h-1zM7 63h1v1h-1zM0 64h1v1h-1z"/>
<path fill="#3c3980" d="M4 53h1v1h-1zM11 55h1v1h-1zM13 55h1v1h-1zM2 56h3v1h-3zM10 56h1v1h-1zM12 56h1v1h-1zM0 57h1v1h-1zM2 57h1v1h-1zM7 57h1v1h-1zM12 57h1v1h-1zM5 58h1v1h-1zM7 58h1v1h-1zM4 59h2v1h-2zM2 60h1v1h-1zM9 60h1v1h-1zM12 60h3v1h-3zM3 61h2v1h-2zM6 61h1v1h-1zM14 61h1v1h-1zM0 62h2v1h-2zM5 62h3v1h-3zM9 62h1v1h-1zM12 62h1v1h-1zM3 63h1v1h-1zM8 63h1v1h-1zM11 63h1v1h-1zM9 64h1v1h-1zM1 65h1v1h-1zM4 65h1v1h-1zM7 65h1v1h-1zM0 66h2v1h-2zM5 66h1v1h-1z"/>
<path fill="#3d3c83" d="M2 52h1v1h-1zM0 53h1v1h-1zM0 54h1v1h-1zM4 54h1v1h-1zM9 54h1v1h-1zM0 55h1v1h-1zM4 55h1v1h-1zM6 55h1v1h-1zM9 55h1v1h-1zM9 56h1v1h-1zM5 57h2v1h-2zM10 57h1v1h-1zM13 57h1v1h-1zM0 58h1v1h-1zM3 58h1v1h-1zM0 59h1v1h-1zM12 59h1v1h-1zM1 60h1v1h-1zM8 60h1v1h-1zM0 61h1v1h-1zM2 61h1v1h-1zM10 61h1v1h-1zM16 61h1v1h-1zM3 62h1v1h-1zM14 62h2v1h-2zM6 63h1v1h-1zM9 63h1v1h-1zM13 63h1v1h-1zM10 64h1v1h-1zM2 65h2v1h-2zM8 65h1v1h-1zM31 65h1v1h-1zM4 66h1v1h-1zM9 66h1v1h-1z"/>
<path fill="#3e3e86" d="M12 32h1v1h-1zM15 33h1v1h-1zM13 34h1v1h-1zM13 35h1v1h-1zM0 50h1v1h-1zM0 51h1v1h-1zM0 52h1v1h-1zM1 53h2v1h-2zM2 54h1v1h-1zM5 54h1v1h-1zM13 54h1v1h-1zM1 55h1v1h-1zM5 55h1v1h-1zM14 55h1v1h-1zM0 56h1v1h-1zM5 56h1v1h-1zM8 56h1v1h-1zM14 56h1v1h-1zM8 57h2v1h-2zM11 57h1v1h-1zM17 57h1v1h-1zM2 58h1v1h-1zM16 58h1v1h-1zM16 59h1v1h-1zM5 60h1v1h-1zM15 60h1v1h-1zM12 61h1v1h-1zM4 62h1v1h-1zM10 62h1v1h-1zM5 63h1v1h-1zM10 63h1v1h-1zM14 63h1v1h-1zM4 64h3v1h-3zM11 64h1v1h-1zM5 65h2v1h-2zM10 65h1v1h-1zM3 66h1v1h-1zM12 66h1v1h-1zM33 66h1v1h-1zM0 67h1v1h-1zM2 67h2v1h-2z"/>
<path fill="#3f4188" d="M13 30h1v1h-1zM13 31h1v1h-1zM11 32h1v1h-1zM13 33h1v1h-1zM14 34h1v1h-1zM1 51h1v1h-1zM3 51h2v1h-2zM3 52h1v1h-1zM5 53h2v1h-2zM8 53h2v1h-2zM11 53h1v1h-1zM1 54h1v1h-1zM11 54h2v1h-2zM3 55h1v1h-1zM7 55h2v1h-2zM10 55h1v1h-1zM12 55h1v1h-1zM6 56h1v1h-1zM15 56h1v1h-1zM16 57h1v1h-1zM17 58h1v1h-1zM15 59h1v1h-1zM5 61h1v1h-1zM8 62h1v1h-1zM0 63h1v1h-1zM2 63h1v1h-1zM32 63h2v1h-2zM2 64h1v1h-1zM7 64h1v1h-1zM32 64h3v1h-3zM11 65h1v1h-1zM33 65h1v1h-1zM2 66h1v1h-1zM10 66h2v1h-2zM5 67h1v1h-1z"/>
<path fill="#3f4489" d="M14 31h1v1h-1zM13 32h1v1h-1zM12 34h1v1h-1zM11 35h2v1h-2zM1 50h1v1h-1zM4 50h2v1h-2zM2 51h1v1h-1zM5 51h1v1h-1zM4 52h1v1h-1zM10 52h1v1h-1zM12 52h1v1h-1zM7 53h1v1h-1zM10 53h1v1h-1zM13 53h1v1h-1zM7 54h1v1h-1zM10 54h1v1h-1zM16 55h1v1h-1zM17 56h1v1h-1zM3 57h1v1h-1zM15 57h1v1h-1zM6 60h1v1h-1zM16 60h1v1h-1zM15 61h1v1h-1zM17 61h1v1h-1zM13 62h1v1h-1zM12 63h1v1h-1zM34 63h1v1h-1zM1 64h1v1h-1zM8 64h1v1h-1zM12 64h3v1h-3zM36 64h1v1h-1zM9 65h1v1h-1zM15 65h1v1h-1zM32 65h1v1h-1zM34 65h2v1h-2zM8 66h1v1h-1zM13 66h1v1h-1zM32 66h1v1h-1zM36 66h1v1h-1zM1 67h1v1h-1zM7 67h1v1h-1z"/>
<path fill="#3f478a" d="M12 31h1v1h-1zM15 31h1v1h-1zM14 32h2v1h-2zM11 33h1v1h-1zM14 33h1v1h-1zM16 33h1v1h-1zM15 34h1v1h-1zM14 35h2v1h-2zM12 36h1v1h-1zM34 40h1v1h-1zM34 41h2v1h-2zM32 42h1v1h-1zM0 47h1v1h-1zM0 48h1v1h-1zM1 49h1v1h-1zM3 50h1v1h-1zM7 51h1v1h-1zM1 52h1v1h-1zM5 52h2v1h-2zM9 52h1v1h-1zM13 52h1v1h-1zM8 54h1v1h-1zM15 54h2v1h-2zM17 55h1v1h-1zM18 58h1v1h-1zM18 61h1v1h-1zM16 62h2v1h-2zM15 63h1v1h-1zM15 64h1v1h-1zM31 64h1v1h-1zM35 64h1v1h-1zM7 66h1v1h-1zM14 66h1v1h-1zM34 66h2v1h-2zM6 67h1v1h-1zM9 67h1v1h-1zM31 67h1v1h-1zM33 67h1v1h-1z"/>
<path fill="#40498b" d="M30 21h1v1h-1zM11 30h1v1h-1zM11 36h1v1h-1zM36 40h1v1h-1zM32 41h2v1h-2zM34 43h1v1h-1zM32 44h1v1h-1zM34 44h1v1h-1zM1 48h1v1h-1zM5 48h1v1h-1zM0 49h1v1h-1zM8 51h2v1h-2zM11 51h1v1h-1zM14 51h1v1h-1zM7 52h2v1h-2zM11 52h1v1h-1zM3 53h1v1h-1zM14 53h1v1h-1zM14 54h1v1h-1zM15 55h1v1h-1zM16 56h1v1h-1zM18 57h2v1h-2zM17 59h1v1h-1zM18 60h1v1h-1zM35 62h1v1h-1zM17 63h1v1h-1zM12 65h3v1h-3zM16 65h1v1h-1zM6 66h1v1h-1zM16 66h1v1h-1zM29 66h2v1h-2zM8 67h1v1h-1zM12 67h4v1h-4zM30 67h1v1h-1zM32 67h1v1h-1zM34 67h2v1h-2z"/>
<path fill="#404c8b" d="M13 29h1v1h-1zM10 30h1v1h-1zM15 30h1v1h-1zM9 31h1v1h-1zM17 32h1v1h-1zM9 33h1v1h-1zM10 34h2v1h-2zM13 36h1v1h-1zM14 37h1v1h-1zM33 40h1v1h-1zM36 41h1v1h-1zM31 42h1v1h-1zM34 42h1v1h-1zM36 42h1v1h-1zM31 43h2v1h-2zM35 43h1v1h-1zM1 47h2v1h-2zM2 48h1v1h-1zM4 48h1v1h-1zM4 49h1v1h-1zM8 50h1v1h-1zM6 51h1v1h-1zM10 51h1v1h-1zM16 52h2v1h-2zM12 53h1v1h-1zM15 53h1v1h-1zM18 55h1v1h-1zM18 56h1v1h-1zM19 58h1v1h-1zM18 59h1v1h-1zM19 60h1v1h-1zM18 62h1v1h-1zM30 62h1v1h-1zM33 62h2v1h-2zM16 63h1v1h-1zM18 63h1v1h-1zM30 63h2v1h-2zM16 64h1v1h-1zM29 64h1v1h-1zM29 65h1v1h-1zM36 65h1v1h-1zM31 66h1v1h-1zM4 67h1v1h-1zM10 67h2v1h-2z"/>
<path fill="#40508c" d="M12 11h1v1h-1zM12 30h1v1h-1zM16 30h1v1h-1zM11 31h1v1h-1zM16 31h1v1h-1zM9 32h2v1h-2zM10 33h1v1h-1zM9 34h1v1h-1zM17 34h1v1h-1zM16 35h1v1h-1zM14 36h2v1h-2zM12 37h1v1h-1zM34 39h1v1h-1zM32 40h1v1h-1zM30 41h1v1h-1zM30 42h1v1h-1zM30 43h1v1h-1zM33 43h1v1h-1zM31 44h1v1h-1zM33 44h1v1h-1zM35 44h1v1h-1zM2 45h1v1h-1zM3 47h1v1h-1zM2 49h2v1h-2zM5 49h1v1h-1zM9 49h1v1h-1zM2 50h1v1h-1zM6 50h1v1h-1zM13 51h1v1h-1zM16 51h1v1h-1zM14 52h2v1h-2zM16 53h2v1h-2zM17 54h1v1h-1zM19 56h1v1h-1zM20 57h1v1h-1zM21 59h1v1h-1zM20 60h1v1h-1zM19 61h1v1h-1zM29 62h1v1h-1zM31 62h2v1h-2zM17 64h1v1h-1zM30 64h1v1h-1zM17 65h1v1h-1zM28 65h1v1h-1zM18 67h1v1h-1zM28 67h1v1h-1zM36 67h1v1h-1z"/>
<path fill="#40548d" d="M53 6h1v1h-1zM51 7h1v1h-1zM53 7h1v1h-1zM31 20h1v1h-1zM29 21h1v1h-1zM12 29h1v1h-1zM14 29h1v1h-1zM10 31h1v1h-1zM16 32h1v1h-1zM51 32h1v1h-1zM51 33h2v1h-2zM9 35h1v1h-1zM17 35h1v1h-1zM10 36h1v1h-1zM16 36h1v1h-1zM10 37h1v1h-1zM33 39h1v1h-1zM30 40h2v1h-2zM33 42h1v1h-1zM1 43h1v1h-1zM2 44h1v1h-1zM33 45h1v1h-1zM0 46h2v1h-2zM3 46h1v1h-1zM3 48h1v1h-1zM6 48h1v1h-1zM6 49h1v1h-1zM14 49h1v1h-1zM7 50h1v1h-1zM13 50h2v1h-2zM12 51h1v1h-1zM15 51h1v1h-1zM18 54h2v1h-2zM20 58h1v1h-1zM19 59h2v1h-2zM17 60h1v1h-1zM22 61h1v1h-1zM35 61h1v1h-1zM19 62h2v1h-2zM19 63h1v1h-1zM28 63h1v1h-1zM35 63h2v1h-2zM18 65h1v1h-1zM30 65h1v1h-1zM37 65h1v1h-1z"/>
<path fill="#3f588e" d="M53 5h1v1h-1zM54 6h1v1h-1zM11 9h1v1h-1zM12 10h1v1h-1zM10 12h2v1h-2zM30 19h1v1h-1zM29 20h2v1h-2zM31 22h1v1h-1zM13 28h1v1h-1zM11 29h1v1h-1zM51 30h1v1h-1zM50 31h1v1h-1zM8 32h1v1h-1zM50 32h1v1h-1zM53 32h1v1h-1zM8 33h1v1h-1zM8 34h1v1h-1zM16 34h1v1h-1zM53 34h1v1h-1zM10 35h1v1h-1zM12 38h2v1h-2zM35 40h1v1h-1zM31 41h1v1h-1zM37 41h1v1h-1zM35 42h1v1h-1zM36 43h1v1h-1zM3 44h1v1h-1zM30 44h1v1h-1zM2 46h1v1h-1zM32 46h1v1h-1zM6 47h1v1h-1zM10 48h1v1h-1zM7 49h2v1h-2zM12 49h2v1h-2zM9 50h2v1h-2zM12 50h1v1h-1zM16 50h1v1h-1zM17 51h1v1h-1zM58 51h1v1h-1zM18 52h1v1h-1zM18 53h1v1h-1zM19 55h1v1h-1zM21 58h1v1h-1zM32 60h1v1h-1zM29 61h1v1h-1zM31 61h1v1h-1zM33 61h1v1h-1zM36 61h1v1h-1zM24 63h1v1h-1zM29 63h1v1h-1zM37 63h2v1h-2zM21 64h2v1h-2zM37 64h1v1h-1zM27 65h1v1h-1zM15 66h1v1h-1zM17 66h2v1h-2zM37 66h1v1h-1zM19 67h1v1h-1zM29 67h1v1h-1z"/>
<path fill="#3f5d8e" d="M52 4h1v1h-1zM49 6h1v1h-1zM52 8h1v1h-1zM9 10h1v1h-1zM11 10h1v1h-1zM13 11h1v1h-1zM33 21h1v1h-1zM29 22h2v1h-2zM33 22h1v1h-1zM30 23h1v1h-1zM32 23h1v1h-1zM11 28h1v1h-1zM15 29h1v1h-1zM9 30h1v1h-1zM14 30h1v1h-1zM52 31h2v1h-2zM17 33h1v1h-1zM51 34h1v1h-1zM9 36h1v1h-1zM8 37h1v1h-1zM11 37h1v1h-1zM13 37h1v1h-1zM15 37h1v1h-1zM11 38h1v1h-1zM14 38h2v1h-2zM31 38h2v1h-2zM11 39h1v1h-1zM31 39h2v1h-2zM36 39h1v1h-1zM12 40h1v1h-1zM29 42h1v1h-1zM2 43h1v1h-1zM29 43h1v1h-1zM0 44h2v1h-2zM36 44h1v1h-1zM0 45h2v1h-2zM4 45h1v1h-1zM32 45h1v1h-1zM34 45h2v1h-2zM4 46h1v1h-1zM11 46h1v1h-1zM33 46h1v1h-1zM5 47h1v1h-1zM7 47h1v1h-1zM9 47h1v1h-1zM8 48h2v1h-2zM10 49h2v1h-2zM56 49h1v1h-1zM11 50h1v1h-1zM57 50h1v1h-1zM57 51h1v1h-1zM19 53h1v1h-1zM31 60h1v1h-1zM20 61h1v1h-1zM23 61h1v1h-1zM25 62h1v1h-1zM27 62h1v1h-1zM36 62h1v1h-1zM21 63h1v1h-1zM26 63h1v1h-1zM18 64h1v1h-1zM27 64h2v1h-2zM19 65h1v1h-1zM24 65h1v1h-1zM25 66h2v1h-2zM16 67h1v1h-1zM26 67h1v1h-1z"/>
<path fill="#3e618f" d="M50 5h2v1h-2zM50 6h1v1h-1zM52 6h1v1h-1zM50 7h1v1h-1zM11 8h2v1h-2zM53 8h1v1h-1zM10 9h1v1h-1zM10 11h1v1h-1zM9 12h1v1h-1zM11 13h3v1h-3zM32 18h1v1h-1zM31 19h1v1h-1zM31 21h2v1h-2zM28 23h1v1h-1zM30 24h1v1h-1zM14 28h1v1h-1zM10 29h1v1h-1zM8 30h1v1h-1zM49 30h2v1h-2zM53 30h1v1h-1zM48 31h2v1h-2zM51 31h1v1h-1zM52 32h1v1h-1zM18 33h1v1h-1zM50 34h1v1h-1zM52 34h1v1h-1zM6 35h3v1h-3zM8 36h1v1h-1zM17 36h1v1h-1zM9 37h1v1h-1zM4 38h1v1h-1zM10 38h1v1h-1zM33 38h2v1h-2zM10 39h1v1h-1zM14 39h1v1h-1zM35 39h1v1h-1zM3 40h1v1h-1zM29 40h1v1h-1zM1 41h2v1h-2zM1 42h1v1h-1zM3 43h1v1h-1zM7 44h1v1h-1zM29 44h1v1h-1zM3 45h1v1h-1zM5 45h1v1h-1zM10 45h1v1h-1zM5 46h1v1h-1zM7 46h1v1h-1zM34 46h2v1h-2zM4 47h1v1h-1zM11 47h1v1h-1zM7 48h1v1h-1zM13 48h1v1h-1zM16 49h1v1h-1zM15 50h1v1h-1zM55 50h1v1h-1zM19 51h1v1h-1zM55 51h1v1h-1zM20 53h1v1h-1zM20 55h1v1h-1zM20 56h2v1h-2zM22 59h1v1h-1zM21 60h1v1h-1zM34 60h1v1h-1zM30 61h1v1h-1zM32 61h1v1h-1zM21 62h2v1h-2zM26 62h1v1h-1zM28 62h1v1h-1zM20 63h1v1h-1zM22 63h2v1h-2zM19 64h2v1h-2zM26 64h1v1h-1zM20 65h1v1h-1zM26 65h1v1h-1zM38 65h1v1h-1zM19 66h2v1h-2zM28 66h1v1h-1zM20 67h1v1h-1zM22 67h1v1h-1z"/>
<path fill="#3e6690" d="M51 4h1v1h-1zM52 7h1v1h-1zM54 7h2v1h-2zM10 8h1v1h-1zM49 8h3v1h-3zM9 9h1v1h-1zM14 9h1v1h-1zM51 9h3v1h-3zM13 10h2v1h-2zM11 11h1v1h-1zM13 12h1v1h-1zM10 13h1v1h-1zM30 18h1v1h-1zM28 19h1v1h-1zM32 19h1v1h-1zM32 20h1v1h-1zM32 22h1v1h-1zM29 23h1v1h-1zM31 23h1v1h-1zM10 27h1v1h-1zM7 31h2v1h-2zM17 31h1v1h-1zM19 31h1v1h-1zM49 32h1v1h-1zM54 32h1v1h-1zM7 33h1v1h-1zM19 33h1v1h-1zM48 34h2v1h-2zM52 35h2v1h-2zM31 37h1v1h-1zM8 38h1v1h-1zM30 38h1v1h-1zM0 39h1v1h-1zM11 40h1v1h-1zM3 41h1v1h-1zM6 41h1v1h-1zM9 41h1v1h-1zM29 41h1v1h-1zM0 42h1v1h-1zM5 42h1v1h-1zM37 42h1v1h-1zM0 43h1v1h-1zM4 44h1v1h-1zM37 44h1v1h-1zM6 45h1v1h-1zM31 45h1v1h-1zM8 46h1v1h-1zM14 46h1v1h-1zM8 47h1v1h-1zM14 47h1v1h-1zM32 47h1v1h-1zM12 48h1v1h-1zM14 48h1v1h-1zM15 49h1v1h-1zM58 49h1v1h-1zM56 50h1v1h-1zM19 52h1v1h-1zM20 54h1v1h-1zM22 54h1v1h-1zM21 57h1v1h-1zM24 57h1v1h-1zM23 60h1v1h-1zM30 60h1v1h-1zM28 61h1v1h-1zM23 62h2v1h-2zM27 63h1v1h-1zM23 64h3v1h-3zM23 65h1v1h-1zM22 66h1v1h-1zM27 66h1v1h-1zM38 66h1v1h-1zM17 67h1v1h-1zM23 67h1v1h-1zM27 67h1v1h-1zM37 67h1v1h-1z"/>
<path fill="#3e6a90" d="M54 5h1v1h-1zM51 6h1v1h-1zM54 8h1v1h-1zM8 9h1v1h-1zM12 9h1v1h-1zM10 10h1v1h-1zM52 10h2v1h-2zM9 11h1v1h-1zM53 11h1v1h-1zM12 12h1v1h-1zM14 12h1v1h-1zM14 13h1v1h-1zM11 14h2v1h-2zM31 18h1v1h-1zM29 19h1v1h-1zM28 20h1v1h-1zM27 21h2v1h-2zM28 22h1v1h-1zM29 24h1v1h-1zM31 24h1v1h-1zM10 28h1v1h-1zM7 29h1v1h-1zM9 29h1v1h-1zM16 29h1v1h-1zM52 29h1v1h-1zM17 30h1v1h-1zM52 30h1v1h-1zM6 31h1v1h-1zM18 32h1v1h-1zM49 33h2v1h-2zM53 33h1v1h-1zM7 34h1v1h-1zM54 34h1v1h-1zM18 35h1v1h-1zM51 35h1v1h-1zM6 36h1v1h-1zM4 37h1v1h-1zM16 37h1v1h-1zM35 37h1v1h-1zM9 38h1v1h-1zM2 39h2v1h-2zM8 39h2v1h-2zM13 39h1v1h-1zM29 39h1v1h-1zM1 40h1v1h-1zM5 40h1v1h-1zM8 40h1v1h-1zM10 40h1v1h-1zM13 40h1v1h-1zM0 41h1v1h-1zM5 41h1v1h-1zM11 41h3v1h-3zM2 42h1v1h-1zM9 42h1v1h-1zM28 42h1v1h-1zM7 43h1v1h-1zM37 43h1v1h-1zM8 44h1v1h-1zM7 45h2v1h-2zM30 45h1v1h-1zM36 45h1v1h-1zM6 46h1v1h-1zM9 46h2v1h-2zM30 46h2v1h-2zM10 47h1v1h-1zM12 47h1v1h-1zM56 47h1v1h-1zM11 48h1v1h-1zM16 48h1v1h-1zM55 48h1v1h-1zM17 49h1v1h-1zM19 49h2v1h-2zM57 49h1v1h-1zM20 50h1v1h-1zM18 51h1v1h-1zM54 51h1v1h-1zM55 52h1v1h-1zM56 53h1v1h-1zM21 55h1v1h-1zM22 56h1v1h-1zM23 57h1v1h-1zM22 58h1v1h-1zM23 59h1v1h-1zM22 60h1v1h-1zM27 60h1v1h-1zM29 60h1v1h-1zM33 60h1v1h-1zM36 60h1v1h-1zM21 61h1v1h-1zM34 61h1v1h-1zM25 63h1v1h-1zM38 64h1v1h-1zM21 65h1v1h-1zM25 65h1v1h-1zM21 66h1v1h-1zM24 66h1v1h-1zM21 67h1v1h-1zM24 67h1v1h-1z"/>
<path fill="#3e6e8f" d="M53 4h1v1h-1zM52 5h1v1h-1zM48 6h1v1h-1zM49 7h1v1h-1zM13 8h1v1h-1zM48 8h1v1h-1zM55 8h1v1h-1zM50 9h1v1h-1zM54 10h1v1h-1zM8 11h1v1h-1zM14 11h1v1h-1zM8 12h1v1h-1zM10 14h1v1h-1zM29 17h1v1h-1zM29 18h1v1h-1zM27 20h1v1h-1zM33 20h1v1h-1zM27 22h1v1h-1zM33 23h1v1h-1zM12 28h1v1h-1zM49 29h1v1h-1zM48 30h1v1h-1zM7 32h1v1h-1zM6 34h1v1h-1zM18 34h1v1h-1zM4 35h1v1h-1zM19 35h1v1h-1zM50 35h1v1h-1zM7 36h1v1h-1zM34 36h1v1h-1zM52 36h2v1h-2zM1 37h1v1h-1zM17 37h1v1h-1zM32 37h1v1h-1zM3 38h1v1h-1zM7 38h1v1h-1zM16 38h1v1h-1zM35 38h1v1h-1zM12 39h1v1h-1zM30 39h1v1h-1zM37 39h1v1h-1zM2 40h1v1h-1zM9 40h1v1h-1zM14 40h1v1h-1zM37 40h1v1h-1zM4 41h1v1h-1zM8 41h1v1h-1zM28 41h1v1h-1zM38 41h1v1h-1zM4 42h1v1h-1zM6 42h1v1h-1zM13 42h1v1h-1zM38 42h1v1h-1zM4 43h1v1h-1zM11 43h1v1h-1zM38 43h1v1h-1zM5 44h2v1h-2zM10 44h1v1h-1zM9 45h1v1h-1zM29 45h1v1h-1zM15 46h1v1h-1zM13 47h1v1h-1zM15 47h1v1h-1zM31 47h1v1h-1zM33 47h1v1h-1zM56 48h2v1h-2zM53 49h1v1h-1zM55 49h1v1h-1zM17 50h3v1h-3zM53 50h2v1h-2zM58 50h1v1h-1zM53 51h1v1h-1zM56 51h1v1h-1zM20 52h1v1h-1zM57 52h1v1h-1zM21 53h1v1h-1zM21 54h1v1h-1zM22 55h1v1h-1zM23 56h1v1h-1zM22 57h1v1h-1zM23 58h1v1h-1zM25 59h1v1h-1zM27 59h1v1h-1zM32 59h1v1h-1zM25 60h2v1h-2zM28 60h1v1h-1zM25 61h1v1h-1zM37 61h1v1h-1zM37 62h2v1h-2zM22 65h1v1h-1zM39 65h1v1h-1zM23 66h1v1h-1zM25 67h1v1h-1z"/>
<path fill="#3d728f" d="M48 5h2v1h-2zM9 8h1v1h-1zM49 9h1v1h-1zM54 9h2v1h-2zM8 10h1v1h-1zM51 10h1v1h-1zM16 11h1v1h-1zM8 13h2v1h-2zM10 15h3v1h-3zM31 17h1v1h-1zM34 18h1v1h-1zM27 19h1v1h-1zM34 23h1v1h-1zM32 24h1v1h-1zM28 25h1v1h-1zM12 27h1v1h-1zM9 28h1v1h-1zM16 28h1v1h-1zM17 29h1v1h-1zM51 29h1v1h-1zM6 30h2v1h-2zM18 31h1v1h-1zM54 31h1v1h-1zM48 32h1v1h-1zM55 32h1v1h-1zM47 33h2v1h-2zM54 33h1v1h-1zM5 34h1v1h-1zM19 34h1v1h-1zM5 35h1v1h-1zM18 36h2v1h-2zM51 36h1v1h-1zM2 37h1v1h-1zM5 37h1v1h-1zM18 37h1v1h-1zM30 37h1v1h-1zM33 37h1v1h-1zM2 38h1v1h-1zM5 38h2v1h-2zM17 38h1v1h-1zM36 38h1v1h-1zM1 39h1v1h-1zM5 39h1v1h-1zM16 39h1v1h-1zM19 39h1v1h-1zM4 40h1v1h-1zM6 40h1v1h-1zM28 40h1v1h-1zM38 40h1v1h-1zM10 41h1v1h-1zM8 43h3v1h-3zM27 43h1v1h-1zM13 44h1v1h-1zM27 44h2v1h-2zM13 45h1v1h-1zM19 45h1v1h-1zM17 46h1v1h-1zM16 47h1v1h-1zM28 47h3v1h-3zM58 47h1v1h-1zM18 48h1v1h-1zM32 48h1v1h-1zM34 48h1v1h-1zM54 49h1v1h-1zM21 50h1v1h-1zM20 51h1v1h-1zM21 52h1v1h-1zM54 52h1v1h-1zM58 52h1v1h-1zM55 53h1v1h-1zM57 53h1v1h-1zM54 54h1v1h-1zM25 58h1v1h-1zM28 59h1v1h-1zM31 59h1v1h-1zM33 59h1v1h-1zM24 60h1v1h-1zM27 61h1v1h-1zM38 61h1v1h-1zM39 63h1v1h-1zM38 67h1v1h-1z"/>
<path fill="#3d778e" d="M51 3h2v1h-2zM50 4h1v1h-1zM55 5h1v1h-1zM56 6h1v1h-1zM11 7h2v1h-2zM48 7h1v1h-1zM56 7h1v1h-1zM8 8h1v1h-1zM14 8h1v1h-1zM13 9h1v1h-1zM15 9h1v1h-1zM48 9h1v1h-1zM15 10h1v1h-1zM15 11h1v1h-1zM50 11h1v1h-1zM8 14h2v1h-2zM13 15h1v1h-1zM30 17h1v1h-1zM32 17h1v1h-1zM28 18h1v1h-1zM33 19h1v1h-1zM35 19h1v1h-1zM34 21h1v1h-1zM27 23h1v1h-1zM34 24h1v1h-1zM30 25h3v1h-3zM9 27h1v1h-1zM11 27h1v1h-1zM14 27h1v1h-1zM17 28h1v1h-1zM49 28h1v1h-1zM8 29h1v1h-1zM18 30h1v1h-1zM54 30h1v1h-1zM46 31h1v1h-1zM4 32h1v1h-1zM6 32h1v1h-1zM47 32h1v1h-1zM6 33h1v1h-1zM48 35h2v1h-2zM54 35h1v1h-1zM5 36h1v1h-1zM35 36h1v1h-1zM6 37h2v1h-2zM19 37h1v1h-1zM34 37h1v1h-1zM53 37h1v1h-1zM1 38h1v1h-1zM18 38h1v1h-1zM4 39h1v1h-1zM15 39h1v1h-1zM18 39h1v1h-1zM0 40h1v1h-1zM7 41h1v1h-1zM14 41h1v1h-1zM17 41h1v1h-1zM3 42h1v1h-1zM7 42h1v1h-1zM14 42h1v1h-1zM27 42h1v1h-1zM5 43h1v1h-1zM12 43h2v1h-2zM17 43h1v1h-1zM9 44h1v1h-1zM11 45h2v1h-2zM15 45h1v1h-1zM28 45h1v1h-1zM12 46h1v1h-1zM29 46h1v1h-1zM17 47h1v1h-1zM20 47h1v1h-1zM35 47h1v1h-1zM54 47h1v1h-1zM15 48h1v1h-1zM19 48h1v1h-1zM33 48h1v1h-1zM53 48h2v1h-2zM58 48h1v1h-1zM22 49h1v1h-1zM22 50h1v1h-1zM59 50h1v1h-1zM21 51h1v1h-1zM59 51h1v1h-1zM56 52h1v1h-1zM54 53h1v1h-1zM23 55h1v1h-1zM26 57h1v1h-1zM24 58h1v1h-1zM26 58h1v1h-1zM29 58h2v1h-2zM26 59h1v1h-1zM30 59h1v1h-1zM34 59h2v1h-2zM35 60h1v1h-1zM26 61h1v1h-1zM39 66h1v1h-1zM39 67h1v1h-1z"/>
<path fill="#3d7b8e" d="M53 3h1v1h-1zM55 3h1v1h-1zM48 4h1v1h-1zM54 4h1v1h-1zM10 6h1v1h-1zM13 7h1v1h-1zM56 8h1v1h-1zM16 10h1v1h-1zM50 10h1v1h-1zM7 11h1v1h-1zM52 12h1v1h-1zM7 13h1v1h-1zM15 13h1v1h-1zM14 14h1v1h-1zM33 18h1v1h-1zM34 19h1v1h-1zM34 20h1v1h-1zM26 21h1v1h-1zM34 22h1v1h-1zM28 24h1v1h-1zM33 24h1v1h-1zM29 25h1v1h-1zM33 25h1v1h-1zM11 26h1v1h-1zM8 28h1v1h-1zM15 28h1v1h-1zM50 28h1v1h-1zM53 29h1v1h-1zM5 30h1v1h-1zM47 31h1v1h-1zM3 32h1v1h-1zM5 32h1v1h-1zM4 33h2v1h-2zM46 33h1v1h-1zM55 33h1v1h-1zM4 34h1v1h-1zM20 34h1v1h-1zM47 34h1v1h-1zM55 34h1v1h-1zM1 35h2v1h-2zM0 36h1v1h-1zM2 36h1v1h-1zM0 37h1v1h-1zM3 37h1v1h-1zM20 37h1v1h-1zM36 37h2v1h-2zM37 38h2v1h-2zM7 39h1v1h-1zM17 39h1v1h-1zM28 39h1v1h-1zM38 39h1v1h-1zM15 40h1v1h-1zM17 40h1v1h-1zM15 41h1v1h-1zM27 41h1v1h-1zM8 42h1v1h-1zM10 42h1v1h-1zM39 42h1v1h-1zM6 43h1v1h-1zM14 43h2v1h-2zM11 44h2v1h-2zM14 44h1v1h-1zM14 45h1v1h-1zM38 45h1v1h-1zM13 46h1v1h-1zM36 46h2v1h-2zM19 47h1v1h-1zM27 47h1v1h-1zM34 47h1v1h-1zM57 47h1v1h-1zM17 48h1v1h-1zM20 48h1v1h-1zM59 49h1v1h-1zM23 50h1v1h-1zM52 50h1v1h-1zM53 52h1v1h-1zM58 53h2v1h-2zM23 54h1v1h-1zM56 54h1v1h-1zM25 55h1v1h-1zM24 56h1v1h-1zM27 58h2v1h-2zM24 59h1v1h-1zM29 59h1v1h-1zM37 60h1v1h-1zM24 61h1v1h-1zM39 64h2v1h-2z"/>
<path fill="#3d7f8d" d="M48 3h2v1h-2zM49 4h1v1h-1zM56 4h1v1h-1zM57 6h1v1h-1zM10 7h1v1h-1zM57 7h1v1h-1zM47 8h1v1h-1zM56 9h1v1h-1zM7 10h1v1h-1zM48 10h1v1h-1zM6 12h2v1h-2zM15 12h2v1h-2zM54 12h1v1h-1zM13 14h1v1h-1zM8 15h2v1h-2zM32 16h1v1h-1zM28 17h1v1h-1zM33 17h1v1h-1zM27 18h1v1h-1zM26 20h1v1h-1zM26 22h1v1h-1zM26 23h1v1h-1zM9 26h1v1h-1zM13 26h1v1h-1zM27 26h1v1h-1zM29 26h2v1h-2zM13 27h1v1h-1zM16 27h1v1h-1zM7 28h1v1h-1zM52 28h1v1h-1zM5 29h2v1h-2zM54 29h1v1h-1zM4 31h1v1h-1zM20 31h1v1h-1zM1 32h1v1h-1zM20 32h1v1h-1zM46 32h1v1h-1zM56 32h1v1h-1zM1 33h1v1h-1zM20 33h1v1h-1zM2 34h1v1h-1zM20 35h1v1h-1zM1 36h1v1h-1zM4 36h1v1h-1zM20 36h1v1h-1zM33 36h1v1h-1zM54 36h1v1h-1zM29 38h1v1h-1zM6 39h1v1h-1zM7 40h1v1h-1zM16 40h1v1h-1zM27 40h1v1h-1zM39 40h1v1h-1zM16 41h1v1h-1zM11 42h2v1h-2zM17 42h2v1h-2zM18 43h1v1h-1zM26 43h1v1h-1zM28 43h1v1h-1zM15 44h3v1h-3zM26 44h1v1h-1zM38 44h1v1h-1zM16 45h1v1h-1zM27 45h1v1h-1zM37 45h1v1h-1zM16 46h1v1h-1zM18 46h2v1h-2zM23 46h1v1h-1zM54 46h1v1h-1zM56 46h2v1h-2zM18 47h1v1h-1zM21 47h2v1h-2zM28 48h3v1h-3zM59 48h1v1h-1zM18 49h1v1h-1zM30 49h1v1h-1zM52 49h1v1h-1zM60 49h1v1h-1zM60 50h1v1h-1zM60 51h1v1h-1zM23 52h2v1h-2zM59 52h1v1h-1zM22 53h1v1h-1zM24 53h1v1h-1zM55 54h1v1h-1zM25 57h1v1h-1zM31 58h2v1h-2zM34 58h1v1h-1zM36 59h1v1h-1zM39 62h1v1h-1z"/>
<path fill="#3c848d" d="M55 4h1v1h-1zM9 6h1v1h-1zM11 6h1v1h-1zM47 6h1v1h-1zM55 6h1v1h-1zM9 7h1v1h-1zM7 8h1v1h-1zM55 10h2v1h-2zM6 11h1v1h-1zM54 11h1v1h-1zM7 14h1v1h-1zM9 16h1v1h-1zM30 16h1v1h-1zM67 16h1v1h-1zM67 17h1v1h-1zM35 22h1v1h-1zM9 25h1v1h-1zM12 25h1v1h-1zM10 26h1v1h-1zM15 26h1v1h-1zM7 27h2v1h-2zM15 27h1v1h-1zM17 27h1v1h-1zM32 27h1v1h-1zM48 28h1v1h-1zM18 29h1v1h-1zM20 29h1v1h-1zM47 29h2v1h-2zM46 30h1v1h-1zM3 31h1v1h-1zM5 31h1v1h-1zM56 31h1v1h-1zM19 32h1v1h-1zM21 32h1v1h-1zM45 32h1v1h-1zM3 33h1v1h-1zM3 34h1v1h-1zM46 34h1v1h-1zM31 35h1v1h-1zM34 35h1v1h-1zM31 36h1v1h-1zM36 36h1v1h-1zM50 36h1v1h-1zM51 37h1v1h-1zM54 37h1v1h-1zM0 38h1v1h-1zM21 38h1v1h-1zM27 39h1v1h-1zM19 40h2v1h-2zM24 40h1v1h-1zM26 40h1v1h-1zM19 41h2v1h-2zM22 41h1v1h-1zM15 42h2v1h-2zM19 43h1v1h-1zM18 44h1v1h-1zM17 45h2v1h-2zM23 45h1v1h-1zM25 45h2v1h-2zM55 45h2v1h-2zM20 46h1v1h-1zM22 46h1v1h-1zM24 46h5v1h-5zM55 46h1v1h-1zM59 47h1v1h-1zM21 48h1v1h-1zM23 48h1v1h-1zM26 48h1v1h-1zM31 48h1v1h-1zM21 49h1v1h-1zM23 49h1v1h-1zM25 49h1v1h-1zM29 49h1v1h-1zM31 49h1v1h-1zM51 50h1v1h-1zM22 51h2v1h-2zM52 51h1v1h-1zM60 52h1v1h-1zM52 53h2v1h-2zM24 54h1v1h-1zM52 54h2v1h-2zM57 54h2v1h-2zM31 55h1v1h-1zM53 55h1v1h-1zM25 56h1v1h-1zM32 57h2v1h-2zM38 60h1v1h-1zM40 62h1v1h-1zM40 67h1v1h-1z"/>
<path fill="#3c888c" d="M49 2h1v1h-1zM55 2h1v1h-1zM50 3h1v1h-1zM54 3h1v1h-1zM13 5h1v1h-1zM56 5h1v1h-1zM7 6h1v1h-1zM7 7h1v1h-1zM14 7h2v1h-2zM15 8h1v1h-1zM57 8h1v1h-1zM7 9h1v1h-1zM6 10h1v1h-1zM49 10h1v1h-1zM51 11h2v1h-2zM15 14h1v1h-1zM67 14h1v1h-1zM14 15h1v1h-1zM67 15h1v1h-1zM8 16h1v1h-1zM10 16h1v1h-1zM12 16h1v1h-1zM28 16h2v1h-2zM31 16h1v1h-1zM9 17h1v1h-1zM11 17h1v1h-1zM27 17h1v1h-1zM25 18h2v1h-2zM67 18h1v1h-1zM35 21h1v1h-1zM35 23h1v1h-1zM26 24h2v1h-2zM35 24h1v1h-1zM26 25h2v1h-2zM35 25h1v1h-1zM8 26h1v1h-1zM12 26h1v1h-1zM31 26h2v1h-2zM49 27h2v1h-2zM18 28h1v1h-1zM53 28h1v1h-1zM4 29h1v1h-1zM46 29h1v1h-1zM4 30h1v1h-1zM19 30h1v1h-1zM45 30h1v1h-1zM47 30h1v1h-1zM55 30h1v1h-1zM2 31h1v1h-1zM55 31h1v1h-1zM2 33h1v1h-1zM45 33h1v1h-1zM0 34h1v1h-1zM21 34h1v1h-1zM0 35h1v1h-1zM21 35h1v1h-1zM47 35h1v1h-1zM56 35h1v1h-1zM3 36h1v1h-1zM29 36h1v1h-1zM32 36h1v1h-1zM39 36h1v1h-1zM55 36h2v1h-2zM29 37h1v1h-1zM38 37h1v1h-1zM56 37h1v1h-1zM28 38h1v1h-1zM39 38h1v1h-1zM21 39h2v1h-2zM25 39h2v1h-2zM18 40h1v1h-1zM23 41h3v1h-3zM39 41h1v1h-1zM19 42h1v1h-1zM21 42h1v1h-1zM25 42h1v1h-1zM39 43h1v1h-1zM19 44h1v1h-1zM24 45h1v1h-1zM21 46h1v1h-1zM38 46h1v1h-1zM23 47h1v1h-1zM36 47h1v1h-1zM55 47h1v1h-1zM22 48h1v1h-1zM25 48h1v1h-1zM24 49h1v1h-1zM33 49h1v1h-1zM26 50h2v1h-2zM31 50h1v1h-1zM51 51h1v1h-1zM22 52h1v1h-1zM23 53h1v1h-1zM59 54h1v1h-1zM57 55h1v1h-1zM27 57h3v1h-3zM33 58h1v1h-1zM39 60h1v1h-1zM39 61h1v1h-1zM41 64h1v1h-1zM40 65h1v1h-1zM41 67h1v1h-1z"/>
<path fill="#3c8b8b" d="M50 2h1v1h-1zM52 2h1v1h-1zM54 2h1v1h-1zM11 5h1v1h-1zM47 5h1v1h-1zM57 5h1v1h-1zM8 6h1v1h-1zM15 6h1v1h-1zM6 8h1v1h-1zM6 9h1v1h-1zM47 9h1v1h-1zM57 9h1v1h-1zM58 10h1v1h-1zM55 11h3v1h-3zM17 12h1v1h-1zM49 12h1v1h-1zM51 12h1v1h-1zM16 13h1v1h-1zM7 15h1v1h-1zM15 15h1v1h-1zM11 16h1v1h-1zM8 17h1v1h-1zM26 19h1v1h-1zM67 19h1v1h-1zM35 20h2v1h-2zM10 25h1v1h-1zM14 26h1v1h-1zM28 26h1v1h-1zM33 26h2v1h-2zM30 27h1v1h-1zM51 27h3v1h-3zM4 28h1v1h-1zM51 28h1v1h-1zM55 28h1v1h-1zM19 29h1v1h-1zM50 29h1v1h-1zM0 30h3v1h-3zM20 30h1v1h-1zM2 32h1v1h-1zM0 33h1v1h-1zM21 33h1v1h-1zM1 34h1v1h-1zM36 34h1v1h-1zM45 34h1v1h-1zM3 35h1v1h-1zM22 35h1v1h-1zM33 35h1v1h-1zM36 35h2v1h-2zM46 35h1v1h-1zM55 35h1v1h-1zM21 36h1v1h-1zM37 36h1v1h-1zM49 36h1v1h-1zM39 37h1v1h-1zM19 38h2v1h-2zM22 38h1v1h-1zM54 38h1v1h-1zM20 39h1v1h-1zM39 39h1v1h-1zM21 40h1v1h-1zM21 41h1v1h-1zM26 41h1v1h-1zM26 42h1v1h-1zM20 43h1v1h-1zM22 43h1v1h-1zM24 43h1v1h-1zM23 44h3v1h-3zM21 45h1v1h-1zM39 45h1v1h-1zM54 45h1v1h-1zM57 45h1v1h-1zM25 47h2v1h-2zM53 47h1v1h-1zM35 48h1v1h-1zM27 49h2v1h-2zM24 50h1v1h-1zM61 50h1v1h-1zM24 51h2v1h-2zM28 51h1v1h-1zM25 52h1v1h-1zM60 53h1v1h-1zM26 55h1v1h-1zM28 55h1v1h-1zM55 55h1v1h-1zM27 56h2v1h-2zM31 56h1v1h-1zM31 57h1v1h-1zM34 57h1v1h-1zM35 58h1v1h-1zM37 59h1v1h-1zM40 61h1v1h-1zM40 63h2v1h-2zM40 66h1v1h-1z"/>
<path fill="#3d8e8a" d="M51 1h2v1h-2zM53 2h1v1h-1zM47 4h1v1h-1zM9 5h1v1h-1zM12 5h1v1h-1zM12 6h1v1h-1zM14 6h1v1h-1zM47 7h1v1h-1zM58 7h1v1h-1zM16 9h1v1h-1zM17 10h1v1h-1zM5 11h1v1h-1zM48 11h2v1h-2zM55 12h1v1h-1zM6 13h1v1h-1zM53 13h1v1h-1zM6 14h1v1h-1zM66 16h1v1h-1zM35 18h1v1h-1zM25 20h1v1h-1zM25 21h1v1h-1zM25 22h1v1h-1zM36 24h1v1h-1zM8 25h1v1h-1zM25 25h1v1h-1zM5 26h3v1h-3zM6 27h1v1h-1zM3 28h1v1h-1zM5 28h2v1h-2zM47 28h1v1h-1zM56 29h1v1h-1zM21 30h1v1h-1zM45 31h1v1h-1zM22 33h1v1h-1zM56 33h1v1h-1zM32 34h1v1h-1zM56 34h1v1h-1zM32 35h1v1h-1zM35 35h1v1h-1zM23 36h1v1h-1zM47 36h2v1h-2zM21 37h1v1h-1zM24 37h2v1h-2zM49 37h1v1h-1zM52 37h1v1h-1zM24 38h1v1h-1zM27 38h1v1h-1zM25 40h1v1h-1zM18 41h1v1h-1zM40 41h1v1h-1zM20 42h1v1h-1zM22 42h1v1h-1zM16 43h1v1h-1zM25 43h1v1h-1zM21 44h1v1h-1zM55 44h2v1h-2zM20 45h1v1h-1zM22 45h1v1h-1zM24 47h1v1h-1zM27 48h1v1h-1zM52 48h1v1h-1zM60 48h2v1h-2zM32 49h1v1h-1zM34 49h1v1h-1zM51 49h1v1h-1zM29 50h2v1h-2zM32 51h2v1h-2zM25 53h2v1h-2zM25 54h1v1h-1zM29 54h1v1h-1zM24 55h1v1h-1zM52 55h1v1h-1zM54 55h1v1h-1zM56 55h1v1h-1zM26 56h1v1h-1zM32 56h2v1h-2zM54 56h1v1h-1zM36 57h1v1h-1zM40 60h1v1h-1zM41 62h1v1h-1zM41 65h1v1h-1z"/>
<path fill="#3e9189" d="M52 0h1v1h-1zM51 2h1v1h-1zM56 2h2v1h-2zM47 3h1v1h-1zM12 4h1v1h-1zM8 5h1v1h-1zM14 5h1v1h-1zM58 5h1v1h-1zM13 6h1v1h-1zM58 6h1v1h-1zM5 7h2v1h-2zM8 7h1v1h-1zM58 8h1v1h-1zM17 9h1v1h-1zM47 10h1v1h-1zM57 10h1v1h-1zM4 11h1v1h-1zM17 11h1v1h-1zM47 11h1v1h-1zM4 12h1v1h-1zM53 12h1v1h-1zM5 13h1v1h-1zM17 13h1v1h-1zM50 13h1v1h-1zM66 14h1v1h-1zM6 15h1v1h-1zM28 15h1v1h-1zM30 15h1v1h-1zM10 17h1v1h-1zM12 17h1v1h-1zM26 17h1v1h-1zM35 17h1v1h-1zM67 20h1v1h-1zM36 22h1v1h-1zM10 24h1v1h-1zM11 25h1v1h-1zM34 25h1v1h-1zM16 26h1v1h-1zM26 26h1v1h-1zM4 27h1v1h-1zM18 27h1v1h-1zM27 27h2v1h-2zM33 27h2v1h-2zM1 28h1v1h-1zM54 28h1v1h-1zM2 29h1v1h-1zM21 29h1v1h-1zM55 29h1v1h-1zM56 30h1v1h-1zM21 31h1v1h-1zM23 31h1v1h-1zM44 32h1v1h-1zM31 33h1v1h-1zM57 33h1v1h-1zM31 34h1v1h-1zM37 34h1v1h-1zM26 35h1v1h-1zM45 35h1v1h-1zM57 35h1v1h-1zM22 36h1v1h-1zM38 36h1v1h-1zM26 37h1v1h-1zM40 37h1v1h-1zM50 37h1v1h-1zM55 37h1v1h-1zM23 38h1v1h-1zM26 38h1v1h-1zM52 38h1v1h-1zM55 38h1v1h-1zM23 39h2v1h-2zM40 39h1v1h-1zM22 40h2v1h-2zM24 42h1v1h-1zM21 43h1v1h-1zM40 43h1v1h-1zM20 44h1v1h-1zM22 44h1v1h-1zM39 44h1v1h-1zM57 44h1v1h-1zM52 46h1v1h-1zM58 46h3v1h-3zM52 47h1v1h-1zM24 48h1v1h-1zM36 48h1v1h-1zM26 49h1v1h-1zM61 49h1v1h-1zM33 50h1v1h-1zM27 51h1v1h-1zM29 51h2v1h-2zM50 51h1v1h-1zM26 52h2v1h-2zM51 52h2v1h-2zM27 53h2v1h-2zM30 53h2v1h-2zM33 53h1v1h-1zM51 53h1v1h-1zM61 53h1v1h-1zM26 54h2v1h-2zM31 54h1v1h-1zM50 54h2v1h-2zM27 55h1v1h-1zM29 56h2v1h-2zM34 56h1v1h-1zM56 56h1v1h-1zM30 57h1v1h-1zM35 57h1v1h-1zM51 57h1v1h-1zM36 58h1v1h-1zM38 59h2v1h-2z"/>
<path fill="#3f9488" d="M50 0h1v1h-1zM53 0h1v1h-1zM53 1h3v1h-3zM9 2h1v1h-1zM47 2h1v1h-1zM6 3h1v1h-1zM9 3h1v1h-1zM5 4h1v1h-1zM10 4h1v1h-1zM58 4h1v1h-1zM10 5h1v1h-1zM16 6h1v1h-1zM4 7h1v1h-1zM16 8h1v1h-1zM46 8h1v1h-1zM46 9h1v1h-1zM5 12h1v1h-1zM50 12h1v1h-1zM52 13h1v1h-1zM66 13h1v1h-1zM31 15h2v1h-2zM13 16h2v1h-2zM33 16h2v1h-2zM13 17h1v1h-1zM8 19h1v1h-1zM24 19h2v1h-2zM66 19h1v1h-1zM36 21h1v1h-1zM8 24h1v1h-1zM11 24h2v1h-2zM25 24h1v1h-1zM5 25h1v1h-1zM7 25h1v1h-1zM13 25h1v1h-1zM36 25h1v1h-1zM25 26h1v1h-1zM5 27h1v1h-1zM31 27h1v1h-1zM48 27h1v1h-1zM0 28h1v1h-1zM2 28h1v1h-1zM20 28h2v1h-2zM26 28h1v1h-1zM30 28h1v1h-1zM1 29h1v1h-1zM3 30h1v1h-1zM44 30h1v1h-1zM0 31h1v1h-1zM22 31h1v1h-1zM44 31h1v1h-1zM0 32h1v1h-1zM42 32h1v1h-1zM23 33h1v1h-1zM34 33h1v1h-1zM37 33h1v1h-1zM23 34h1v1h-1zM28 34h1v1h-1zM30 34h1v1h-1zM34 34h2v1h-2zM44 34h1v1h-1zM57 34h1v1h-1zM23 35h1v1h-1zM29 35h2v1h-2zM24 36h1v1h-1zM26 36h1v1h-1zM28 36h1v1h-1zM30 36h1v1h-1zM40 36h1v1h-1zM46 36h1v1h-1zM22 37h2v1h-2zM28 37h1v1h-1zM48 37h1v1h-1zM41 38h1v1h-1zM53 38h1v1h-1zM41 39h1v1h-1zM53 39h2v1h-2zM23 42h1v1h-1zM40 42h1v1h-1zM55 43h1v1h-1zM40 44h1v1h-1zM58 44h1v1h-1zM60 44h1v1h-1zM40 45h1v1h-1zM53 45h1v1h-1zM58 45h1v1h-1zM60 45h1v1h-1zM39 46h1v1h-1zM53 46h1v1h-1zM38 47h1v1h-1zM51 47h1v1h-1zM60 47h1v1h-1zM51 48h1v1h-1zM35 49h2v1h-2zM63 49h1v1h-1zM25 50h1v1h-1zM32 50h1v1h-1zM62 50h1v1h-1zM26 51h1v1h-1zM62 51h1v1h-1zM28 52h1v1h-1zM32 52h1v1h-1zM50 52h1v1h-1zM61 52h1v1h-1zM50 53h1v1h-1zM28 54h1v1h-1zM30 54h1v1h-1zM29 55h2v1h-2zM58 55h1v1h-1zM52 56h1v1h-1zM37 58h1v1h-1zM43 63h1v1h-1zM43 64h1v1h-1zM42 65h1v1h-1zM41 66h1v1h-1z"/>
<path fill="#409787" d="M3 0h2v1h-2zM51 0h1v1h-1zM2 1h1v1h-1zM4 1h1v1h-1zM7 1h1v1h-1zM50 1h1v1h-1zM10 2h1v1h-1zM48 2h1v1h-1zM5 3h1v1h-1zM7 3h2v1h-2zM56 3h2v1h-2zM11 4h1v1h-1zM57 4h1v1h-1zM4 5h1v1h-1zM6 5h2v1h-2zM15 5h1v1h-1zM46 5h1v1h-1zM5 6h1v1h-1zM45 6h1v1h-1zM17 7h1v1h-1zM46 7h1v1h-1zM4 8h1v1h-1zM59 8h1v1h-1zM4 10h1v1h-1zM18 11h1v1h-1zM18 12h1v1h-1zM66 12h2v1h-2zM51 13h1v1h-1zM67 13h1v1h-1zM16 14h1v1h-1zM65 14h1v1h-1zM33 15h1v1h-1zM6 16h2v1h-2zM64 16h1v1h-1zM6 17h1v1h-1zM14 17h1v1h-1zM34 17h1v1h-1zM66 17h1v1h-1zM10 18h2v1h-2zM36 18h1v1h-1zM66 18h1v1h-1zM5 19h1v1h-1zM36 19h1v1h-1zM65 19h1v1h-1zM66 20h1v1h-1zM9 21h1v1h-1zM67 21h1v1h-1zM9 22h1v1h-1zM24 22h1v1h-1zM25 23h1v1h-1zM36 23h1v1h-1zM4 24h1v1h-1zM7 24h1v1h-1zM6 25h1v1h-1zM35 26h1v1h-1zM19 27h1v1h-1zM34 28h1v1h-1zM0 29h1v1h-1zM33 29h1v1h-1zM43 29h1v1h-1zM45 29h1v1h-1zM22 30h1v1h-1zM57 30h1v1h-1zM1 31h1v1h-1zM43 32h1v1h-1zM57 32h1v1h-1zM33 33h1v1h-1zM22 34h1v1h-1zM27 34h1v1h-1zM33 34h1v1h-1zM38 34h1v1h-1zM24 35h1v1h-1zM28 35h1v1h-1zM38 35h1v1h-1zM43 35h2v1h-2zM25 36h1v1h-1zM27 36h1v1h-1zM44 36h2v1h-2zM27 37h1v1h-1zM41 37h1v1h-1zM25 38h1v1h-1zM40 38h1v1h-1zM48 38h2v1h-2zM51 38h1v1h-1zM55 39h2v1h-2zM40 40h1v1h-1zM55 42h2v1h-2zM52 45h1v1h-1zM37 47h1v1h-1zM50 48h1v1h-1zM62 49h1v1h-1zM28 50h1v1h-1zM34 50h1v1h-1zM30 52h1v1h-1zM29 53h1v1h-1zM35 54h1v1h-1zM51 55h1v1h-1zM35 56h1v1h-1zM55 56h1v1h-1zM54 57h1v1h-1zM42 63h1v1h-1zM43 67h1v1h-1z"/>
<path fill="#409a86" d="M5 0h1v1h-1zM6 1h1v1h-1zM48 1h2v1h-2zM56 1h1v1h-1zM59 1h1v1h-1zM2 2h1v1h-1zM6 2h1v1h-1zM46 2h1v1h-1zM2 3h1v1h-1zM11 3h2v1h-2zM3 4h1v1h-1zM6 4h2v1h-2zM9 4h1v1h-1zM13 4h2v1h-2zM46 4h1v1h-1zM5 5h1v1h-1zM6 6h1v1h-1zM46 6h1v1h-1zM16 7h1v1h-1zM59 7h1v1h-1zM5 8h1v1h-1zM18 8h1v1h-1zM60 8h1v1h-1zM5 9h1v1h-1zM58 9h2v1h-2zM61 10h1v1h-1zM46 11h1v1h-1zM47 12h2v1h-2zM56 12h2v1h-2zM54 13h2v1h-2zM4 14h2v1h-2zM17 14h1v1h-1zM4 15h1v1h-1zM64 15h1v1h-1zM66 15h1v1h-1zM26 16h2v1h-2zM65 16h1v1h-1zM5 17h1v1h-1zM7 17h1v1h-1zM64 17h1v1h-1zM4 18h2v1h-2zM8 18h1v1h-1zM12 18h1v1h-1zM65 18h1v1h-1zM9 19h2v1h-2zM66 21h1v1h-1zM9 23h1v1h-1zM24 23h1v1h-1zM0 24h1v1h-1zM9 24h1v1h-1zM24 24h1v1h-1zM0 25h1v1h-1zM14 25h2v1h-2zM24 25h1v1h-1zM37 25h1v1h-1zM4 26h1v1h-1zM36 26h1v1h-1zM49 26h3v1h-3zM1 27h1v1h-1zM3 27h1v1h-1zM20 27h1v1h-1zM23 27h1v1h-1zM29 27h1v1h-1zM47 27h1v1h-1zM19 28h1v1h-1zM28 28h2v1h-2zM32 28h1v1h-1zM56 28h1v1h-1zM3 29h1v1h-1zM30 29h1v1h-1zM32 29h1v1h-1zM36 29h1v1h-1zM44 29h1v1h-1zM28 30h1v1h-1zM33 30h1v1h-1zM36 30h1v1h-1zM33 31h1v1h-1zM22 32h1v1h-1zM32 32h1v1h-1zM35 32h1v1h-1zM58 32h1v1h-1zM30 33h1v1h-1zM32 33h1v1h-1zM40 33h2v1h-2zM43 33h2v1h-2zM58 33h1v1h-1zM26 34h1v1h-1zM39 34h1v1h-1zM43 34h1v1h-1zM39 35h3v1h-3zM57 36h1v1h-1zM46 37h2v1h-2zM57 37h1v1h-1zM50 38h1v1h-1zM42 39h1v1h-1zM41 40h1v1h-1zM53 40h1v1h-1zM56 40h1v1h-1zM58 40h1v1h-1zM54 41h1v1h-1zM56 41h1v1h-1zM23 43h1v1h-1zM54 43h1v1h-1zM57 43h1v1h-1zM59 44h1v1h-1zM59 45h1v1h-1zM62 46h1v1h-1zM61 47h1v1h-1zM37 48h1v1h-1zM62 48h1v1h-1zM49 49h2v1h-2zM50 50h1v1h-1zM31 51h1v1h-1zM35 51h1v1h-1zM61 51h1v1h-1zM29 52h1v1h-1zM31 52h1v1h-1zM33 52h1v1h-1zM62 52h1v1h-1zM34 53h1v1h-1zM32 54h1v1h-1zM34 54h1v1h-1zM60 54h1v1h-1zM33 55h1v1h-1zM35 55h1v1h-1zM37 57h1v1h-1zM56 57h1v1h-1zM38 58h1v1h-1zM41 60h1v1h-1zM42 62h1v1h-1zM42 64h1v1h-1zM43 65h1v1h-1zM42 66h1v1h-1zM44 66h1v1h-1zM46 67h1v1h-1z"/>
<path fill="#419d85" d="M0 0h1v1h-1zM54 0h2v1h-2zM0 1h1v1h-1zM3 1h1v1h-1zM5 1h1v1h-1zM57 1h1v1h-1zM3 2h3v1h-3zM8 2h1v1h-1zM3 3h2v1h-2zM15 3h1v1h-1zM46 3h1v1h-1zM2 4h1v1h-1zM4 4h1v1h-1zM8 4h1v1h-1zM16 5h1v1h-1zM59 6h1v1h-1zM61 7h1v1h-1zM17 8h1v1h-1zM18 9h1v1h-1zM3 10h1v1h-1zM18 10h1v1h-1zM65 10h1v1h-1zM58 11h2v1h-2zM2 12h1v1h-1zM19 13h1v1h-1zM49 13h1v1h-1zM31 14h1v1h-1zM52 14h2v1h-2zM64 14h1v1h-1zM17 15h1v1h-1zM26 15h2v1h-2zM29 15h1v1h-1zM34 15h1v1h-1zM3 16h1v1h-1zM5 16h1v1h-1zM25 17h1v1h-1zM7 18h1v1h-1zM9 18h1v1h-1zM10 20h1v1h-1zM24 20h1v1h-1zM65 20h1v1h-1zM7 21h1v1h-1zM24 21h1v1h-1zM5 22h1v1h-1zM7 22h1v1h-1zM10 22h3v1h-3zM7 23h1v1h-1zM6 24h1v1h-1zM13 24h2v1h-2zM37 24h1v1h-1zM1 25h1v1h-1zM3 25h1v1h-1zM0 26h1v1h-1zM2 26h2v1h-2zM17 26h2v1h-2zM24 26h1v1h-1zM53 26h1v1h-1zM2 27h1v1h-1zM24 27h1v1h-1zM35 27h1v1h-1zM54 27h2v1h-2zM22 28h1v1h-1zM24 28h1v1h-1zM31 28h1v1h-1zM33 28h1v1h-1zM45 28h2v1h-2zM22 29h2v1h-2zM26 29h1v1h-1zM29 29h1v1h-1zM31 29h1v1h-1zM23 30h1v1h-1zM31 30h2v1h-2zM35 30h1v1h-1zM40 30h1v1h-1zM42 30h1v1h-1zM29 31h1v1h-1zM39 31h1v1h-1zM43 31h1v1h-1zM57 31h1v1h-1zM23 32h1v1h-1zM28 32h1v1h-1zM30 32h2v1h-2zM24 33h1v1h-1zM29 33h1v1h-1zM35 33h1v1h-1zM29 34h1v1h-1zM40 34h1v1h-1zM42 34h1v1h-1zM25 35h1v1h-1zM58 35h1v1h-1zM41 36h1v1h-1zM42 37h3v1h-3zM42 38h1v1h-1zM51 39h1v1h-1zM58 39h1v1h-1zM52 40h1v1h-1zM54 40h2v1h-2zM55 41h1v1h-1zM41 42h1v1h-1zM61 42h1v1h-1zM56 43h1v1h-1zM54 44h1v1h-1zM61 46h1v1h-1zM35 50h1v1h-1zM34 51h1v1h-1zM36 51h1v1h-1zM63 51h1v1h-1zM34 52h1v1h-1zM49 52h1v1h-1zM32 53h1v1h-1zM33 54h1v1h-1zM49 54h1v1h-1zM32 55h1v1h-1zM34 55h1v1h-1zM59 55h1v1h-1zM36 56h1v1h-1zM51 56h1v1h-1zM53 56h1v1h-1zM57 56h1v1h-1zM52 57h2v1h-2zM55 57h1v1h-1zM40 59h1v1h-1zM41 61h2v1h-2zM43 62h1v1h-1zM44 65h2v1h-2zM45 66h1v1h-1zM42 67h1v1h-1z"/>
<path fill="#42a084" d="M1 0h1v1h-1zM7 0h2v1h-2zM1 1h1v1h-1zM8 1h1v1h-1zM47 1h1v1h-1zM7 2h1v1h-1zM12 2h1v1h-1zM59 2h1v1h-1zM0 3h1v1h-1zM10 3h1v1h-1zM14 3h1v1h-1zM58 3h1v1h-1zM16 4h1v1h-1zM3 5h1v1h-1zM45 5h1v1h-1zM59 5h1v1h-1zM61 5h1v1h-1zM17 6h1v1h-1zM3 9h2v1h-2zM60 10h1v1h-1zM2 11h2v1h-2zM65 12h1v1h-1zM2 13h1v1h-1zM4 13h1v1h-1zM56 13h2v1h-2zM29 14h2v1h-2zM56 14h1v1h-1zM3 15h1v1h-1zM5 15h1v1h-1zM16 15h1v1h-1zM65 15h1v1h-1zM15 16h2v1h-2zM24 16h1v1h-1zM35 16h1v1h-1zM4 17h1v1h-1zM15 17h1v1h-1zM63 17h1v1h-1zM6 18h1v1h-1zM6 19h2v1h-2zM11 19h1v1h-1zM13 19h1v1h-1zM23 19h1v1h-1zM4 20h1v1h-1zM7 20h3v1h-3zM2 21h1v1h-1zM8 21h1v1h-1zM1 22h1v1h-1zM8 22h1v1h-1zM37 22h1v1h-1zM5 23h2v1h-2zM10 23h3v1h-3zM23 23h1v1h-1zM22 24h2v1h-2zM2 25h1v1h-1zM16 25h1v1h-1zM23 25h1v1h-1zM51 25h1v1h-1zM1 26h1v1h-1zM21 26h1v1h-1zM23 26h1v1h-1zM52 26h1v1h-1zM0 27h1v1h-1zM26 27h1v1h-1zM23 28h1v1h-1zM25 28h1v1h-1zM27 28h1v1h-1zM35 28h1v1h-1zM24 29h1v1h-1zM34 29h2v1h-2zM42 29h1v1h-1zM57 29h1v1h-1zM29 30h1v1h-1zM34 30h1v1h-1zM24 31h1v1h-1zM30 31h1v1h-1zM41 31h1v1h-1zM58 31h1v1h-1zM33 32h1v1h-1zM36 32h1v1h-1zM39 32h1v1h-1zM25 33h1v1h-1zM36 33h1v1h-1zM38 33h2v1h-2zM24 34h1v1h-1zM58 34h1v1h-1zM27 35h1v1h-1zM43 36h1v1h-1zM47 38h1v1h-1zM56 38h3v1h-3zM50 39h1v1h-1zM51 40h1v1h-1zM57 40h1v1h-1zM60 40h1v1h-1zM41 41h1v1h-1zM57 41h1v1h-1zM59 42h1v1h-1zM53 43h1v1h-1zM60 43h1v1h-1zM53 44h1v1h-1zM61 45h2v1h-2zM63 47h1v1h-1zM64 48h1v1h-1zM64 49h1v1h-1zM49 50h1v1h-1zM63 50h1v1h-1zM63 52h2v1h-2zM62 53h1v1h-1zM61 54h1v1h-1zM50 55h1v1h-1zM50 56h1v1h-1zM57 57h2v1h-2zM39 58h1v1h-1zM52 58h3v1h-3zM47 60h1v1h-1zM49 60h1v1h-1zM44 64h1v1h-1zM43 66h1v1h-1zM44 67h1v1h-1z"/>
<path fill="#43a382" d="M47 0h3v1h-3zM56 0h2v1h-2zM10 1h1v1h-1zM58 1h1v1h-1zM0 2h2v1h-2zM11 2h1v1h-1zM14 2h1v1h-1zM58 2h1v1h-1zM59 3h1v1h-1zM59 4h2v1h-2zM1 6h1v1h-1zM3 6h1v1h-1zM3 7h1v1h-1zM45 7h1v1h-1zM3 8h1v1h-1zM19 8h1v1h-1zM45 8h1v1h-1zM61 8h1v1h-1zM19 9h1v1h-1zM45 9h1v1h-1zM60 9h3v1h-3zM5 10h1v1h-1zM19 10h1v1h-1zM46 10h1v1h-1zM59 10h1v1h-1zM62 10h1v1h-1zM66 10h1v1h-1zM62 11h1v1h-1zM66 11h1v1h-1zM3 12h1v1h-1zM59 12h2v1h-2zM30 13h1v1h-1zM48 13h1v1h-1zM58 13h2v1h-2zM63 13h1v1h-1zM65 13h1v1h-1zM3 14h1v1h-1zM19 14h1v1h-1zM49 14h1v1h-1zM54 14h1v1h-1zM35 15h1v1h-1zM36 16h1v1h-1zM24 17h1v1h-1zM37 17h1v1h-1zM14 18h1v1h-1zM24 18h1v1h-1zM64 18h1v1h-1zM6 20h1v1h-1zM11 20h1v1h-1zM37 20h1v1h-1zM1 21h1v1h-1zM5 21h2v1h-2zM10 21h2v1h-2zM3 22h1v1h-1zM6 22h1v1h-1zM66 22h1v1h-1zM2 23h3v1h-3zM8 23h1v1h-1zM13 23h1v1h-1zM3 24h1v1h-1zM5 24h1v1h-1zM4 25h1v1h-1zM17 25h1v1h-1zM54 25h1v1h-1zM19 26h2v1h-2zM22 26h1v1h-1zM37 26h1v1h-1zM21 27h2v1h-2zM38 28h1v1h-1zM57 28h1v1h-1zM27 29h1v1h-1zM38 29h1v1h-1zM58 29h1v1h-1zM39 30h1v1h-1zM41 30h1v1h-1zM43 30h1v1h-1zM58 30h1v1h-1zM31 31h1v1h-1zM34 31h1v1h-1zM26 32h2v1h-2zM34 32h1v1h-1zM37 32h1v1h-1zM40 32h1v1h-1zM28 33h1v1h-1zM42 33h1v1h-1zM41 34h1v1h-1zM42 35h1v1h-1zM42 36h1v1h-1zM58 36h1v1h-1zM45 37h1v1h-1zM59 37h1v1h-1zM45 38h1v1h-1zM59 38h1v1h-1zM43 39h1v1h-1zM49 39h1v1h-1zM52 39h1v1h-1zM57 39h1v1h-1zM58 41h1v1h-1zM53 42h2v1h-2zM57 42h2v1h-2zM41 43h1v1h-1zM58 43h2v1h-2zM41 44h1v1h-1zM52 44h1v1h-1zM61 44h1v1h-1zM51 46h1v1h-1zM50 47h1v1h-1zM62 47h1v1h-1zM64 47h1v1h-1zM38 48h1v1h-1zM37 49h1v1h-1zM49 51h1v1h-1zM35 52h1v1h-1zM63 53h1v1h-1zM36 55h1v1h-1zM60 55h2v1h-2zM37 56h1v1h-1zM38 57h2v1h-2zM41 59h1v1h-1zM53 59h2v1h-2zM43 60h1v1h-1zM43 61h2v1h-2zM49 61h1v1h-1zM44 63h1v1h-1zM45 64h1v1h-1zM49 64h1v1h-1z"/>
<path fill="#44a780" d="M2 0h1v1h-1zM6 0h1v1h-1zM9 0h1v1h-1zM58 0h1v1h-1zM9 1h1v1h-1zM12 1h1v1h-1zM46 1h1v1h-1zM13 3h1v1h-1zM0 4h2v1h-2zM15 4h1v1h-1zM45 4h1v1h-1zM0 5h1v1h-1zM2 5h1v1h-1zM17 5h2v1h-2zM60 5h1v1h-1zM64 5h1v1h-1zM2 6h1v1h-1zM4 6h1v1h-1zM61 6h1v1h-1zM1 7h2v1h-2zM18 7h1v1h-1zM60 7h1v1h-1zM2 8h1v1h-1zM62 8h1v1h-1zM0 9h1v1h-1zM2 9h1v1h-1zM2 10h1v1h-1zM20 10h1v1h-1zM0 11h1v1h-1zM67 11h1v1h-1zM58 12h1v1h-1zM63 12h1v1h-1zM3 13h1v1h-1zM18 13h1v1h-1zM47 13h1v1h-1zM64 13h1v1h-1zM2 14h1v1h-1zM18 14h1v1h-1zM33 14h2v1h-2zM63 14h1v1h-1zM25 15h1v1h-1zM63 15h1v1h-1zM4 16h1v1h-1zM25 16h1v1h-1zM2 17h1v1h-1zM65 17h1v1h-1zM13 18h1v1h-1zM63 18h1v1h-1zM1 19h1v1h-1zM4 19h1v1h-1zM12 19h1v1h-1zM3 20h1v1h-1zM5 20h1v1h-1zM64 20h1v1h-1zM4 21h1v1h-1zM12 21h1v1h-1zM65 21h1v1h-1zM2 22h1v1h-1zM67 22h1v1h-1zM0 23h1v1h-1zM15 23h1v1h-1zM67 23h1v1h-1zM67 24h1v1h-1zM18 25h1v1h-1zM22 25h1v1h-1zM52 25h2v1h-2zM48 26h1v1h-1zM25 27h1v1h-1zM36 27h2v1h-2zM46 27h1v1h-1zM56 27h1v1h-1zM25 29h1v1h-1zM24 30h1v1h-1zM30 30h1v1h-1zM37 30h1v1h-1zM25 31h3v1h-3zM36 31h2v1h-2zM40 31h1v1h-1zM42 31h1v1h-1zM24 32h2v1h-2zM25 34h1v1h-1zM58 37h1v1h-1zM60 39h1v1h-1zM42 40h1v1h-1zM59 40h1v1h-1zM52 41h1v1h-1zM59 41h1v1h-1zM51 44h1v1h-1zM62 44h1v1h-1zM63 46h1v1h-1zM39 47h2v1h-2zM49 47h1v1h-1zM49 48h1v1h-1zM63 48h1v1h-1zM38 49h1v1h-1zM36 50h1v1h-1zM48 51h1v1h-1zM64 51h1v1h-1zM65 52h1v1h-1zM35 53h1v1h-1zM49 53h1v1h-1zM64 53h1v1h-1zM63 54h1v1h-1zM49 55h1v1h-1zM48 56h2v1h-2zM58 56h1v1h-1zM49 58h1v1h-1zM51 58h1v1h-1zM55 58h1v1h-1zM47 61h1v1h-1zM44 62h3v1h-3zM49 62h1v1h-1zM47 63h2v1h-2zM51 64h1v1h-1zM47 65h1v1h-1zM48 67h1v1h-1z"/>
<path fill="#46aa7e" d="M10 0h1v1h-1zM11 1h1v1h-1zM13 1h1v1h-1zM45 1h1v1h-1zM13 2h1v1h-1zM15 2h2v1h-2zM1 3h1v1h-1zM16 3h1v1h-1zM61 3h1v1h-1zM17 4h2v1h-2zM63 5h1v1h-1zM18 6h1v1h-1zM60 6h1v1h-1zM62 6h1v1h-1zM0 7h1v1h-1zM63 9h1v1h-1zM66 9h1v1h-1zM67 10h1v1h-1zM1 11h1v1h-1zM60 11h2v1h-2zM1 12h1v1h-1zM19 12h1v1h-1zM62 12h1v1h-1zM64 12h1v1h-1zM20 13h1v1h-1zM1 14h1v1h-1zM21 14h1v1h-1zM27 14h2v1h-2zM32 14h1v1h-1zM50 14h2v1h-2zM55 14h1v1h-1zM57 14h1v1h-1zM62 14h1v1h-1zM1 15h1v1h-1zM22 15h1v1h-1zM51 15h1v1h-1zM2 16h1v1h-1zM17 16h1v1h-1zM23 16h1v1h-1zM3 17h1v1h-1zM36 17h1v1h-1zM3 18h1v1h-1zM37 18h1v1h-1zM2 19h1v1h-1zM14 19h1v1h-1zM37 19h1v1h-1zM64 19h1v1h-1zM12 20h1v1h-1zM0 21h1v1h-1zM23 21h1v1h-1zM37 21h1v1h-1zM64 21h1v1h-1zM0 22h1v1h-1zM4 22h1v1h-1zM13 22h1v1h-1zM23 22h1v1h-1zM2 24h1v1h-1zM15 24h2v1h-2zM38 26h1v1h-1zM54 26h1v1h-1zM42 27h2v1h-2zM36 28h1v1h-1zM40 28h1v1h-1zM28 29h1v1h-1zM39 29h1v1h-1zM41 29h1v1h-1zM25 30h3v1h-3zM38 30h1v1h-1zM28 31h1v1h-1zM35 31h1v1h-1zM38 31h1v1h-1zM41 32h1v1h-1zM26 33h2v1h-2zM59 34h1v1h-1zM59 36h1v1h-1zM46 38h1v1h-1zM50 40h1v1h-1zM51 41h1v1h-1zM53 41h1v1h-1zM60 41h1v1h-1zM52 42h1v1h-1zM52 43h1v1h-1zM61 43h2v1h-2zM64 44h1v1h-1zM63 45h1v1h-1zM40 46h1v1h-1zM50 46h1v1h-1zM65 47h1v1h-1zM39 48h1v1h-1zM48 48h1v1h-1zM65 49h1v1h-1zM64 50h1v1h-1zM37 51h1v1h-1zM67 52h1v1h-1zM36 53h1v1h-1zM36 54h1v1h-1zM62 54h1v1h-1zM37 55h1v1h-1zM63 55h1v1h-1zM59 56h1v1h-1zM40 57h1v1h-1zM49 57h2v1h-2zM42 59h2v1h-2zM50 59h2v1h-2zM56 59h1v1h-1zM42 60h1v1h-1zM48 60h1v1h-1zM45 61h2v1h-2zM50 61h2v1h-2zM47 62h1v1h-1zM52 62h1v1h-1zM45 63h2v1h-2zM50 63h2v1h-2zM46 64h1v1h-1zM46 65h1v1h-1zM48 65h2v1h-2zM46 66h2v1h-2zM45 67h1v1h-1zM47 67h1v1h-1zM51 67h1v1h-1zM66 67h1v1h-1z"/>
<path fill="#47ad7c" d="M11 0h1v1h-1zM45 0h1v1h-1zM59 0h3v1h-3zM16 1h1v1h-1zM21 1h1v1h-1zM43 1h1v1h-1zM17 2h1v1h-1zM60 2h2v1h-2zM17 3h1v1h-1zM45 3h1v1h-1zM1 5h1v1h-1zM62 5h1v1h-1zM67 5h1v1h-1zM19 7h1v1h-1zM62 7h2v1h-2zM65 8h2v1h-2zM44 9h1v1h-1zM65 9h1v1h-1zM67 9h1v1h-1zM1 10h1v1h-1zM63 10h1v1h-1zM20 11h1v1h-1zM65 11h1v1h-1zM20 12h1v1h-1zM45 12h2v1h-2zM31 13h1v1h-1zM60 13h3v1h-3zM35 14h1v1h-1zM59 14h1v1h-1zM0 15h1v1h-1zM2 15h1v1h-1zM53 15h1v1h-1zM0 16h1v1h-1zM62 16h2v1h-2zM1 17h1v1h-1zM16 17h1v1h-1zM23 17h1v1h-1zM0 18h1v1h-1zM2 18h1v1h-1zM23 18h1v1h-1zM3 19h1v1h-1zM22 19h1v1h-1zM0 20h1v1h-1zM13 20h1v1h-1zM22 20h2v1h-2zM3 21h1v1h-1zM22 21h1v1h-1zM37 23h1v1h-1zM1 24h1v1h-1zM66 24h1v1h-1zM21 25h1v1h-1zM38 25h1v1h-1zM48 25h3v1h-3zM45 27h1v1h-1zM57 27h1v1h-1zM37 28h1v1h-1zM39 28h1v1h-1zM41 28h2v1h-2zM44 28h1v1h-1zM37 29h1v1h-1zM40 29h1v1h-1zM38 32h1v1h-1zM59 32h1v1h-1zM59 35h1v1h-1zM44 39h1v1h-1zM48 39h1v1h-1zM43 40h1v1h-1zM42 41h1v1h-1zM51 42h1v1h-1zM62 42h1v1h-1zM51 43h1v1h-1zM64 43h1v1h-1zM49 46h1v1h-1zM39 49h1v1h-1zM37 50h1v1h-1zM47 50h2v1h-2zM65 50h1v1h-1zM65 51h1v1h-1zM67 51h1v1h-1zM48 55h1v1h-1zM47 56h1v1h-1zM62 56h1v1h-1zM47 57h2v1h-2zM40 58h1v1h-1zM42 58h1v1h-1zM50 58h1v1h-1zM57 58h1v1h-1zM52 59h1v1h-1zM44 60h2v1h-2zM50 60h1v1h-1zM48 61h1v1h-1zM54 61h1v1h-1zM51 62h1v1h-1zM50 64h1v1h-1zM53 64h1v1h-1zM50 65h1v1h-1zM49 66h1v1h-1zM49 67h1v1h-1z"/>
<path fill="#48b17a" d="M43 0h1v1h-1zM46 0h1v1h-1zM62 0h1v1h-1zM67 0h1v1h-1zM15 1h1v1h-1zM60 1h1v1h-1zM18 2h1v1h-1zM43 2h1v1h-1zM45 2h1v1h-1zM62 2h1v1h-1zM18 3h1v1h-1zM44 3h1v1h-1zM64 3h1v1h-1zM44 4h1v1h-1zM61 4h1v1h-1zM19 5h1v1h-1zM44 5h1v1h-1zM65 5h1v1h-1zM19 6h1v1h-1zM44 6h1v1h-1zM64 6h1v1h-1zM20 7h1v1h-1zM64 7h1v1h-1zM0 8h1v1h-1zM67 8h1v1h-1zM20 9h1v1h-1zM64 9h1v1h-1zM19 11h1v1h-1zM0 12h1v1h-1zM29 12h1v1h-1zM61 12h1v1h-1zM21 13h1v1h-1zM23 13h1v1h-1zM26 13h1v1h-1zM28 13h2v1h-2zM32 13h2v1h-2zM24 14h1v1h-1zM26 14h1v1h-1zM19 15h1v1h-1zM24 15h1v1h-1zM52 15h1v1h-1zM55 15h1v1h-1zM1 16h1v1h-1zM19 16h1v1h-1zM22 16h1v1h-1zM59 16h1v1h-1zM61 16h1v1h-1zM22 17h1v1h-1zM62 17h1v1h-1zM1 18h1v1h-1zM16 18h1v1h-1zM22 18h1v1h-1zM38 18h1v1h-1zM38 19h1v1h-1zM1 20h1v1h-1zM13 21h1v1h-1zM14 22h1v1h-1zM38 22h1v1h-1zM65 22h1v1h-1zM1 23h1v1h-1zM22 23h1v1h-1zM38 23h1v1h-1zM65 23h1v1h-1zM18 24h1v1h-1zM38 24h1v1h-1zM19 25h2v1h-2zM55 25h1v1h-1zM67 25h1v1h-1zM40 26h1v1h-1zM45 26h3v1h-3zM56 26h1v1h-1zM38 27h1v1h-1zM32 31h1v1h-1zM59 31h1v1h-1zM29 32h1v1h-1zM43 38h1v1h-1zM60 38h1v1h-1zM47 39h1v1h-1zM49 40h1v1h-1zM61 40h1v1h-1zM50 41h1v1h-1zM42 42h1v1h-1zM63 42h1v1h-1zM65 42h1v1h-1zM42 43h1v1h-1zM63 43h1v1h-1zM42 44h1v1h-1zM51 45h1v1h-1zM48 46h1v1h-1zM64 46h2v1h-2zM67 46h1v1h-1zM41 47h1v1h-1zM65 48h2v1h-2zM46 49h1v1h-1zM38 50h1v1h-1zM66 50h2v1h-2zM48 52h1v1h-1zM66 52h1v1h-1zM64 54h1v1h-1zM38 55h1v1h-1zM65 55h2v1h-2zM38 56h1v1h-1zM60 56h2v1h-2zM63 56h1v1h-1zM59 57h1v1h-1zM44 58h1v1h-1zM46 58h1v1h-1zM56 58h1v1h-1zM58 58h1v1h-1zM46 59h1v1h-1zM48 59h2v1h-2zM57 59h1v1h-1zM67 59h1v1h-1zM46 60h1v1h-1zM51 60h3v1h-3zM53 61h1v1h-1zM48 62h1v1h-1zM50 62h1v1h-1zM53 62h1v1h-1zM49 63h1v1h-1zM53 63h1v1h-1zM67 63h1v1h-1zM47 64h1v1h-1zM52 64h1v1h-1zM51 65h1v1h-1zM48 66h1v1h-1zM50 67h1v1h-1z"/>
<path fill="#49b478" d="M12 0h1v1h-1zM17 0h1v1h-1zM44 0h1v1h-1zM65 0h1v1h-1zM14 1h1v1h-1zM19 1h1v1h-1zM25 1h1v1h-1zM20 3h1v1h-1zM60 3h1v1h-1zM21 4h1v1h-1zM62 4h2v1h-2zM65 4h1v1h-1zM20 5h1v1h-1zM22 5h1v1h-1zM66 5h1v1h-1zM20 6h2v1h-2zM63 6h1v1h-1zM65 7h1v1h-1zM67 7h1v1h-1zM20 8h2v1h-2zM44 8h1v1h-1zM1 9h1v1h-1zM21 9h1v1h-1zM0 10h1v1h-1zM21 10h1v1h-1zM45 10h1v1h-1zM64 10h1v1h-1zM24 11h1v1h-1zM31 11h1v1h-1zM63 11h2v1h-2zM27 12h1v1h-1zM30 12h1v1h-1zM32 12h1v1h-1zM25 13h1v1h-1zM27 13h1v1h-1zM46 13h1v1h-1zM20 14h1v1h-1zM23 14h1v1h-1zM36 14h1v1h-1zM46 14h2v1h-2zM60 14h2v1h-2zM18 15h1v1h-1zM50 15h1v1h-1zM54 15h1v1h-1zM56 15h1v1h-1zM58 15h2v1h-2zM61 15h2v1h-2zM20 16h1v1h-1zM0 17h1v1h-1zM17 17h1v1h-1zM21 18h1v1h-1zM62 18h1v1h-1zM0 19h1v1h-1zM20 19h1v1h-1zM63 19h1v1h-1zM2 20h1v1h-1zM63 20h1v1h-1zM14 21h1v1h-1zM15 22h1v1h-1zM22 22h1v1h-1zM64 22h1v1h-1zM14 23h1v1h-1zM66 23h1v1h-1zM19 24h1v1h-1zM21 24h1v1h-1zM51 24h1v1h-1zM46 25h2v1h-2zM55 26h1v1h-1zM44 27h1v1h-1zM58 27h1v1h-1zM43 28h1v1h-1zM58 28h1v1h-1zM59 30h1v1h-1zM45 39h2v1h-2zM59 39h1v1h-1zM61 39h1v1h-1zM64 40h1v1h-1zM64 41h1v1h-1zM60 42h1v1h-1zM67 43h1v1h-1zM63 44h1v1h-1zM66 44h2v1h-2zM41 45h2v1h-2zM64 45h1v1h-1zM41 46h1v1h-1zM40 49h1v1h-1zM48 49h1v1h-1zM66 49h1v1h-1zM47 51h1v1h-1zM66 51h1v1h-1zM36 52h1v1h-1zM37 53h1v1h-1zM65 53h3v1h-3zM65 54h2v1h-2zM62 55h1v1h-1zM64 55h1v1h-1zM39 56h2v1h-2zM66 56h1v1h-1zM42 57h1v1h-1zM46 57h1v1h-1zM60 57h1v1h-1zM41 58h1v1h-1zM43 58h1v1h-1zM47 58h2v1h-2zM44 59h2v1h-2zM52 63h1v1h-1zM54 63h1v1h-1zM48 64h1v1h-1zM67 64h1v1h-1zM50 66h1v1h-1zM52 66h1v1h-1zM55 66h1v1h-1zM67 66h1v1h-1z"/>
<path fill="#4ab876" d="M15 0h2v1h-2zM63 0h1v1h-1zM17 1h2v1h-2zM44 1h1v1h-1zM62 1h1v1h-1zM65 1h1v1h-1zM19 2h1v1h-1zM21 2h1v1h-1zM42 2h1v1h-1zM64 2h2v1h-2zM62 3h2v1h-2zM65 3h1v1h-1zM19 4h1v1h-1zM43 4h1v1h-1zM66 4h2v1h-2zM21 5h1v1h-1zM0 6h1v1h-1zM43 6h1v1h-1zM65 6h2v1h-2zM44 7h1v1h-1zM66 7h1v1h-1zM1 8h1v1h-1zM63 8h2v1h-2zM44 10h1v1h-1zM22 11h1v1h-1zM27 11h1v1h-1zM45 11h1v1h-1zM21 12h1v1h-1zM26 12h1v1h-1zM28 12h1v1h-1zM31 12h1v1h-1zM1 13h1v1h-1zM34 13h1v1h-1zM22 14h1v1h-1zM25 14h1v1h-1zM58 14h1v1h-1zM20 15h1v1h-1zM36 15h1v1h-1zM57 15h1v1h-1zM60 15h1v1h-1zM18 16h1v1h-1zM21 16h1v1h-1zM38 16h1v1h-1zM54 16h1v1h-1zM21 17h1v1h-1zM38 17h1v1h-1zM14 20h2v1h-2zM38 20h1v1h-1zM62 20h1v1h-1zM38 21h1v1h-1zM16 23h1v1h-1zM21 23h1v1h-1zM20 24h1v1h-1zM50 24h1v1h-1zM65 24h1v1h-1zM39 25h1v1h-1zM56 25h1v1h-1zM66 25h1v1h-1zM66 26h1v1h-1zM39 27h1v1h-1zM41 27h1v1h-1zM59 27h1v1h-1zM60 28h1v1h-1zM59 29h1v1h-1zM60 36h1v1h-1zM44 38h1v1h-1zM61 38h1v1h-1zM65 39h1v1h-1zM62 40h1v1h-1zM43 41h1v1h-1zM45 41h1v1h-1zM61 41h3v1h-3zM50 42h1v1h-1zM64 42h1v1h-1zM65 43h2v1h-2zM49 44h2v1h-2zM65 44h1v1h-1zM50 45h1v1h-1zM65 45h1v1h-1zM67 45h1v1h-1zM41 48h1v1h-1zM47 48h1v1h-1zM67 48h1v1h-1zM38 51h1v1h-1zM37 52h1v1h-1zM48 53h1v1h-1zM37 54h1v1h-1zM47 54h2v1h-2zM67 54h1v1h-1zM47 55h1v1h-1zM46 56h1v1h-1zM61 57h1v1h-1zM67 57h1v1h-1zM45 58h1v1h-1zM55 59h1v1h-1zM54 60h1v1h-1zM52 61h1v1h-1zM55 61h1v1h-1zM67 61h1v1h-1zM54 62h1v1h-1zM67 65h1v1h-1zM53 66h2v1h-2zM54 67h1v1h-1z"/>
<path fill="#4cbb74" d="M14 0h1v1h-1zM18 0h1v1h-1zM21 0h1v1h-1zM66 0h1v1h-1zM29 1h1v1h-1zM61 1h1v1h-1zM63 1h2v1h-2zM20 2h1v1h-1zM25 2h1v1h-1zM44 2h1v1h-1zM63 2h1v1h-1zM67 2h1v1h-1zM30 3h1v1h-1zM67 3h1v1h-1zM20 4h1v1h-1zM24 4h1v1h-1zM26 4h2v1h-2zM29 4h1v1h-1zM64 4h1v1h-1zM27 5h1v1h-1zM43 5h1v1h-1zM30 9h1v1h-1zM23 10h1v1h-1zM21 11h1v1h-1zM29 11h1v1h-1zM32 11h1v1h-1zM22 12h2v1h-2zM33 12h2v1h-2zM22 13h1v1h-1zM24 13h1v1h-1zM35 13h1v1h-1zM0 14h1v1h-1zM37 14h1v1h-1zM21 15h1v1h-1zM23 15h1v1h-1zM37 15h1v1h-1zM49 15h1v1h-1zM37 16h1v1h-1zM53 16h1v1h-1zM57 16h1v1h-1zM18 17h2v1h-2zM15 18h1v1h-1zM20 18h1v1h-1zM61 18h1v1h-1zM21 20h1v1h-1zM21 21h1v1h-1zM39 21h1v1h-1zM63 21h1v1h-1zM16 22h1v1h-1zM63 22h1v1h-1zM17 23h1v1h-1zM63 23h2v1h-2zM17 24h1v1h-1zM52 24h2v1h-2zM57 25h1v1h-1zM39 26h1v1h-1zM41 26h1v1h-1zM44 26h1v1h-1zM58 26h1v1h-1zM40 27h1v1h-1zM66 27h1v1h-1zM59 28h1v1h-1zM59 33h1v1h-1zM60 34h1v1h-1zM60 35h1v1h-1zM61 36h1v1h-1zM67 36h1v1h-1zM60 37h1v1h-1zM44 40h1v1h-1zM48 40h1v1h-1zM63 40h1v1h-1zM65 40h3v1h-3zM65 41h2v1h-2zM49 42h1v1h-1zM66 42h2v1h-2zM50 43h1v1h-1zM43 44h1v1h-1zM48 44h1v1h-1zM48 45h2v1h-2zM66 45h1v1h-1zM42 46h1v1h-1zM44 46h1v1h-1zM47 46h1v1h-1zM67 47h1v1h-1zM40 48h1v1h-1zM67 49h1v1h-1zM47 52h1v1h-1zM46 53h1v1h-1zM38 54h1v1h-1zM40 55h1v1h-1zM46 55h1v1h-1zM67 55h1v1h-1zM64 56h1v1h-1zM41 57h1v1h-1zM45 57h1v1h-1zM62 57h1v1h-1zM67 58h1v1h-1zM55 60h2v1h-2zM66 63h1v1h-1zM54 64h1v1h-1zM52 65h1v1h-1zM54 65h1v1h-1zM66 65h1v1h-1zM51 66h1v1h-1zM66 66h1v1h-1zM52 67h1v1h-1zM55 67h1v1h-1zM64 67h2v1h-2z"/>
<path fill="#50be70" d="M13 0h1v1h-1zM23 0h5v1h-5zM41 0h1v1h-1zM64 0h1v1h-1zM20 1h1v1h-1zM22 1h1v1h-1zM24 1h1v1h-1zM30 1h1v1h-1zM35 1h1v1h-1zM66 1h2v1h-2zM22 2h1v1h-1zM24 2h1v1h-1zM26 2h3v1h-3zM19 3h1v1h-1zM42 3h2v1h-2zM66 3h1v1h-1zM25 4h1v1h-1zM67 6h1v1h-1zM43 7h1v1h-1zM24 10h1v1h-1zM32 10h1v1h-1zM25 11h1v1h-1zM44 11h1v1h-1zM43 12h1v1h-1zM0 13h1v1h-1zM48 14h1v1h-1zM49 16h1v1h-1zM52 16h1v1h-1zM58 16h1v1h-1zM60 16h1v1h-1zM20 17h1v1h-1zM50 17h1v1h-1zM15 19h1v1h-1zM21 19h1v1h-1zM62 19h1v1h-1zM20 21h1v1h-1zM21 22h1v1h-1zM19 23h2v1h-2zM39 23h1v1h-1zM51 23h1v1h-1zM55 23h1v1h-1zM48 24h1v1h-1zM55 24h1v1h-1zM64 24h1v1h-1zM41 25h1v1h-1zM58 25h1v1h-1zM65 25h1v1h-1zM42 26h1v1h-1zM59 26h1v1h-1zM63 26h1v1h-1zM67 26h1v1h-1zM61 28h1v1h-1zM67 28h1v1h-1zM60 31h1v1h-1zM60 33h1v1h-1zM62 38h2v1h-2zM65 38h1v1h-1zM67 38h1v1h-1zM62 39h2v1h-2zM49 41h1v1h-1zM43 43h1v1h-1zM49 43h1v1h-1zM43 45h1v1h-1zM66 46h1v1h-1zM42 47h1v1h-1zM48 47h1v1h-1zM42 48h1v1h-1zM45 48h1v1h-1zM46 50h1v1h-1zM47 53h1v1h-1zM39 54h1v1h-1zM41 55h1v1h-1zM41 56h1v1h-1zM44 57h1v1h-1zM66 57h1v1h-1zM66 58h1v1h-1zM47 59h1v1h-1zM58 59h1v1h-1zM67 62h1v1h-1zM55 63h1v1h-1zM55 64h1v1h-1zM53 65h1v1h-1zM63 66h1v1h-1zM67 67h1v1h-1z"/>
<path fill="#55c06c" d="M19 0h2v1h-2zM22 0h1v1h-1zM29 0h2v1h-2zM34 0h1v1h-1zM39 0h2v1h-2zM42 0h1v1h-1zM28 1h1v1h-1zM31 1h1v1h-1zM40 1h3v1h-3zM23 2h1v1h-1zM29 2h1v1h-1zM66 2h1v1h-1zM21 3h2v1h-2zM24 3h3v1h-3zM31 4h1v1h-1zM25 5h2v1h-2zM29 5h1v1h-1zM42 5h1v1h-1zM22 6h2v1h-2zM21 7h1v1h-1zM23 7h2v1h-2zM24 8h1v1h-1zM28 9h2v1h-2zM22 10h1v1h-1zM28 10h1v1h-1zM26 11h1v1h-1zM43 11h1v1h-1zM25 12h1v1h-1zM35 12h1v1h-1zM36 13h1v1h-1zM44 14h2v1h-2zM50 16h2v1h-2zM61 17h1v1h-1zM17 18h1v1h-1zM60 18h1v1h-1zM39 19h1v1h-1zM20 20h1v1h-1zM17 21h1v1h-1zM52 21h1v1h-1zM17 22h2v1h-2zM20 22h1v1h-1zM39 22h1v1h-1zM18 23h1v1h-1zM52 23h1v1h-1zM54 23h1v1h-1zM39 24h1v1h-1zM47 24h1v1h-1zM43 25h1v1h-1zM63 25h1v1h-1zM43 26h1v1h-1zM57 26h1v1h-1zM61 26h1v1h-1zM64 26h2v1h-2zM61 27h2v1h-2zM60 30h1v1h-1zM62 36h1v1h-1zM62 37h1v1h-1zM67 37h1v1h-1zM64 38h1v1h-1zM66 38h1v1h-1zM64 39h1v1h-1zM67 39h1v1h-1zM45 40h1v1h-1zM44 41h1v1h-1zM47 41h1v1h-1zM67 41h1v1h-1zM44 42h1v1h-1zM47 42h1v1h-1zM43 46h1v1h-1zM45 46h1v1h-1zM45 47h1v1h-1zM66 47h1v1h-1zM45 49h1v1h-1zM47 49h1v1h-1zM39 50h1v1h-1zM39 51h1v1h-1zM45 51h1v1h-1zM38 52h2v1h-2zM45 54h1v1h-1zM45 56h1v1h-1zM65 56h1v1h-1zM67 56h1v1h-1zM63 57h1v1h-1zM59 58h1v1h-1zM61 58h1v1h-1zM59 59h1v1h-1zM66 59h1v1h-1zM58 60h1v1h-1zM67 60h1v1h-1zM56 61h1v1h-1zM56 62h1v1h-1zM66 62h1v1h-1zM55 65h1v1h-1zM56 66h1v1h-1zM58 67h1v1h-1z"/>
<path fill="#5bc267" d="M28 0h1v1h-1zM32 0h1v1h-1zM37 0h1v1h-1zM26 1h1v1h-1zM32 1h1v1h-1zM41 2h1v1h-1zM27 3h1v1h-1zM23 4h1v1h-1zM28 4h1v1h-1zM42 4h1v1h-1zM23 5h1v1h-1zM28 5h1v1h-1zM25 6h1v1h-1zM30 6h2v1h-2zM22 7h1v1h-1zM26 7h1v1h-1zM28 7h1v1h-1zM30 7h1v1h-1zM22 8h1v1h-1zM43 8h1v1h-1zM22 9h1v1h-1zM25 9h1v1h-1zM31 9h1v1h-1zM43 9h1v1h-1zM27 10h1v1h-1zM29 10h3v1h-3zM43 10h1v1h-1zM23 11h1v1h-1zM28 11h1v1h-1zM30 11h1v1h-1zM33 11h2v1h-2zM24 12h1v1h-1zM36 12h1v1h-1zM45 13h1v1h-1zM38 15h1v1h-1zM47 15h2v1h-2zM55 16h2v1h-2zM51 17h2v1h-2zM60 17h1v1h-1zM18 18h1v1h-1zM16 19h1v1h-1zM39 20h1v1h-1zM15 21h1v1h-1zM18 21h1v1h-1zM53 23h1v1h-1zM40 24h1v1h-1zM49 24h1v1h-1zM54 24h1v1h-1zM61 24h2v1h-2zM40 25h1v1h-1zM44 25h2v1h-2zM62 26h1v1h-1zM60 27h1v1h-1zM64 28h2v1h-2zM61 31h1v1h-1zM60 32h1v1h-1zM61 34h1v1h-1zM61 35h1v1h-1zM61 37h1v1h-1zM63 37h1v1h-1zM66 37h1v1h-1zM66 39h1v1h-1zM47 40h1v1h-1zM43 42h1v1h-1zM48 42h1v1h-1zM44 44h1v1h-1zM44 45h1v1h-1zM46 45h2v1h-2zM46 46h1v1h-1zM46 47h2v1h-2zM43 48h1v1h-1zM40 50h2v1h-2zM45 50h1v1h-1zM46 54h1v1h-1zM39 55h1v1h-1zM44 55h1v1h-1zM43 57h1v1h-1zM60 58h1v1h-1zM63 59h1v1h-1zM57 60h1v1h-1zM66 60h1v1h-1zM66 61h1v1h-1zM57 62h1v1h-1zM56 63h2v1h-2zM65 63h1v1h-1zM56 64h1v1h-1zM66 64h1v1h-1zM56 65h1v1h-1zM65 65h1v1h-1zM57 66h1v1h-1zM64 66h2v1h-2zM53 67h1v1h-1zM57 67h1v1h-1z"/>
<path fill="#60c462" d="M31 0h1v1h-1zM33 0h1v1h-1zM36 0h1v1h-1zM38 0h1v1h-1zM23 1h1v1h-1zM39 1h1v1h-1zM32 2h1v1h-1zM23 3h1v1h-1zM28 3h1v1h-1zM22 4h1v1h-1zM30 4h1v1h-1zM24 5h1v1h-1zM30 5h2v1h-2zM29 7h1v1h-1zM42 7h1v1h-1zM28 8h2v1h-2zM31 8h1v1h-1zM23 9h2v1h-2zM26 9h1v1h-1zM26 10h1v1h-1zM34 10h1v1h-1zM44 12h1v1h-1zM42 13h1v1h-1zM44 13h1v1h-1zM46 15h1v1h-1zM59 17h1v1h-1zM39 18h1v1h-1zM49 18h1v1h-1zM52 18h2v1h-2zM18 19h1v1h-1zM61 19h1v1h-1zM16 20h4v1h-4zM40 20h1v1h-1zM16 21h1v1h-1zM61 21h2v1h-2zM19 22h1v1h-1zM40 22h1v1h-1zM62 22h1v1h-1zM47 23h2v1h-2zM50 23h1v1h-1zM61 23h1v1h-1zM41 24h1v1h-1zM46 24h1v1h-1zM56 24h2v1h-2zM60 24h1v1h-1zM63 24h1v1h-1zM42 25h1v1h-1zM60 25h1v1h-1zM60 26h1v1h-1zM64 27h2v1h-2zM67 27h1v1h-1zM66 28h1v1h-1zM60 29h2v1h-2zM61 33h1v1h-1zM67 34h1v1h-1zM63 35h1v1h-1zM66 36h1v1h-1zM46 40h1v1h-1zM46 41h1v1h-1zM48 41h1v1h-1zM45 42h2v1h-2zM45 43h2v1h-2zM48 43h1v1h-1zM46 44h1v1h-1zM45 45h1v1h-1zM43 47h2v1h-2zM41 49h1v1h-1zM43 50h1v1h-1zM46 52h1v1h-1zM38 53h1v1h-1zM45 55h1v1h-1zM43 56h2v1h-2zM64 57h2v1h-2zM63 58h3v1h-3zM64 59h2v1h-2zM57 61h1v1h-1zM65 62h1v1h-1zM64 64h2v1h-2zM61 65h1v1h-1zM56 67h1v1h-1zM60 67h1v1h-1zM62 67h1v1h-1z"/>
<path fill="#65c65d" d="M27 1h1v1h-1zM33 1h2v1h-2zM36 1h2v1h-2zM31 2h1v1h-1zM33 2h1v1h-1zM39 2h1v1h-1zM29 3h1v1h-1zM31 3h4v1h-4zM32 4h1v1h-1zM24 6h1v1h-1zM26 6h1v1h-1zM27 7h1v1h-1zM31 7h1v1h-1zM23 8h1v1h-1zM27 8h1v1h-1zM30 8h1v1h-1zM27 9h1v1h-1zM32 9h1v1h-1zM25 10h1v1h-1zM42 11h1v1h-1zM42 12h1v1h-1zM37 13h1v1h-1zM39 15h1v1h-1zM48 16h1v1h-1zM53 17h1v1h-1zM56 17h3v1h-3zM19 18h1v1h-1zM51 18h1v1h-1zM17 19h1v1h-1zM19 19h1v1h-1zM40 19h1v1h-1zM60 20h2v1h-2zM40 21h1v1h-1zM60 21h1v1h-1zM49 22h1v1h-1zM51 22h1v1h-1zM55 22h1v1h-1zM61 22h1v1h-1zM60 23h1v1h-1zM62 23h1v1h-1zM42 24h1v1h-1zM59 25h1v1h-1zM61 25h2v1h-2zM64 25h1v1h-1zM62 28h1v1h-1zM66 29h2v1h-2zM61 30h1v1h-1zM67 31h1v1h-1zM66 34h1v1h-1zM62 35h1v1h-1zM67 35h1v1h-1zM64 36h1v1h-1zM64 37h2v1h-2zM44 43h1v1h-1zM47 43h1v1h-1zM45 44h1v1h-1zM47 44h1v1h-1zM46 51h1v1h-1zM45 52h1v1h-1zM41 54h1v1h-1zM42 55h1v1h-1zM42 56h1v1h-1zM62 58h1v1h-1zM60 59h1v1h-1zM55 62h1v1h-1zM57 65h2v1h-2zM60 65h1v1h-1zM64 65h1v1h-1zM58 66h2v1h-2zM59 67h1v1h-1z"/>
<path fill="#6ac859" d="M35 0h1v1h-1zM30 2h1v1h-1zM34 2h1v1h-1zM37 2h1v1h-1zM40 2h1v1h-1zM36 3h1v1h-1zM41 3h1v1h-1zM33 5h2v1h-2zM27 6h1v1h-1zM32 6h3v1h-3zM25 7h1v1h-1zM25 8h1v1h-1zM42 8h1v1h-1zM34 9h1v1h-1zM33 10h1v1h-1zM38 12h1v1h-1zM39 13h1v1h-1zM38 14h2v1h-2zM41 14h2v1h-2zM44 15h1v1h-1zM40 16h1v1h-1zM39 17h1v1h-1zM49 17h1v1h-1zM54 17h1v1h-1zM50 18h1v1h-1zM54 18h2v1h-2zM55 20h1v1h-1zM19 21h1v1h-1zM51 21h1v1h-1zM53 22h1v1h-1zM40 23h1v1h-1zM42 23h1v1h-1zM49 23h1v1h-1zM57 23h3v1h-3zM45 24h1v1h-1zM59 24h1v1h-1zM63 27h1v1h-1zM63 28h1v1h-1zM63 29h1v1h-1zM65 29h1v1h-1zM67 30h1v1h-1zM62 32h1v1h-1zM65 35h1v1h-1zM44 48h1v1h-1zM43 49h1v1h-1zM42 50h1v1h-1zM44 50h1v1h-1zM44 51h1v1h-1zM40 52h1v1h-1zM39 53h1v1h-1zM40 54h1v1h-1zM59 60h2v1h-2zM64 60h2v1h-2zM65 61h1v1h-1zM57 64h1v1h-1zM63 67h1v1h-1z"/>
<path fill="#70ca54" d="M40 3h1v1h-1zM34 4h1v1h-1zM41 4h1v1h-1zM32 5h1v1h-1zM41 5h1v1h-1zM28 6h2v1h-2zM26 8h1v1h-1zM32 8h2v1h-2zM42 9h1v1h-1zM35 11h1v1h-1zM41 11h1v1h-1zM45 15h1v1h-1zM39 16h1v1h-1zM46 16h2v1h-2zM40 17h1v1h-1zM48 17h1v1h-1zM55 17h1v1h-1zM40 18h1v1h-1zM58 18h2v1h-2zM53 19h1v1h-1zM58 19h2v1h-2zM51 20h1v1h-1zM53 20h1v1h-1zM57 20h1v1h-1zM59 21h1v1h-1zM50 22h1v1h-1zM54 22h1v1h-1zM58 24h1v1h-1zM62 30h1v1h-1zM65 30h1v1h-1zM65 31h1v1h-1zM61 32h1v1h-1zM65 32h1v1h-1zM62 34h2v1h-2zM65 34h1v1h-1zM66 35h1v1h-1zM63 36h1v1h-1zM65 36h1v1h-1zM46 48h1v1h-1zM44 49h1v1h-1zM41 51h1v1h-1zM43 52h1v1h-1zM40 53h1v1h-1zM43 53h1v1h-1zM45 53h1v1h-1zM42 54h3v1h-3zM43 55h1v1h-1zM61 60h1v1h-1zM58 61h1v1h-1zM59 62h1v1h-1zM58 63h1v1h-1zM64 63h1v1h-1zM58 64h1v1h-1zM63 64h1v1h-1zM63 65h1v1h-1zM61 67h1v1h-1z"/>
<path fill="#76cc50" d="M38 1h1v1h-1zM35 2h1v1h-1zM35 3h1v1h-1zM38 3h2v1h-2zM40 4h1v1h-1zM41 6h2v1h-2zM34 8h1v1h-1zM33 9h1v1h-1zM35 9h1v1h-1zM40 9h2v1h-2zM41 10h1v1h-1zM37 11h1v1h-1zM39 12h3v1h-3zM38 13h1v1h-1zM40 13h1v1h-1zM43 13h1v1h-1zM40 14h1v1h-1zM40 15h1v1h-1zM43 15h1v1h-1zM41 16h1v1h-1zM45 16h1v1h-1zM56 18h1v1h-1zM49 19h2v1h-2zM52 19h1v1h-1zM60 19h1v1h-1zM50 20h1v1h-1zM54 20h1v1h-1zM59 20h1v1h-1zM53 21h1v1h-1zM57 21h1v1h-1zM47 22h1v1h-1zM52 22h1v1h-1zM58 22h2v1h-2zM41 23h1v1h-1zM56 23h1v1h-1zM44 24h1v1h-1zM62 29h1v1h-1zM64 30h1v1h-1zM63 32h1v1h-1zM67 32h1v1h-1zM62 33h1v1h-1zM66 33h1v1h-1zM42 49h1v1h-1zM43 51h1v1h-1zM44 52h1v1h-1zM42 53h1v1h-1zM62 59h1v1h-1zM64 61h1v1h-1zM58 62h1v1h-1zM60 62h1v1h-1zM64 62h1v1h-1zM59 65h1v1h-1zM61 66h1v1h-1z"/>
<path fill="#83cf4e" d="M36 2h1v1h-1zM33 4h1v1h-1zM35 4h1v1h-1zM39 4h1v1h-1zM32 7h1v1h-1zM34 7h1v1h-1zM41 7h1v1h-1zM41 8h1v1h-1zM36 10h1v1h-1zM42 10h1v1h-1zM36 11h1v1h-1zM40 11h1v1h-1zM37 12h1v1h-1zM41 13h1v1h-1zM43 14h1v1h-1zM41 15h1v1h-1zM42 16h1v1h-1zM44 16h1v1h-1zM43 17h1v1h-1zM57 18h1v1h-1zM48 19h1v1h-1zM51 19h1v1h-1zM54 19h1v1h-1zM56 19h1v1h-1zM49 20h1v1h-1zM56 20h1v1h-1zM47 21h1v1h-1zM58 21h1v1h-1zM41 22h1v1h-1zM57 22h1v1h-1zM60 22h1v1h-1zM46 23h1v1h-1zM64 29h1v1h-1zM63 30h1v1h-1zM66 30h1v1h-1zM66 31h1v1h-1zM64 32h1v1h-1zM64 35h1v1h-1zM40 51h1v1h-1zM42 51h1v1h-1zM41 52h2v1h-2zM41 53h1v1h-1zM44 53h1v1h-1zM61 59h1v1h-1zM62 60h1v1h-1zM59 61h1v1h-1zM62 61h1v1h-1zM63 63h1v1h-1zM59 64h1v1h-1zM61 64h2v1h-2zM60 66h1v1h-1zM62 66h1v1h-1z"/>
<path fill="#8fd14c" d="M37 4h1v1h-1zM35 5h1v1h-1zM36 7h1v1h-1zM40 7h1v1h-1zM35 8h1v1h-1zM39 8h1v1h-1zM39 10h1v1h-1zM38 11h1v1h-1zM41 17h2v1h-2zM48 18h1v1h-1zM55 19h1v1h-1zM57 19h1v1h-1zM41 20h1v1h-1zM46 20h1v1h-1zM48 20h1v1h-1zM52 20h1v1h-1zM41 21h1v1h-1zM50 21h1v1h-1zM54 21h3v1h-3zM48 22h1v1h-1zM56 22h1v1h-1zM43 23h2v1h-2zM43 24h1v1h-1zM62 31h2v1h-2zM64 33h1v1h-1zM67 33h1v1h-1zM64 34h1v1h-1zM63 60h1v1h-1zM60 61h1v1h-1zM63 61h1v1h-1z"/>
<path fill="#9bd44a" d="M38 2h1v1h-1zM37 3h1v1h-1zM36 5h1v1h-1zM40 5h1v1h-1zM40 6h1v1h-1zM33 7h1v1h-1zM35 7h1v1h-1zM40 8h1v1h-1zM38 9h1v1h-1zM35 10h1v1h-1zM39 11h1v1h-1zM42 15h1v1h-1zM41 18h1v1h-1zM41 19h1v1h-1zM58 20h1v1h-1zM48 21h1v1h-1zM42 22h1v1h-1zM46 22h1v1h-1zM45 23h1v1h-1zM64 31h1v1h-1zM66 32h1v1h-1zM61 62h1v1h-1zM59 63h2v1h-2zM60 64h1v1h-1zM62 65h1v1h-1z"/>
<path fill="#a7d648" d="M36 4h1v1h-1zM38 4h1v1h-1zM39 7h1v1h-1zM37 8h1v1h-1zM39 9h1v1h-1zM37 10h2v1h-2zM40 10h1v1h-1zM46 17h2v1h-2zM47 18h1v1h-1zM47 19h1v1h-1zM49 21h1v1h-1zM65 33h1v1h-1zM61 61h1v1h-1zM62 62h2v1h-2zM61 63h2v1h-2z"/>
<path fill="#b3d946" d="M38 5h1v1h-1zM36 9h1v1h-1zM43 16h1v1h-1zM44 17h1v1h-1zM42 19h1v1h-1zM42 20h3v1h-3zM47 20h1v1h-1zM42 21h2v1h-2zM45 21h1v1h-1zM43 22h1v1h-1zM45 22h1v1h-1zM63 33h1v1h-1z"/>
<path fill="#c0db44" d="M39 5h1v1h-1zM35 6h2v1h-2zM38 6h1v1h-1zM36 8h1v1h-1zM38 8h1v1h-1zM37 9h1v1h-1zM45 17h1v1h-1zM42 18h1v1h-1zM44 18h1v1h-1zM46 18h1v1h-1zM45 20h1v1h-1zM46 21h1v1h-1zM44 22h1v1h-1z"/>
<path fill="#ccde42" d="M37 5h1v1h-1zM37 6h1v1h-1zM39 6h1v1h-1zM37 7h1v1h-1zM43 18h1v1h-1zM45 18h1v1h-1zM43 19h2v1h-2zM46 19h1v1h-1z"/>
<path fill="#d8e040" d="M38 7h1v1h-1zM45 19h1v1h-1zM44 21h1v1h-1z"/>
</g>
<rect x="1046.8" y="468.6" width="10" height="10" fill="#e0e040"/>
<rect x="1240.3" y="479" width="10" height="10" fill="#e0e040"/>
<rect x="1442.2" y="408.2" width="10" height="10" fill="#e0e040"/>
<rect x="1442.2" y="449" width="10" height="10" fill="#e0e040"/>
<rect x="1148" y="610.4" width="10" height="10" fill="#e0e040"/>
<rect x="1066.7" y="761.7" width="10" height="10" fill="#e0e040"/>
<rect x="1331.7" y="751.6" width="10" height="10" fill="#e0e040"/>
<rect x="1558" y="214.5" width="10" height="10" fill="#e0e040"/>
<rect x="1803.7" y="244.6" width="10" height="10" fill="#e0e040"/>
<rect x="1631" y="386.4" width="10" height="10" fill="#e0e040"/>
<rect x="1569.3" y="487.9" width="10" height="10" fill="#e0e040"/>
<rect x="1711.8" y="478.4" width="10" height="10" fill="#e0e040"/>
<rect x="1619.2" y="609.9" width="10" height="10" fill="#e0e040"/>
<rect x="1804.5" y="751" width="10" height="10" fill="#e0e040"/>
<rect x="1519.5" y="982.2" width="405" height="2" fill="#e8eef6"/>
<rect x="1046" y="78" width="406" height="907" fill="none" stroke="#1a1a1a" stroke-width="2"/>
<rect x="1519" y="78" width="406" height="907" fill="none" stroke="#1a1a1a" stroke-width="2"/>
<rect x="1046" y="1037" width="406" height="403" fill="none" stroke="#1a1a1a" stroke-width="2"/>
<rect x="1518" y="1037" width="407" height="403" fill="none" stroke="#1a1a1a" stroke-width="2"/>
<text x="1062" y="116.7" font-size="31.5" fill="#111" textLength="95">Before</text>
<text x="1064" y="1078.5" font-size="31.5" fill="#fff" textLength="71">After</text>
<text x="1541.5" y="116.5" font-size="30" fill="#f2dcf2"><tspan font-style="italic">ν</tspan> = 4</text>
<rect x="1306.5" y="930.4" width="109.8" height="15.9" fill="#fff"/>
<rect x="1305.5" y="1385.5" width="109.5" height="15.5" fill="#fff"/>
<polygon points="2271,130.5 2218.4,187.5 2257.2,214.4" fill="#c4dcec" stroke="#c4dcec" stroke-width="1"/>
<polygon points="2271,130.5 2302.7,161 2257.2,214.4" fill="#8fbcd8" stroke="#8fbcd8" stroke-width="1"/>
<polygon points="2302.7,161 2257.2,214.4 2300,252" fill="#c8dcea" stroke="#c8dcea" stroke-width="1"/>
<polygon points="2302.7,161 2344.3,202.6 2300,252" fill="#cde2ee" stroke="#cde2ee" stroke-width="1"/>
<polygon points="2344.3,202.6 2300,252 2350,289.7" fill="#d0e2ee" stroke="#d0e2ee" stroke-width="1"/>
<polygon points="2344.3,202.6 2389.9,239 2350,289.7" fill="#cfe4ee" stroke="#cfe4ee" stroke-width="1"/>
<polygon points="2389.9,239 2350,289.7 2387.9,323.3" fill="#90bcd8" stroke="#90bcd8" stroke-width="1"/>
<polygon points="2218.4,187.5 2154.2,250.9 2203.7,285" fill="#f2ece8" stroke="#f2ece8" stroke-width="1"/>
<polygon points="2218.4,187.5 2257.2,214.4 2203.7,285" fill="#dae6ee" stroke="#dae6ee" stroke-width="1"/>
<polygon points="2257.2,214.4 2203.7,285 2246,316.6" fill="#eef0f2" stroke="#eef0f2" stroke-width="1"/>
<polygon points="2257.2,214.4 2300,252 2246,316.6" fill="#eceef2" stroke="#eceef2" stroke-width="1"/>
<polygon points="2300,252 2246,316.6 2289.7,355" fill="#f2f0f0" stroke="#f2f0f0" stroke-width="1"/>
<polygon points="2300,252 2350,289.7 2289.7,355" fill="#f4e6e0" stroke="#f4e6e0" stroke-width="1"/>
<polygon points="2350,289.7 2289.7,355 2333.2,387.9" fill="#e8eef2" stroke="#e8eef2" stroke-width="1"/>
<polygon points="2350,289.7 2387.9,323.3 2333.2,387.9" fill="#c6dcec" stroke="#c6dcec" stroke-width="1"/>
<polygon points="2387.9,323.3 2333.2,387.9 2384.7,429" fill="#f2eeee" stroke="#f2eeee" stroke-width="1"/>
<polygon points="2154.2,250.9 2099.6,315.4 2140.4,351" fill="#dde8f0" stroke="#dde8f0" stroke-width="1"/>
<polygon points="2154.2,250.9 2203.7,285 2140.4,351" fill="#f3eeec" stroke="#f3eeec" stroke-width="1"/>
<polygon points="2203.7,285 2140.4,351 2177.2,391.8" fill="#f5ece8" stroke="#f5ece8" stroke-width="1"/>
<polygon points="2203.7,285 2246,316.6 2177.2,391.8" fill="#f5eeec" stroke="#f5eeec" stroke-width="1"/>
<polygon points="2246,316.6 2177.2,391.8 2227.5,430.3" fill="#f6ddd4" stroke="#f6ddd4" stroke-width="1"/>
<polygon points="2246,316.6 2289.7,355 2227.5,430.3" fill="#f5eae6" stroke="#f5eae6" stroke-width="1"/>
<polygon points="2289.7,355 2227.5,430.3 2272.2,467.9" fill="#f6ece8" stroke="#f6ece8" stroke-width="1"/>
<polygon points="2289.7,355 2333.2,387.9 2272.2,467.9" fill="#f6e4dc" stroke="#f6e4dc" stroke-width="1"/>
<polygon points="2333.2,387.9 2272.2,467.9 2322.5,507.5" fill="#f6ddd2" stroke="#f6ddd2" stroke-width="1"/>
<polygon points="2333.2,387.9 2384.7,429 2322.5,507.5" fill="#f6d6c8" stroke="#f6d6c8" stroke-width="1"/>
<polygon points="2384.7,429 2322.5,507.5 2389.9,541" fill="#f6cfbe" stroke="#f6cfbe" stroke-width="1"/>
<polygon points="2099.6,315.4 2140.4,351 1996.6,557.4" fill="#cd4650" stroke="#cd4650" stroke-width="1"/>
<polygon points="2140.4,351 1996.6,557.4 2057.2,563.4" fill="#c63c4a" stroke="#c63c4a" stroke-width="1"/>
<polygon points="2140.4,351 2177.2,391.8 2057.2,563.4" fill="#d45458" stroke="#d45458" stroke-width="1"/>
<polygon points="2177.2,391.8 2057.2,563.4 2120.6,577.2" fill="#cf4a50" stroke="#cf4a50" stroke-width="1"/>
<polygon points="2177.2,391.8 2227.5,430.3 2120.6,577.2" fill="#e07565" stroke="#e07565" stroke-width="1"/>
<polygon points="2227.5,430.3 2120.6,577.2 2189.9,593" fill="#d85a5a" stroke="#d85a5a" stroke-width="1"/>
<polygon points="2227.5,430.3 2272.2,467.9 2189.9,593" fill="#f2a592" stroke="#f2a592" stroke-width="1"/>
<polygon points="2272.2,467.9 2189.9,593 2253.2,616.8" fill="#f0a088" stroke="#f0a088" stroke-width="1"/>
<polygon points="2272.2,467.9 2322.5,507.5 2253.2,616.8" fill="#f4b8a2" stroke="#f4b8a2" stroke-width="1"/>
<polygon points="2322.5,507.5 2253.2,616.8 2314.6,640.6" fill="#f2a890" stroke="#f2a890" stroke-width="1"/>
<polygon points="2322.5,507.5 2389.9,541 2314.6,640.6" fill="#f3aa90" stroke="#f3aa90" stroke-width="1"/>
<polygon points="2389.9,541 2314.6,640.6 2376,678.2" fill="#f2a48a" stroke="#f2a48a" stroke-width="1"/>
<polygon points="2057.2,563.4 2120.6,577.2 2037.4,664.3" fill="#f6d8cc" stroke="#f6d8cc" stroke-width="1"/>
<polygon points="2120.6,577.2 2037.4,664.3 2104.7,684.1" fill="#f6ccbc" stroke="#f6ccbc" stroke-width="1"/>
<polygon points="2120.6,577.2 2189.9,593 2104.7,684.1" fill="#f6ccbc" stroke="#f6ccbc" stroke-width="1"/>
<polygon points="2189.9,593 2104.7,684.1 2178,700" fill="#f6d0c2" stroke="#f6d0c2" stroke-width="1"/>
<polygon points="2189.9,593 2253.2,616.8 2178,700" fill="#f5dcd2" stroke="#f5dcd2" stroke-width="1"/>
<polygon points="2253.2,616.8 2178,700 2251.3,709.9" fill="#f5e0da" stroke="#f5e0da" stroke-width="1"/>
<polygon points="2253.2,616.8 2314.6,640.6 2251.3,709.9" fill="#f5e8e4" stroke="#f5e8e4" stroke-width="1"/>
<polygon points="2314.6,640.6 2251.3,709.9 2315.8,729.7" fill="#f5e4de" stroke="#f5e4de" stroke-width="1"/>
<polygon points="2314.6,640.6 2376,678.2 2315.8,729.7" fill="#f4eeec" stroke="#f4eeec" stroke-width="1"/>
<polygon points="2376,678.2 2315.8,729.7 2376,747.5" fill="#c8dcec" stroke="#c8dcec" stroke-width="1"/>
<polygon points="2037.4,664.3 2104.7,684.1 2019.6,759.4" fill="#f6d8cc" stroke="#f6d8cc" stroke-width="1"/>
<polygon points="2104.7,684.1 2019.6,759.4 2100.8,777.2" fill="#f6d0c4" stroke="#f6d0c4" stroke-width="1"/>
<polygon points="2104.7,684.1 2178,700 2100.8,777.2" fill="#f6d4c8" stroke="#f6d4c8" stroke-width="1"/>
<polygon points="2178,700 2100.8,777.2 2176.8,791" fill="#f6d2c6" stroke="#f6d2c6" stroke-width="1"/>
<polygon points="2178,700 2251.3,709.9 2176.8,791" fill="#f6dcd4" stroke="#f6dcd4" stroke-width="1"/>
<polygon points="2251.3,709.9 2176.8,791 2251.3,810.9" fill="#f6d4c8" stroke="#f6d4c8" stroke-width="1"/>
<polygon points="2251.3,709.9 2315.8,729.7 2251.3,810.9" fill="#f5e2dc" stroke="#f5e2dc" stroke-width="1"/>
<polygon points="2315.8,729.7 2251.3,810.9 2314.6,826.7" fill="#f6dcd2" stroke="#f6dcd2" stroke-width="1"/>
<polygon points="2315.8,729.7 2376,747.5 2314.6,826.7" fill="#f3eeee" stroke="#f3eeee" stroke-width="1"/>
<polygon points="2376,747.5 2314.6,826.7 2385.9,838.6" fill="#f6e6e2" stroke="#f6e6e2" stroke-width="1"/>
<polygon points="2019.6,759.4 2100.8,777.2 2011.7,860.4" fill="#f6c8b6" stroke="#f6c8b6" stroke-width="1"/>
<polygon points="2100.8,777.2 2011.7,860.4 2100.8,878.2" fill="#f6c6b4" stroke="#f6c6b4" stroke-width="1"/>
<polygon points="2100.8,777.2 2176.8,791 2100.8,878.2" fill="#f6cbb8" stroke="#f6cbb8" stroke-width="1"/>
<polygon points="2176.8,791 2100.8,878.2 2176,890" fill="#f6c8b4" stroke="#f6c8b4" stroke-width="1"/>
<polygon points="2251.3,810.9 2314.6,826.7 2251.3,900" fill="#f5e2da" stroke="#f5e2da" stroke-width="1"/>
<polygon points="2314.6,826.7 2251.3,900 2318.6,909.9" fill="#f5e4de" stroke="#f5e4de" stroke-width="1"/>
<polygon points="2314.6,826.7 2385.9,838.6 2318.6,909.9" fill="#f5e8e4" stroke="#f5e8e4" stroke-width="1"/>
<polygon points="2011.7,860.4 2100.8,878.2 2005.7,971.2" fill="#f0a088" stroke="#f0a088" stroke-width="1"/>
<polygon points="2100.8,878.2 2005.7,971.2 2098.8,977.2" fill="#f2a892" stroke="#f2a892" stroke-width="1"/>
<polygon points="2100.8,878.2 2176,890 2098.8,977.2" fill="#f6c6b2" stroke="#f6c6b2" stroke-width="1"/>
<line x1="2140.4" y1="351" x2="2177.2" y2="391.8" stroke="#000" stroke-width="6.5" stroke-linecap="round"/>
<line x1="2203.7" y1="285" x2="2218.4" y2="187.5" stroke="#000" stroke-width="6.5" stroke-linecap="round"/>
<line x1="2322.5" y1="507.5" x2="2384.7" y2="429" stroke="#000" stroke-width="6.5" stroke-linecap="round"/>
<line x1="2011.7" y1="860.4" x2="2100.8" y2="878.2" stroke="#000" stroke-width="6.5" stroke-linecap="round"/>
<line x1="2037.4" y1="664.3" x2="2057.2" y2="563.4" stroke="#000" stroke-width="6.5" stroke-linecap="round"/>
<line x1="2100.8" y1="777.2" x2="2178" y2="700" stroke="#000" stroke-width="6.5" stroke-linecap="round"/>
<line x1="2104.7" y1="684.1" x2="2120.6" y2="577.2" stroke="#000" stroke-width="6.5" stroke-linecap="round"/>
<line x1="2120.6" y1="577.2" x2="2177.2" y2="391.8" stroke="#000" stroke-width="6.5" stroke-linecap="round"/>
<line x1="2251.3" y1="709.9" x2="2253.2" y2="616.8" stroke="#000" stroke-width="6.5" stroke-linecap="round"/>
<line x1="2178" y1="700" x2="2189.9" y2="593" stroke="#000" stroke-width="6.5" stroke-linecap="round"/>
<line x1="1996.6" y1="557.4" x2="2057.2" y2="563.4" stroke="#000" stroke-width="6.5" stroke-linecap="round"/>
<line x1="2272.2" y1="467.9" x2="2333.2" y2="387.9" stroke="#000" stroke-width="6.5" stroke-linecap="round"/>
<line x1="2176.8" y1="791" x2="2251.3" y2="709.9" stroke="#000" stroke-width="6.5" stroke-linecap="round"/>
<line x1="2189.9" y1="593" x2="2253.2" y2="616.8" stroke="#000" stroke-width="6.5" stroke-linecap="round"/>
<line x1="2203.7" y1="285" x2="2257.2" y2="214.4" stroke="#000" stroke-width="6.5" stroke-linecap="round"/>
<line x1="2257.2" y1="214.4" x2="2300" y2="252" stroke="#000" stroke-width="6.5" stroke-linecap="round"/>
<line x1="2257.2" y1="214.4" x2="2302.7" y2="161" stroke="#000" stroke-width="6.5" stroke-linecap="round"/>
<line x1="2315.8" y1="729.7" x2="2376" y2="747.5" stroke="#000" stroke-width="6.5" stroke-linecap="round"/>
<line x1="2154.2" y1="250.9" x2="2218.4" y2="187.5" stroke="#000" stroke-width="6.5" stroke-linecap="round"/>
<line x1="2322.5" y1="507.5" x2="2333.2" y2="387.9" stroke="#000" stroke-width="6.5" stroke-linecap="round"/>
<line x1="2246" y1="316.6" x2="2300" y2="252" stroke="#000" stroke-width="6.5" stroke-linecap="round"/>
<line x1="2140.4" y1="351" x2="2203.7" y2="285" stroke="#000" stroke-width="6.5" stroke-linecap="round"/>
<line x1="1996.6" y1="557.4" x2="2140.4" y2="351" stroke="#000" stroke-width="6.5" stroke-linecap="round"/>
<line x1="2314.6" y1="640.6" x2="2322.5" y2="507.5" stroke="#000" stroke-width="6.5" stroke-linecap="round"/>
<line x1="2314.6" y1="640.6" x2="2389.9" y2="541" stroke="#000" stroke-width="6.5" stroke-linecap="round"/>
<line x1="2037.4" y1="664.3" x2="2104.7" y2="684.1" stroke="#000" stroke-width="6.5" stroke-linecap="round"/>
<line x1="2005.7" y1="971.2" x2="2011.7" y2="860.4" stroke="#000" stroke-width="6.5" stroke-linecap="round"/>
<line x1="2104.7" y1="684.1" x2="2178" y2="700" stroke="#000" stroke-width="6.5" stroke-linecap="round"/>
<line x1="2104.7" y1="684.1" x2="2189.9" y2="593" stroke="#000" stroke-width="6.5" stroke-linecap="round"/>
<line x1="2314.6" y1="826.7" x2="2315.8" y2="729.7" stroke="#000" stroke-width="6.5" stroke-linecap="round"/>
<line x1="2344.3" y1="202.6" x2="2389.9" y2="239" stroke="#000" stroke-width="6.5" stroke-linecap="round"/>
<line x1="2177.2" y1="391.8" x2="2203.7" y2="285" stroke="#000" stroke-width="6.5" stroke-linecap="round"/>
<line x1="2227.5" y1="430.3" x2="2289.7" y2="355" stroke="#000" stroke-width="6.5" stroke-linecap="round"/>
<line x1="2350" y1="289.7" x2="2387.9" y2="323.3" stroke="#000" stroke-width="6.5" stroke-linecap="round"/>
<line x1="2253.2" y1="616.8" x2="2322.5" y2="507.5" stroke="#000" stroke-width="6.5" stroke-linecap="round"/>
<line x1="2300" y1="252" x2="2350" y2="289.7" stroke="#000" stroke-width="6.5" stroke-linecap="round"/>
<line x1="2314.6" y1="826.7" x2="2385.9" y2="838.6" stroke="#000" stroke-width="6.5" stroke-linecap="round"/>
<line x1="2257.2" y1="214.4" x2="2271" y2="130.5" stroke="#000" stroke-width="6.5" stroke-linecap="round"/>
<line x1="2344.3" y1="202.6" x2="2350" y2="289.7" stroke="#000" stroke-width="6.5" stroke-linecap="round"/>
<line x1="2140.4" y1="351" x2="2154.2" y2="250.9" stroke="#000" stroke-width="6.5" stroke-linecap="round"/>
<line x1="2384.7" y1="429" x2="2387.9" y2="323.3" stroke="#000" stroke-width="6.5" stroke-linecap="round"/>
<line x1="2318.6" y1="909.9" x2="2385.9" y2="838.6" stroke="#000" stroke-width="6.5" stroke-linecap="round"/>
<line x1="2315.8" y1="729.7" x2="2376" y2="678.2" stroke="#000" stroke-width="6.5" stroke-linecap="round"/>
<line x1="2098.8" y1="977.2" x2="2100.8" y2="878.2" stroke="#000" stroke-width="6.5" stroke-linecap="round"/>
<line x1="2384.7" y1="429" x2="2389.9" y2="541" stroke="#000" stroke-width="6.5" stroke-linecap="round"/>
<line x1="2218.4" y1="187.5" x2="2257.2" y2="214.4" stroke="#000" stroke-width="6.5" stroke-linecap="round"/>
<line x1="2289.7" y1="355" x2="2300" y2="252" stroke="#000" stroke-width="6.5" stroke-linecap="round"/>
<line x1="2178" y1="700" x2="2253.2" y2="616.8" stroke="#000" stroke-width="6.5" stroke-linecap="round"/>
<line x1="1996.6" y1="557.4" x2="2099.6" y2="315.4" stroke="#000" stroke-width="6.5" stroke-linecap="round"/>
<line x1="2203.7" y1="285" x2="2246" y2="316.6" stroke="#000" stroke-width="6.5" stroke-linecap="round"/>
<line x1="2120.6" y1="577.2" x2="2227.5" y2="430.3" stroke="#000" stroke-width="6.5" stroke-linecap="round"/>
<line x1="2253.2" y1="616.8" x2="2272.2" y2="467.9" stroke="#000" stroke-width="6.5" stroke-linecap="round"/>
<line x1="2387.9" y1="323.3" x2="2389.9" y2="239" stroke="#000" stroke-width="6.5" stroke-linecap="round"/>
<line x1="2302.7" y1="161" x2="2344.3" y2="202.6" stroke="#000" stroke-width="6.5" stroke-linecap="round"/>
<line x1="2177.2" y1="391.8" x2="2227.5" y2="430.3" stroke="#000" stroke-width="6.5" stroke-linecap="round"/>
<line x1="2251.3" y1="709.9" x2="2314.6" y2="640.6" stroke="#000" stroke-width="6.5" stroke-linecap="round"/>
<line x1="2289.7" y1="355" x2="2350" y2="289.7" stroke="#000" stroke-width="6.5" stroke-linecap="round"/>
<line x1="2057.2" y1="563.4" x2="2177.2" y2="391.8" stroke="#000" stroke-width="6.5" stroke-linecap="round"/>
<line x1="2189.9" y1="593" x2="2272.2" y2="467.9" stroke="#000" stroke-width="6.5" stroke-linecap="round"/>
<line x1="2314.6" y1="640.6" x2="2376" y2="678.2" stroke="#000" stroke-width="6.5" stroke-linecap="round"/>
<line x1="2019.6" y1="759.4" x2="2100.8" y2="777.2" stroke="#000" stroke-width="6.5" stroke-linecap="round"/>
<line x1="2253.2" y1="616.8" x2="2314.6" y2="640.6" stroke="#000" stroke-width="6.5" stroke-linecap="round"/>
<line x1="2251.3" y1="810.9" x2="2315.8" y2="729.7" stroke="#000" stroke-width="6.5" stroke-linecap="round"/>
<line x1="2178" y1="700" x2="2251.3" y2="709.9" stroke="#000" stroke-width="6.5" stroke-linecap="round"/>
<line x1="2314.6" y1="826.7" x2="2376" y2="747.5" stroke="#000" stroke-width="6.5" stroke-linecap="round"/>
<line x1="2251.3" y1="900" x2="2318.6" y2="909.9" stroke="#000" stroke-width="6.5" stroke-linecap="round"/>
<line x1="2177.2" y1="391.8" x2="2246" y2="316.6" stroke="#000" stroke-width="6.5" stroke-linecap="round"/>
<line x1="2100.8" y1="777.2" x2="2104.7" y2="684.1" stroke="#000" stroke-width="6.5" stroke-linecap="round"/>
<line x1="2376" y1="678.2" x2="2376" y2="747.5" stroke="#000" stroke-width="6.5" stroke-linecap="round"/>
<line x1="2120.6" y1="577.2" x2="2189.9" y2="593" stroke="#000" stroke-width="6.5" stroke-linecap="round"/>
<line x1="2246" y1="316.6" x2="2289.7" y2="355" stroke="#000" stroke-width="6.5" stroke-linecap="round"/>
<line x1="2011.7" y1="860.4" x2="2019.6" y2="759.4" stroke="#000" stroke-width="6.5" stroke-linecap="round"/>
<line x1="2011.7" y1="860.4" x2="2100.8" y2="777.2" stroke="#000" stroke-width="6.5" stroke-linecap="round"/>
<line x1="2176.8" y1="791" x2="2251.3" y2="810.9" stroke="#000" stroke-width="6.5" stroke-linecap="round"/>
<line x1="2154.2" y1="250.9" x2="2203.7" y2="285" stroke="#000" stroke-width="6.5" stroke-linecap="round"/>
<line x1="2376" y1="747.5" x2="2385.9" y2="838.6" stroke="#000" stroke-width="6.5" stroke-linecap="round"/>
<line x1="2099.6" y1="315.4" x2="2154.2" y2="250.9" stroke="#000" stroke-width="6.5" stroke-linecap="round"/>
<line x1="2099.6" y1="315.4" x2="2140.4" y2="351" stroke="#000" stroke-width="6.5" stroke-linecap="round"/>
<line x1="2251.3" y1="810.9" x2="2314.6" y2="826.7" stroke="#000" stroke-width="6.5" stroke-linecap="round"/>
<line x1="2300" y1="252" x2="2302.7" y2="161" stroke="#000" stroke-width="6.5" stroke-linecap="round"/>
<line x1="2333.2" y1="387.9" x2="2350" y2="289.7" stroke="#000" stroke-width="6.5" stroke-linecap="round"/>
<line x1="2098.8" y1="977.2" x2="2176" y2="890" stroke="#000" stroke-width="6.5" stroke-linecap="round"/>
<line x1="2376" y1="678.2" x2="2389.9" y2="541" stroke="#000" stroke-width="6.5" stroke-linecap="round"/>
<line x1="2176.8" y1="791" x2="2178" y2="700" stroke="#000" stroke-width="6.5" stroke-linecap="round"/>
<line x1="2019.6" y1="759.4" x2="2037.4" y2="664.3" stroke="#000" stroke-width="6.5" stroke-linecap="round"/>
<line x1="2314.6" y1="826.7" x2="2318.6" y2="909.9" stroke="#000" stroke-width="6.5" stroke-linecap="round"/>
<line x1="2246" y1="316.6" x2="2257.2" y2="214.4" stroke="#000" stroke-width="6.5" stroke-linecap="round"/>
<line x1="2314.6" y1="640.6" x2="2315.8" y2="729.7" stroke="#000" stroke-width="6.5" stroke-linecap="round"/>
<line x1="2227.5" y1="430.3" x2="2246" y2="316.6" stroke="#000" stroke-width="6.5" stroke-linecap="round"/>
<line x1="2005.7" y1="971.2" x2="2098.8" y2="977.2" stroke="#000" stroke-width="6.5" stroke-linecap="round"/>
<line x1="2272.2" y1="467.9" x2="2322.5" y2="507.5" stroke="#000" stroke-width="6.5" stroke-linecap="round"/>
<line x1="2333.2" y1="387.9" x2="2387.9" y2="323.3" stroke="#000" stroke-width="6.5" stroke-linecap="round"/>
<line x1="2057.2" y1="563.4" x2="2120.6" y2="577.2" stroke="#000" stroke-width="6.5" stroke-linecap="round"/>
<line x1="2100.8" y1="878.2" x2="2176" y2="890" stroke="#000" stroke-width="6.5" stroke-linecap="round"/>
<line x1="2100.8" y1="777.2" x2="2100.8" y2="878.2" stroke="#000" stroke-width="6.5" stroke-linecap="round"/>
<line x1="2350" y1="289.7" x2="2389.9" y2="239" stroke="#000" stroke-width="6.5" stroke-linecap="round"/>
<line x1="2251.3" y1="709.9" x2="2315.8" y2="729.7" stroke="#000" stroke-width="6.5" stroke-linecap="round"/>
<line x1="2057.2" y1="563.4" x2="2140.4" y2="351" stroke="#000" stroke-width="6.5" stroke-linecap="round"/>
<line x1="2037.4" y1="664.3" x2="2120.6" y2="577.2" stroke="#000" stroke-width="6.5" stroke-linecap="round"/>
<line x1="2322.5" y1="507.5" x2="2389.9" y2="541" stroke="#000" stroke-width="6.5" stroke-linecap="round"/>
<line x1="2251.3" y1="709.9" x2="2251.3" y2="810.9" stroke="#000" stroke-width="6.5" stroke-linecap="round"/>
<line x1="2271" y1="130.5" x2="2302.7" y2="161" stroke="#000" stroke-width="6.5" stroke-linecap="round"/>
<line x1="2176" y1="890" x2="2176.8" y2="791" stroke="#000" stroke-width="6.5" stroke-linecap="round"/>
<line x1="2300" y1="252" x2="2344.3" y2="202.6" stroke="#000" stroke-width="6.5" stroke-linecap="round"/>
<line x1="2019.6" y1="759.4" x2="2104.7" y2="684.1" stroke="#000" stroke-width="6.5" stroke-linecap="round"/>
<line x1="2251.3" y1="900" x2="2314.6" y2="826.7" stroke="#000" stroke-width="6.5" stroke-linecap="round"/>
<line x1="2289.7" y1="355" x2="2333.2" y2="387.9" stroke="#000" stroke-width="6.5" stroke-linecap="round"/>
<line x1="2100.8" y1="878.2" x2="2176.8" y2="791" stroke="#000" stroke-width="6.5" stroke-linecap="round"/>
<line x1="2272.2" y1="467.9" x2="2289.7" y2="355" stroke="#000" stroke-width="6.5" stroke-linecap="round"/>
<line x1="2189.9" y1="593" x2="2227.5" y2="430.3" stroke="#000" stroke-width="6.5" stroke-linecap="round"/>
<line x1="2251.3" y1="810.9" x2="2251.3" y2="900" stroke="#000" stroke-width="6.5" stroke-linecap="round"/>
<line x1="2005.7" y1="971.2" x2="2100.8" y2="878.2" stroke="#000" stroke-width="6.5" stroke-linecap="round"/>
<line x1="2218.4" y1="187.5" x2="2271" y2="130.5" stroke="#000" stroke-width="6.5" stroke-linecap="round"/>
<line x1="2100.8" y1="777.2" x2="2176.8" y2="791" stroke="#000" stroke-width="6.5" stroke-linecap="round"/>
<line x1="2333.2" y1="387.9" x2="2384.7" y2="429" stroke="#000" stroke-width="6.5" stroke-linecap="round"/>
<line x1="2227.5" y1="430.3" x2="2272.2" y2="467.9" stroke="#000" stroke-width="6.5" stroke-linecap="round"/>
<circle cx="2344.3" cy="202.6" r="7.5" fill="#000"/>
<circle cx="2315.8" cy="729.7" r="7.5" fill="#000"/>
<circle cx="2302.7" cy="161" r="7.5" fill="#000"/>
<circle cx="2037.4" cy="664.3" r="7.5" fill="#000"/>
<circle cx="2100.8" cy="777.2" r="7.5" fill="#000"/>
<circle cx="2005.7" cy="971.2" r="7.5" fill="#000"/>
<circle cx="2227.5" cy="430.3" r="7.5" fill="#000"/>
<circle cx="2218.4" cy="187.5" r="7.5" fill="#000"/>
<circle cx="2387.9" cy="323.3" r="7.5" fill="#000"/>
<circle cx="2384.7" cy="429" r="7.5" fill="#000"/>
<circle cx="2376" cy="678.2" r="7.5" fill="#000"/>
<circle cx="2389.9" cy="239" r="7.5" fill="#000"/>
<circle cx="2300" cy="252" r="7.5" fill="#000"/>
<circle cx="2100.8" cy="878.2" r="7.5" fill="#000"/>
<circle cx="2333.2" cy="387.9" r="7.5" fill="#000"/>
<circle cx="2257.2" cy="214.4" r="7.5" fill="#000"/>
<circle cx="2389.9" cy="541" r="7.5" fill="#000"/>
<circle cx="1996.6" cy="557.4" r="7.5" fill="#000"/>
<circle cx="2177.2" cy="391.8" r="7.5" fill="#000"/>
<circle cx="2322.5" cy="507.5" r="7.5" fill="#000"/>
<circle cx="2253.2" cy="616.8" r="7.5" fill="#000"/>
<circle cx="2271" cy="130.5" r="7.5" fill="#000"/>
<circle cx="2154.2" cy="250.9" r="7.5" fill="#000"/>
<circle cx="2019.6" cy="759.4" r="7.5" fill="#000"/>
<circle cx="2376" cy="747.5" r="7.5" fill="#000"/>
<circle cx="2120.6" cy="577.2" r="7.5" fill="#000"/>
<circle cx="2251.3" cy="900" r="7.5" fill="#000"/>
<circle cx="2203.7" cy="285" r="7.5" fill="#000"/>
<circle cx="2289.7" cy="355" r="7.5" fill="#000"/>
<circle cx="2314.6" cy="640.6" r="7.5" fill="#000"/>
<circle cx="2176" cy="890" r="7.5" fill="#000"/>
<circle cx="2098.8" cy="977.2" r="7.5" fill="#000"/>
<circle cx="2314.6" cy="826.7" r="7.5" fill="#000"/>
<circle cx="2011.7" cy="860.4" r="7.5" fill="#000"/>
<circle cx="2318.6" cy="909.9" r="7.5" fill="#000"/>
<circle cx="2099.6" cy="315.4" r="7.5" fill="#000"/>
<circle cx="2385.9" cy="838.6" r="7.5" fill="#000"/>
<circle cx="2272.2" cy="467.9" r="7.5" fill="#000"/>
<circle cx="2104.7" cy="684.1" r="7.5" fill="#000"/>
<circle cx="2350" cy="289.7" r="7.5" fill="#000"/>
<circle cx="2246" cy="316.6" r="7.5" fill="#000"/>
<circle cx="2178" cy="700" r="7.5" fill="#000"/>
<circle cx="2251.3" cy="810.9" r="7.5" fill="#000"/>
<circle cx="2176.8" cy="791" r="7.5" fill="#000"/>
<circle cx="2140.4" cy="351" r="7.5" fill="#000"/>
<circle cx="2189.9" cy="593" r="7.5" fill="#000"/>
<circle cx="2251.3" cy="709.9" r="7.5" fill="#000"/>
<circle cx="2057.2" cy="563.4" r="7.5" fill="#000"/>
<rect x="1990.8" y="77.6" width="406.7" height="906.3" fill="none" stroke="#1a1a1a" stroke-width="2"/>
<clipPath id="cph"><rect x="1991" y="1037.2" width="406.8" height="403.3"/></clipPath>
<g clip-path="url(#cph)">
<polygon points="1951.6,1073.8 2106.6,978.8 2071.2,1110.6" fill="#9c1f32" stroke="#9c1f32" stroke-width="1"/>
<polygon points="2106.6,978.8 2207,1016.8 2071.2,1110.6" fill="#c03848" stroke="#c03848" stroke-width="1"/>
<polygon points="2071.2,1110.6 2207,1016.8 2171.8,1161.6" fill="#b02238" stroke="#b02238" stroke-width="1"/>
<polygon points="2207,1016.8 2171.8,1161.6 2306.7,1094.1" fill="#a81e35" stroke="#a81e35" stroke-width="1"/>
<polygon points="2207,1016.8 2311.3,980.7 2306.7,1094.1" fill="#d45555" stroke="#d45555" stroke-width="1"/>
<polygon points="2311.3,980.7 2422.4,1018.5 2306.7,1094.1" fill="#e07060" stroke="#e07060" stroke-width="1"/>
<polygon points="2306.7,1094.1 2422.4,1018.5 2431.5,1166.2" fill="#c84050" stroke="#c84050" stroke-width="1"/>
<polygon points="1951.6,1073.8 2071.2,1110.6 1948.8,1165.8" fill="#f09a85" stroke="#f09a85" stroke-width="1"/>
<polygon points="1948.8,1165.8 2071.2,1110.6 2075.4,1232.3" fill="#d05050" stroke="#d05050" stroke-width="1"/>
<polygon points="2071.2,1110.6 2171.8,1161.6 2075.4,1232.3" fill="#e07868" stroke="#e07868" stroke-width="1"/>
<polygon points="2171.8,1161.6 2306.7,1094.1 2302.4,1236.5" fill="#651a28" stroke="#651a28" stroke-width="1"/>
<polygon points="2306.7,1094.1 2431.5,1166.2 2302.4,1236.5" fill="#a02030" stroke="#a02030" stroke-width="1"/>
<polygon points="2171.8,1161.6 2075.4,1232.3 2192.2,1299" fill="#c84850" stroke="#c84850" stroke-width="1"/>
<polygon points="2171.8,1161.6 2302.4,1236.5 2192.2,1299" fill="#b02238" stroke="#b02238" stroke-width="1"/>
<polygon points="1948.8,1165.8 2075.4,1232.3 1972,1314.8" fill="#b02238" stroke="#b02238" stroke-width="1"/>
<polygon points="1972,1314.8 2075.4,1232.3 2073.1,1374.7" fill="#d45555" stroke="#d45555" stroke-width="1"/>
<polygon points="2075.4,1232.3 2192.2,1299 2073.1,1374.7" fill="#b02238" stroke="#b02238" stroke-width="1"/>
<polygon points="2073.1,1374.7 2192.2,1299 2205.4,1436.2" fill="#9a1e30" stroke="#9a1e30" stroke-width="1"/>
<polygon points="2192.2,1299 2329.7,1350.7 2205.4,1436.2" fill="#7a1a28" stroke="#7a1a28" stroke-width="1"/>
<polygon points="2192.2,1299 2302.4,1236.5 2329.7,1350.7" fill="#d05050" stroke="#d05050" stroke-width="1"/>
<polygon points="2302.4,1236.5 2429.7,1287.9 2329.7,1350.7" fill="#e07060" stroke="#e07060" stroke-width="1"/>
<polygon points="2302.4,1236.5 2431.5,1166.2 2429.7,1287.9" fill="#c84050" stroke="#c84050" stroke-width="1"/>
<line x1="2071.2" y1="1110.6" x2="2171.8" y2="1161.6" stroke="#000" stroke-width="6.8" stroke-linecap="round"/>
<line x1="2071.2" y1="1110.6" x2="2075.4" y2="1232.3" stroke="#000" stroke-width="6.8" stroke-linecap="round"/>
<line x1="2071.2" y1="1110.6" x2="2106.6" y2="978.8" stroke="#000" stroke-width="6.8" stroke-linecap="round"/>
<line x1="2071.2" y1="1110.6" x2="1951.6" y2="1073.8" stroke="#000" stroke-width="6.8" stroke-linecap="round"/>
<line x1="2071.2" y1="1110.6" x2="1948.8" y2="1165.8" stroke="#000" stroke-width="6.8" stroke-linecap="round"/>
<line x1="2071.2" y1="1110.6" x2="2207" y2="1016.8" stroke="#000" stroke-width="6.8" stroke-linecap="round"/>
<line x1="2171.8" y1="1161.6" x2="2306.7" y2="1094.1" stroke="#000" stroke-width="6.8" stroke-linecap="round"/>
<line x1="2171.8" y1="1161.6" x2="2075.4" y2="1232.3" stroke="#000" stroke-width="6.8" stroke-linecap="round"/>
<line x1="2171.8" y1="1161.6" x2="2302.4" y2="1236.5" stroke="#000" stroke-width="6.8" stroke-linecap="round"/>
<line x1="2171.8" y1="1161.6" x2="2192.2" y2="1299" stroke="#000" stroke-width="6.8" stroke-linecap="round"/>
<line x1="2171.8" y1="1161.6" x2="2207" y2="1016.8" stroke="#000" stroke-width="6.8" stroke-linecap="round"/>
<line x1="2306.7" y1="1094.1" x2="2302.4" y2="1236.5" stroke="#000" stroke-width="6.8" stroke-linecap="round"/>
<line x1="2306.7" y1="1094.1" x2="2207" y2="1016.8" stroke="#000" stroke-width="6.8" stroke-linecap="round"/>
<line x1="2306.7" y1="1094.1" x2="2311.3" y2="980.7" stroke="#000" stroke-width="6.8" stroke-linecap="round"/>
<line x1="2306.7" y1="1094.1" x2="2422.4" y2="1018.5" stroke="#000" stroke-width="6.8" stroke-linecap="round"/>
<line x1="2306.7" y1="1094.1" x2="2431.5" y2="1166.2" stroke="#000" stroke-width="6.8" stroke-linecap="round"/>
<line x1="2075.4" y1="1232.3" x2="2192.2" y2="1299" stroke="#000" stroke-width="6.8" stroke-linecap="round"/>
<line x1="2075.4" y1="1232.3" x2="2073.1" y2="1374.7" stroke="#000" stroke-width="6.8" stroke-linecap="round"/>
<line x1="2075.4" y1="1232.3" x2="1948.8" y2="1165.8" stroke="#000" stroke-width="6.8" stroke-linecap="round"/>
<line x1="2075.4" y1="1232.3" x2="1972" y2="1314.8" stroke="#000" stroke-width="6.8" stroke-linecap="round"/>
<line x1="2302.4" y1="1236.5" x2="2192.2" y2="1299" stroke="#000" stroke-width="6.8" stroke-linecap="round"/>
<line x1="2302.4" y1="1236.5" x2="2329.7" y2="1350.7" stroke="#000" stroke-width="6.8" stroke-linecap="round"/>
<line x1="2302.4" y1="1236.5" x2="2429.7" y2="1287.9" stroke="#000" stroke-width="6.8" stroke-linecap="round"/>
<line x1="2302.4" y1="1236.5" x2="2431.5" y2="1166.2" stroke="#000" stroke-width="6.8" stroke-linecap="round"/>
<line x1="2192.2" y1="1299" x2="2073.1" y2="1374.7" stroke="#000" stroke-width="6.8" stroke-linecap="round"/>
<line x1="2192.2" y1="1299" x2="2329.7" y2="1350.7" stroke="#000" stroke-width="6.8" stroke-linecap="round"/>
<line x1="2192.2" y1="1299" x2="2205.4" y2="1436.2" stroke="#000" stroke-width="6.8" stroke-linecap="round"/>
<line x1="2073.1" y1="1374.7" x2="2205.4" y2="1436.2" stroke="#000" stroke-width="6.8" stroke-linecap="round"/>
<line x1="2073.1" y1="1374.7" x2="1972" y2="1314.8" stroke="#000" stroke-width="6.8" stroke-linecap="round"/>
<line x1="2329.7" y1="1350.7" x2="2205.4" y2="1436.2" stroke="#000" stroke-width="6.8" stroke-linecap="round"/>
<line x1="2329.7" y1="1350.7" x2="2429.7" y2="1287.9" stroke="#000" stroke-width="6.8" stroke-linecap="round"/>
<line x1="2106.6" y1="978.8" x2="1951.6" y2="1073.8" stroke="#000" stroke-width="6.8" stroke-linecap="round"/>
<line x1="2106.6" y1="978.8" x2="2207" y2="1016.8" stroke="#000" stroke-width="6.8" stroke-linecap="round"/>
<line x1="2429.7" y1="1287.9" x2="2431.5" y2="1166.2" stroke="#000" stroke-width="6.8" stroke-linecap="round"/>
<line x1="1951.6" y1="1073.8" x2="1948.8" y2="1165.8" stroke="#000" stroke-width="6.8" stroke-linecap="round"/>
<line x1="1948.8" y1="1165.8" x2="1972" y2="1314.8" stroke="#000" stroke-width="6.8" stroke-linecap="round"/>
<line x1="2207" y1="1016.8" x2="2311.3" y2="980.7" stroke="#000" stroke-width="6.8" stroke-linecap="round"/>
<line x1="2311.3" y1="980.7" x2="2422.4" y2="1018.5" stroke="#000" stroke-width="6.8" stroke-linecap="round"/>
<line x1="2422.4" y1="1018.5" x2="2431.5" y2="1166.2" stroke="#000" stroke-width="6.8" stroke-linecap="round"/>
<circle cx="2071.2" cy="1110.6" r="7.2" fill="#000"/>
<circle cx="2171.8" cy="1161.6" r="7.2" fill="#000"/>
<circle cx="2306.7" cy="1094.1" r="7.2" fill="#000"/>
<circle cx="2075.4" cy="1232.3" r="7.2" fill="#000"/>
<circle cx="2302.4" cy="1236.5" r="7.2" fill="#000"/>
<circle cx="2192.2" cy="1299" r="7.2" fill="#000"/>
<circle cx="2073.1" cy="1374.7" r="7.2" fill="#000"/>
<circle cx="2329.7" cy="1350.7" r="7.2" fill="#000"/>
<circle cx="2205.4" cy="1436.2" r="7.2" fill="#000"/>
</g>
<rect x="1991" y="1037.2" width="406.8" height="403.3" fill="none" stroke="#1a1a1a" stroke-width="2"/>
<linearGradient id="cbp" x1="0" x2="1" y1="0" y2="0"><stop offset="0.0" stop-color="#2f3482"/><stop offset="0.08" stop-color="#3d2f90"/><stop offset="0.17" stop-color="#4e2d98"/><stop offset="0.25" stop-color="#62309e"/><stop offset="0.33" stop-color="#782a9e"/><stop offset="0.42" stop-color="#9a259c"/><stop offset="0.5" stop-color="#b42c88"/><stop offset="0.58" stop-color="#c9407a"/><stop offset="0.67" stop-color="#dc5562"/><stop offset="0.75" stop-color="#ea6850"/><stop offset="0.83" stop-color="#f38840"/><stop offset="0.92" stop-color="#f5ab32"/><stop offset="1.0" stop-color="#e2e83a"/></linearGradient>
<linearGradient id="cbv" x1="0" x2="1" y1="0" y2="0"><stop offset="0.0" stop-color="#4a2f6c"/><stop offset="0.1" stop-color="#4a3a88"/><stop offset="0.2" stop-color="#44508e"/><stop offset="0.32" stop-color="#3c6e90"/><stop offset="0.45" stop-color="#3c8a8a"/><stop offset="0.57" stop-color="#40a080"/><stop offset="0.7" stop-color="#48b878"/><stop offset="0.8" stop-color="#58c868"/><stop offset="0.88" stop-color="#80d048"/><stop offset="0.95" stop-color="#a0d830"/><stop offset="1.0" stop-color="#c8e060"/></linearGradient>
<linearGradient id="cbr" x1="0" x2="1" y1="0" y2="0">
<stop offset="0" stop-color="#3058a8"/><stop offset="0.1" stop-color="#4a88c0"/><stop offset="0.17" stop-color="#80b8d8"/>
<stop offset="0.22" stop-color="#b8d8e6"/><stop offset="0.27" stop-color="#eeeef0"/><stop offset="0.3" stop-color="#f6e8e4"/>
<stop offset="0.36" stop-color="#f8d0c0"/><stop offset="0.42" stop-color="#f5b8a0"/><stop offset="0.5" stop-color="#f09078"/>
<stop offset="0.58" stop-color="#e87868"/><stop offset="0.65" stop-color="#d85a58"/><stop offset="0.72" stop-color="#c84048"/>
<stop offset="0.8" stop-color="#b02038"/><stop offset="0.88" stop-color="#901828"/><stop offset="1" stop-color="#5a1020"/></linearGradient>
<rect x="1330.5" y="46" width="121.5" height="22.2" fill="url(#cbp)" stroke="#111" stroke-width="2"/>
<line x1="1331.5" y1="34.7" x2="1331.5" y2="46" stroke="#000" stroke-width="2" />
<line x1="1451" y1="34.7" x2="1451" y2="46" stroke="#000" stroke-width="2" />
<text x="1330" y="25.6" font-size="26" text-anchor="middle">1.45</text>
<text x="1452" y="25.6" font-size="26" text-anchor="middle">1.48</text>
<text x="1321" y="64.6" font-size="30" text-anchor="end"><tspan font-style="italic">θ</tspan> (°)</text>
<rect x="1863.9" y="45.7" width="61.3" height="22.3" fill="url(#cbv)" stroke="#111" stroke-width="2"/>
<line x1="1864.9" y1="34.5" x2="1864.9" y2="45.7" stroke="#000" stroke-width="2" />
<line x1="1924.2" y1="34.5" x2="1924.2" y2="45.7" stroke="#000" stroke-width="2" />
<text x="1864" y="24.2" font-size="26" text-anchor="middle">3</text>
<text x="1921.6" y="24.2" font-size="26" text-anchor="middle">17</text>
<text x="1517.5" y="63.4" font-size="30" textLength="342">d<tspan font-style="italic">μ</tspan>/d<tspan font-style="italic">n</tspan> (×10<tspan font-size="19" dy="-12">−10</tspan><tspan dy="12"> meV cm</tspan><tspan font-size="19" dy="-12">2</tspan><tspan dy="12">)</tspan></text>
<rect x="2234.4" y="46.2" width="163.1" height="21.8" fill="url(#cbr)" stroke="#111" stroke-width="2"/>
<line x1="2235.4" y1="35" x2="2235.4" y2="46.2" stroke="#000" stroke-width="2" />
<line x1="2275.2" y1="35" x2="2275.2" y2="46.2" stroke="#000" stroke-width="2" />
<line x1="2316" y1="35" x2="2316" y2="46.2" stroke="#000" stroke-width="2" />
<line x1="2356.7" y1="35" x2="2356.7" y2="46.2" stroke="#000" stroke-width="2" />
<line x1="2396.5" y1="35" x2="2396.5" y2="46.2" stroke="#000" stroke-width="2" />
<text x="2236.4" y="20.4" font-size="23.5" text-anchor="middle">0</text>
<text x="2274" y="20.4" font-size="23.5" text-anchor="middle">1</text>
<text x="2316" y="20.4" font-size="23.5" text-anchor="middle">2</text>
<text x="2358" y="20.4" font-size="23.5" text-anchor="middle">3</text>
<text x="2398" y="20.4" font-size="23.5" text-anchor="middle">4</text>
<text x="2089.5" y="59.2" font-size="30" textLength="111"><tspan font-style="italic">A</tspan><tspan font-size="21" dy="8">exp</tspan><tspan dy="-8">/</tspan><tspan font-style="italic">A</tspan><tspan font-size="21" dy="8">th</tspan></text>
<rect x="2567" y="77" width="559" height="331" fill="none" stroke="#1a1a1a" stroke-width="2.2"/>
<line x1="2567" y1="408" x2="2579" y2="408" stroke="#000" stroke-width="2" />
<text x="2553.5" y="417" font-size="25.5" text-anchor="end" textLength="18" lengthAdjust="spacingAndGlyphs">0</text>
<line x1="2567" y1="325.2" x2="2579" y2="325.2" stroke="#000" stroke-width="2" />
<text x="2553.5" y="334.2" font-size="25.5" text-anchor="end" textLength="48" lengthAdjust="spacingAndGlyphs">100</text>
<line x1="2567" y1="242.5" x2="2579" y2="242.5" stroke="#000" stroke-width="2" />
<text x="2553.5" y="251.5" font-size="25.5" text-anchor="end" textLength="51" lengthAdjust="spacingAndGlyphs">200</text>
<line x1="2567" y1="159.8" x2="2579" y2="159.8" stroke="#000" stroke-width="2" />
<text x="2553.5" y="168.8" font-size="25.5" text-anchor="end" textLength="51" lengthAdjust="spacingAndGlyphs">300</text>
<line x1="2567" y1="77" x2="2579" y2="77" stroke="#000" stroke-width="2" />
<text x="2553.5" y="86" font-size="25.5" text-anchor="end" textLength="53" lengthAdjust="spacingAndGlyphs">400</text>
<line x1="2592.4" y1="408" x2="2592.4" y2="396" stroke="#000" stroke-width="2" />
<text x="2592.4" y="443.5" font-size="25.5" text-anchor="middle" textLength="18" lengthAdjust="spacingAndGlyphs">0</text>
<line x1="2770.3" y1="408" x2="2770.3" y2="396" stroke="#000" stroke-width="2" />
<text x="2770.3" y="443.5" font-size="25.5" text-anchor="middle" textLength="35.5" lengthAdjust="spacingAndGlyphs">0.1</text>
<line x1="2948.2" y1="408" x2="2948.2" y2="396" stroke="#000" stroke-width="2" />
<text x="2948.2" y="443.5" font-size="25.5" text-anchor="middle" textLength="40" lengthAdjust="spacingAndGlyphs">0.2</text>
<line x1="3126.1" y1="408" x2="3126.1" y2="396" stroke="#000" stroke-width="2" />
<text x="3126.1" y="443.5" font-size="25.5" text-anchor="middle" textLength="40" lengthAdjust="spacingAndGlyphs">0.3</text>
<path d="M2589.5,89.8 C2591.2,90.1 2596.4,89.8 2600,91.5 C2603.6,93.2 2606.6,95.1 2611,100 C2615.4,104.9 2621.6,113 2626.6,121 C2631.6,129 2636.2,138.8 2641,148 C2645.8,157.2 2650.4,166.7 2655.4,176 C2660.4,185.3 2665.5,194.9 2671,204 C2676.5,213.1 2682.2,222.2 2688.4,230.7 C2694.6,239.2 2701.1,247.6 2708,255 C2714.9,262.4 2722.6,269.2 2729.6,275 C2736.6,280.8 2743.1,285.4 2750,290 C2756.9,294.6 2760.5,297.4 2770.8,302.5 C2781.1,307.6 2798.3,315.4 2812,320.5 C2825.7,325.6 2839.3,329.3 2853,333 C2866.7,336.7 2880.7,339.8 2894.4,342.5 C2908.1,345.2 2921.3,347.4 2935,349.5 C2948.7,351.6 2960.1,353.3 2976.8,355.3 C2993.5,357.3 3015.8,359.7 3035,361.5 C3054.2,363.3 3082.5,365.2 3092,366" fill="none" stroke="#000" stroke-width="6.5"/>
<text x="2972.5" y="138" font-size="24.5" textLength="101" lengthAdjust="spacingAndGlyphs"><tspan font-style="italic">θ</tspan> = 1.45°</text>
<text x="2845" y="492" font-size="30" text-anchor="middle">δ<tspan font-style="italic">θ</tspan> (°)</text>
<text transform="translate(2462.5,244) rotate(-90)" font-size="32.5" text-anchor="middle"><tspan font-style="italic">λ</tspan><tspan font-size="21" dy="7">SM</tspan><tspan dy="-7"> (nm)</tspan></text>
<rect x="2845" y="531" width="63" height="454" fill="#f4909f"/>
<rect x="2567" y="531" width="559" height="454" fill="none" stroke="#1a1a1a" stroke-width="2.2"/>
<line x1="2567" y1="985" x2="2579" y2="985" stroke="#000" stroke-width="2" />
<text x="2553.5" y="994" font-size="25.5" text-anchor="end" textLength="18" lengthAdjust="spacingAndGlyphs">0</text>
<line x1="2567" y1="871.5" x2="2579" y2="871.5" stroke="#000" stroke-width="2" />
<text x="2553.5" y="880.5" font-size="25.5" text-anchor="end" textLength="53" lengthAdjust="spacingAndGlyphs">200</text>
<line x1="2567" y1="758" x2="2579" y2="758" stroke="#000" stroke-width="2" />
<text x="2553.5" y="767" font-size="25.5" text-anchor="end" textLength="53" lengthAdjust="spacingAndGlyphs">400</text>
<line x1="2567" y1="644.5" x2="2579" y2="644.5" stroke="#000" stroke-width="2" />
<text x="2553.5" y="653.5" font-size="25.5" text-anchor="end" textLength="53" lengthAdjust="spacingAndGlyphs">600</text>
<line x1="2567" y1="531" x2="2579" y2="531" stroke="#000" stroke-width="2" />
<text x="2553.5" y="540" font-size="25.5" text-anchor="end" textLength="53" lengthAdjust="spacingAndGlyphs">800</text>
<line x1="2567" y1="985" x2="2567" y2="973" stroke="#000" stroke-width="2" />
<text x="2567" y="1019.5" font-size="25.5" text-anchor="middle" textLength="57" lengthAdjust="spacingAndGlyphs">−0.3</text>
<line x1="2660.2" y1="985" x2="2660.2" y2="973" stroke="#000" stroke-width="2" />
<text x="2660.2" y="1019.5" font-size="25.5" text-anchor="middle" textLength="55" lengthAdjust="spacingAndGlyphs">−0.2</text>
<line x1="2753.3" y1="985" x2="2753.3" y2="973" stroke="#000" stroke-width="2" />
<text x="2753.3" y="1019.5" font-size="25.5" text-anchor="middle" textLength="52.5" lengthAdjust="spacingAndGlyphs">−0.1</text>
<line x1="2846.5" y1="985" x2="2846.5" y2="973" stroke="#000" stroke-width="2" />
<text x="2846.5" y="1019.5" font-size="25.5" text-anchor="middle" textLength="18" lengthAdjust="spacingAndGlyphs">0</text>
<line x1="2939.7" y1="985" x2="2939.7" y2="973" stroke="#000" stroke-width="2" />
<text x="2939.7" y="1019.5" font-size="25.5" text-anchor="middle" textLength="37" lengthAdjust="spacingAndGlyphs">0.1</text>
<line x1="3032.8" y1="985" x2="3032.8" y2="973" stroke="#000" stroke-width="2" />
<text x="3032.8" y="1019.5" font-size="25.5" text-anchor="middle" textLength="42" lengthAdjust="spacingAndGlyphs">0.2</text>
<line x1="3126" y1="985" x2="3126" y2="973" stroke="#000" stroke-width="2" />
<text x="3126" y="1019.5" font-size="25.5" text-anchor="middle" textLength="43" lengthAdjust="spacingAndGlyphs">0.3</text>
<line x1="2567" y1="766.6" x2="3126" y2="766.6" stroke="#000" stroke-width="2.4" stroke-dasharray="9,6"/>
<clipPath id="cpj"><rect x="2567" y="531" width="559" height="454"/></clipPath>
<g clip-path="url(#cpj)"><path d="M2567,962.1 C2569.8,961.9 2578.1,961.2 2583.6,960.8 C2589.2,960.3 2594.7,959.8 2600.3,959.3 C2605.8,958.8 2611.4,958.3 2616.9,957.7 C2622.4,957.1 2628,956.5 2633.5,955.8 C2639.1,955.1 2644.6,954.4 2650.2,953.6 C2655.7,952.9 2661.3,952.1 2666.8,951.2 C2672.4,950.2 2677.9,949.3 2683.5,948.2 C2689,947.2 2694.5,946 2700.1,944.8 C2705.6,943.5 2711.2,942.1 2716.7,940.6 C2722.3,939 2727.8,937.3 2733.4,935.4 C2738.9,933.4 2744.5,931.3 2750,928.8 C2755.5,926.3 2761.1,923.6 2766.6,920.3 C2772.2,916.9 2777.7,913.4 2783.3,908.7 C2788.8,904 2797.1,894.8 2799.9,892 C2802.7,889.3 2799.6,892.4 2799.9,892 C2800.2,891.7 2801,890.7 2801.6,890 C2802.1,889.2 2802.7,888.5 2803.3,887.8 C2803.8,887 2804.4,886.3 2804.9,885.5 C2805.5,884.7 2806,883.9 2806.6,883.1 C2807.2,882.3 2807.7,881.4 2808.3,880.6 C2808.8,879.7 2809.4,878.8 2809.9,877.9 C2810.5,877 2811.1,876.1 2811.6,875.2 C2812.2,874.2 2812.7,873.2 2813.3,872.2 C2813.9,871.2 2814.4,870.2 2815,869.2 C2815.5,868.1 2816.1,867 2816.6,865.9 C2817.2,864.8 2817.8,863.6 2818.3,862.5 C2818.9,861.3 2819.4,860.1 2820,858.8 C2820.5,857.6 2821.1,856.3 2821.7,854.9 C2822.2,853.6 2822.8,852.2 2823.3,850.8 C2823.9,849.4 2824.4,847.9 2825,846.4 C2825.6,844.9 2826.1,843.4 2826.7,841.7 C2827.2,840.1 2827.8,838.5 2828.3,836.7 C2828.9,835 2829.5,833.2 2830,831.4 C2830.6,829.5 2831.1,827.6 2831.7,825.6 C2832.2,823.6 2832.8,821.5 2833.4,819.3 C2833.9,817.2 2834.5,814.9 2835,812.6 C2835.6,810.3 2836.1,807.8 2836.7,805.3 C2837.3,802.7 2837.8,800.1 2838.4,797.3 C2838.9,794.5 2839.5,791.7 2840,788.6 C2840.6,785.6 2841.2,782.4 2841.7,779.1 C2842.3,775.7 2842.8,772.3 2843.4,768.6 C2844,764.9 2844.5,761 2845.1,756.9 C2845.6,752.8 2846.2,748.5 2846.7,743.9 C2847.3,739.3 2847.9,734.5 2848.4,729.4 C2849,724.2 2849.5,718.8 2850.1,713 C2850.6,707.1 2851.2,701 2851.8,694.3 C2852.3,687.6 2852.9,680.6 2853.4,672.9 C2854,665.2 2854.5,657.1 2855.1,648.1 C2855.7,639.1 2856.2,629.6 2856.8,619 C2857.3,608.4 2857.9,597.1 2858.4,584.4 C2859,571.6 2859.6,558.1 2860.1,542.5 C2860.7,527 2861.5,499.6 2861.8,491" fill="none" stroke="#000" stroke-width="6.5"/>
<path d="M2890.9,506.6 C2891.2,513.6 2891.9,535.9 2892.4,548.8 C2892.8,561.7 2893.3,573.3 2893.8,584.2 C2894.3,595.1 2894.8,604.9 2895.2,614.2 C2895.7,623.5 2896.2,632 2896.7,640.1 C2897.1,648.2 2897.6,655.6 2898.1,662.6 C2898.6,669.6 2899.1,676.1 2899.5,682.3 C2900,688.5 2900.5,694.3 2901,699.8 C2901.4,705.3 2901.9,710.4 2902.4,715.4 C2902.9,720.3 2903.4,724.9 2903.8,729.3 C2904.3,733.7 2904.8,737.9 2905.3,741.9 C2905.7,745.9 2906.2,749.6 2906.7,753.3 C2907.2,756.9 2907.7,760.3 2908.1,763.7 C2908.6,767 2909.1,770.1 2909.6,773.1 C2910,776.2 2910.5,779.1 2911,781.8 C2911.5,784.6 2912,787.3 2912.4,789.9 C2912.9,792.4 2913.4,794.9 2913.9,797.3 C2914.3,799.7 2914.8,801.9 2915.3,804.1 C2915.8,806.4 2916.3,808.5 2916.7,810.5 C2917.2,812.6 2917.7,814.6 2918.2,816.5 C2918.6,818.4 2919.1,820.2 2919.6,822 C2920.1,823.8 2920.6,825.6 2921,827.2 C2921.5,828.9 2922,830.5 2922.5,832.1 C2922.9,833.7 2923.4,835.2 2923.9,836.7 C2924.4,838.2 2924.9,839.6 2925.3,841 C2925.8,842.4 2926.3,843.8 2926.8,845.1 C2927.2,846.4 2927.7,847.7 2928.2,848.9 C2928.7,850.2 2929.2,851.4 2929.6,852.6 C2930.1,853.8 2930.6,854.9 2931.1,856 C2931.5,857.2 2932,858.3 2932.5,859.3 C2933,860.4 2933.5,861.4 2933.9,862.4 C2934.4,863.5 2934.9,864.4 2935.4,865.4 C2935.8,866.4 2936.3,867.3 2936.8,868.2 C2937.3,869.2 2937.8,870 2938.2,870.9 C2938.7,871.8 2939.4,873.1 2939.7,873.5 C2939.9,873.9 2937.5,870.3 2939.7,873.5 C2941.9,876.7 2948.5,887.3 2953,892.8 C2957.4,898.3 2961.9,902.5 2966.3,906.4 C2970.7,910.4 2975.2,913.5 2979.6,916.5 C2984,919.5 2988.5,922 2992.9,924.3 C2997.3,926.7 3001.8,928.7 3006.2,930.5 C3010.7,932.4 3015.1,934.1 3019.5,935.6 C3024,937.1 3028.4,938.5 3032.8,939.8 C3037.3,941.1 3041.7,942.2 3046.2,943.3 C3050.6,944.4 3055,945.4 3059.5,946.4 C3063.9,947.3 3068.3,948.2 3072.8,949 C3077.2,949.8 3081.6,950.5 3086.1,951.3 C3090.5,952 3095,952.6 3099.4,953.3 C3103.8,953.9 3108.3,954.5 3112.7,955.1 C3117.1,955.6 3123.8,956.4 3126,956.6" fill="none" stroke="#000" stroke-width="6.5"/></g>
<text x="2987.5" y="598.8" font-size="24.5" textLength="101" lengthAdjust="spacingAndGlyphs"><tspan font-style="italic">θ</tspan> = 1.45°</text>
<text x="2841" y="1060.5" font-size="30" text-anchor="middle"><tspan font-style="italic">ε</tspan> (%)</text>
<text transform="translate(2465.5,760) rotate(-90)" font-size="32.5" text-anchor="middle"><tspan font-style="italic">λ</tspan><tspan font-size="21" dy="7">SM</tspan><tspan dy="-7"> (nm)</tspan></text>
<rect x="2612.2" y="1344.8" width="34" height="96.6" fill="#7ea1dc" stroke="#2a2a30" stroke-width="4.2"/>
<rect x="2646" y="1330.6" width="34" height="110.8" fill="#7ea1dc" stroke="#2a2a30" stroke-width="4.2"/>
<rect x="2679.7" y="1194.2" width="34" height="247.2" fill="#7ea1dc" stroke="#2a2a30" stroke-width="4.2"/>
<rect x="2713.8" y="1263.4" width="34" height="178" fill="#7ea1dc" stroke="#2a2a30" stroke-width="4.2"/>
<rect x="2748.4" y="1330.6" width="34" height="110.8" fill="#7ea1dc" stroke="#2a2a30" stroke-width="4.2"/>
<rect x="2782" y="1372.3" width="34" height="69.1" fill="#7ea1dc" stroke="#2a2a30" stroke-width="4.2"/>
<rect x="2815.8" y="1386.5" width="34" height="54.9" fill="#7ea1dc" stroke="#2a2a30" stroke-width="4.2"/>
<rect x="2850" y="1427.2" width="34" height="14.2" fill="#7ea1dc" stroke="#2a2a30" stroke-width="4.2"/>
<rect x="2883.7" y="1414.9" width="34" height="26.5" fill="#7ea1dc" stroke="#2a2a30" stroke-width="4.2"/>
<rect x="2917.5" y="1399.7" width="34" height="41.7" fill="#7ea1dc" stroke="#2a2a30" stroke-width="4.2"/>
<rect x="2651" y="1355.2" width="34.3" height="86.2" fill="#ee9050" stroke="#2a2220" stroke-width="4.2" fill-opacity="0.8" stroke-opacity="0.85"/>
<rect x="2685.3" y="1413" width="34.3" height="28.4" fill="#ee9050" stroke="#2a2220" stroke-width="4.2" fill-opacity="0.8" stroke-opacity="0.85"/>
<rect x="2719.6" y="1355.2" width="34.3" height="86.2" fill="#ee9050" stroke="#2a2220" stroke-width="4.2" fill-opacity="0.8" stroke-opacity="0.85"/>
<rect x="2753.9" y="1384.6" width="34.3" height="56.8" fill="#ee9050" stroke="#2a2220" stroke-width="4.2" fill-opacity="0.8" stroke-opacity="0.85"/>
<rect x="2788.2" y="1384.6" width="34.3" height="56.8" fill="#ee9050" stroke="#2a2220" stroke-width="4.2" fill-opacity="0.8" stroke-opacity="0.85"/>
<rect x="2822.5" y="1413" width="34.3" height="28.4" fill="#ee9050" stroke="#2a2220" stroke-width="4.2" fill-opacity="0.8" stroke-opacity="0.85"/>
<rect x="2856.8" y="1355.2" width="34.3" height="86.2" fill="#ee9050" stroke="#2a2220" stroke-width="4.2" fill-opacity="0.8" stroke-opacity="0.85"/>
<rect x="2891.1" y="1355.2" width="34.3" height="86.2" fill="#ee9050" stroke="#2a2220" stroke-width="4.2" fill-opacity="0.8" stroke-opacity="0.85"/>
<rect x="2925.4" y="1326.8" width="34.3" height="114.6" fill="#ee9050" stroke="#2a2220" stroke-width="4.2" fill-opacity="0.8" stroke-opacity="0.85"/>
<rect x="2959.7" y="1413" width="34.3" height="28.4" fill="#ee9050" stroke="#2a2220" stroke-width="4.2" fill-opacity="0.8" stroke-opacity="0.85"/>
<rect x="2994" y="1298.4" width="34.3" height="143" fill="#ee9050" stroke="#2a2220" stroke-width="4.2" fill-opacity="0.8" stroke-opacity="0.85"/>
<rect x="3028.3" y="1355.2" width="34.3" height="86.2" fill="#ee9050" stroke="#2a2220" stroke-width="4.2" fill-opacity="0.8" stroke-opacity="0.85"/>
<rect x="3062.6" y="1384.6" width="34.3" height="56.8" fill="#ee9050" stroke="#2a2220" stroke-width="4.2" fill-opacity="0.8" stroke-opacity="0.85"/>
<rect x="2567" y="1110" width="559" height="331" fill="none" stroke="#1a1a1a" stroke-width="2.2"/>
<line x1="2567" y1="1441.4" x2="2579" y2="1441.4" stroke="#000" stroke-width="2" />
<text x="2555" y="1450.4" font-size="25.5" text-anchor="end" textLength="18" lengthAdjust="spacingAndGlyphs">0</text>
<line x1="2567" y1="1346.7" x2="2579" y2="1346.7" stroke="#000" stroke-width="2" />
<text x="2555" y="1355.7" font-size="25.5" text-anchor="end" textLength="34" lengthAdjust="spacingAndGlyphs">10</text>
<line x1="2567" y1="1252" x2="2579" y2="1252" stroke="#000" stroke-width="2" />
<text x="2555" y="1261" font-size="25.5" text-anchor="end" textLength="34" lengthAdjust="spacingAndGlyphs">20</text>
<line x1="2567" y1="1157.3" x2="2579" y2="1157.3" stroke="#000" stroke-width="2" />
<text x="2555" y="1166.3" font-size="25.5" text-anchor="end" textLength="34" lengthAdjust="spacingAndGlyphs">30</text>
<line x1="2591" y1="1441" x2="2591" y2="1429" stroke="#000" stroke-width="2" />
<text x="2591" y="1475.5" font-size="25.5" text-anchor="middle" textLength="61" lengthAdjust="spacingAndGlyphs">0.03</text>
<line x1="2687.8" y1="1441" x2="2687.8" y2="1429" stroke="#000" stroke-width="2" />
<text x="2687.8" y="1475.5" font-size="25.5" text-anchor="middle" textLength="59" lengthAdjust="spacingAndGlyphs">0.07</text>
<line x1="2784.5" y1="1441" x2="2784.5" y2="1429" stroke="#000" stroke-width="2" />
<text x="2784.5" y="1475.5" font-size="25.5" text-anchor="middle" textLength="49.5" lengthAdjust="spacingAndGlyphs">0.11</text>
<line x1="2881.2" y1="1441" x2="2881.2" y2="1429" stroke="#000" stroke-width="2" />
<text x="2881.2" y="1475.5" font-size="25.5" text-anchor="middle" textLength="52.5" lengthAdjust="spacingAndGlyphs">0.15</text>
<line x1="2978" y1="1441" x2="2978" y2="1429" stroke="#000" stroke-width="2" />
<text x="2978" y="1475.5" font-size="25.5" text-anchor="middle" textLength="48.5" lengthAdjust="spacingAndGlyphs">0.19</text>
<line x1="3074.8" y1="1441" x2="3074.8" y2="1429" stroke="#000" stroke-width="2" />
<text x="3074.8" y="1475.5" font-size="25.5" text-anchor="middle" textLength="52.5" lengthAdjust="spacingAndGlyphs">0.23</text>
<line x1="2670.3" y1="1120" x2="2670.3" y2="1441" stroke="#000" stroke-width="2.4" stroke-dasharray="9,6"/>
<text x="2690.5" y="1155.3" font-size="25.5" fill="#6b90d2">Before</text>
<text x="2967" y="1152" font-size="25.5" fill="#f0a06a">After</text>
<text x="2847" y="1524" font-size="30" text-anchor="middle"><tspan font-style="italic">A</tspan><tspan font-size="21" dy="8">exp</tspan><tspan dy="-8"> (μm</tspan><tspan font-size="19" dy="-11">2</tspan><tspan dy="11">)</tspan></text>
<text transform="translate(2494,1276) rotate(-90)" font-size="31" text-anchor="middle" textLength="219" lengthAdjust="spacingAndGlyphs">Percentage (%)</text>
</svg>
</body></html>
